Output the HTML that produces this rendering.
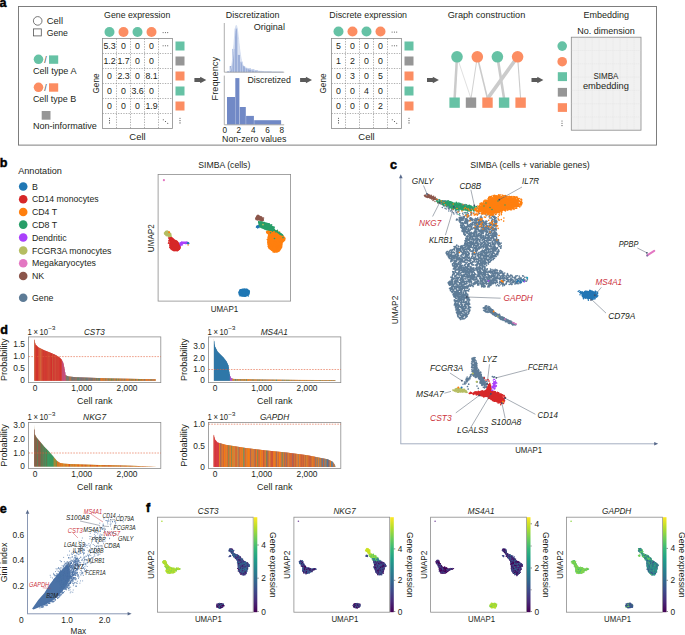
<!DOCTYPE html>
<html><head><meta charset="utf-8"><style>
html,body{margin:0;padding:0;background:#fff;overflow:hidden}
svg{display:block}
text{font-family:"Liberation Sans",sans-serif}
</style></head><body>
<svg width="685" height="635" viewBox="0 0 685 635">
<text x="-0.60" y="6.60" font-size="12.6" fill="#000" font-weight="bold" stroke="#000" stroke-width="0.45">a</text>
<rect x="18.50" y="6.50" width="638.00" height="138.60" fill="none" stroke="#707070" stroke-width="0.9"/>
<circle cx="37.70" cy="20.90" r="4.30" fill="none" stroke="#555" stroke-width="0.8"/>
<text x="46.70" y="23.90" font-size="8.8" fill="#231f20" textLength="16.30" lengthAdjust="spacingAndGlyphs">Cell</text>
<rect x="33.50" y="28.90" width="7.80" height="7.00" fill="none" stroke="#555" stroke-width="0.8"/>
<text x="46.70" y="35.60" font-size="8.8" fill="#231f20" textLength="21.20" lengthAdjust="spacingAndGlyphs">Gene</text>
<circle cx="38.50" cy="59.30" r="4.80" fill="#66c2a5"/>
<text x="44.30" y="62.80" font-size="8.8" fill="#444">/</text>
<rect x="49.00" y="55.40" width="9.20" height="8.40" fill="#66c2a5"/>
<text x="32.90" y="74.20" font-size="8.8" fill="#231f20" textLength="43.60" lengthAdjust="spacingAndGlyphs">Cell type A</text>
<circle cx="38.50" cy="87.30" r="4.80" fill="#fc8d62"/>
<text x="44.30" y="90.80" font-size="8.8" fill="#444">/</text>
<rect x="49.00" y="83.30" width="9.20" height="8.40" fill="#fc8d62"/>
<text x="32.90" y="101.70" font-size="8.8" fill="#231f20" textLength="43.40" lengthAdjust="spacingAndGlyphs">Cell type B</text>
<rect x="41.70" y="111.00" width="8.80" height="8.70" fill="#969696"/>
<text x="32.90" y="128.50" font-size="8.8" fill="#231f20" textLength="64.00" lengthAdjust="spacingAndGlyphs">Non-informative</text>
<text x="104.10" y="17.80" font-size="8.8" fill="#231f20" textLength="66.20" lengthAdjust="spacingAndGlyphs">Gene expression</text>
<circle cx="109.50" cy="32.00" r="5.00" fill="#66c2a5"/>
<circle cx="123.50" cy="32.00" r="5.00" fill="#fc8d62"/>
<circle cx="137.50" cy="32.00" r="5.00" fill="#66c2a5"/>
<circle cx="151.50" cy="32.00" r="5.00" fill="#fc8d62"/>
<circle cx="163.10" cy="32.60" r="0.55" fill="#555"/>
<circle cx="165.40" cy="32.60" r="0.55" fill="#555"/>
<circle cx="167.70" cy="32.60" r="0.55" fill="#555"/>
<line x1="116.50" y1="38.50" x2="116.50" y2="128.50" stroke="#7a7a7a" stroke-width="0.6" stroke-dasharray="1.3 1.3"/>
<line x1="130.50" y1="38.50" x2="130.50" y2="128.50" stroke="#7a7a7a" stroke-width="0.6" stroke-dasharray="1.3 1.3"/>
<line x1="144.50" y1="38.50" x2="144.50" y2="128.50" stroke="#7a7a7a" stroke-width="0.6" stroke-dasharray="1.3 1.3"/>
<line x1="158.50" y1="38.50" x2="158.50" y2="128.50" stroke="#7a7a7a" stroke-width="0.6" stroke-dasharray="1.3 1.3"/>
<line x1="102.50" y1="53.50" x2="172.50" y2="53.50" stroke="#7a7a7a" stroke-width="0.6" stroke-dasharray="1.3 1.3"/>
<line x1="102.50" y1="68.50" x2="172.50" y2="68.50" stroke="#7a7a7a" stroke-width="0.6" stroke-dasharray="1.3 1.3"/>
<line x1="102.50" y1="83.50" x2="172.50" y2="83.50" stroke="#7a7a7a" stroke-width="0.6" stroke-dasharray="1.3 1.3"/>
<line x1="102.50" y1="98.50" x2="172.50" y2="98.50" stroke="#7a7a7a" stroke-width="0.6" stroke-dasharray="1.3 1.3"/>
<line x1="102.50" y1="113.50" x2="172.50" y2="113.50" stroke="#7a7a7a" stroke-width="0.6" stroke-dasharray="1.3 1.3"/>
<rect x="102.50" y="38.50" width="70.00" height="90.00" fill="none" stroke="#8a8a8a" stroke-width="0.8"/>
<text x="109.50" y="49.30" font-size="8.8" text-anchor="middle" fill="#231f20">5.3</text>
<text x="123.50" y="49.30" font-size="8.8" text-anchor="middle" fill="#231f20">0</text>
<text x="137.50" y="49.30" font-size="8.8" text-anchor="middle" fill="#231f20">0</text>
<text x="151.50" y="49.30" font-size="8.8" text-anchor="middle" fill="#231f20">0</text>
<circle cx="163.10" cy="45.80" r="0.55" fill="#444"/>
<circle cx="165.40" cy="45.80" r="0.55" fill="#444"/>
<circle cx="167.70" cy="45.80" r="0.55" fill="#444"/>
<text x="109.50" y="64.30" font-size="8.8" text-anchor="middle" fill="#231f20">1.2</text>
<text x="123.50" y="64.30" font-size="8.8" text-anchor="middle" fill="#231f20">1.7</text>
<text x="137.50" y="64.30" font-size="8.8" text-anchor="middle" fill="#231f20">0</text>
<text x="151.50" y="64.30" font-size="8.8" text-anchor="middle" fill="#231f20">0</text>
<text x="109.50" y="79.30" font-size="8.8" text-anchor="middle" fill="#231f20">0</text>
<text x="123.50" y="79.30" font-size="8.8" text-anchor="middle" fill="#231f20">2.3</text>
<text x="137.50" y="79.30" font-size="8.8" text-anchor="middle" fill="#231f20">0</text>
<text x="151.50" y="79.30" font-size="8.8" text-anchor="middle" fill="#231f20">8.1</text>
<text x="109.50" y="94.30" font-size="8.8" text-anchor="middle" fill="#231f20">0</text>
<text x="123.50" y="94.30" font-size="8.8" text-anchor="middle" fill="#231f20">0</text>
<text x="137.50" y="94.30" font-size="8.8" text-anchor="middle" fill="#231f20">3.6</text>
<text x="151.50" y="94.30" font-size="8.8" text-anchor="middle" fill="#231f20">0</text>
<text x="109.50" y="109.30" font-size="8.8" text-anchor="middle" fill="#231f20">0</text>
<text x="123.50" y="109.30" font-size="8.8" text-anchor="middle" fill="#231f20">0</text>
<text x="137.50" y="109.30" font-size="8.8" text-anchor="middle" fill="#231f20">0</text>
<text x="151.50" y="109.30" font-size="8.8" text-anchor="middle" fill="#231f20">1.9</text>
<circle cx="109.50" cy="118.30" r="0.55" fill="#444"/>
<circle cx="163.30" cy="119.70" r="0.55" fill="#444"/>
<circle cx="109.50" cy="120.60" r="0.55" fill="#444"/>
<circle cx="165.50" cy="121.50" r="0.55" fill="#444"/>
<circle cx="109.50" cy="122.90" r="0.55" fill="#444"/>
<circle cx="167.70" cy="123.30" r="0.55" fill="#444"/>
<rect x="175.50" y="41.50" width="9.00" height="9.00" fill="#66c2a5"/>
<rect x="175.50" y="56.50" width="9.00" height="9.00" fill="#969696"/>
<rect x="175.50" y="71.50" width="9.00" height="9.00" fill="#fc8d62"/>
<rect x="175.50" y="86.50" width="9.00" height="9.00" fill="#66c2a5"/>
<rect x="175.50" y="101.50" width="9.00" height="9.00" fill="#fc8d62"/>
<circle cx="180.00" cy="118.30" r="0.55" fill="#444"/>
<circle cx="180.00" cy="120.60" r="0.55" fill="#444"/>
<circle cx="180.00" cy="122.90" r="0.55" fill="#444"/>
<text x="98.60" y="83.50" font-size="8.8" text-anchor="middle" fill="#231f20" textLength="20.00" lengthAdjust="spacingAndGlyphs" transform="rotate(-90 98.60 83.50)">Gene</text>
<text x="137.50" y="139.80" font-size="8.8" text-anchor="middle" fill="#231f20" textLength="16.30" lengthAdjust="spacingAndGlyphs">Cell</text>
<text x="329.30" y="17.80" font-size="8.8" fill="#231f20" textLength="77.70" lengthAdjust="spacingAndGlyphs">Discrete expression</text>
<circle cx="338.50" cy="31.50" r="5.00" fill="#66c2a5"/>
<circle cx="352.50" cy="31.50" r="5.00" fill="#fc8d62"/>
<circle cx="366.50" cy="31.50" r="5.00" fill="#66c2a5"/>
<circle cx="380.50" cy="31.50" r="5.00" fill="#fc8d62"/>
<circle cx="392.10" cy="32.10" r="0.55" fill="#555"/>
<circle cx="394.40" cy="32.10" r="0.55" fill="#555"/>
<circle cx="396.70" cy="32.10" r="0.55" fill="#555"/>
<line x1="345.50" y1="38.50" x2="345.50" y2="128.50" stroke="#7a7a7a" stroke-width="0.6" stroke-dasharray="1.3 1.3"/>
<line x1="359.50" y1="38.50" x2="359.50" y2="128.50" stroke="#7a7a7a" stroke-width="0.6" stroke-dasharray="1.3 1.3"/>
<line x1="373.50" y1="38.50" x2="373.50" y2="128.50" stroke="#7a7a7a" stroke-width="0.6" stroke-dasharray="1.3 1.3"/>
<line x1="387.50" y1="38.50" x2="387.50" y2="128.50" stroke="#7a7a7a" stroke-width="0.6" stroke-dasharray="1.3 1.3"/>
<line x1="331.50" y1="53.50" x2="401.50" y2="53.50" stroke="#7a7a7a" stroke-width="0.6" stroke-dasharray="1.3 1.3"/>
<line x1="331.50" y1="68.50" x2="401.50" y2="68.50" stroke="#7a7a7a" stroke-width="0.6" stroke-dasharray="1.3 1.3"/>
<line x1="331.50" y1="83.50" x2="401.50" y2="83.50" stroke="#7a7a7a" stroke-width="0.6" stroke-dasharray="1.3 1.3"/>
<line x1="331.50" y1="98.50" x2="401.50" y2="98.50" stroke="#7a7a7a" stroke-width="0.6" stroke-dasharray="1.3 1.3"/>
<line x1="331.50" y1="113.50" x2="401.50" y2="113.50" stroke="#7a7a7a" stroke-width="0.6" stroke-dasharray="1.3 1.3"/>
<rect x="331.50" y="38.50" width="70.00" height="90.00" fill="none" stroke="#8a8a8a" stroke-width="0.8"/>
<text x="338.50" y="49.30" font-size="8.8" text-anchor="middle" fill="#231f20">5</text>
<text x="352.50" y="49.30" font-size="8.8" text-anchor="middle" fill="#231f20">0</text>
<text x="366.50" y="49.30" font-size="8.8" text-anchor="middle" fill="#231f20">0</text>
<text x="380.50" y="49.30" font-size="8.8" text-anchor="middle" fill="#231f20">0</text>
<circle cx="392.10" cy="45.80" r="0.55" fill="#444"/>
<circle cx="394.40" cy="45.80" r="0.55" fill="#444"/>
<circle cx="396.70" cy="45.80" r="0.55" fill="#444"/>
<text x="338.50" y="64.30" font-size="8.8" text-anchor="middle" fill="#231f20">1</text>
<text x="352.50" y="64.30" font-size="8.8" text-anchor="middle" fill="#231f20">2</text>
<text x="366.50" y="64.30" font-size="8.8" text-anchor="middle" fill="#231f20">0</text>
<text x="380.50" y="64.30" font-size="8.8" text-anchor="middle" fill="#231f20">0</text>
<text x="338.50" y="79.30" font-size="8.8" text-anchor="middle" fill="#231f20">0</text>
<text x="352.50" y="79.30" font-size="8.8" text-anchor="middle" fill="#231f20">3</text>
<text x="366.50" y="79.30" font-size="8.8" text-anchor="middle" fill="#231f20">0</text>
<text x="380.50" y="79.30" font-size="8.8" text-anchor="middle" fill="#231f20">5</text>
<text x="338.50" y="94.30" font-size="8.8" text-anchor="middle" fill="#231f20">0</text>
<text x="352.50" y="94.30" font-size="8.8" text-anchor="middle" fill="#231f20">0</text>
<text x="366.50" y="94.30" font-size="8.8" text-anchor="middle" fill="#231f20">4</text>
<text x="380.50" y="94.30" font-size="8.8" text-anchor="middle" fill="#231f20">0</text>
<text x="338.50" y="109.30" font-size="8.8" text-anchor="middle" fill="#231f20">0</text>
<text x="352.50" y="109.30" font-size="8.8" text-anchor="middle" fill="#231f20">0</text>
<text x="366.50" y="109.30" font-size="8.8" text-anchor="middle" fill="#231f20">0</text>
<text x="380.50" y="109.30" font-size="8.8" text-anchor="middle" fill="#231f20">2</text>
<circle cx="338.50" cy="118.30" r="0.55" fill="#444"/>
<circle cx="392.30" cy="119.70" r="0.55" fill="#444"/>
<circle cx="338.50" cy="120.60" r="0.55" fill="#444"/>
<circle cx="394.50" cy="121.50" r="0.55" fill="#444"/>
<circle cx="338.50" cy="122.90" r="0.55" fill="#444"/>
<circle cx="396.70" cy="123.30" r="0.55" fill="#444"/>
<rect x="404.50" y="41.50" width="9.00" height="9.00" fill="#66c2a5"/>
<rect x="404.50" y="56.50" width="9.00" height="9.00" fill="#969696"/>
<rect x="404.50" y="71.50" width="9.00" height="9.00" fill="#fc8d62"/>
<rect x="404.50" y="86.50" width="9.00" height="9.00" fill="#66c2a5"/>
<rect x="404.50" y="101.50" width="9.00" height="9.00" fill="#fc8d62"/>
<circle cx="409.00" cy="118.30" r="0.55" fill="#444"/>
<circle cx="409.00" cy="120.60" r="0.55" fill="#444"/>
<circle cx="409.00" cy="122.90" r="0.55" fill="#444"/>
<text x="325.80" y="83.50" font-size="8.8" text-anchor="middle" fill="#231f20" textLength="20.00" lengthAdjust="spacingAndGlyphs" transform="rotate(-90 325.80 83.50)">Gene</text>
<text x="366.50" y="139.80" font-size="8.8" text-anchor="middle" fill="#231f20" textLength="16.30" lengthAdjust="spacingAndGlyphs">Cell</text>
<polygon points="194.4,78.0 200.2,78.0 200.2,76.7 206.3,80.0 200.2,83.3 200.2,82.0 194.4,82.0" fill="#5a5a5a"/>
<polygon points="300.1,78.0 305.9,78.0 305.9,76.7 312.0,80.0 305.9,83.3 305.9,82.0 300.1,82.0" fill="#5a5a5a"/>
<polygon points="427.0,78.0 432.8,78.0 432.8,76.7 438.9,80.0 432.8,83.3 432.8,82.0 427.0,82.0" fill="#5a5a5a"/>
<polygon points="531.5,78.0 537.3,78.0 537.3,76.7 543.4,80.0 537.3,83.3 537.3,82.0 531.5,82.0" fill="#5a5a5a"/>
<text x="225.80" y="17.80" font-size="8.8" fill="#231f20" textLength="53.70" lengthAdjust="spacingAndGlyphs">Discretization</text>
<text x="218.00" y="78.70" font-size="8.8" text-anchor="middle" fill="#231f20" textLength="43.40" lengthAdjust="spacingAndGlyphs" transform="rotate(-90 218.00 78.70)">Frequency</text>
<polygon points="226.5,72.2 226.5,72.2 226.9,72.2 227.2,72.2 227.6,72.2 227.9,72.1 228.3,72.1 228.6,72.0 229.0,71.9 229.3,71.6 229.7,71.3 230.1,70.9 230.4,70.3 230.8,69.4 231.1,68.2 231.5,66.7 231.8,64.7 232.2,62.3 232.5,59.4 232.9,56.0 233.3,52.2 233.6,48.1 234.0,43.7 234.3,39.4 234.7,35.3 235.0,31.7 235.4,28.7 235.7,26.5 236.1,25.4 236.4,25.5 236.8,26.6 237.2,28.3 237.5,30.5 237.9,33.2 238.2,36.2 238.6,39.3 238.9,42.6 239.3,45.8 239.6,48.9 240.0,51.7 240.4,54.3 240.7,56.6 241.1,58.6 241.4,60.3 241.8,61.7 242.1,62.9 242.5,63.8 242.8,64.6 243.2,65.2 243.6,65.7 243.9,66.2 244.3,66.5 244.6,66.8 245.0,67.1 245.3,67.3 245.7,67.5 246.0,67.7 246.4,67.9 246.8,68.1 247.1,68.2 247.5,68.4 247.8,68.5 248.2,68.7 248.5,68.8 248.9,68.9 249.2,69.1 249.6,69.2 250.0,69.3 250.3,69.4 250.7,69.5 251.0,69.6 251.4,69.7 251.7,69.8 252.1,69.9 252.4,70.0 252.8,70.1 253.2,70.2 253.5,70.3 253.9,70.3 254.2,70.4 254.6,70.5 254.9,70.5 255.3,70.6 255.6,70.7 256.0,70.7 256.3,70.8 256.7,70.8 257.1,70.9 257.4,70.9 257.8,71.0 258.1,71.0 258.5,71.1 258.8,71.1 259.2,71.2 259.5,71.2 259.9,71.2 260.3,71.3 260.6,71.3 261.0,71.4 261.3,71.4 261.7,71.4 262.0,71.4 262.4,71.5 262.7,71.5 263.1,71.5 263.5,71.6 263.8,71.6 264.2,71.6 264.5,71.6 264.9,71.7 265.2,71.7 265.6,71.7 265.9,71.7 266.3,71.7 266.7,71.7 267.0,71.8 267.4,71.8 267.7,71.8 268.1,71.8 268.4,71.8 268.8,71.8 269.1,71.9 269.5,71.9 269.9,71.9 270.2,71.9 270.6,71.9 270.9,71.9 271.3,71.9 271.6,71.9 272.0,72.0 272.3,72.0 272.7,72.0 273.1,72.0 273.4,72.0 273.8,72.0 274.1,72.0 274.5,72.0 274.8,72.0 275.2,72.0 275.5,72.0 275.9,72.0 276.2,72.0 276.6,72.1 277.0,72.1 277.3,72.1 277.7,72.1 278.0,72.1 278.4,72.1 278.7,72.1 279.1,72.1 279.4,72.1 279.8,72.1 280.2,72.1 280.5,72.1 280.9,72.1 281.2,72.1 281.6,72.1 281.9,72.1 282.3,72.1 282.6,72.1 283.0,72.1 283.0,72.2" fill="#dde4f3"/>
<rect x="227.20" y="71.10" width="2.10" height="1.10" fill="#9cafd9"/>
<rect x="229.70" y="66.00" width="2.20" height="6.20" fill="#9cafd9"/>
<rect x="232.30" y="48.90" width="2.10" height="23.30" fill="#9cafd9"/>
<rect x="234.80" y="28.50" width="2.60" height="43.70" fill="#9cafd9"/>
<rect x="237.80" y="54.90" width="2.20" height="17.30" fill="#9cafd9"/>
<rect x="240.40" y="61.70" width="2.10" height="10.50" fill="#9cafd9"/>
<rect x="242.90" y="66.00" width="2.20" height="6.20" fill="#9cafd9"/>
<rect x="245.50" y="68.10" width="2.10" height="4.10" fill="#9cafd9"/>
<rect x="248.00" y="68.50" width="3.00" height="3.70" fill="#9cafd9"/>
<rect x="251.40" y="69.40" width="3.00" height="2.80" fill="#9cafd9"/>
<rect x="254.80" y="70.20" width="3.00" height="2.00" fill="#9cafd9"/>
<rect x="258.20" y="71.10" width="5.60" height="1.10" fill="#9cafd9"/>
<rect x="264.20" y="71.50" width="7.60" height="0.70" fill="#9cafd9"/>
<rect x="272.20" y="71.80" width="10.60" height="0.40" fill="#9cafd9"/>
<polyline points="226.5,72.2 226.9,72.2 227.2,72.2 227.6,72.2 227.9,72.1 228.3,72.1 228.6,72.0 229.0,71.9 229.3,71.6 229.7,71.3 230.1,70.9 230.4,70.3 230.8,69.4 231.1,68.2 231.5,66.7 231.8,64.7 232.2,62.3 232.5,59.4 232.9,56.0 233.3,52.2 233.6,48.1 234.0,43.7 234.3,39.4 234.7,35.3 235.0,31.7 235.4,28.7 235.7,26.5 236.1,25.4 236.4,25.5 236.8,26.6 237.2,28.3 237.5,30.5 237.9,33.2 238.2,36.2 238.6,39.3 238.9,42.6 239.3,45.8 239.6,48.9 240.0,51.7 240.4,54.3 240.7,56.6 241.1,58.6 241.4,60.3 241.8,61.7 242.1,62.9 242.5,63.8 242.8,64.6 243.2,65.2 243.6,65.7 243.9,66.2 244.3,66.5 244.6,66.8 245.0,67.1 245.3,67.3 245.7,67.5 246.0,67.7 246.4,67.9 246.8,68.1 247.1,68.2 247.5,68.4 247.8,68.5 248.2,68.7 248.5,68.8 248.9,68.9 249.2,69.1 249.6,69.2 250.0,69.3 250.3,69.4 250.7,69.5 251.0,69.6 251.4,69.7 251.7,69.8 252.1,69.9 252.4,70.0 252.8,70.1 253.2,70.2 253.5,70.3 253.9,70.3 254.2,70.4 254.6,70.5 254.9,70.5 255.3,70.6 255.6,70.7 256.0,70.7 256.3,70.8 256.7,70.8 257.1,70.9 257.4,70.9 257.8,71.0 258.1,71.0 258.5,71.1 258.8,71.1 259.2,71.2 259.5,71.2 259.9,71.2 260.3,71.3 260.6,71.3 261.0,71.4 261.3,71.4 261.7,71.4 262.0,71.4 262.4,71.5 262.7,71.5 263.1,71.5 263.5,71.6 263.8,71.6 264.2,71.6 264.5,71.6 264.9,71.7 265.2,71.7 265.6,71.7 265.9,71.7 266.3,71.7 266.7,71.7 267.0,71.8 267.4,71.8 267.7,71.8 268.1,71.8 268.4,71.8 268.8,71.8 269.1,71.9 269.5,71.9 269.9,71.9 270.2,71.9 270.6,71.9 270.9,71.9 271.3,71.9 271.6,71.9 272.0,72.0 272.3,72.0 272.7,72.0 273.1,72.0 273.4,72.0 273.8,72.0 274.1,72.0 274.5,72.0 274.8,72.0 275.2,72.0 275.5,72.0 275.9,72.0 276.2,72.0 276.6,72.1 277.0,72.1 277.3,72.1 277.7,72.1 278.0,72.1 278.4,72.1 278.7,72.1 279.1,72.1 279.4,72.1 279.8,72.1 280.2,72.1 280.5,72.1 280.9,72.1 281.2,72.1 281.6,72.1 281.9,72.1 282.3,72.1 282.6,72.1 283.0,72.1" fill="none" stroke="#d3dcf0" stroke-width="0.9"/>
<line x1="224.30" y1="23.00" x2="224.30" y2="72.20" stroke="#9a9a9a" stroke-width="0.8"/>
<line x1="224.30" y1="72.20" x2="284.20" y2="72.20" stroke="#9a9a9a" stroke-width="0.8"/>
<text x="284.90" y="30.30" font-size="8.8" text-anchor="end" fill="#231f20" textLength="31.20" lengthAdjust="spacingAndGlyphs">Original</text>
<rect x="227.00" y="97.00" width="8.10" height="27.60" fill="#7189c6"/>
<rect x="235.30" y="78.10" width="4.10" height="46.50" fill="#7189c6"/>
<rect x="239.70" y="107.00" width="6.10" height="17.60" fill="#7189c6"/>
<rect x="246.10" y="115.90" width="7.80" height="8.70" fill="#7189c6"/>
<rect x="254.20" y="120.20" width="26.90" height="4.40" fill="#7189c6"/>
<line x1="224.30" y1="75.60" x2="224.30" y2="124.80" stroke="#9a9a9a" stroke-width="0.8"/>
<line x1="224.30" y1="124.80" x2="284.20" y2="124.80" stroke="#9a9a9a" stroke-width="0.8"/>
<text x="290.90" y="82.70" font-size="8.8" text-anchor="end" fill="#231f20" textLength="43.50" lengthAdjust="spacingAndGlyphs">Discretized</text>
<text x="224.90" y="132.90" font-size="8.2" text-anchor="middle" fill="#231f20">0</text>
<text x="238.90" y="132.90" font-size="8.2" text-anchor="middle" fill="#231f20">2</text>
<text x="253.40" y="132.90" font-size="8.2" text-anchor="middle" fill="#231f20">4</text>
<text x="267.60" y="132.90" font-size="8.2" text-anchor="middle" fill="#231f20">6</text>
<text x="281.80" y="132.90" font-size="8.2" text-anchor="middle" fill="#231f20">8</text>
<text x="222.00" y="141.50" font-size="8.8" fill="#231f20" textLength="64.30" lengthAdjust="spacingAndGlyphs">Non-zero values</text>
<text x="447.70" y="17.80" font-size="8.8" fill="#231f20" textLength="77.60" lengthAdjust="spacingAndGlyphs">Graph construction</text>
<line x1="457.00" y1="56.80" x2="454.60" y2="98.60" stroke="#cbcbcb" stroke-width="2.5"/>
<line x1="457.00" y1="56.80" x2="471.00" y2="98.60" stroke="#cbcbcb" stroke-width="0.6"/>
<line x1="477.30" y1="56.80" x2="471.00" y2="98.60" stroke="#cbcbcb" stroke-width="0.9"/>
<line x1="477.30" y1="56.80" x2="487.50" y2="98.60" stroke="#cbcbcb" stroke-width="1.6"/>
<line x1="497.40" y1="56.80" x2="504.10" y2="98.60" stroke="#cbcbcb" stroke-width="2.6"/>
<line x1="517.60" y1="56.80" x2="487.50" y2="98.60" stroke="#cbcbcb" stroke-width="3.6"/>
<line x1="517.60" y1="56.80" x2="520.60" y2="98.60" stroke="#cbcbcb" stroke-width="1.1"/>
<circle cx="457.00" cy="56.80" r="5.80" fill="#66c2a5"/>
<circle cx="477.30" cy="56.80" r="5.80" fill="#fc8d62"/>
<circle cx="497.40" cy="56.80" r="5.80" fill="#66c2a5"/>
<circle cx="517.60" cy="56.80" r="5.80" fill="#fc8d62"/>
<rect x="449.40" y="97.50" width="10.40" height="10.30" fill="#66c2a5"/>
<rect x="465.80" y="97.50" width="10.40" height="10.30" fill="#969696"/>
<rect x="482.30" y="97.50" width="10.40" height="10.30" fill="#fc8d62"/>
<rect x="498.90" y="97.50" width="10.40" height="10.30" fill="#66c2a5"/>
<rect x="515.40" y="97.50" width="10.40" height="10.30" fill="#fc8d62"/>
<text x="583.40" y="17.80" font-size="8.8" fill="#231f20" textLength="45.60" lengthAdjust="spacingAndGlyphs">Embedding</text>
<text x="577.20" y="34.30" font-size="8.8" fill="#231f20" textLength="57.60" lengthAdjust="spacingAndGlyphs">No. dimension</text>
<rect x="571.30" y="37.20" width="69.70" height="93.00" fill="#f1f1f1" stroke="#8a8a8a" stroke-width="0.8"/>
<line x1="578.27" y1="37.60" x2="578.27" y2="129.80" stroke="#dcdcdc" stroke-width="0.4" stroke-dasharray="1 1"/>
<line x1="585.24" y1="37.60" x2="585.24" y2="129.80" stroke="#dcdcdc" stroke-width="0.4" stroke-dasharray="1 1"/>
<line x1="592.21" y1="37.60" x2="592.21" y2="129.80" stroke="#dcdcdc" stroke-width="0.4" stroke-dasharray="1 1"/>
<line x1="599.18" y1="37.60" x2="599.18" y2="129.80" stroke="#dcdcdc" stroke-width="0.4" stroke-dasharray="1 1"/>
<line x1="606.15" y1="37.60" x2="606.15" y2="129.80" stroke="#dcdcdc" stroke-width="0.4" stroke-dasharray="1 1"/>
<line x1="613.12" y1="37.60" x2="613.12" y2="129.80" stroke="#dcdcdc" stroke-width="0.4" stroke-dasharray="1 1"/>
<line x1="620.09" y1="37.60" x2="620.09" y2="129.80" stroke="#dcdcdc" stroke-width="0.4" stroke-dasharray="1 1"/>
<line x1="627.06" y1="37.60" x2="627.06" y2="129.80" stroke="#dcdcdc" stroke-width="0.4" stroke-dasharray="1 1"/>
<line x1="634.03" y1="37.60" x2="634.03" y2="129.80" stroke="#dcdcdc" stroke-width="0.4" stroke-dasharray="1 1"/>
<line x1="571.70" y1="50.49" x2="640.60" y2="50.49" stroke="#dcdcdc" stroke-width="0.4" stroke-dasharray="1 1"/>
<line x1="571.70" y1="63.77" x2="640.60" y2="63.77" stroke="#dcdcdc" stroke-width="0.4" stroke-dasharray="1 1"/>
<line x1="571.70" y1="77.06" x2="640.60" y2="77.06" stroke="#dcdcdc" stroke-width="0.4" stroke-dasharray="1 1"/>
<line x1="571.70" y1="90.34" x2="640.60" y2="90.34" stroke="#dcdcdc" stroke-width="0.4" stroke-dasharray="1 1"/>
<line x1="571.70" y1="103.63" x2="640.60" y2="103.63" stroke="#dcdcdc" stroke-width="0.4" stroke-dasharray="1 1"/>
<line x1="571.70" y1="116.91" x2="640.60" y2="116.91" stroke="#dcdcdc" stroke-width="0.4" stroke-dasharray="1 1"/>
<text x="605.90" y="78.80" font-size="8.8" text-anchor="middle" fill="#231f20" textLength="25.00" lengthAdjust="spacingAndGlyphs">SIMBA</text>
<text x="605.90" y="89.30" font-size="8.8" text-anchor="middle" fill="#231f20" textLength="46.00" lengthAdjust="spacingAndGlyphs">embedding</text>
<circle cx="562.20" cy="46.10" r="4.80" fill="#66c2a5"/>
<circle cx="562.20" cy="61.70" r="4.80" fill="#fc8d62"/>
<rect x="557.80" y="72.20" width="9.20" height="8.90" fill="#66c2a5"/>
<rect x="557.80" y="87.90" width="9.20" height="8.70" fill="#969696"/>
<rect x="557.80" y="103.20" width="9.20" height="8.70" fill="#fc8d62"/>
<circle cx="562.00" cy="121.00" r="0.55" fill="#444"/>
<circle cx="562.00" cy="123.30" r="0.55" fill="#444"/>
<circle cx="562.00" cy="125.60" r="0.55" fill="#444"/>
<text x="-0.30" y="166.70" font-size="12.6" fill="#000" font-weight="bold" stroke="#000" stroke-width="0.45">b</text>
<text x="18.20" y="173.70" font-size="8.8" fill="#231f20" textLength="43.70" lengthAdjust="spacingAndGlyphs">Annotation</text>
<circle cx="23.20" cy="186.50" r="4.30" fill="#1f77b4"/>
<text x="31.90" y="189.70" font-size="8.8" fill="#231f20">B</text>
<circle cx="23.20" cy="199.20" r="4.30" fill="#d62728"/>
<text x="31.90" y="202.40" font-size="8.8" fill="#231f20" textLength="66.80" lengthAdjust="spacingAndGlyphs">CD14 monocytes</text>
<circle cx="23.20" cy="212.00" r="4.30" fill="#ff7f0e"/>
<text x="31.90" y="215.20" font-size="8.8" fill="#231f20">CD4 T</text>
<circle cx="23.20" cy="224.60" r="4.30" fill="#279e68"/>
<text x="31.90" y="227.80" font-size="8.8" fill="#231f20">CD8 T</text>
<circle cx="23.20" cy="237.50" r="4.30" fill="#aa40fc"/>
<text x="31.90" y="240.70" font-size="8.8" fill="#231f20">Dendritic</text>
<circle cx="23.20" cy="250.50" r="4.30" fill="#b5bd61"/>
<text x="31.90" y="253.70" font-size="8.8" fill="#231f20" textLength="79.60" lengthAdjust="spacingAndGlyphs">FCGR3A monocytes</text>
<circle cx="23.20" cy="263.20" r="4.30" fill="#e377c2"/>
<text x="31.90" y="266.40" font-size="8.8" fill="#231f20">Megakaryocytes</text>
<circle cx="23.20" cy="276.00" r="4.30" fill="#8c564b"/>
<text x="31.90" y="279.20" font-size="8.8" fill="#231f20">NK</text>
<circle cx="23.20" cy="297.70" r="4.30" fill="#5d7b96"/>
<text x="31.90" y="300.90" font-size="8.8" fill="#231f20">Gene</text>
<rect x="158.10" y="174.40" width="132.50" height="126.70" fill="none" stroke="#8c8c8c" stroke-width="0.8"/>
<text x="224.30" y="167.60" font-size="8.8" text-anchor="middle" fill="#231f20" textLength="52.10" lengthAdjust="spacingAndGlyphs">SIMBA (cells)</text>
<text x="153.90" y="238.20" font-size="8.8" text-anchor="middle" fill="#231f20" textLength="28.00" lengthAdjust="spacingAndGlyphs" transform="rotate(-90 153.90 238.20)">UMAP2</text>
<text x="224.40" y="312.30" font-size="8.8" text-anchor="middle" fill="#231f20" textLength="27.50" lengthAdjust="spacingAndGlyphs">UMAP1</text>
<circle cx="163.90" cy="180.20" r="1.10" fill="#e377c2"/>
<polygon points="163.6,233.0 165.5,230.8 167.2,230.3 169.6,231.4 171.0,233.6 171.9,236.3 171.0,238.0 168.8,237.4 166.6,235.8 164.4,234.7" fill="#b5bd61"/>
<path d="M168.8 236.5h0M170.9 237.4h0M170.0 237.1h0M165.3 234.1h0M165.8 232.1h0M170.1 234.1h0M166.3 235.8h0M165.3 234.6h0M165.5 232.5h0M167.6 233.5h0M167.8 231.8h0M170.4 233.7h0M168.7 234.1h0M168.2 233.7h0M167.3 235.5h0M168.8 234.2h0M167.5 233.2h0M165.5 234.8h0M165.2 233.5h0M169.6 234.5h0M170.3 236.9h0M171.3 236.9h0M167.8 231.6h0M170.9 233.9h0M169.3 236.4h0" stroke="#b5bd61" stroke-width="1.4" stroke-linecap="round" fill="none"/>
<circle cx="169.10" cy="232.20" r="1.00" fill="#ff7f0e"/>
<polygon points="167.7,237.4 170.5,236.9 172.7,237.4 174.9,239.6 177.6,241.0 179.3,242.9 180.9,245.7 180.7,248.5 178.7,250.7 175.4,251.2 172.1,250.7 169.9,248.5 169.1,245.7 169.4,242.4 168.8,239.6" fill="#d62728"/>
<path d="M169.8 243.5h0M178.1 249.8h0M171.0 240.9h0M171.5 244.9h0M168.8 240.8h0M175.4 243.9h0M178.8 246.2h0M171.7 244.2h0M177.5 248.1h0M170.3 238.5h0M175.2 250.5h0M176.1 250.3h0M176.3 240.9h0M176.0 243.8h0M178.5 243.8h0M178.0 250.0h0M171.6 237.7h0M177.2 241.5h0M179.1 245.2h0M169.5 240.2h0M176.1 249.6h0M170.5 247.2h0M175.2 248.2h0M179.9 247.7h0M171.9 247.1h0M171.1 249.0h0M173.6 246.5h0M176.0 247.3h0M172.5 239.3h0M178.2 250.1h0M172.7 245.4h0M172.4 241.8h0M174.2 250.5h0M170.6 239.2h0M171.1 244.0h0M172.0 238.5h0M173.9 250.8h0M177.0 248.6h0M175.8 241.3h0M171.7 247.7h0M178.2 246.0h0M168.4 243.2h0M168.8 242.3h0M179.4 249.4h0M171.1 241.8h0M172.4 247.1h0M175.8 244.7h0M169.7 247.6h0M179.5 247.5h0M177.1 251.0h0" stroke="#d62728" stroke-width="1.4" stroke-linecap="round" fill="none"/>
<polygon points="179.3,242.4 182.0,241.6 186.5,241.6 188.7,242.4 188.7,243.8 186.5,244.0 183.2,244.0 181.5,245.7 180.1,245.7 179.3,244.0" fill="#aa40fc"/>
<path d="M180.6 245.8h0M180.9 244.7h0M181.8 242.3h0M187.6 243.2h0M181.9 243.2h0M185.6 243.3h0M187.6 242.1h0M182.7 242.7h0M187.7 242.9h0M181.6 243.0h0M181.5 242.2h0M186.7 242.3h0M185.9 243.8h0M181.1 243.2h0M182.5 244.9h0" stroke="#aa40fc" stroke-width="1.4" stroke-linecap="round" fill="none"/>
<circle cx="188.10" cy="243.20" r="1.30" fill="#1f77b4"/>
<circle cx="188.10" cy="245.00" r="0.70" fill="#ff7f0e"/>
<polygon points="255.4,218.9 256.3,215.4 258.4,214.7 261.0,216.3 263.6,218.0 264.1,220.6 262.3,221.5 258.9,220.6 255.8,220.2" fill="#8c564b"/>
<path d="M257.6 219.8h0M257.9 215.2h0M262.6 220.5h0M258.6 216.5h0M255.8 218.8h0M259.2 218.2h0M259.8 217.0h0M261.3 218.4h0M259.3 219.6h0M255.9 219.1h0M262.3 220.4h0M256.4 217.1h0M262.7 219.8h0M261.7 221.1h0M263.6 217.9h0M261.6 217.0h0M257.2 217.2h0M256.5 218.2h0M258.2 219.6h0M255.8 218.0h0" stroke="#8c564b" stroke-width="1.4" stroke-linecap="round" fill="none"/>
<polygon points="256.3,226.2 257.6,224.9 259.7,225.4 260.2,227.1 258.0,228.0 256.3,227.5" fill="#1f77b4"/>
<path d="M257.7 228.0h0M256.4 227.2h0M256.6 226.6h0M259.1 227.6h0M256.8 226.3h0M258.0 227.4h0M258.7 226.1h0M258.9 225.3h0" stroke="#1f77b4" stroke-width="1.4" stroke-linecap="round" fill="none"/>
<polygon points="265.8,231.4 268.4,229.7 273.6,229.7 276.2,230.6 279.7,232.7 283.1,234.9 285.7,237.9 285.3,240.5 282.7,243.1 282.3,247.5 279.7,251.4 277.1,252.7 272.7,251.8 269.3,249.2 267.5,244.9 267.1,241.4 267.5,237.9 268.0,234.5 266.2,233.2" fill="#ff7f0e"/>
<path d="M277.2 230.8h0M269.3 241.5h0M279.3 235.7h0M269.6 243.3h0M275.7 237.0h0M277.0 231.3h0M274.2 232.0h0M278.4 246.0h0M276.0 251.3h0M274.0 235.3h0M271.8 238.3h0M268.8 246.8h0M276.2 251.7h0M275.3 251.7h0M271.8 249.4h0M271.8 238.1h0M272.6 246.7h0M277.6 232.7h0M283.5 238.4h0M281.3 242.5h0M276.2 241.7h0M273.5 250.9h0M272.4 235.9h0M278.5 238.8h0M268.1 237.1h0M279.7 232.0h0M269.9 243.2h0M268.7 247.6h0M278.8 240.8h0M276.2 230.8h0M269.8 240.7h0M275.9 246.8h0M271.7 245.3h0M268.3 244.8h0M268.1 230.9h0M281.0 234.6h0M269.2 232.2h0M271.3 230.8h0M269.1 233.5h0M277.2 238.9h0M274.5 242.5h0M274.1 245.9h0M279.1 246.6h0M272.0 238.8h0M274.1 231.4h0M275.0 245.6h0M270.3 229.7h0M279.9 247.3h0M272.3 233.6h0M283.5 239.8h0M274.3 241.9h0M276.6 244.2h0M279.8 245.4h0M268.0 239.8h0M268.0 246.6h0M272.5 238.3h0M269.3 235.8h0M269.8 233.3h0M267.2 239.5h0M274.9 236.4h0M277.6 249.1h0M271.6 250.0h0M268.4 237.9h0M281.8 243.9h0M277.2 238.1h0M267.9 242.8h0M277.8 239.1h0M278.7 244.8h0M274.3 252.3h0M273.1 252.0h0M276.6 244.9h0M276.8 244.4h0M280.2 237.8h0M270.5 246.3h0M279.6 241.7h0M274.2 244.3h0M274.1 233.9h0M269.1 248.5h0M278.1 247.9h0M280.7 245.1h0" stroke="#ff7f0e" stroke-width="1.4" stroke-linecap="round" fill="none"/>
<polygon points="258.0,221.0 262.3,221.5 267.5,222.8 271.0,224.5 273.6,226.7 275.3,229.7 279.7,231.9 283.1,234.5 283.6,236.2 280.5,235.3 274.5,231.0 270.1,231.0 265.8,230.1 260.6,228.0 258.9,225.4 258.0,222.8" fill="#279e68"/>
<path d="M263.5 228.3h0M274.1 227.3h0M273.0 226.8h0M263.8 223.5h0M271.7 224.6h0M263.9 222.4h0M268.2 223.8h0M266.3 229.8h0M259.7 225.8h0M269.3 224.8h0M269.2 227.0h0M264.9 229.1h0M274.3 227.3h0M270.5 227.9h0M263.1 226.9h0M277.5 230.2h0M264.4 222.4h0M261.0 227.1h0M260.8 221.7h0M264.8 225.7h0M269.3 223.6h0M271.9 228.2h0M272.8 226.8h0M271.7 226.9h0M267.2 224.1h0M269.6 225.8h0M270.0 226.2h0M263.6 224.3h0M258.6 221.9h0M267.3 228.1h0M275.4 231.9h0M263.7 227.5h0M271.1 225.1h0M267.9 223.6h0M280.3 234.4h0M264.9 228.2h0M263.7 227.2h0M268.7 226.6h0M274.2 229.9h0M280.8 234.0h0" stroke="#279e68" stroke-width="1.4" stroke-linecap="round" fill="none"/>
<circle cx="263.00" cy="224.60" r="0.90" fill="#b5bd61"/>
<circle cx="270.50" cy="232.80" r="0.80" fill="#279e68"/>
<circle cx="272.50" cy="231.20" r="0.80" fill="#279e68"/>
<circle cx="274.50" cy="238.50" r="0.80" fill="#279e68"/>
<circle cx="283.00" cy="237.60" r="0.80" fill="#279e68"/>
<polygon points="238.2,292.6 239.5,289.6 242.5,288.5 246.5,288.6 249.3,290.0 250.0,292.6 249.0,295.5 245.5,296.9 241.5,296.8 238.8,295.2" fill="#1f77b4"/>
<path d="M248.5 293.6h0M239.2 291.9h0M247.0 289.3h0M243.5 289.9h0M246.6 295.1h0M241.0 293.9h0M243.7 294.9h0M241.2 291.2h0M244.7 295.7h0M248.9 293.7h0M241.2 292.6h0M248.3 296.1h0M240.7 293.6h0M242.2 294.3h0M245.5 289.6h0M246.1 293.1h0M249.4 291.2h0M240.3 289.6h0M246.9 293.3h0M245.6 290.7h0M243.0 295.6h0M247.3 289.9h0M249.2 291.0h0M239.7 292.8h0M239.8 290.7h0M246.7 290.7h0M242.2 291.8h0M244.8 295.0h0M244.3 289.1h0M240.0 295.9h0" stroke="#1f77b4" stroke-width="1.4" stroke-linecap="round" fill="none"/>
<text x="389.90" y="168.80" font-size="12.6" fill="#000" font-weight="bold" stroke="#000" stroke-width="0.45">c</text>
<text x="470.20" y="168.20" font-size="8.8" fill="#231f20" textLength="119.60" lengthAdjust="spacingAndGlyphs">SIMBA (cells + variable genes)</text>
<line x1="400.80" y1="443.80" x2="400.80" y2="177.50" stroke="#9aa6ba" stroke-width="0.9"/>
<polygon points="400.8,174.3 402.6,178.3 399.0,178.3" fill="#56688a"/>
<line x1="400.40" y1="443.80" x2="655.00" y2="443.80" stroke="#9aa6ba" stroke-width="0.9"/>
<polygon points="658.2,443.8 654.2,442.0 654.2,445.6" fill="#56688a"/>
<text x="397.60" y="310.00" font-size="8.8" text-anchor="middle" fill="#231f20" textLength="28.50" lengthAdjust="spacingAndGlyphs" transform="rotate(-90 397.60 310.00)">UMAP2</text>
<text x="515.20" y="453.40" font-size="8.8" fill="#231f20" textLength="27.00" lengthAdjust="spacingAndGlyphs">UMAP1</text>
<path d="M492.1 221.8h0M459.0 297.4h0M478.5 247.5h0M465.2 254.6h0M488.6 255.8h0M473.1 277.9h0M466.5 293.5h0M451.2 289.4h0M481.6 221.0h0M466.3 256.0h0M462.1 318.3h0M494.6 221.9h0M475.8 283.3h0M466.0 284.0h0M496.3 225.5h0M454.1 296.7h0M461.0 290.0h0M456.2 264.4h0M463.6 252.2h0M490.0 257.8h0M473.5 234.0h0M480.2 263.4h0M461.8 267.8h0M494.5 229.4h0M455.3 304.4h0M454.4 299.9h0M473.5 269.2h0M468.3 281.3h0M497.6 251.4h0M457.7 315.4h0M477.1 281.7h0M485.5 280.5h0M466.0 259.3h0M459.6 297.4h0M462.2 225.5h0M459.9 269.3h0M491.4 276.4h0M468.6 230.7h0M479.8 220.9h0M458.4 258.0h0M473.9 240.6h0M495.7 233.1h0M479.0 257.9h0M485.0 286.2h0M461.1 251.4h0M482.3 261.6h0M462.3 265.6h0M451.7 253.9h0M475.8 277.0h0M467.3 294.4h0M456.0 265.3h0M464.5 229.3h0M495.2 225.2h0M485.0 229.0h0M486.4 230.3h0M483.5 232.0h0M488.7 259.2h0M449.5 285.1h0M480.8 242.3h0M459.9 249.4h0M476.2 281.9h0M450.7 281.2h0M450.7 256.7h0M490.5 251.9h0M464.6 271.9h0M466.9 228.1h0M462.4 218.1h0M488.1 252.0h0M461.9 298.3h0M458.3 252.6h0M451.0 282.4h0M457.6 300.6h0M473.8 259.0h0M464.0 311.4h0M486.2 256.0h0M460.5 279.1h0M449.6 282.7h0M472.8 243.3h0M482.0 275.0h0M469.4 276.7h0M489.1 286.8h0M476.5 233.3h0M455.7 303.1h0M493.5 282.1h0M475.9 247.6h0M462.6 285.7h0M453.4 268.9h0M464.9 228.4h0M494.8 239.7h0M483.5 221.2h0M460.5 262.5h0M459.7 270.8h0M489.7 225.3h0M458.4 307.7h0M460.4 287.7h0M471.0 284.2h0M461.0 306.5h0M491.1 224.8h0M486.7 254.5h0M467.6 303.9h0M462.2 310.5h0M462.9 249.6h0M456.3 269.7h0M466.1 273.6h0M470.6 225.5h0M462.5 307.1h0M483.3 229.5h0M467.7 231.6h0M490.0 253.7h0M494.0 244.1h0M458.3 263.9h0M480.0 263.5h0M456.8 257.0h0M479.9 236.1h0M468.7 263.6h0M460.9 279.7h0M495.8 251.0h0M494.7 245.3h0M468.0 312.5h0M462.1 252.3h0M459.0 296.0h0M466.1 238.0h0M467.4 268.3h0M471.7 223.9h0M460.5 283.6h0M460.9 290.9h0M474.9 228.8h0M490.7 285.3h0M455.4 294.0h0M482.4 250.2h0M469.1 282.2h0M490.8 244.6h0M452.6 292.3h0M477.3 239.2h0M454.2 296.0h0M485.5 255.8h0M492.0 257.4h0M491.7 221.4h0M478.6 244.9h0M495.0 249.8h0M468.4 298.9h0M467.2 239.3h0M476.1 238.0h0M455.3 246.5h0M489.2 229.1h0M460.7 282.4h0M491.1 248.0h0M464.7 257.2h0M474.8 235.6h0M456.5 219.9h0M468.2 257.3h0M492.4 280.0h0M483.9 227.5h0M460.3 294.4h0M496.6 237.8h0M482.5 223.2h0M486.5 229.1h0M480.3 231.2h0M465.5 297.9h0M473.5 275.9h0M458.2 248.3h0M474.9 282.3h0M467.9 236.6h0M461.5 289.0h0M482.2 275.4h0M491.9 257.2h0M480.6 271.3h0M484.1 241.7h0M480.5 277.3h0M497.8 240.9h0M457.9 277.3h0M460.2 315.3h0M486.0 221.0h0M491.9 232.9h0M470.2 249.5h0M488.9 279.0h0M446.3 252.4h0M481.6 234.8h0M448.4 254.9h0M481.6 274.1h0M470.5 233.8h0M486.2 249.8h0M459.2 219.8h0M483.9 285.6h0M485.1 256.3h0M460.3 250.0h0M457.0 257.3h0M457.5 253.4h0M474.7 233.6h0M479.2 222.6h0M496.3 256.1h0M471.1 277.4h0M453.5 271.9h0M459.3 221.0h0M481.0 278.0h0M493.1 225.5h0M469.5 233.7h0M457.7 280.7h0M495.1 246.5h0M481.0 247.8h0M482.0 259.4h0M463.4 316.2h0M494.6 248.0h0M490.5 243.1h0M487.7 249.4h0M480.6 258.3h0M461.7 306.5h0M474.9 227.4h0M470.9 266.6h0M469.5 258.0h0M477.4 238.6h0M461.2 313.6h0M483.9 237.8h0M470.0 281.1h0M468.5 280.2h0M456.4 287.8h0M484.1 239.7h0M463.9 300.4h0M471.7 251.3h0M492.9 252.5h0M448.8 284.0h0M467.7 298.0h0M456.2 309.2h0M469.3 234.5h0M474.4 231.7h0M458.0 315.0h0M468.4 260.7h0M458.5 255.6h0M474.8 235.7h0M471.9 264.0h0M480.3 221.4h0M490.4 252.1h0M480.7 263.1h0M482.6 225.0h0M446.6 253.6h0M459.4 273.8h0M457.9 280.8h0M457.9 256.5h0M464.2 250.2h0M470.6 285.7h0M477.1 248.0h0M460.9 267.7h0M487.5 237.7h0M472.7 242.0h0M486.2 262.3h0M464.5 267.9h0M467.2 304.3h0M475.5 254.1h0M463.9 253.2h0M452.4 283.6h0M479.8 275.3h0M479.7 241.6h0M469.0 265.5h0M471.3 275.3h0M496.6 241.2h0M456.3 300.7h0M476.2 222.9h0M464.6 310.2h0M479.4 235.4h0M452.8 284.5h0M475.3 265.0h0M462.2 286.6h0M463.2 276.5h0M483.6 255.4h0M484.4 256.0h0M486.5 277.3h0M477.6 228.9h0M488.5 245.6h0M449.7 281.7h0M457.4 295.3h0M455.9 254.4h0M476.5 264.7h0M460.0 222.2h0M470.7 270.3h0M493.9 248.8h0M483.7 271.6h0M470.9 278.9h0M492.3 224.6h0M483.9 224.8h0M486.2 234.4h0M491.1 284.8h0M486.7 258.7h0M466.5 256.7h0M498.2 239.8h0M468.8 245.2h0M493.5 279.5h0M469.3 247.5h0M464.7 306.1h0M461.2 270.5h0M457.3 312.6h0M470.4 278.9h0M454.8 276.3h0M450.9 252.8h0M484.2 238.2h0M462.8 299.4h0M456.7 259.5h0M459.6 297.7h0M485.7 224.3h0M446.3 253.2h0M483.3 286.3h0M482.0 237.7h0M463.8 218.1h0M464.8 312.8h0M476.9 259.4h0M493.9 225.8h0M482.2 266.1h0M477.8 282.7h0M474.2 245.6h0M455.8 247.0h0M464.0 310.0h0M468.2 299.4h0M494.2 235.7h0M478.8 284.7h0M450.9 258.6h0M484.2 242.5h0M462.1 309.4h0M495.9 224.5h0M473.1 244.4h0M458.2 308.6h0M451.0 254.4h0M481.3 251.3h0M468.9 249.1h0M470.9 218.2h0M493.1 243.5h0M490.1 250.9h0M478.5 224.7h0M449.6 281.4h0M467.4 288.5h0M468.7 252.0h0M460.9 275.2h0M477.5 276.1h0M470.9 277.5h0M486.7 232.6h0M465.0 269.9h0M467.3 220.2h0M483.9 245.0h0M467.8 287.0h0M481.8 285.6h0M476.1 223.3h0M481.1 254.5h0M460.0 306.1h0M454.1 284.2h0M475.6 256.9h0M470.3 241.3h0M467.3 270.9h0M486.4 237.8h0M477.9 242.4h0M481.0 268.6h0M484.7 259.5h0M451.7 286.9h0M471.5 274.2h0M490.4 261.4h0M462.1 284.3h0M469.0 238.6h0M469.8 250.4h0M459.0 263.3h0M463.6 315.9h0M467.7 217.1h0M492.3 236.0h0M457.7 255.0h0M460.2 218.3h0M461.2 272.6h0M477.7 244.3h0M461.3 261.1h0M465.4 264.5h0M456.2 263.5h0M492.1 255.9h0M495.4 232.3h0M485.8 245.7h0M462.1 230.3h0M491.6 283.3h0M477.3 270.6h0M466.7 218.5h0M468.4 286.1h0M466.5 236.5h0M492.9 250.3h0M486.4 244.2h0M468.1 265.9h0M469.4 272.3h0M450.1 254.9h0M470.4 281.9h0M456.6 248.5h0M474.1 236.4h0M494.3 248.0h0M497.2 242.4h0M484.1 246.4h0M479.3 240.7h0M479.0 230.7h0M480.1 257.0h0M472.5 236.1h0M466.1 283.4h0M449.1 253.6h0M467.2 314.8h0M469.6 237.5h0M468.0 297.4h0M476.5 240.4h0M484.3 239.2h0M476.0 223.0h0M485.1 268.2h0M472.9 254.0h0M466.4 243.3h0M466.4 241.0h0M486.5 257.9h0M492.3 248.4h0M497.3 253.3h0M473.3 250.8h0M475.7 222.1h0M455.4 302.6h0M484.4 275.1h0M463.5 308.4h0M460.4 266.2h0M464.2 270.8h0M479.1 254.0h0M451.5 279.3h0M477.9 280.0h0M486.2 245.0h0M473.8 245.8h0M475.4 268.5h0M470.8 281.3h0M456.8 253.8h0M492.5 233.9h0M487.0 239.9h0M459.0 258.8h0M468.5 258.3h0M484.8 238.7h0M479.5 277.0h0M459.2 267.2h0M467.4 235.8h0M466.9 241.2h0M462.7 260.0h0M470.3 245.4h0M467.5 277.6h0M474.8 236.7h0M470.9 218.9h0M472.5 239.8h0M469.6 273.0h0M461.2 293.3h0M455.0 275.3h0M470.8 279.0h0M473.8 284.6h0M468.7 228.5h0M464.1 271.7h0M467.7 287.1h0M476.0 241.5h0M484.7 237.9h0M476.8 236.6h0M470.5 235.1h0M460.8 280.3h0M480.2 265.7h0M480.7 237.1h0M461.6 276.7h0M468.3 305.0h0M477.3 250.4h0M465.3 291.3h0M452.1 277.9h0M487.1 256.6h0M452.8 274.4h0M498.4 243.1h0M459.5 266.4h0M473.0 252.2h0M481.9 230.0h0M463.3 314.1h0M451.4 288.4h0M493.5 224.1h0M470.8 223.8h0M477.8 276.2h0M469.5 268.9h0M465.6 251.8h0M487.4 281.3h0M458.2 308.3h0M488.8 276.0h0M493.8 280.2h0M473.4 235.5h0M457.9 250.9h0M462.6 229.1h0M456.1 259.1h0M499.3 242.5h0M497.3 248.5h0M467.8 237.0h0M486.2 231.7h0M470.6 271.0h0M488.3 285.8h0M463.4 227.8h0M461.3 225.9h0M496.4 223.3h0M466.0 303.4h0M481.8 264.5h0M476.3 248.5h0M464.9 235.2h0M481.0 262.2h0M460.9 265.3h0M491.6 228.2h0M458.1 302.4h0M474.7 277.6h0M454.8 255.1h0M478.5 283.5h0M480.0 224.3h0M447.8 253.4h0M469.0 271.3h0M483.0 274.2h0M471.0 236.9h0M466.8 229.4h0M481.1 280.2h0M470.1 242.4h0M483.6 276.6h0M459.4 250.0h0M460.2 284.0h0M495.6 220.8h0M457.6 279.7h0M467.3 274.3h0M464.4 276.0h0M466.0 297.6h0M498.5 239.9h0M457.4 274.0h0M459.5 250.1h0M461.0 315.6h0M463.2 224.1h0M494.1 231.1h0M458.3 292.3h0M457.9 270.0h0M493.3 259.4h0M458.1 302.4h0M456.4 278.2h0M459.6 299.3h0M469.3 284.1h0M474.1 253.3h0M481.7 278.3h0M455.7 302.1h0M451.4 281.8h0M461.1 263.6h0M467.0 283.6h0M453.1 257.4h0M483.8 286.9h0M491.1 258.3h0M483.0 238.1h0M467.2 304.7h0M468.7 245.2h0M462.8 282.2h0M491.8 226.8h0M473.6 232.9h0M484.8 240.4h0M460.6 283.7h0M459.4 258.9h0M458.0 316.4h0M492.0 236.6h0M492.3 276.2h0M470.8 236.2h0M483.0 286.2h0M493.3 251.8h0M481.3 254.8h0M497.2 243.7h0M486.8 223.5h0M478.2 222.2h0M452.4 257.9h0M466.1 287.9h0M455.2 280.4h0M471.7 227.9h0M484.3 279.4h0M496.1 240.3h0M455.5 306.3h0M475.1 239.6h0M479.4 273.3h0M489.0 252.0h0M481.7 286.7h0M494.8 223.9h0M473.1 286.4h0M481.9 259.5h0M469.9 220.5h0M470.4 270.9h0M464.4 287.6h0M455.7 268.0h0M467.8 308.9h0M471.7 275.8h0M457.0 310.1h0M462.2 225.4h0M472.4 253.6h0M465.6 249.3h0M461.8 291.1h0M483.2 273.5h0M456.9 312.9h0M468.2 242.8h0M486.7 240.9h0M487.8 255.6h0M467.5 257.7h0M476.7 241.0h0M462.6 310.7h0M479.5 267.2h0M462.3 305.2h0M491.8 238.8h0M480.7 283.8h0M469.3 253.5h0M473.7 283.0h0M463.4 231.6h0M471.5 243.3h0M470.1 243.7h0M493.3 233.4h0M468.8 297.6h0M455.7 264.4h0M477.3 282.0h0M458.0 250.7h0M451.0 284.7h0M469.3 263.8h0M473.1 271.0h0M463.1 288.1h0M466.0 222.0h0M454.5 281.3h0M488.5 261.3h0M464.3 290.4h0M487.4 272.6h0M490.5 260.2h0M452.6 284.8h0M489.2 279.8h0M478.0 254.6h0M463.9 233.9h0M455.1 271.2h0M488.5 283.2h0M492.9 228.9h0M451.4 250.0h0M465.8 278.9h0M481.6 230.2h0M466.9 295.9h0M498.8 242.4h0M479.9 272.7h0M478.7 259.3h0M455.8 293.4h0M491.9 282.1h0M458.4 294.1h0M464.2 297.4h0M482.8 275.8h0M484.9 243.0h0M485.2 229.6h0M456.2 286.5h0M486.9 228.0h0M489.1 226.4h0M474.9 284.0h0M482.4 268.9h0M487.3 256.6h0M466.4 253.7h0M495.0 242.2h0M466.1 246.4h0M491.7 283.1h0M473.8 238.8h0M466.5 220.4h0M487.5 235.4h0M481.7 251.0h0M472.4 219.5h0M466.7 298.4h0M474.6 254.6h0M475.4 230.5h0M495.6 254.9h0M461.1 283.4h0M482.3 263.7h0M484.3 271.0h0M496.8 253.0h0M452.6 278.1h0M492.4 222.6h0M460.6 221.1h0M482.9 233.0h0M476.5 242.8h0M488.6 276.3h0M492.1 241.8h0M466.9 231.6h0M473.7 236.6h0M485.9 263.9h0M485.3 226.6h0M468.5 254.3h0M461.2 248.0h0M468.2 248.2h0M486.4 246.6h0M466.1 238.2h0M453.2 278.2h0M485.1 243.2h0M467.6 242.2h0M455.1 288.4h0M465.5 291.7h0M489.2 237.4h0M477.8 225.5h0M480.5 247.9h0M465.7 228.6h0M459.7 249.2h0M457.3 309.1h0M462.0 261.9h0M462.7 297.2h0M453.9 295.4h0M480.6 235.5h0M475.8 243.1h0M476.4 269.9h0M460.9 296.5h0M456.5 312.2h0M465.5 304.0h0M480.7 262.2h0M468.5 273.4h0M459.1 275.3h0M469.2 279.3h0M488.3 227.7h0M494.7 234.1h0M483.3 242.2h0M458.5 306.5h0M452.9 252.5h0M455.3 305.1h0M464.0 270.3h0M494.9 279.7h0M462.6 285.8h0M460.6 296.4h0M454.7 294.3h0M469.1 260.9h0M485.0 271.5h0M480.2 264.6h0M452.4 286.6h0M467.7 226.7h0M468.4 311.0h0M464.6 249.3h0M491.4 251.5h0M461.3 297.6h0M464.0 310.4h0M473.3 234.2h0M460.7 312.5h0M487.7 237.9h0M463.7 230.3h0M469.9 218.7h0M465.8 266.6h0M471.7 226.5h0M493.8 250.7h0M460.8 292.2h0M455.3 293.0h0M490.9 283.4h0M463.3 254.8h0M457.8 281.1h0M485.3 279.4h0M486.1 276.5h0M459.9 282.8h0M472.0 271.0h0M467.6 247.1h0M456.5 261.5h0M491.6 253.8h0M448.4 282.5h0M463.2 224.5h0M463.2 299.0h0M476.6 224.5h0M468.8 249.2h0M495.2 232.4h0M467.9 231.5h0M462.8 317.4h0M489.7 239.7h0M496.3 233.0h0M454.2 267.6h0M456.6 301.5h0M472.1 242.4h0M481.3 253.3h0M481.6 229.8h0M463.7 300.7h0M456.0 283.1h0M492.4 250.7h0M492.3 280.5h0M467.7 294.3h0M477.1 240.2h0M461.4 220.3h0M452.8 271.7h0M494.1 233.0h0M478.5 267.1h0M467.3 244.7h0M478.9 271.0h0M490.9 231.6h0M488.8 243.4h0M473.0 276.7h0M455.7 296.8h0M486.0 270.7h0M493.7 249.8h0M453.6 290.7h0M482.2 243.2h0M493.0 235.4h0M480.6 281.1h0M466.3 314.1h0M449.8 257.1h0M462.8 227.0h0M469.3 249.8h0M464.7 310.3h0M460.4 287.5h0M479.1 249.0h0M462.9 318.6h0M483.9 276.4h0M478.9 257.7h0M457.0 290.8h0M465.6 231.4h0M476.2 259.8h0M481.4 226.8h0M464.9 253.3h0M470.6 275.8h0M481.4 246.7h0M461.7 261.3h0M466.9 255.9h0M462.0 297.7h0M480.3 256.7h0M474.6 273.6h0M469.2 247.9h0M486.6 225.4h0M483.0 270.3h0M464.2 299.0h0M492.1 256.3h0M469.7 247.2h0M468.3 240.2h0M483.3 279.7h0M452.2 292.6h0M474.3 275.4h0M490.2 246.4h0M477.0 245.8h0M452.5 259.6h0M461.6 295.8h0M469.7 237.8h0M494.0 250.2h0M475.2 221.9h0M449.0 255.8h0M465.2 240.6h0M501.1 243.1h0M464.2 274.4h0M482.9 239.6h0M470.7 263.2h0M452.1 260.9h0M462.1 319.0h0M463.2 223.0h0M463.7 284.2h0M464.6 265.6h0M473.9 261.9h0M470.1 226.9h0M498.8 242.6h0M469.1 289.2h0M494.2 234.9h0M485.4 221.8h0M465.7 218.9h0M464.3 308.9h0M471.1 278.6h0M489.0 257.0h0M466.6 276.7h0M485.4 231.7h0M461.3 275.0h0M486.6 249.1h0M469.5 309.8h0M472.8 233.4h0M456.1 267.7h0M456.9 219.0h0M495.3 243.6h0M469.2 279.9h0M454.3 265.6h0M481.2 228.0h0M460.5 312.9h0M459.9 267.2h0M474.2 272.3h0M479.7 254.6h0M471.0 258.3h0M455.0 256.9h0M458.9 301.4h0M480.4 256.2h0M468.7 225.5h0M474.4 260.4h0M485.6 262.3h0M492.8 241.0h0M465.2 284.1h0M486.6 283.7h0M459.9 279.9h0M485.5 270.1h0M456.5 312.2h0M479.0 231.6h0M469.5 242.2h0M456.9 294.1h0M479.1 272.9h0M468.5 234.2h0M472.0 250.9h0M496.5 237.0h0M473.9 270.3h0M466.3 268.7h0M457.4 279.9h0M461.5 267.0h0M465.7 241.7h0M466.3 293.1h0M454.7 293.1h0M496.1 230.1h0M463.8 233.1h0M460.0 290.2h0M455.8 278.8h0M484.5 283.3h0M472.4 229.0h0M463.0 315.4h0M470.3 236.4h0M472.8 279.3h0M465.2 260.3h0M492.8 280.3h0M457.9 310.2h0M465.0 247.5h0M490.9 283.7h0M494.6 240.6h0M478.0 235.5h0M466.5 316.2h0M482.8 243.1h0M459.3 305.8h0M484.4 274.7h0M486.1 274.3h0M467.7 220.0h0M457.1 277.3h0M466.9 301.2h0M476.3 265.6h0M453.7 293.4h0M476.7 279.7h0M483.3 235.8h0M483.3 273.8h0M466.4 298.6h0M483.4 229.4h0M460.2 250.8h0M455.7 247.1h0M454.9 261.8h0M456.7 296.0h0M470.5 220.0h0M493.3 282.6h0M472.0 278.2h0M480.7 262.3h0M450.5 289.9h0M483.9 237.4h0M486.5 252.8h0M461.4 303.7h0M479.6 260.7h0M464.4 304.5h0M460.4 258.4h0M460.5 319.4h0M448.7 256.6h0M455.8 260.5h0M476.2 224.6h0M479.3 268.2h0M481.9 280.8h0M463.1 269.9h0M475.3 239.9h0M479.4 240.6h0M478.3 226.5h0M459.7 219.5h0M465.5 271.5h0M465.5 268.0h0M469.8 280.7h0M460.3 302.4h0M466.0 302.3h0M454.4 300.7h0M464.5 222.8h0M457.0 307.0h0M481.4 225.3h0M451.1 259.8h0M458.6 314.0h0M483.4 279.2h0M463.5 292.2h0M463.9 228.4h0M482.3 267.0h0M468.0 285.9h0M465.5 257.7h0M479.8 266.0h0M460.8 278.4h0M487.8 226.4h0M460.5 268.2h0M456.3 298.2h0M461.3 298.1h0M451.6 256.3h0M492.4 242.7h0M449.8 284.1h0M475.8 250.1h0M489.7 249.2h0M488.2 263.7h0M466.7 310.9h0M478.5 224.4h0M467.1 316.3h0M461.5 300.9h0M459.1 220.8h0M454.0 286.7h0M454.5 252.9h0M478.3 274.6h0M475.8 247.6h0M466.4 259.2h0M463.9 225.3h0M492.5 219.4h0M458.8 292.5h0M478.7 220.0h0M464.4 284.7h0M464.3 252.8h0M464.2 247.5h0M485.3 240.5h0M473.9 279.2h0M487.3 231.0h0M454.3 273.6h0M454.3 258.4h0M467.7 295.2h0M495.5 240.6h0M458.6 249.2h0M459.4 266.8h0M495.5 250.7h0M466.7 287.5h0M457.6 311.6h0M477.5 267.0h0M493.9 252.8h0M480.9 252.6h0M489.0 237.2h0M462.4 299.6h0M496.3 241.3h0M456.8 294.4h0M452.7 282.4h0M464.5 308.4h0M453.5 279.0h0M479.6 246.9h0M470.5 279.4h0M453.7 291.0h0M472.0 251.3h0M480.7 230.2h0M456.8 260.5h0M454.0 273.8h0M460.2 280.2h0M479.1 230.7h0M474.4 231.4h0M457.0 286.1h0M454.0 289.1h0M473.9 280.1h0M462.0 279.7h0M471.5 245.0h0M485.0 255.0h0M463.9 281.4h0M483.6 230.5h0M477.0 234.0h0M478.1 255.3h0M458.9 258.6h0M462.9 224.1h0M474.6 220.3h0M470.6 218.6h0M486.1 254.9h0M457.6 314.5h0M496.4 249.4h0M457.9 258.5h0M462.2 289.2h0M462.9 310.7h0M480.2 255.3h0M460.5 286.8h0M479.5 276.9h0M488.2 283.5h0M469.3 284.9h0M467.3 223.9h0M462.1 270.2h0M459.1 292.9h0M459.4 269.8h0M472.2 264.8h0M462.4 260.6h0M454.6 256.7h0M452.7 279.3h0M463.0 316.0h0M489.0 280.8h0M455.4 255.2h0M475.6 254.6h0M476.4 222.9h0M448.2 253.1h0M476.9 253.3h0M470.1 267.3h0M469.0 235.8h0M476.6 238.7h0M483.6 244.9h0M460.7 311.4h0M453.8 257.0h0M460.7 290.5h0M484.9 266.7h0M485.3 247.2h0M480.9 254.8h0M467.6 231.6h0M472.2 225.1h0M460.4 256.0h0M463.6 274.8h0M495.0 255.0h0M472.8 255.0h0M466.6 290.7h0M461.3 217.5h0M480.0 273.3h0M461.2 217.5h0M478.8 258.0h0M463.0 245.5h0M485.4 254.4h0M497.2 242.5h0M492.2 257.2h0M478.6 259.8h0M460.4 290.2h0M457.2 219.6h0M459.4 298.5h0M458.3 246.4h0M483.6 224.1h0M459.9 298.7h0M469.5 243.7h0M457.0 256.1h0M458.3 290.4h0M477.5 245.6h0M473.0 274.8h0M495.7 229.5h0M494.5 258.1h0M465.5 293.1h0M485.1 260.7h0M469.0 240.2h0M473.1 283.7h0M477.2 246.1h0M491.1 281.0h0M466.0 307.6h0M472.8 254.5h0M453.1 294.7h0M476.6 265.0h0M485.4 272.6h0M488.0 229.0h0M458.7 272.6h0M470.7 271.8h0M462.5 309.9h0M468.4 253.1h0M466.2 232.8h0M457.1 274.5h0M461.5 291.4h0M493.5 237.2h0M468.0 242.5h0M481.3 238.7h0M451.6 257.3h0M487.9 279.6h0M473.5 246.9h0M496.1 249.2h0M473.6 279.3h0M458.7 274.5h0M466.2 258.8h0M472.3 222.6h0M473.2 271.1h0M457.3 308.3h0M470.0 243.2h0M496.6 238.7h0M457.8 287.1h0M461.8 265.8h0M448.7 255.7h0M494.5 225.2h0M479.9 239.7h0M475.9 246.5h0M462.6 295.7h0M466.1 302.2h0M454.6 281.8h0M459.2 317.4h0M468.3 306.2h0M467.2 277.7h0M484.3 228.1h0M458.8 293.3h0M492.1 255.5h0M463.1 250.3h0M467.1 262.4h0M486.1 227.2h0M471.1 228.4h0M484.3 258.6h0M455.0 276.9h0M472.3 237.1h0M454.4 278.6h0M495.2 250.1h0M464.9 270.6h0M473.2 274.7h0M485.1 286.6h0M493.8 247.1h0M484.5 244.7h0M474.0 259.7h0M461.6 254.9h0M468.3 220.8h0M458.5 246.4h0M475.2 281.8h0M491.8 281.3h0M469.0 264.2h0M468.4 285.9h0M451.6 251.6h0M461.2 298.8h0M488.6 226.0h0M472.3 219.5h0M483.3 226.7h0M459.0 306.7h0M487.7 281.2h0M463.7 314.4h0M495.2 255.1h0M458.5 278.0h0M470.6 246.2h0M470.0 238.5h0M467.0 260.5h0M449.1 252.4h0M497.3 243.5h0M491.4 257.0h0M455.0 297.3h0M460.1 312.8h0M493.1 237.6h0M464.0 267.6h0M452.6 264.9h0M468.7 225.2h0M493.5 243.0h0M470.6 262.3h0M465.8 238.6h0M454.4 283.4h0M493.0 230.3h0M462.0 226.6h0M460.8 265.1h0M459.5 219.7h0M456.5 284.1h0M490.7 245.6h0M466.9 281.9h0M491.6 246.4h0M461.9 311.4h0M478.2 227.1h0M476.3 245.3h0M465.3 272.7h0M455.8 300.4h0M471.3 241.3h0M468.8 272.1h0M460.6 287.2h0M473.3 249.2h0M459.5 277.2h0M464.7 288.9h0M477.7 281.2h0M472.5 261.6h0M463.0 310.3h0M462.1 281.5h0M456.3 251.1h0M469.4 230.9h0M465.3 306.3h0M463.2 293.4h0M478.5 274.7h0M458.2 251.8h0M482.8 227.5h0M467.6 287.0h0M476.9 242.4h0M468.4 268.9h0M485.7 222.5h0M501.2 245.8h0M462.4 281.7h0M460.9 304.2h0M452.5 292.3h0M462.8 246.1h0M463.5 258.1h0M455.7 269.0h0M460.5 315.6h0M471.2 229.1h0M456.2 256.4h0M462.2 318.6h0M456.2 291.7h0M480.5 218.7h0M480.8 226.5h0M456.1 300.3h0M476.9 259.6h0M472.0 270.0h0M458.9 271.4h0M478.0 248.6h0M494.4 229.0h0M464.2 258.6h0M456.6 280.6h0M471.7 285.2h0M482.4 261.7h0M469.5 239.3h0M486.8 249.3h0M470.5 229.4h0M462.2 260.5h0M452.7 279.2h0M463.5 271.1h0M465.7 256.1h0M460.6 219.8h0M477.3 264.9h0M482.7 284.2h0M454.9 264.1h0M460.7 283.0h0M488.6 286.0h0M464.4 261.7h0M496.2 236.3h0M459.0 313.9h0M463.1 302.7h0M485.9 256.2h0M495.8 256.5h0M461.7 294.9h0M475.8 245.5h0M468.8 301.7h0M484.0 251.8h0M458.1 303.7h0M493.5 228.3h0M455.9 254.6h0M463.4 311.8h0M471.6 242.8h0M480.6 277.3h0M499.2 243.2h0M468.2 286.7h0M462.6 296.5h0M451.0 260.6h0M485.4 242.8h0M467.7 267.2h0M477.0 245.5h0M485.3 274.3h0M465.4 234.5h0M479.4 260.3h0M484.9 250.8h0M467.5 272.5h0M494.6 220.0h0M465.7 227.6h0M448.7 253.7h0M471.4 282.5h0M467.1 251.8h0M494.4 255.4h0M476.9 236.7h0M486.2 250.4h0M468.4 272.6h0M466.8 222.5h0M481.9 283.9h0M468.5 304.3h0M476.6 219.2h0M488.2 255.9h0M478.8 281.4h0M464.3 257.9h0M467.6 264.7h0M488.3 228.2h0M481.7 272.4h0M495.7 249.5h0M466.0 313.9h0M472.9 243.5h0M465.3 283.9h0M463.3 253.0h0M484.5 269.4h0M466.2 296.2h0M491.7 259.8h0M497.4 247.5h0M488.8 286.4h0M462.1 257.4h0M451.7 291.5h0M458.7 309.5h0M458.9 311.5h0M490.2 229.6h0M493.8 280.9h0M484.0 250.5h0M494.3 250.9h0M491.1 231.6h0M465.6 286.7h0M478.9 247.7h0M490.3 243.2h0M462.5 228.6h0M488.2 234.8h0M461.7 268.9h0M459.3 248.5h0M455.3 272.3h0M465.2 304.9h0M450.7 284.3h0M471.0 266.9h0M496.2 229.2h0M468.9 231.6h0M452.8 289.6h0M461.4 284.9h0M484.6 260.5h0M468.9 230.0h0M477.9 243.4h0M488.4 262.3h0M462.1 254.6h0M481.0 259.9h0M460.3 265.2h0M471.9 228.5h0M454.7 287.2h0M467.4 236.2h0M466.3 312.9h0M467.2 296.7h0M468.8 254.3h0M456.0 258.4h0M489.7 223.4h0M470.3 246.3h0M461.8 290.5h0M460.4 249.1h0M470.9 260.2h0M470.0 241.4h0M462.2 318.0h0M492.1 253.2h0M458.4 309.9h0M464.6 302.5h0M448.9 252.2h0M475.6 250.9h0M468.1 290.5h0M480.9 259.3h0M464.7 245.3h0M458.0 299.0h0M460.8 251.0h0M470.4 269.2h0M476.2 249.3h0M475.6 231.2h0M466.0 308.7h0M482.9 251.4h0M468.4 268.7h0M465.7 223.3h0M448.0 254.9h0M457.3 265.9h0M459.4 284.5h0M456.6 247.8h0M455.9 282.7h0M463.2 294.0h0M478.1 261.9h0M463.4 228.8h0M462.6 278.1h0M482.5 263.1h0M487.4 239.0h0M488.3 249.2h0M468.3 286.1h0M455.8 281.4h0M471.8 264.6h0M480.8 245.6h0M488.4 263.9h0M479.6 274.3h0M458.0 294.2h0M469.7 224.8h0M500.0 244.2h0M454.2 287.3h0M491.4 235.1h0M480.7 279.7h0M459.9 269.1h0M464.0 318.8h0M458.8 252.1h0M471.1 234.7h0M482.8 267.4h0M487.8 277.8h0M486.4 254.4h0M465.5 315.8h0M464.6 251.1h0M489.3 236.0h0M468.9 281.6h0M460.6 247.0h0M464.8 274.4h0M485.2 275.4h0M466.5 254.1h0M482.2 255.1h0M470.3 279.6h0M478.8 271.8h0M466.8 243.2h0M494.6 222.1h0M481.0 260.5h0M481.6 258.2h0M495.5 235.4h0M471.3 232.3h0M451.8 259.0h0M487.7 244.8h0M465.6 273.4h0M454.7 281.2h0M469.0 309.1h0M458.3 267.4h0M490.7 255.9h0M458.7 306.1h0M461.5 296.7h0M495.3 222.7h0M472.5 247.6h0M462.2 248.3h0M463.1 229.7h0M482.1 259.0h0M477.3 255.4h0M480.2 256.4h0M477.5 264.7h0M473.8 233.2h0M462.1 309.4h0M485.8 282.9h0M454.2 268.9h0M470.6 237.0h0M485.9 246.6h0M461.9 283.0h0M461.0 250.1h0M465.4 295.4h0M467.3 259.8h0M462.5 278.8h0M457.3 281.9h0M460.4 220.9h0M484.3 222.8h0M467.4 239.2h0M471.0 235.8h0M464.9 260.3h0M471.3 245.7h0M463.2 272.4h0M458.2 309.9h0M496.1 220.0h0M486.0 271.8h0M459.1 263.9h0M487.8 286.8h0M483.8 266.1h0M464.2 301.9h0M484.3 229.1h0M466.1 248.8h0M464.5 294.6h0M452.6 249.8h0M446.3 253.1h0M489.4 246.0h0M469.1 282.1h0M475.3 227.4h0M471.6 272.2h0M476.8 261.7h0M483.7 246.0h0M494.1 244.1h0M478.5 220.7h0M462.6 294.3h0M482.7 222.4h0M490.3 256.8h0M495.9 228.0h0M464.5 276.1h0M456.2 293.1h0M453.8 258.5h0M494.2 233.1h0M461.7 288.1h0M467.3 303.3h0M479.5 233.6h0M469.6 276.1h0M459.0 286.8h0M492.6 282.5h0M484.7 285.6h0M472.9 235.8h0M468.9 270.1h0M460.6 222.7h0M489.7 259.3h0M473.5 222.2h0M481.4 252.8h0M463.6 306.7h0M455.8 292.9h0M486.7 248.2h0M481.0 232.2h0M458.3 273.1h0M486.9 221.3h0M481.5 219.7h0M476.1 253.2h0M453.0 265.9h0M447.0 254.7h0M481.1 252.4h0M471.0 251.3h0M494.0 246.4h0M451.7 286.7h0M467.2 248.9h0M469.4 311.4h0M476.9 278.0h0M480.1 247.5h0M477.6 274.9h0M450.9 261.6h0M478.2 255.2h0M482.6 269.6h0M478.6 248.8h0M478.6 234.3h0M488.2 248.1h0M489.4 285.2h0M484.8 277.6h0M468.6 290.9h0M493.4 236.3h0M472.2 219.0h0M496.1 233.9h0M493.0 251.3h0M451.0 277.2h0M452.7 291.0h0M469.2 269.7h0M476.2 243.2h0M483.0 228.7h0M491.9 237.5h0M464.9 221.2h0M489.1 254.9h0M481.2 221.7h0M474.3 234.7h0M493.0 244.9h0M473.8 275.4h0M482.8 278.8h0M461.8 259.4h0M457.1 284.0h0M464.7 261.5h0M462.4 297.0h0M459.0 304.9h0M469.9 232.9h0M473.4 243.9h0M485.3 272.9h0M480.6 256.4h0M452.7 255.8h0M495.8 221.4h0M479.7 283.0h0M494.8 222.1h0M473.2 276.8h0M498.4 245.1h0M495.9 239.8h0M484.7 253.0h0M476.9 258.6h0M481.4 231.4h0M493.2 257.9h0M454.9 281.0h0M462.8 252.8h0M461.8 305.4h0M490.4 257.0h0M477.7 269.6h0M467.9 303.0h0M491.2 282.1h0M482.8 281.2h0M461.9 259.0h0M455.3 256.2h0M464.5 288.7h0M451.3 259.0h0M469.9 230.6h0M465.8 293.9h0M449.6 288.4h0M471.6 218.3h0M469.1 274.3h0M496.6 221.7h0M468.9 266.2h0M450.5 250.1h0M459.4 282.9h0M464.6 315.4h0M457.7 308.6h0M484.5 253.5h0M454.1 246.6h0M455.0 268.9h0M462.2 231.3h0M454.7 303.8h0M480.5 273.8h0M493.9 255.7h0M490.7 280.3h0M490.7 224.9h0M492.0 275.6h0M467.7 245.2h0M476.1 220.4h0M488.5 229.6h0M488.0 243.7h0M493.7 240.0h0M469.4 271.8h0M478.8 261.2h0M484.7 272.7h0M465.0 240.8h0M464.3 269.7h0M482.4 282.1h0M449.5 251.1h0M447.2 253.5h0M459.7 311.3h0M463.9 231.9h0M456.9 251.6h0M493.6 235.6h0M464.6 286.8h0M461.9 297.5h0M465.9 314.9h0M469.4 270.4h0M450.4 284.7h0M472.9 219.4h0M454.4 304.9h0M468.2 229.8h0M459.9 267.6h0M464.3 275.3h0M493.7 278.2h0M486.3 281.2h0M459.2 313.2h0M488.4 245.6h0M485.5 263.2h0M459.1 264.4h0M457.4 277.9h0M469.4 269.5h0M461.7 317.4h0M464.1 297.7h0M458.1 291.3h0M480.7 245.4h0M494.1 229.2h0M487.8 259.9h0M467.4 286.4h0M481.8 219.4h0M452.7 274.9h0M478.9 257.3h0M485.7 223.7h0M494.3 220.5h0M462.2 261.6h0M475.8 242.0h0M482.2 232.4h0M479.6 230.4h0M456.8 219.9h0M457.9 268.9h0M470.8 245.3h0M487.0 246.6h0M456.8 245.2h0M488.9 242.9h0M465.9 240.1h0M449.3 281.6h0M464.1 232.8h0M462.8 267.8h0M500.9 246.9h0M466.1 256.0h0M496.1 223.0h0M480.1 223.3h0M499.4 246.4h0M481.1 232.5h0M494.2 219.4h0M459.0 305.9h0M484.9 267.4h0M487.4 232.3h0M455.1 288.7h0M499.1 251.1h0M450.5 290.6h0M494.7 253.5h0M492.1 230.9h0M482.5 267.3h0M452.0 286.1h0M458.4 249.4h0M475.5 256.6h0M464.4 268.3h0M469.5 249.2h0M457.6 296.7h0M483.9 257.3h0M462.2 270.0h0M460.9 299.7h0M455.5 291.8h0M468.4 272.3h0M466.1 220.5h0M484.7 256.7h0M493.1 256.3h0M482.2 235.8h0M490.4 227.6h0M464.8 281.4h0M466.0 304.7h0M459.3 272.0h0M497.4 251.8h0M470.5 281.6h0M468.6 275.6h0M484.4 268.9h0M482.0 268.4h0M488.6 237.6h0M496.7 254.1h0M494.4 249.1h0M465.2 307.8h0M474.6 276.9h0M474.5 274.5h0M466.5 281.2h0M474.9 273.6h0M466.6 228.1h0M472.3 276.7h0M464.5 295.0h0M459.8 309.6h0M462.6 265.7h0M473.7 241.6h0M475.6 222.9h0M488.1 276.4h0M493.3 250.1h0M484.0 229.2h0M460.2 288.3h0M464.5 244.9h0M448.7 257.1h0M476.9 231.6h0M469.0 300.2h0M460.7 225.2h0M479.2 221.1h0M478.4 261.9h0M486.0 249.4h0M453.0 274.4h0M468.8 298.2h0M457.8 252.0h0M477.0 245.0h0M493.1 282.4h0M458.6 259.8h0M481.1 237.9h0M476.2 246.9h0M489.4 285.6h0M458.9 285.9h0M475.1 228.8h0M496.7 233.8h0M493.2 247.3h0M448.9 283.8h0M465.0 230.8h0M472.0 244.3h0M467.0 303.2h0M463.5 281.8h0M456.8 263.6h0M453.5 289.9h0M481.7 254.5h0M451.8 280.0h0M453.7 285.5h0M464.4 230.4h0M489.2 277.1h0M471.5 268.6h0M456.5 257.0h0M485.6 275.1h0M475.8 218.7h0M476.9 267.7h0M461.2 223.8h0M469.7 235.3h0M490.6 223.4h0M496.1 241.8h0M497.7 254.7h0M482.9 272.6h0M483.7 222.1h0M483.7 235.6h0M462.9 280.4h0M456.3 261.3h0M454.2 261.2h0M457.5 252.6h0M474.0 258.8h0M463.5 269.6h0M464.1 309.9h0M456.5 265.9h0M447.6 251.5h0M478.6 260.7h0M466.0 270.9h0M472.8 219.9h0M478.5 253.1h0M479.5 270.7h0M495.5 221.1h0M464.5 287.2h0M473.7 272.0h0M449.4 258.4h0M486.6 271.9h0M452.5 275.4h0M482.5 264.5h0M464.1 267.5h0M464.8 231.1h0M456.7 266.5h0M466.1 263.4h0M488.9 284.4h0M483.6 284.3h0M480.5 232.0h0M472.3 256.2h0M456.4 251.7h0M492.3 235.8h0M478.3 236.1h0M481.2 273.0h0M488.2 261.0h0M493.1 227.7h0M461.2 283.6h0M461.6 292.4h0M491.4 238.1h0M454.6 247.0h0M461.7 259.4h0M463.3 267.3h0M477.3 275.2h0M463.2 279.4h0M490.9 237.7h0M461.9 252.1h0M471.5 282.7h0M462.6 315.5h0M473.6 254.0h0M462.4 308.1h0M463.8 223.5h0M454.2 273.8h0M500.8 248.2h0M457.0 305.8h0M469.2 226.7h0M452.0 255.9h0M458.1 295.0h0M479.1 252.3h0M467.0 232.8h0M484.6 263.4h0M482.1 254.2h0M469.4 238.9h0M476.6 278.4h0M465.2 219.0h0M457.2 301.1h0M491.2 281.7h0M494.3 235.0h0M482.8 229.1h0M489.0 284.9h0M481.6 244.4h0M479.3 276.9h0M461.9 277.7h0M471.4 244.8h0M456.6 306.2h0M466.8 220.1h0M483.0 227.0h0M488.7 283.6h0M459.6 318.2h0M468.0 266.4h0M463.4 269.5h0M467.0 267.1h0M466.9 221.2h0M474.7 224.9h0M478.6 268.9h0M465.5 230.4h0M488.2 277.2h0M494.8 276.6h0M459.3 218.8h0M460.1 288.7h0M476.6 220.5h0M467.6 233.1h0M473.1 258.5h0M469.6 299.9h0M461.5 308.1h0M459.5 299.8h0M470.0 261.2h0M469.2 243.5h0M465.9 243.4h0M456.4 257.4h0M471.4 275.1h0M454.1 256.3h0M483.5 251.4h0M467.1 276.8h0M485.7 252.5h0M475.9 236.6h0M474.3 282.8h0M471.3 239.3h0M487.1 225.7h0M466.0 246.9h0M468.6 298.2h0M459.5 287.9h0M484.3 262.0h0M478.1 273.3h0M474.3 225.0h0M484.0 262.6h0M473.7 250.6h0M466.0 270.6h0M493.2 283.4h0M472.3 276.0h0M472.1 262.7h0M491.5 237.2h0M474.3 243.0h0M461.9 281.9h0M485.7 259.0h0M472.2 273.5h0M452.3 288.1h0M455.7 280.4h0M485.6 238.2h0M454.7 291.5h0M488.9 239.2h0M480.7 276.6h0M488.2 236.3h0M472.8 239.9h0M495.3 255.7h0M461.3 290.6h0M475.2 239.1h0M483.1 245.2h0M451.6 256.6h0M447.2 254.7h0M467.3 251.4h0M481.1 244.7h0M495.0 244.2h0M468.6 245.9h0M454.4 264.2h0M482.0 230.5h0M476.1 238.1h0M456.3 281.5h0M476.4 222.1h0M465.1 269.6h0M456.7 274.9h0M490.6 283.1h0M457.2 308.4h0M470.5 307.4h0M496.4 238.8h0M464.4 216.6h0M461.7 228.0h0M475.6 225.3h0M458.4 311.6h0M454.8 267.4h0M460.7 273.3h0M494.5 235.5h0M479.7 272.4h0M450.3 255.8h0M463.1 216.9h0M497.4 240.7h0M480.5 268.1h0M489.0 223.6h0M474.4 231.9h0M460.7 260.9h0M483.1 272.8h0M490.2 280.7h0M467.4 275.2h0M475.0 222.2h0M473.6 277.9h0M465.5 231.7h0M455.7 281.5h0M466.5 296.3h0M481.8 224.1h0M455.3 263.2h0M489.7 282.1h0M484.1 225.3h0M459.5 293.4h0M479.1 243.8h0M455.6 276.5h0M484.6 277.9h0M481.9 258.4h0M477.5 271.0h0M458.6 310.9h0M480.6 230.7h0M490.0 229.7h0M463.4 272.0h0M454.8 269.1h0M464.7 305.4h0M470.7 277.5h0M475.2 279.8h0M484.7 270.7h0M476.5 251.4h0M453.7 285.1h0M488.8 259.3h0M453.5 252.0h0M494.8 249.2h0M464.0 309.7h0M487.3 246.7h0M484.1 272.2h0M451.7 281.1h0M472.0 264.2h0M459.5 261.6h0M473.8 267.8h0M486.1 257.9h0M459.6 317.7h0M462.9 276.9h0M467.2 271.7h0M465.9 252.2h0M476.8 226.4h0M476.2 279.8h0M480.9 251.6h0M468.0 279.7h0M463.0 229.2h0M472.5 268.2h0M458.6 272.5h0M455.6 266.6h0M457.4 313.5h0M470.9 281.9h0M469.1 246.7h0M489.5 257.5h0M476.3 223.5h0M483.6 237.6h0M472.9 268.9h0M463.2 294.6h0M482.4 246.3h0M469.6 273.5h0M486.7 241.4h0M488.3 285.0h0M466.0 254.8h0M480.2 237.6h0M486.2 246.3h0M467.4 300.0h0M492.0 283.3h0M486.5 265.5h0M470.5 271.9h0M467.5 271.9h0M473.6 227.9h0M466.0 317.2h0M484.2 286.1h0M467.5 295.9h0M474.6 219.8h0M465.6 307.5h0M472.3 238.2h0M469.0 308.0h0M455.9 246.3h0M486.6 226.3h0M457.9 290.7h0M464.8 234.1h0M467.6 225.4h0M468.1 249.1h0M464.8 249.4h0M480.8 265.7h0M461.2 300.1h0M471.8 256.9h0M485.9 234.2h0M483.6 263.7h0M474.5 248.2h0M490.4 245.9h0M480.0 222.7h0M477.3 250.2h0M465.3 314.2h0M455.1 303.2h0M466.3 249.7h0M461.9 275.4h0M489.2 231.4h0M474.8 247.6h0M475.5 232.1h0M480.4 219.7h0M453.5 284.6h0M455.3 281.5h0M486.3 281.0h0M457.6 258.4h0M470.0 310.0h0M460.8 251.2h0M458.7 294.4h0M464.2 217.5h0M486.7 244.5h0M498.4 250.6h0M454.3 252.5h0M494.7 218.5h0M479.5 269.4h0M470.0 238.6h0M455.5 307.6h0M471.1 229.0h0M459.2 290.1h0M473.4 250.7h0M451.8 255.5h0M473.7 242.5h0M456.5 305.1h0M482.3 283.7h0M459.8 267.0h0M478.4 275.4h0M478.6 284.9h0M488.4 260.7h0M499.5 244.2h0M474.8 282.1h0M460.5 246.6h0M459.1 260.0h0M491.0 246.6h0M494.1 232.3h0M478.3 229.4h0M482.1 240.6h0M493.5 276.2h0M482.9 267.3h0M489.8 262.1h0M467.8 299.2h0M474.1 279.4h0M496.0 232.4h0M489.5 276.5h0M496.8 221.2h0M480.5 267.8h0M489.4 284.2h0M487.4 242.2h0M475.4 232.5h0M483.7 285.0h0M457.7 259.5h0M475.8 262.0h0M481.2 235.4h0M478.0 229.4h0M460.4 317.8h0M452.5 263.9h0M483.2 233.5h0M466.0 281.3h0M458.1 303.8h0M465.2 318.0h0M484.0 236.4h0M461.9 256.9h0M467.6 266.6h0M477.1 265.1h0M463.2 227.2h0M453.9 257.4h0M471.2 281.5h0M448.3 256.4h0M466.0 254.8h0M462.6 317.3h0M484.7 266.9h0M461.6 312.1h0M476.0 226.3h0M491.4 260.0h0M451.1 256.3h0M463.6 261.9h0M473.5 278.8h0M495.0 232.8h0M456.8 291.8h0M457.3 304.2h0M475.3 249.6h0M484.4 278.2h0M488.0 281.2h0M465.7 267.4h0M474.7 223.6h0M475.3 218.7h0M468.3 312.4h0M468.1 303.3h0M466.5 220.9h0M470.6 277.7h0M469.9 259.5h0M482.8 279.9h0M470.2 217.9h0M472.7 223.4h0M451.1 252.2h0M477.5 227.7h0M463.3 257.6h0M457.4 251.6h0M460.8 248.1h0M448.4 256.4h0M466.5 298.3h0M485.6 229.7h0M492.4 227.3h0M478.6 274.6h0M464.8 226.3h0M483.6 255.6h0M491.3 254.7h0M453.3 272.6h0M497.0 234.8h0M480.6 235.7h0M448.2 282.8h0M481.3 281.6h0M486.5 262.7h0M498.5 241.1h0M489.5 277.4h0M463.5 280.5h0M480.8 235.3h0M487.1 252.3h0M495.1 247.2h0M482.8 276.1h0M467.2 251.0h0M470.2 229.9h0M467.1 243.7h0M492.1 224.4h0M452.2 277.1h0M452.6 282.8h0M480.8 260.6h0M492.6 234.2h0M478.2 259.3h0M457.8 249.9h0M476.9 231.9h0M483.2 237.1h0M486.5 255.9h0M479.5 264.6h0M464.2 234.3h0M468.9 302.8h0M456.9 219.6h0M483.3 270.4h0M487.5 272.3h0M454.3 263.6h0M459.1 294.1h0M465.3 297.5h0M480.6 270.0h0M467.4 269.5h0M498.6 249.8h0M476.1 234.5h0M456.0 309.9h0M482.6 254.5h0M471.3 219.6h0M465.0 243.8h0M480.7 253.6h0M498.2 243.8h0M455.1 301.5h0M459.8 257.6h0M485.8 229.4h0M459.5 300.6h0M461.1 255.3h0M461.2 245.8h0M468.1 273.6h0M460.3 286.4h0M467.3 243.9h0M462.8 275.2h0M465.5 290.9h0M455.3 261.6h0M485.0 252.3h0M465.5 252.7h0M452.4 250.1h0M461.3 292.9h0M449.8 285.2h0M461.2 286.2h0M493.9 238.9h0M490.1 282.3h0M470.8 285.7h0M478.8 263.4h0M459.0 310.5h0M453.7 262.9h0M474.8 244.3h0M482.2 231.8h0M481.4 268.5h0M485.9 248.9h0M482.2 285.9h0M479.1 267.8h0M452.4 282.9h0M479.4 272.6h0M472.4 285.5h0M456.4 303.9h0M455.7 286.1h0M457.3 295.0h0M491.8 230.1h0M469.1 307.0h0M481.5 285.0h0M480.8 280.3h0M467.4 294.6h0M483.2 247.9h0M492.5 249.2h0M457.3 291.0h0M458.3 287.8h0M468.4 286.8h0M474.9 233.0h0M488.3 244.2h0M472.0 271.9h0M497.4 242.6h0M465.8 301.7h0M464.8 243.2h0M467.7 266.2h0M459.8 268.2h0M482.0 258.9h0M473.8 234.1h0M465.3 255.1h0M481.2 278.3h0M498.4 252.8h0M458.9 312.0h0M473.4 264.9h0M460.5 300.4h0M480.0 240.2h0M478.1 229.9h0M481.4 262.2h0M480.3 273.6h0M462.1 278.5h0M482.3 268.0h0M468.9 272.6h0M455.0 267.2h0M463.0 220.3h0M458.8 295.0h0M455.7 298.1h0M479.6 264.5h0M458.8 313.6h0M490.1 282.8h0M474.4 235.1h0M452.6 280.9h0M463.4 252.2h0M459.3 289.4h0M471.2 241.6h0M462.7 316.6h0M487.1 260.1h0M459.4 259.6h0M471.1 267.5h0M477.9 263.2h0M466.3 232.6h0M455.9 284.0h0M468.9 254.7h0M477.7 284.9h0M467.6 266.9h0M493.9 249.7h0M465.9 254.4h0M485.9 248.7h0M471.5 228.6h0M468.7 255.3h0M475.7 274.3h0M491.6 275.1h0M464.4 282.8h0M483.0 236.1h0M483.3 247.1h0M475.3 230.1h0M471.8 233.3h0M481.0 282.1h0M471.0 267.4h0M488.2 274.5h0M487.1 249.0h0M466.4 256.9h0M475.1 231.6h0M488.2 256.4h0M457.3 259.1h0M484.6 241.2h0M467.7 286.3h0M485.3 238.1h0M491.7 277.3h0M461.1 247.5h0M464.8 245.7h0M481.4 263.1h0M455.8 267.4h0M456.7 249.6h0M471.4 262.9h0M471.9 258.1h0M485.3 281.5h0M460.2 313.8h0M462.1 258.1h0M484.8 242.4h0M494.4 256.1h0M475.8 279.0h0M478.0 228.1h0M461.2 285.9h0M467.4 244.4h0M477.5 238.5h0M447.0 251.5h0M465.8 307.6h0M485.5 247.6h0M481.4 226.9h0M478.0 219.6h0M465.9 288.0h0M486.9 278.9h0M486.4 259.4h0M474.3 232.1h0M453.3 255.3h0M492.2 242.8h0M468.6 253.3h0M457.6 308.3h0M494.9 277.3h0M455.7 264.3h0M466.2 306.9h0M455.3 267.9h0M484.2 246.7h0M477.8 222.8h0M497.1 241.1h0M475.7 230.8h0M466.4 244.9h0M485.0 279.2h0M456.8 265.3h0M477.8 238.1h0M470.9 247.3h0M461.4 295.3h0M450.9 287.7h0M460.8 264.0h0M483.1 261.5h0M476.7 268.5h0M475.9 230.1h0M460.9 227.2h0M486.1 252.3h0M482.6 260.8h0M467.0 254.7h0M477.9 269.0h0M464.8 278.8h0M482.3 285.9h0M498.0 251.4h0M482.2 255.7h0M475.5 229.4h0M466.1 307.0h0M469.8 263.6h0M461.7 316.2h0M480.7 244.2h0M456.7 289.3h0M462.4 271.8h0M485.7 235.9h0M477.2 249.8h0M468.4 252.9h0M485.0 249.5h0M492.2 254.5h0M489.2 240.2h0M453.9 296.4h0M477.1 263.5h0M466.7 238.5h0M496.7 234.2h0M486.8 251.8h0M495.1 228.3h0M453.6 249.0h0M470.1 270.3h0M463.2 248.3h0M457.3 293.0h0M464.0 300.3h0M472.0 239.5h0M491.5 260.2h0M468.9 277.5h0M470.4 267.1h0M467.2 238.4h0M472.1 279.1h0M461.8 296.8h0M484.6 264.4h0M466.0 272.3h0M490.8 224.7h0M498.7 245.7h0M476.7 229.2h0M494.6 221.3h0M471.1 246.9h0M484.0 230.1h0M478.9 258.4h0M483.4 252.6h0M476.6 235.0h0M456.8 272.9h0M473.8 257.2h0M493.9 236.5h0M475.6 256.5h0M472.2 238.6h0M483.3 272.6h0M466.6 286.2h0M493.4 225.3h0M483.6 282.8h0M460.4 307.3h0M479.3 274.1h0M462.5 253.6h0M491.0 240.3h0M487.8 274.7h0M451.0 287.5h0M492.6 283.7h0M452.3 284.2h0M474.5 228.1h0M454.9 293.4h0M458.0 299.7h0M477.5 249.5h0M484.4 266.5h0M461.5 296.5h0M481.1 255.0h0M486.3 284.1h0M470.7 245.3h0M466.9 269.0h0M487.1 259.4h0M472.8 224.2h0M470.9 262.8h0M496.3 248.2h0M460.8 280.8h0M479.8 278.6h0M482.5 220.5h0M451.0 282.9h0M457.1 285.5h0M484.2 255.9h0M495.4 234.7h0M467.9 269.7h0M476.5 233.1h0M486.2 255.9h0M472.1 220.4h0M492.5 255.2h0M456.4 290.1h0M454.2 260.3h0M492.1 254.4h0M484.8 280.9h0M459.3 217.6h0M481.5 237.2h0M492.7 221.5h0M492.9 247.1h0M490.8 276.9h0M475.3 274.3h0M476.0 280.0h0M455.1 255.2h0M488.6 262.2h0M456.1 256.5h0M486.9 234.5h0M471.4 276.1h0M480.7 271.8h0M462.5 247.9h0M492.6 228.9h0M489.0 252.2h0M478.8 233.8h0M478.5 224.4h0M467.2 255.7h0M467.6 223.1h0M459.3 292.5h0M477.8 239.6h0M478.7 275.4h0M468.8 303.4h0M487.9 228.0h0M477.8 218.9h0M492.9 253.4h0M486.6 253.8h0M482.7 279.9h0M482.9 277.8h0M457.8 285.0h0M489.9 283.5h0M470.2 286.2h0M465.1 262.5h0M490.4 238.5h0M457.3 248.3h0M495.8 248.2h0M476.9 258.6h0M483.2 251.6h0M464.3 294.3h0M457.2 287.0h0M485.2 249.4h0M480.5 273.3h0M469.4 257.2h0M485.0 268.2h0M462.6 249.6h0M454.2 291.3h0M470.2 238.0h0M491.0 249.0h0M454.3 267.1h0M449.9 285.2h0M482.4 253.1h0M476.3 277.0h0M459.7 300.8h0M465.2 314.8h0M462.0 246.6h0M465.8 227.6h0M465.3 219.6h0M489.5 232.5h0M494.9 236.2h0M462.2 222.5h0M483.0 259.0h0M494.5 233.0h0M458.4 278.6h0M482.0 222.7h0M466.9 259.4h0M456.0 265.3h0M463.0 278.2h0M468.1 314.0h0M454.0 260.3h0M462.8 287.2h0M496.8 222.1h0M481.2 244.2h0M474.8 257.7h0M488.4 250.7h0M472.8 253.8h0M457.8 264.7h0M462.6 247.6h0M458.0 312.5h0M463.6 268.0h0M466.7 226.5h0M464.4 287.9h0M455.3 270.5h0M458.0 316.1h0M458.1 253.7h0M462.9 226.9h0M461.6 311.7h0M475.7 251.2h0M469.7 276.3h0M466.8 281.3h0M458.2 316.7h0M485.1 228.1h0M479.9 271.3h0M465.5 222.1h0M475.0 258.1h0M467.5 277.9h0M474.7 284.0h0M451.1 288.3h0M498.1 243.9h0M452.3 291.8h0M470.5 267.1h0M475.5 259.2h0M493.6 279.8h0M459.3 220.3h0M474.1 261.3h0M486.2 281.9h0M499.9 244.2h0M465.5 302.0h0M478.3 273.7h0M462.0 219.8h0M461.8 301.9h0M477.3 283.1h0M456.0 296.0h0M472.1 254.1h0M484.1 283.3h0M459.2 305.3h0M496.7 242.1h0M451.3 259.1h0M484.7 243.7h0M495.1 226.1h0M457.1 305.1h0M482.5 265.0h0M464.9 271.3h0M463.1 219.3h0M478.3 256.7h0M494.8 231.3h0M462.3 304.9h0M481.5 281.3h0M486.3 253.3h0M480.0 265.4h0M488.1 252.9h0M468.3 306.9h0M478.2 256.4h0M457.1 253.0h0M474.8 270.1h0M484.7 244.5h0M463.7 252.1h0M468.3 308.4h0M464.5 261.3h0M477.3 240.6h0M488.1 226.5h0M484.4 223.3h0M491.6 275.8h0M482.0 283.5h0M490.7 225.1h0M451.0 289.5h0M461.4 291.5h0M456.9 269.7h0M484.7 230.7h0M452.1 252.2h0M464.1 276.4h0M462.7 223.5h0M461.6 284.6h0M458.5 262.5h0M467.1 275.8h0M490.3 233.4h0M454.5 250.0h0M463.3 311.4h0M464.0 275.7h0M488.7 233.6h0M485.1 258.6h0M467.7 247.2h0M469.9 224.7h0M485.8 235.8h0M492.7 237.6h0M476.0 230.8h0M464.1 295.9h0M468.3 308.4h0M489.3 280.9h0M461.4 218.6h0M474.8 228.4h0M472.2 277.1h0M461.2 303.2h0M480.6 234.5h0M457.8 305.7h0M482.3 231.2h0M476.7 226.5h0M486.8 253.3h0M475.9 242.0h0M479.3 248.4h0M479.2 219.7h0M458.4 257.9h0M469.7 304.1h0M468.0 276.6h0M468.0 242.8h0M463.5 301.6h0M455.9 294.9h0M488.4 240.8h0M480.6 258.6h0M460.2 259.5h0M473.5 268.8h0M479.2 227.0h0M478.6 280.9h0M481.5 233.7h0M465.3 234.7h0M454.5 255.5h0M490.5 283.1h0M478.5 223.8h0M460.7 270.5h0M490.0 235.4h0M461.0 217.1h0M481.3 253.3h0M463.4 310.6h0M479.0 257.3h0M462.4 257.0h0M491.8 220.5h0M464.5 227.2h0M464.1 290.7h0M477.4 271.5h0M469.9 275.5h0M455.8 270.6h0M450.9 252.3h0M469.1 306.3h0M454.6 295.4h0M467.3 222.0h0M465.5 276.9h0M496.3 238.8h0M455.8 276.3h0M478.5 235.0h0M486.0 222.1h0M482.3 275.0h0M458.1 297.8h0M468.8 313.1h0M452.0 287.1h0M477.7 271.9h0M460.0 311.9h0M483.6 272.0h0M463.0 285.5h0M454.4 294.6h0M459.8 290.0h0M466.8 221.4h0M459.4 268.4h0M459.2 296.1h0M483.4 284.1h0M478.0 246.0h0M462.3 276.3h0M488.4 279.1h0M483.4 257.3h0M458.5 311.7h0M464.2 286.6h0M470.8 219.1h0M471.1 271.5h0M496.8 239.7h0M489.7 232.5h0M471.6 281.0h0M458.2 282.0h0M460.0 250.4h0M457.3 304.3h0M484.7 273.9h0M488.9 277.2h0M483.2 260.9h0M465.6 244.2h0M493.4 249.2h0M473.5 222.0h0M459.8 296.7h0M461.4 275.2h0M466.3 290.5h0M464.5 265.2h0M471.8 224.4h0M478.5 284.3h0M466.2 274.9h0M454.6 246.8h0M479.8 222.4h0M449.5 283.7h0M454.7 248.6h0M494.4 255.9h0M475.9 227.7h0M500.0 243.9h0M452.6 289.2h0M462.9 260.9h0M485.8 237.1h0M485.5 262.3h0M465.3 310.6h0M476.5 267.3h0M472.1 233.0h0M472.3 272.3h0M478.6 239.3h0M492.1 248.7h0M492.5 244.1h0M480.6 254.2h0M462.5 218.7h0M453.4 256.1h0M462.5 313.8h0M460.8 313.4h0M461.7 278.6h0M490.2 240.5h0M490.4 284.7h0M485.3 229.4h0" stroke="#5d7b96" stroke-width="1.7" stroke-linecap="round" fill="none"/>
<path d="M504.9 279.9h0M504.9 284.2h0M500.0 277.2h0M496.7 269.8h0M487.2 270.1h0M488.1 272.0h0M491.1 269.5h0M495.1 277.9h0M495.6 272.8h0M510.8 283.3h0M503.0 280.6h0M488.5 274.8h0M509.3 276.2h0M513.0 279.2h0M519.3 276.9h0M497.2 270.1h0M512.3 276.3h0M490.5 270.5h0M503.3 283.5h0M502.6 283.1h0M511.4 284.4h0M515.3 276.9h0M501.6 278.6h0M507.4 273.6h0M496.0 280.1h0M508.6 276.1h0M497.9 276.3h0M507.2 279.2h0M503.3 276.2h0M506.9 275.6h0M500.7 270.5h0M516.3 281.8h0M521.4 282.4h0M489.7 271.3h0M523.7 278.8h0M510.5 279.0h0M496.3 285.8h0M495.9 279.9h0M512.1 282.7h0M492.1 271.0h0M521.4 278.3h0M522.4 279.7h0M490.8 273.3h0M511.9 275.4h0M509.9 282.2h0M510.7 278.8h0M504.5 277.7h0M493.5 280.6h0M499.9 278.0h0M503.0 278.4h0M495.2 277.2h0M500.5 276.6h0M509.1 284.6h0M490.3 271.5h0M501.4 283.4h0M495.0 273.5h0M511.1 279.0h0M516.5 282.1h0M492.3 279.3h0M501.5 271.7h0M502.9 275.2h0M521.3 278.9h0M496.6 281.1h0M500.7 277.1h0M493.8 279.8h0M506.2 281.9h0M502.4 282.6h0M515.2 283.0h0M500.8 277.6h0M491.5 271.6h0M515.1 279.1h0M491.8 272.5h0M493.2 271.0h0M515.1 278.5h0M516.7 279.5h0M496.6 281.9h0M500.8 277.3h0M506.7 276.5h0M492.7 282.9h0M492.7 273.5h0M497.8 275.2h0M509.4 276.3h0M493.3 283.3h0M504.2 285.0h0M487.0 272.3h0M500.9 273.6h0M515.9 275.8h0M494.2 272.3h0M499.2 274.3h0M493.3 270.5h0M495.8 274.3h0M506.4 284.1h0M498.9 285.5h0M502.4 275.8h0M494.5 275.3h0M502.0 272.8h0M499.3 283.2h0M494.8 276.4h0M497.5 272.5h0M523.4 279.8h0M495.8 280.8h0M496.7 281.5h0M504.0 275.7h0M497.6 284.4h0M514.8 278.0h0M524.6 277.3h0M503.1 277.3h0M527.5 278.9h0M503.0 280.8h0M495.8 273.9h0M520.6 279.1h0M512.1 284.6h0M487.4 268.8h0M507.9 281.1h0M500.4 272.9h0M509.0 277.2h0M519.3 279.3h0M511.0 277.7h0M489.9 278.4h0M496.1 270.4h0M505.5 284.1h0M517.3 275.8h0M500.7 278.5h0M519.6 276.9h0M493.7 271.3h0M523.4 281.4h0M503.8 273.7h0M502.7 284.4h0M517.3 279.7h0M497.1 278.6h0M488.7 275.3h0M492.9 269.4h0M501.9 282.7h0M523.4 280.0h0M507.7 274.3h0M524.0 279.1h0M512.8 277.1h0M511.7 275.2h0M509.8 282.0h0M514.3 277.4h0M490.8 271.8h0M492.5 272.3h0M516.1 282.6h0M500.4 281.2h0M516.1 276.8h0M508.9 280.0h0M489.7 271.8h0M514.8 284.0h0M495.7 275.1h0M521.6 278.0h0M502.6 272.1h0M517.3 283.6h0M498.0 277.3h0M497.1 271.9h0M489.0 277.3h0M515.5 280.8h0M523.0 276.3h0M499.6 273.1h0M495.6 273.8h0M502.9 280.5h0M514.3 281.6h0M504.8 272.9h0M502.6 278.3h0M513.2 280.4h0M502.7 273.8h0M509.2 284.4h0M499.5 275.6h0M495.3 269.3h0M490.1 278.0h0M510.6 275.3h0M508.8 279.4h0M496.1 279.8h0M495.6 283.8h0M524.4 279.9h0M506.7 276.5h0M507.8 278.1h0M494.7 280.5h0M488.1 274.1h0M512.4 281.8h0M505.5 276.0h0M502.8 285.9h0M523.5 275.9h0M504.2 275.4h0M503.7 274.5h0M493.3 274.6h0M501.1 275.9h0M520.2 278.1h0M503.0 282.6h0M496.2 272.9h0M494.1 274.0h0M494.2 283.0h0M493.5 281.1h0M493.1 278.4h0M493.6 272.9h0M501.6 271.3h0M496.2 272.5h0M511.1 279.0h0M506.7 281.4h0M511.4 280.6h0M514.8 278.9h0M515.8 279.0h0M515.3 283.0h0M507.7 274.1h0M495.2 282.3h0M500.1 270.5h0M502.4 274.9h0M519.5 278.9h0M489.6 272.2h0M526.1 277.2h0M521.2 279.0h0M494.6 270.0h0M496.3 277.8h0M516.4 283.3h0M497.2 281.8h0M499.8 271.4h0M498.7 278.4h0M499.6 278.2h0M511.8 279.3h0M494.5 271.5h0M501.8 280.6h0M514.7 278.3h0M506.6 282.7h0M518.8 282.0h0M502.9 284.5h0M494.9 278.6h0M500.9 273.1h0M498.4 274.1h0M504.0 280.3h0M493.1 273.8h0M494.7 276.3h0M504.5 285.4h0M498.3 285.7h0M490.0 270.8h0M511.1 275.7h0M494.0 282.2h0M503.7 280.6h0M524.4 281.6h0M488.0 272.2h0M506.6 278.5h0M502.8 284.1h0M499.0 286.0h0M515.1 277.7h0M515.7 279.1h0M495.6 283.4h0M490.7 272.9h0M492.6 280.1h0M498.4 274.7h0M494.1 277.8h0M517.8 280.7h0M492.0 272.4h0M489.4 278.2h0M513.4 281.0h0M503.7 284.6h0M493.9 275.6h0M489.7 277.8h0M498.6 285.7h0M502.6 283.8h0M492.1 274.1h0M515.5 281.0h0M494.8 273.4h0M491.3 281.9h0M518.8 280.3h0M490.9 270.6h0M520.1 282.9h0M503.7 276.9h0M496.4 272.5h0M490.9 280.0h0M497.6 270.6h0M500.7 272.5h0M513.4 282.4h0M489.0 275.4h0M491.7 271.7h0M496.7 276.8h0M504.4 277.5h0M500.4 281.3h0M519.1 276.1h0M498.7 274.0h0M520.5 277.9h0M503.1 281.8h0M507.7 281.2h0M511.9 282.2h0M500.4 279.2h0M510.0 276.2h0M502.2 284.6h0M510.6 280.0h0M520.4 280.4h0M500.2 284.7h0M510.5 281.2h0M496.1 278.2h0M517.0 283.7h0M521.5 281.8h0M515.2 284.1h0M491.0 269.7h0M526.5 281.2h0M507.3 274.5h0M491.3 277.8h0M504.3 284.9h0M492.6 276.0h0M517.7 281.2h0M490.8 280.1h0M511.2 284.3h0M493.0 280.6h0M497.5 282.5h0M518.2 281.2h0M503.5 280.1h0M501.4 271.7h0M513.9 281.7h0M490.0 277.8h0M517.3 279.2h0M521.0 282.1h0M506.4 277.7h0M495.5 272.4h0M497.3 273.4h0M502.6 284.7h0M524.7 281.6h0M497.8 274.3h0M494.4 271.7h0M507.7 281.4h0M508.4 281.8h0M493.3 274.4h0M517.5 281.9h0M502.0 281.6h0M501.0 276.4h0M507.7 279.9h0M516.2 280.0h0M527.1 280.1h0M527.2 278.5h0M489.7 275.8h0M525.1 280.9h0M499.7 270.9h0M497.3 275.2h0M508.7 281.3h0M488.6 271.2h0M497.6 278.7h0M525.1 280.1h0M504.2 278.5h0M506.0 278.6h0M512.8 280.2h0M494.7 277.1h0M508.8 280.1h0M500.9 282.6h0M507.1 274.9h0M492.7 275.7h0M504.0 273.2h0M495.7 279.2h0M509.8 276.5h0M502.9 278.9h0M514.2 281.1h0M514.6 277.3h0M490.5 271.8h0M503.6 280.3h0M504.6 278.1h0M510.5 284.1h0M498.4 285.7h0M502.4 277.2h0M495.4 270.9h0M510.6 275.0h0M486.6 269.3h0M512.9 282.5h0M518.5 278.5h0M518.3 283.7h0M497.0 280.5h0M495.2 278.1h0M498.1 272.4h0M490.3 275.9h0M495.9 283.1h0M502.8 281.3h0M520.0 283.5h0M510.3 280.0h0M507.4 277.3h0M505.5 278.1h0M522.6 275.7h0M512.2 283.0h0M506.7 279.6h0M494.4 272.6h0M506.4 283.2h0M499.8 282.3h0M489.3 272.2h0M512.8 277.4h0M511.2 278.3h0M510.3 279.4h0M490.4 269.1h0M513.8 282.4h0M503.5 281.0h0M499.5 279.7h0M500.1 275.9h0M504.8 280.4h0M508.3 279.2h0M510.5 275.9h0M504.0 274.7h0M515.3 277.8h0M501.1 275.9h0M494.0 271.7h0M492.0 282.1h0M494.4 277.0h0M501.0 283.1h0M497.4 277.7h0M499.7 281.7h0M508.3 275.2h0M520.1 282.4h0M502.1 275.6h0" stroke="#5d7b96" stroke-width="1.5" stroke-linecap="round" fill="none"/>
<path d="M459.2 211.1h0M448.8 211.1h0M479.5 213.2h0M442.3 207.6h0M492.1 213.9h0M451.8 208.7h0M452.0 207.3h0M480.7 217.1h0M446.2 209.0h0M455.7 209.9h0M479.6 213.4h0M481.9 217.6h0M495.0 216.7h0M459.9 215.4h0M447.8 205.8h0M467.3 214.0h0M468.3 213.8h0M486.2 215.8h0M457.9 209.7h0M449.1 208.5h0M467.4 217.0h0M464.3 212.8h0M455.4 211.0h0M445.0 208.3h0M490.0 215.6h0M445.8 205.4h0M493.9 215.9h0M443.5 204.7h0M489.1 216.0h0M468.3 216.2h0M491.8 218.7h0M443.3 205.1h0M465.8 212.4h0M453.5 212.8h0M494.4 217.8h0M481.2 216.0h0M471.8 213.8h0M482.7 213.9h0M467.5 212.2h0M451.5 209.2h0M474.0 213.1h0M466.3 215.7h0M448.3 208.3h0M470.9 214.8h0M458.0 211.7h0M451.2 210.6h0M469.0 216.0h0M454.0 213.9h0M470.8 214.9h0M455.9 210.8h0M470.8 212.2h0M495.4 217.7h0M478.1 214.0h0M496.5 217.7h0M493.5 217.2h0M477.8 217.8h0M467.5 216.5h0M466.0 214.6h0M462.6 213.2h0M448.9 206.9h0M459.7 213.6h0M448.8 208.5h0M471.1 213.8h0M495.5 214.5h0M445.7 205.8h0M471.8 212.8h0M495.0 217.0h0M450.5 207.6h0M490.0 218.4h0M441.0 203.1h0M456.1 212.7h0M494.2 217.4h0M456.7 212.2h0M485.9 214.5h0M495.4 218.4h0M467.5 217.6h0M491.3 217.2h0M489.2 217.1h0M463.1 214.7h0M492.6 216.5h0M468.8 215.5h0M443.7 205.9h0M464.0 216.8h0M489.3 216.2h0M492.4 215.6h0M457.2 213.9h0M480.1 217.2h0M487.8 214.3h0M471.1 213.8h0M446.5 206.3h0M450.7 211.1h0" stroke="#5d7b96" stroke-width="1.5" stroke-linecap="round" fill="none"/>
<path d="M518.0 280.5h0M520.0 281.5h0M522.0 280.0h0M523.5 281.2h0M521.0 282.3h0M517.0 281.8h0" stroke="#1f77b4" stroke-width="1.8" stroke-linecap="round" fill="none"/>
<circle cx="527.20" cy="277.80" r="1.00" fill="#17a2c0"/>
<circle cx="501.60" cy="280.90" r="1.10" fill="#ff7f0e"/>
<circle cx="503.00" cy="281.80" r="0.90" fill="#ff7f0e"/>
<circle cx="488.50" cy="280.80" r="0.90" fill="#aa40fc"/>
<circle cx="524.40" cy="281.60" r="0.80" fill="#aa40fc"/>
<polygon points="489.1,311.3 490.6,309.5 492.8,310.1 495.3,312.5 498.9,314.9 502.6,317.4 506.3,319.2 509.4,320.4 508.8,321.3 505.0,320.4 500.2,318.0 495.9,315.6 492.2,313.7 489.7,313.1" fill="#5d7b96"/>
<path d="M492.8 309.8h0M485.2 309.9h0M508.8 321.8h0M499.8 315.4h0M501.1 317.4h0M511.0 322.7h0M503.6 317.8h0M492.7 313.7h0M515.2 324.9h0M484.0 308.0h0M489.1 307.0h0M492.5 310.5h0M499.3 317.2h0M507.0 321.8h0M490.6 312.5h0M498.0 317.1h0M513.8 324.0h0M493.9 314.1h0M497.9 316.9h0M485.2 309.6h0M495.4 313.8h0M487.9 312.5h0M508.5 320.2h0M502.4 319.4h0M511.2 322.6h0M493.2 314.7h0M496.8 314.1h0M491.5 309.9h0M516.0 324.6h0M498.3 316.5h0M493.2 313.9h0M486.4 305.9h0M494.7 315.5h0M500.9 317.7h0M512.6 323.9h0M494.9 312.9h0M505.4 319.5h0M504.0 319.5h0M489.8 309.4h0M508.0 322.7h0M494.8 314.4h0M492.9 312.8h0M505.4 321.7h0M488.2 308.1h0M497.6 316.8h0M496.1 313.4h0M490.6 311.7h0M493.5 311.0h0M501.6 317.1h0M491.8 312.3h0M499.3 318.5h0M492.6 310.7h0M494.3 313.8h0M488.9 309.7h0M492.5 312.9h0M491.3 309.2h0M484.9 310.8h0M492.9 313.1h0M509.2 322.8h0M487.8 307.5h0M501.2 316.8h0M483.6 310.3h0M500.1 317.6h0M512.2 324.5h0M504.4 319.8h0M485.7 307.6h0M492.9 312.5h0M507.7 320.9h0M504.5 319.7h0M506.6 319.3h0M507.4 321.2h0M511.2 323.6h0M490.3 310.3h0M514.1 324.8h0M492.7 312.7h0M505.4 318.8h0M488.7 308.4h0M492.7 309.7h0M485.4 306.1h0M514.2 323.3h0M509.6 321.3h0M512.5 323.9h0M493.2 313.2h0M485.9 308.1h0M492.0 313.6h0M488.7 309.0h0M510.2 323.1h0M513.1 323.9h0M485.7 306.5h0M512.1 322.2h0M489.9 310.8h0M493.5 311.6h0M511.8 322.2h0M486.8 309.5h0M493.5 313.9h0M493.2 311.2h0M484.4 311.0h0M498.2 317.1h0M499.5 314.3h0M492.6 314.3h0M512.8 325.1h0M485.4 309.9h0M510.9 321.0h0M515.1 324.4h0M499.0 315.3h0M488.6 307.0h0M486.4 309.6h0M507.9 320.1h0M490.3 308.3h0M498.2 316.8h0M486.2 312.3h0M501.9 319.6h0M510.6 323.2h0M493.1 312.1h0M486.7 311.8h0M514.7 323.9h0M504.0 317.9h0M505.4 321.5h0M488.0 306.3h0M490.0 309.5h0M485.5 311.8h0M497.6 314.2h0M502.7 318.9h0M484.7 307.2h0M490.6 308.3h0M496.1 314.5h0M495.7 316.3h0M494.6 312.9h0M489.0 312.1h0M506.8 321.7h0M490.6 311.3h0M495.5 313.2h0M496.1 316.1h0M501.9 319.4h0M501.9 317.6h0M486.7 308.2h0M506.4 319.4h0M500.4 318.5h0M493.9 313.1h0M486.0 306.1h0M512.5 323.1h0M510.6 321.8h0M488.3 309.7h0M492.2 310.8h0M510.9 323.3h0M502.7 317.6h0M494.3 313.8h0M490.0 308.2h0M502.8 317.1h0M510.0 322.6h0M504.2 319.3h0M498.7 316.9h0M488.6 310.1h0M488.3 311.7h0M486.1 307.6h0M489.2 311.7h0M500.8 319.4h0M503.1 319.1h0M500.0 315.6h0M505.9 321.5h0M491.1 312.3h0M485.4 310.1h0M489.6 311.2h0M483.2 308.0h0M505.6 321.8h0M494.4 313.5h0M503.1 320.4h0M497.8 315.6h0M502.8 317.4h0M511.9 322.0h0M504.5 319.0h0M514.2 323.5h0M507.0 319.9h0M495.3 312.9h0M484.5 308.6h0M511.4 322.2h0M493.7 314.6h0M509.2 323.6h0M486.5 306.1h0M485.4 308.9h0M509.2 322.7h0M508.6 321.5h0M486.3 310.0h0M506.9 321.0h0M494.9 315.7h0M495.0 313.2h0M487.6 311.1h0M512.9 323.4h0M497.2 316.1h0M485.5 310.7h0M489.5 306.7h0M488.2 310.0h0M485.1 310.7h0M504.8 320.4h0M515.5 324.1h0M509.8 320.7h0M508.6 323.3h0M498.8 314.5h0M508.7 323.3h0M490.6 308.2h0M490.8 308.6h0M514.1 324.3h0M485.8 306.1h0M486.2 309.5h0M513.5 322.8h0M493.1 312.5h0M495.1 312.7h0M502.7 317.1h0M496.3 315.3h0M484.1 307.6h0M487.8 308.1h0M504.2 317.8h0" stroke="#5d7b96" stroke-width="1.6" stroke-linecap="round" fill="none"/>
<circle cx="493.60" cy="311.50" r="0.90" fill="#ff7f0e"/>
<circle cx="497.80" cy="316.20" r="0.80" fill="#b5bd61"/>
<path d="M505.0 319.0h0M513.0 322.6h0M514.5 323.3h0M516.0 323.9h0" stroke="#e377c2" stroke-width="1.7" stroke-linecap="round" fill="none"/>
<polygon points="440.8,200.4 447.4,201.6 453.4,202.8 459.4,204.0 465.5,205.2 470.3,205.8 472.7,206.4 472.7,209.4 467.9,210.0 463.1,209.4 458.2,208.8 453.4,208.2 448.6,206.4 443.8,204.0 441.4,202.2" fill="#279e68"/>
<path d="M468.0 210.1h0M463.1 209.7h0M467.1 206.5h0M439.7 201.5h0M453.6 209.0h0M444.9 202.3h0M447.5 203.3h0M463.4 208.8h0M467.1 209.7h0M473.8 210.9h0M439.8 203.0h0M460.8 208.8h0M468.8 206.4h0M453.6 208.9h0M459.0 204.9h0M463.8 205.3h0M477.9 210.4h0M467.2 209.1h0M450.4 202.5h0M448.6 205.4h0M466.5 204.7h0M464.4 209.4h0M461.8 207.8h0M466.6 207.2h0M472.5 209.1h0M441.6 204.1h0M453.1 208.9h0M463.0 206.3h0M457.3 209.4h0M472.5 208.6h0M452.8 208.0h0M452.0 208.0h0M460.9 209.2h0M452.8 205.7h0M447.5 201.0h0M439.4 200.3h0M462.2 208.5h0M459.1 204.1h0M469.0 207.2h0M465.1 204.6h0M450.3 201.7h0M474.2 208.2h0M475.4 210.1h0M437.6 202.5h0M445.8 205.4h0M438.0 199.7h0M469.0 206.9h0M463.1 210.0h0M439.6 199.7h0M452.9 207.1h0M447.0 207.1h0M443.7 204.4h0M460.2 204.7h0M460.2 203.6h0M461.5 210.0h0M463.4 208.9h0M477.7 208.1h0M450.8 207.7h0M473.1 210.1h0M449.4 202.1h0M453.3 206.8h0M454.2 208.8h0M470.3 205.9h0M470.6 209.8h0M465.4 207.8h0M456.9 203.9h0M441.8 202.4h0M441.5 201.0h0M443.1 203.8h0M459.3 203.2h0M452.6 203.3h0M455.9 204.6h0M448.2 204.5h0M457.4 204.7h0M454.4 204.9h0M472.9 209.4h0M451.3 205.1h0M451.1 208.0h0M438.5 201.9h0M439.5 202.9h0M459.0 207.6h0M451.6 204.5h0M435.9 198.9h0M463.2 205.4h0M473.6 207.2h0M455.0 204.9h0M452.1 206.1h0M447.0 202.7h0M453.2 205.0h0M444.3 203.1h0M447.0 205.9h0M457.6 206.8h0M450.7 203.2h0M469.5 210.3h0M471.6 207.0h0M464.3 209.8h0M446.5 202.4h0M451.4 201.9h0M456.6 209.7h0M445.6 203.8h0M454.8 203.9h0M453.2 208.8h0M469.0 205.9h0M467.6 206.9h0M448.3 203.7h0M462.8 207.2h0M445.9 203.8h0M456.5 205.4h0M444.5 205.8h0M463.4 210.1h0M461.0 204.3h0M449.1 205.0h0M469.6 210.9h0M464.6 209.1h0M465.7 206.6h0M450.9 207.1h0M464.4 206.9h0M462.7 208.2h0M451.4 204.0h0M466.6 209.8h0M462.7 204.3h0M450.2 202.9h0M472.1 208.1h0M436.9 199.4h0M467.1 210.4h0M466.2 207.4h0M463.7 209.0h0M450.0 202.9h0M458.8 209.7h0M459.1 209.7h0M474.7 206.5h0M471.4 210.0h0M452.1 203.1h0M455.1 204.6h0M456.2 205.1h0M467.9 207.7h0M471.0 207.8h0M465.2 209.9h0M454.9 203.1h0M460.0 208.4h0M456.7 202.9h0M440.9 200.9h0M463.2 207.1h0M449.5 207.1h0M449.2 201.5h0M441.9 203.9h0M468.2 211.0h0M455.6 206.2h0M453.5 205.9h0M468.2 207.7h0M455.2 204.5h0M447.0 204.1h0M467.5 206.2h0M458.5 206.8h0M468.0 206.0h0M471.5 210.8h0M458.6 209.9h0M466.7 205.0h0M457.2 205.8h0M454.6 206.2h0M457.3 204.1h0M436.4 199.7h0M456.1 208.3h0M450.4 207.2h0M436.9 200.6h0M474.5 208.1h0M464.3 205.3h0M441.6 201.3h0M438.4 201.7h0M456.1 206.4h0M466.4 209.6h0M462.0 210.0h0M450.0 206.9h0M436.8 201.3h0M447.2 203.4h0M469.5 205.2h0M460.3 208.9h0M440.6 201.0h0M475.1 210.2h0M464.9 209.5h0M448.2 200.7h0M455.0 207.9h0M444.2 201.1h0M442.1 203.4h0M476.1 208.7h0M462.6 206.2h0M454.7 204.9h0M470.6 209.5h0M436.6 199.4h0M439.9 202.9h0M440.9 203.4h0M445.3 203.5h0M466.0 206.8h0M460.3 208.8h0M470.9 210.5h0M447.6 202.2h0M465.9 207.2h0M456.0 209.7h0M441.5 202.8h0M444.8 200.9h0M465.9 206.7h0M464.5 208.5h0M439.9 201.3h0M437.2 201.5h0M473.0 206.9h0M450.0 206.3h0M450.8 207.4h0M465.9 210.0h0M461.4 204.0h0M466.5 208.9h0M458.2 207.4h0M462.2 204.6h0M472.4 209.3h0M471.1 205.9h0M461.3 207.6h0M459.7 207.7h0M453.6 203.5h0M443.5 204.7h0M462.8 209.6h0M456.5 209.6h0M444.1 202.8h0M443.1 202.6h0M451.1 203.4h0M459.8 204.2h0M450.4 202.4h0M467.8 206.9h0M438.4 202.7h0M463.1 206.1h0M474.1 208.0h0M467.7 209.8h0M469.0 208.2h0M466.8 210.3h0M468.4 209.3h0M465.9 209.0h0M448.4 200.9h0M456.8 203.6h0M467.5 210.8h0M476.5 206.6h0M450.1 206.5h0M457.1 206.7h0M437.4 200.2h0M474.0 208.5h0M472.1 208.1h0M454.9 203.2h0M451.1 205.5h0M450.9 205.2h0M442.3 200.8h0M461.6 209.2h0M448.5 203.8h0M473.7 208.9h0M475.9 207.1h0M458.2 203.1h0M474.5 210.7h0M451.8 208.0h0M449.6 207.8h0M466.8 209.4h0M455.5 204.5h0M451.9 207.9h0M449.6 203.4h0M466.0 205.1h0M441.8 203.1h0M450.8 205.7h0M460.8 207.7h0M451.5 204.7h0M440.5 201.3h0M446.3 201.3h0M451.7 206.6h0M442.4 201.6h0M456.3 204.3h0M467.9 206.6h0M475.8 209.3h0M454.4 204.3h0M476.5 206.7h0M439.7 200.0h0M464.4 209.8h0M453.7 203.5h0M456.3 202.3h0M464.5 207.2h0M449.7 203.8h0M461.0 206.1h0M450.0 203.3h0M451.1 207.0h0M445.1 201.7h0M455.8 209.2h0M442.8 204.8h0M457.3 205.3h0M458.2 206.1h0M454.5 203.5h0M450.1 201.8h0M443.1 202.3h0M453.1 206.7h0M443.7 204.9h0M468.3 205.6h0M458.0 209.3h0M456.4 204.7h0M460.2 206.6h0M451.9 205.6h0M462.6 208.0h0M454.1 205.4h0M458.4 208.5h0M469.3 206.2h0M455.2 204.0h0M445.1 201.2h0M440.1 203.2h0M470.0 210.8h0M452.6 202.6h0M462.8 207.3h0M454.8 204.3h0M449.8 207.2h0M466.3 208.0h0M464.5 206.7h0M448.1 205.0h0M447.9 206.3h0M443.7 205.3h0M445.9 205.5h0M467.7 207.0h0M435.8 199.5h0" stroke="#279e68" stroke-width="1.5" stroke-linecap="round" fill="none"/>
<polygon points="478.3,208.6 482.4,204.5 486.4,201.1 492.0,197.6 497.4,196.6 505.6,196.9 513.8,197.9 517.9,199.7 519.0,203.1 517.2,206.5 512.4,208.6 505.6,209.9 500.1,212.0 497.4,213.3 492.0,214.0 486.4,213.3 481.0,211.3" fill="#ff7f0e"/>
<path d="M492.0 199.0h0M518.5 205.5h0M498.6 203.7h0M488.7 197.3h0M495.0 210.4h0M491.3 198.6h0M475.1 209.3h0M513.6 200.9h0M517.1 197.3h0M490.6 215.2h0M517.0 206.0h0M493.7 208.9h0M504.2 207.0h0M483.7 202.8h0M494.6 201.0h0M503.8 208.4h0M488.9 203.5h0M507.9 201.2h0M497.3 206.0h0M512.6 208.6h0M514.0 207.0h0M495.9 207.9h0M519.1 205.6h0M517.7 204.3h0M496.5 210.8h0M496.0 197.4h0M515.8 205.7h0M506.7 204.0h0M499.8 205.1h0M517.1 205.7h0M505.3 200.0h0M492.1 200.3h0M513.3 205.8h0M490.1 202.5h0M519.2 198.6h0M501.4 202.6h0M495.2 203.5h0M504.2 204.0h0M509.9 204.4h0M503.1 207.3h0M520.8 199.3h0M502.6 200.3h0M487.6 208.7h0M498.9 210.4h0M514.0 204.2h0M492.9 208.3h0M493.0 211.1h0M479.5 206.1h0M509.3 199.4h0M479.1 210.5h0M490.2 207.5h0M507.8 207.9h0M499.7 195.1h0M495.2 201.5h0M489.9 211.9h0M504.0 197.2h0M517.4 198.6h0M489.5 200.2h0M502.6 203.4h0M497.4 201.4h0M487.4 213.0h0M489.5 206.9h0M478.0 206.2h0M499.9 208.7h0M506.4 206.9h0M505.4 210.9h0M499.1 198.5h0M517.1 197.6h0M494.7 195.4h0M493.0 205.6h0M513.1 199.5h0M512.9 204.8h0M515.2 203.3h0M504.5 202.7h0M489.2 202.2h0M519.1 204.1h0M509.8 209.4h0M509.7 207.2h0M496.6 211.7h0M515.4 201.5h0M479.6 208.2h0M484.0 211.7h0M498.3 209.3h0M493.7 203.9h0M499.3 195.7h0M501.7 212.4h0M487.7 212.3h0M484.7 206.0h0M480.9 206.3h0M483.0 203.4h0M509.3 202.4h0M491.6 196.2h0M504.4 199.4h0M484.8 214.1h0M485.6 203.0h0M520.9 204.4h0M516.0 203.5h0M503.8 201.5h0M498.3 196.9h0M489.8 211.7h0M505.6 198.9h0M493.8 205.8h0M494.2 204.3h0M498.1 198.8h0M487.7 211.2h0M486.8 201.3h0M481.6 213.0h0M490.6 202.6h0M495.8 201.8h0M486.5 205.5h0M504.2 205.4h0M514.2 203.4h0M516.7 208.3h0M512.5 202.7h0M482.6 207.9h0M499.0 214.2h0M489.4 202.9h0M499.4 200.7h0M509.0 209.3h0M481.3 211.3h0M506.7 196.9h0M491.3 196.9h0M489.7 209.5h0M517.8 203.8h0M499.4 202.4h0M508.8 196.6h0M478.7 213.0h0M515.7 205.7h0M481.7 204.7h0M502.9 204.5h0M497.6 202.3h0M515.0 201.3h0M498.5 206.2h0M497.9 201.1h0M504.2 200.2h0M516.1 196.7h0M495.7 202.7h0M478.8 211.8h0M511.7 197.1h0M505.2 210.8h0M500.9 209.0h0M507.3 210.3h0M497.6 208.6h0M517.8 199.3h0M501.5 197.4h0M480.7 207.7h0M485.2 201.0h0M503.6 207.7h0M491.1 199.2h0M517.8 203.2h0M484.9 207.0h0M521.1 201.0h0M503.8 205.3h0M500.6 208.1h0M501.3 205.6h0M507.7 201.4h0M516.2 200.8h0M501.2 197.7h0M498.9 207.0h0M493.4 198.7h0M496.2 213.8h0M482.6 209.4h0M499.0 198.9h0M490.1 199.0h0M476.7 210.4h0M484.4 203.4h0M511.7 201.4h0M514.4 200.3h0M510.4 196.8h0M504.0 202.0h0M493.2 195.6h0M499.0 211.3h0M507.5 203.2h0M477.8 210.9h0M507.9 208.2h0M503.5 195.9h0M491.8 206.5h0M509.4 197.0h0M484.8 210.3h0M485.4 212.6h0M502.7 198.2h0M512.7 208.4h0M501.8 212.1h0M502.3 208.8h0M503.7 198.5h0M493.2 200.3h0M520.9 199.2h0M483.5 210.9h0M496.7 210.3h0M519.5 201.5h0M490.7 212.3h0M497.5 203.8h0M513.8 207.8h0M501.5 196.8h0M496.8 201.9h0M513.1 206.5h0M510.0 203.2h0M514.8 197.4h0M508.5 205.1h0M493.9 199.9h0M500.9 208.1h0M497.2 210.4h0M498.9 202.5h0M514.3 203.7h0M485.6 201.9h0M486.7 212.5h0M506.1 196.4h0M485.8 204.5h0M480.6 207.3h0M493.5 206.3h0M515.9 199.1h0M505.6 207.6h0M492.3 199.5h0M481.4 210.4h0M489.2 210.3h0M497.6 212.5h0M501.0 197.3h0M500.2 209.4h0M516.7 205.0h0M484.8 213.5h0M480.2 211.3h0M481.5 213.1h0M488.8 197.9h0M489.4 209.0h0M515.5 198.7h0M483.8 201.9h0M520.7 203.4h0M512.1 202.5h0M507.1 196.5h0M485.0 200.5h0M497.6 208.4h0M499.9 199.1h0M481.9 208.2h0M499.6 210.0h0M518.9 203.9h0M496.6 200.6h0M515.2 203.8h0M514.3 201.3h0M487.6 204.7h0M488.1 211.4h0M509.2 205.1h0M505.1 206.7h0M496.5 204.8h0M491.6 209.5h0M514.4 196.7h0M484.8 213.1h0M486.7 209.4h0M486.5 201.9h0M502.2 195.3h0M515.8 206.7h0M490.8 197.2h0M492.0 205.3h0M499.2 208.3h0M508.8 205.9h0M482.8 208.2h0M487.8 209.5h0M482.2 212.6h0M484.1 213.5h0M512.3 203.8h0M495.2 202.9h0M505.4 195.8h0M492.4 205.7h0M506.3 201.0h0M491.6 199.3h0M503.5 204.3h0M499.2 199.7h0M509.0 206.5h0M499.8 212.7h0M487.9 206.1h0M491.4 201.5h0M501.5 212.1h0M492.5 206.3h0M510.5 204.8h0M500.5 205.1h0M507.3 198.8h0M478.4 208.6h0M484.8 204.1h0M487.1 210.5h0M491.6 208.3h0M501.3 199.2h0M512.6 207.4h0M478.6 209.2h0M488.3 212.4h0M500.1 198.1h0M493.2 200.4h0M521.2 201.8h0M510.6 204.0h0M490.6 206.8h0M498.8 197.5h0M490.1 205.5h0M495.2 196.9h0M501.6 208.5h0M508.7 196.8h0M491.1 215.4h0M503.2 202.8h0M505.4 195.6h0M499.4 200.5h0M490.5 209.9h0M488.6 207.5h0M501.5 200.5h0M481.6 214.0h0M506.9 200.6h0M488.3 200.7h0M508.4 209.8h0M480.1 204.8h0M487.7 204.8h0M510.5 209.8h0M497.5 207.4h0M519.3 205.3h0M489.4 199.2h0M505.0 196.0h0M494.8 202.5h0M505.3 210.3h0M483.1 214.0h0M504.8 201.0h0M493.3 201.9h0M504.8 208.9h0M487.4 208.4h0M497.0 210.5h0M494.3 210.1h0M492.6 205.6h0M501.7 202.5h0M508.5 205.0h0M485.7 203.7h0M485.1 200.1h0M499.8 204.5h0M487.7 207.0h0M492.6 199.7h0M498.7 202.8h0M497.0 207.1h0M509.1 201.6h0M517.9 198.9h0M479.9 210.1h0M496.0 214.3h0M498.6 207.9h0M486.5 203.3h0M498.6 195.0h0M496.6 210.8h0M511.1 198.0h0M505.4 205.9h0M511.0 203.3h0M481.7 205.7h0M499.0 211.2h0M483.3 209.5h0M482.2 208.3h0M504.8 200.5h0M491.5 210.7h0M488.3 206.0h0M509.0 206.2h0M492.6 204.5h0M480.1 203.6h0M520.7 202.6h0M503.1 196.3h0M505.1 209.1h0M501.2 198.9h0M481.4 204.1h0M508.4 196.7h0M490.4 204.5h0M517.7 199.9h0M507.3 200.2h0M482.3 212.9h0M513.4 206.6h0M515.0 198.6h0M491.7 203.2h0M492.2 209.0h0M490.2 214.4h0M496.2 208.9h0M504.5 206.6h0M490.4 199.2h0M510.8 201.1h0M492.5 199.6h0M508.4 201.2h0M507.9 205.7h0M500.7 206.0h0M519.4 204.7h0M505.9 204.6h0M514.5 196.8h0M492.1 198.5h0M495.9 195.8h0M495.4 200.2h0M501.3 198.9h0M500.2 208.4h0M514.1 202.7h0M494.7 206.0h0M499.0 206.7h0M490.4 215.0h0M493.3 198.8h0M487.6 212.5h0M491.1 196.5h0M490.5 197.3h0M503.9 195.5h0M491.2 212.8h0M519.1 200.6h0M484.7 204.2h0M520.4 201.5h0M481.2 203.5h0M516.8 204.4h0M514.6 199.6h0M515.7 202.8h0M507.7 200.7h0M484.5 213.3h0M500.9 197.1h0M479.7 209.0h0M488.1 211.5h0M479.0 206.5h0M488.7 204.0h0M486.7 205.0h0M493.9 198.3h0M517.8 202.6h0M496.6 195.9h0M521.6 204.2h0M488.5 200.1h0M515.7 197.5h0M485.8 206.0h0M488.5 208.1h0M509.5 196.9h0M483.5 203.2h0M515.5 208.3h0M484.3 206.1h0M512.7 200.2h0M517.5 197.3h0M487.2 212.9h0M510.1 200.9h0M517.5 202.2h0M480.1 204.5h0M496.5 196.0h0M500.0 200.5h0M485.6 205.7h0M490.5 211.5h0M494.2 200.2h0M521.5 202.4h0M497.6 196.1h0M498.1 210.2h0M492.9 213.0h0M484.4 211.2h0M493.4 214.0h0M493.7 195.8h0M504.6 210.5h0M478.4 211.9h0M489.7 206.5h0M486.2 202.9h0M505.2 210.1h0M514.5 198.7h0M492.1 209.3h0M482.7 208.2h0M486.0 205.3h0M496.7 203.4h0M514.2 205.3h0M491.0 208.6h0M485.1 210.8h0M513.1 196.5h0M489.4 205.0h0M506.1 203.3h0M492.6 197.7h0M503.9 205.1h0M492.0 204.8h0M505.7 199.1h0M495.7 208.9h0M506.9 210.0h0M510.6 198.9h0M516.3 206.3h0M489.0 212.6h0M493.9 212.3h0M490.2 201.7h0M482.2 211.0h0M500.0 197.7h0M501.3 199.8h0M489.6 206.6h0M489.8 200.2h0M479.7 205.3h0M506.8 198.6h0M512.9 207.0h0M507.0 198.2h0M479.4 206.6h0M509.2 196.4h0M486.3 207.4h0M508.9 205.0h0M488.8 206.4h0M495.7 197.1h0M518.2 198.9h0M497.9 202.7h0M482.9 205.0h0M490.8 210.2h0M502.2 200.1h0M510.4 207.5h0M506.8 206.0h0M491.3 205.5h0M501.8 199.2h0M484.2 208.8h0M497.3 203.3h0M499.2 208.9h0M498.5 212.1h0M521.3 202.0h0M491.7 205.6h0M483.3 210.5h0M499.0 210.6h0M496.1 200.5h0M490.2 214.7h0M512.9 208.5h0M481.3 203.5h0M495.6 210.9h0M481.8 208.1h0M499.2 204.1h0M505.7 199.0h0M517.9 205.4h0M504.8 203.6h0M492.6 209.8h0M519.1 206.3h0M493.4 199.3h0M490.8 210.8h0M508.1 198.5h0M491.1 211.4h0M492.5 199.2h0M504.6 202.6h0M514.5 203.3h0M493.6 209.1h0M506.5 199.3h0M507.4 201.1h0M518.5 199.6h0M496.7 203.2h0M497.4 196.8h0M490.5 200.8h0M504.1 198.9h0M493.9 207.2h0M487.8 208.8h0M505.6 204.8h0M482.1 204.1h0M517.9 206.3h0M521.4 201.2h0M499.5 205.7h0M509.4 198.8h0M490.5 208.0h0M512.2 198.9h0M508.4 201.9h0M502.7 208.6h0M508.5 208.8h0M496.9 200.0h0M495.3 207.8h0M503.0 202.7h0M509.1 203.8h0M503.2 204.4h0M502.5 202.7h0M483.2 206.4h0M476.1 209.5h0M490.3 205.7h0M500.5 207.3h0M491.2 210.9h0M493.0 199.4h0M494.7 202.8h0M512.4 198.3h0M497.9 208.4h0M486.8 207.3h0M521.8 202.5h0M494.2 201.5h0M488.2 210.6h0M492.6 202.5h0M478.7 211.4h0M493.6 209.4h0M488.3 206.5h0M490.0 206.4h0M506.8 199.0h0M483.5 212.7h0M490.4 201.8h0M491.0 208.0h0M505.7 203.7h0M493.8 215.1h0M505.7 207.2h0M509.2 197.4h0M498.3 206.1h0M486.6 200.4h0M520.9 205.8h0M512.0 203.7h0M482.5 208.9h0M505.6 200.4h0M521.0 205.1h0M515.5 201.3h0M492.8 214.6h0M480.4 207.6h0M487.1 203.0h0M518.1 199.0h0M521.4 201.5h0M519.7 206.9h0M518.9 204.6h0M505.3 199.9h0M474.5 209.6h0M501.0 200.9h0M518.8 205.1h0M520.4 202.7h0M496.8 209.4h0M498.6 201.0h0M516.7 206.9h0M490.2 201.8h0M515.7 200.2h0M505.0 200.1h0M505.0 204.4h0M505.0 207.4h0M478.3 208.6h0M494.6 196.4h0M481.5 203.6h0M493.3 203.7h0M494.7 202.8h0M497.8 209.9h0M484.4 200.7h0M487.8 200.6h0M497.9 205.9h0M488.8 205.3h0M498.9 196.3h0M477.4 211.8h0M488.0 199.1h0M500.8 202.1h0M506.7 202.9h0M510.9 208.5h0M498.3 198.0h0M520.3 201.3h0M493.9 202.9h0M491.9 199.0h0M485.2 207.6h0M496.9 208.3h0M494.9 211.7h0M509.8 199.3h0M481.0 206.5h0M503.0 198.5h0M497.3 209.8h0M498.5 198.9h0M521.6 201.0h0M500.1 196.9h0M516.4 206.0h0M494.3 205.4h0M503.9 197.8h0M495.7 206.9h0M510.3 199.1h0M492.4 207.7h0M517.0 199.0h0M494.7 211.3h0M489.7 197.5h0M492.8 204.3h0M483.1 209.2h0M522.1 202.9h0M517.2 199.0h0M497.1 211.3h0M489.9 196.5h0M506.9 206.7h0M516.5 202.6h0M501.1 203.8h0M494.8 203.1h0M507.8 205.2h0M498.5 208.1h0M501.8 204.0h0M514.0 198.4h0M490.1 201.0h0M513.6 205.8h0M481.8 203.4h0M491.7 200.3h0M494.3 207.2h0M479.2 211.6h0M484.5 201.1h0M514.2 205.9h0M495.8 203.4h0M521.0 199.0h0M514.1 208.3h0M484.7 208.8h0M494.0 205.8h0M488.6 201.0h0M478.3 210.3h0M505.0 199.2h0M506.1 197.2h0M488.5 208.0h0M491.5 214.5h0M493.9 204.5h0M503.9 202.4h0M510.6 196.9h0M514.7 201.5h0M501.8 211.2h0M476.9 207.8h0M492.3 199.2h0M511.9 206.2h0M497.7 199.0h0M514.5 206.1h0M519.8 201.4h0M504.5 209.6h0M494.5 200.4h0M501.3 196.8h0M512.2 207.9h0M499.0 212.6h0M502.6 204.7h0M502.8 202.9h0M488.0 210.6h0M510.0 208.0h0M497.7 210.5h0M515.5 205.9h0M506.6 196.6h0M507.4 209.1h0M498.0 204.9h0M515.9 205.2h0M516.4 203.7h0M508.6 198.7h0M498.7 211.0h0M513.2 207.2h0M495.6 206.2h0M507.9 207.5h0M502.3 207.2h0M502.5 199.2h0M494.5 204.7h0M485.8 212.7h0M497.5 211.5h0M491.6 200.8h0M518.8 200.8h0M498.7 194.9h0M484.4 206.9h0M498.4 196.5h0M521.3 199.3h0M511.6 209.8h0M496.7 210.7h0M508.5 205.7h0M503.7 205.2h0M498.5 207.1h0M484.2 205.4h0M499.9 195.3h0M482.6 205.5h0M511.2 199.1h0M498.7 198.2h0M493.5 200.6h0M492.2 206.3h0M489.5 214.8h0M491.7 212.5h0M509.6 202.5h0M488.8 204.0h0M505.3 206.2h0M499.9 208.4h0M480.9 203.3h0M504.1 197.5h0M499.9 207.7h0M488.3 204.8h0M517.0 201.8h0M489.0 211.2h0M494.0 204.8h0M490.4 207.0h0M504.2 208.6h0M499.6 202.5h0M493.4 205.8h0M521.7 199.7h0M498.9 210.0h0M499.1 204.6h0M488.3 198.6h0M510.2 204.9h0M504.6 209.5h0M500.5 209.6h0M496.3 205.7h0M510.8 209.6h0M496.0 212.3h0M520.9 205.6h0M507.0 201.1h0M506.5 199.1h0M504.3 202.1h0M502.1 208.7h0M513.3 198.1h0M511.6 197.9h0M495.4 209.0h0M493.6 203.7h0M510.3 209.4h0M494.0 207.9h0M497.6 196.4h0M520.9 204.4h0M475.8 208.6h0M514.5 198.2h0M520.6 203.2h0M497.0 211.2h0M502.1 195.0h0M491.8 207.1h0M509.8 201.5h0M495.4 197.9h0M505.2 206.9h0M486.4 212.1h0M488.4 214.0h0M490.9 209.9h0M490.8 198.1h0M483.6 201.3h0M477.8 206.1h0M498.4 195.2h0M520.7 203.6h0M495.2 208.1h0M479.8 206.4h0M492.9 213.5h0M486.5 210.7h0M506.5 198.8h0M515.8 201.7h0M506.3 204.4h0M505.8 203.0h0M500.4 206.5h0M480.1 204.9h0M504.7 209.3h0M496.8 202.1h0M492.6 202.9h0M494.3 207.0h0M505.3 207.7h0M492.5 202.0h0M489.9 213.4h0M512.6 199.3h0M496.8 208.0h0M494.0 198.9h0M487.6 213.2h0M491.8 203.9h0M494.1 199.6h0M492.5 214.9h0M493.7 210.4h0M483.4 209.7h0M504.2 199.5h0M500.6 202.9h0M517.0 201.9h0M501.5 207.4h0M492.3 210.0h0M505.7 205.3h0M505.4 201.7h0M483.6 212.6h0M489.6 211.0h0M479.9 207.0h0M520.5 203.4h0M495.3 198.6h0M511.3 196.5h0M476.4 209.7h0M515.3 204.0h0M488.2 210.6h0M497.4 212.4h0M495.1 197.5h0M486.8 211.9h0M508.3 205.7h0M503.1 205.4h0M494.9 199.1h0M503.6 205.2h0M490.5 214.9h0M491.6 204.6h0M485.3 201.0h0M494.0 201.3h0M485.3 214.0h0M498.3 196.2h0M517.0 203.2h0M481.9 202.8h0M485.8 207.0h0M487.3 203.8h0M514.4 205.7h0M493.5 196.4h0M488.5 205.8h0M498.8 210.1h0M517.9 201.4h0M491.5 209.3h0M497.9 210.7h0M499.0 210.9h0M483.9 201.2h0M510.8 197.9h0M496.3 196.8h0M509.2 206.7h0M506.6 206.9h0M514.0 209.4h0M514.0 204.8h0M478.6 207.7h0M485.2 214.1h0M496.3 202.2h0M502.9 202.5h0M502.8 196.1h0M500.4 195.0h0" stroke="#ff7f0e" stroke-width="1.6" stroke-linecap="round" fill="none"/>
<polygon points="425.9,195.4 428.4,195.0 431.8,196.1 435.3,197.7 435.9,199.4 433.9,199.9 430.4,198.5 427.0,197.5 425.7,196.7" fill="#8c564b"/>
<path d="M425.7 195.8h0M430.3 197.6h0M434.0 198.3h0M425.2 195.3h0M432.5 197.4h0M427.6 197.5h0M428.1 195.1h0M429.9 197.0h0M428.6 196.3h0M430.4 197.9h0M425.2 196.5h0M424.9 196.2h0M428.6 194.6h0M434.3 198.1h0M430.5 197.8h0M428.9 196.9h0M427.8 195.1h0M431.7 199.0h0M431.5 196.1h0M433.5 199.7h0M425.6 196.2h0M436.3 199.3h0M429.6 197.7h0M434.4 199.5h0M437.0 199.4h0M424.5 195.5h0M429.5 195.4h0M434.3 199.1h0M425.2 195.0h0M426.6 196.9h0M430.2 197.5h0M432.0 196.9h0M431.9 197.6h0M432.2 196.8h0M430.0 196.5h0M431.3 195.9h0M426.2 196.9h0M435.3 197.2h0M427.2 197.0h0M436.6 199.6h0M431.1 198.1h0M434.5 197.9h0M433.6 196.3h0M431.1 195.3h0M428.3 196.4h0M428.1 196.6h0M434.7 198.2h0M434.4 198.3h0M428.6 196.4h0M431.1 197.4h0M435.0 199.1h0M430.9 196.6h0M429.6 196.1h0M429.0 194.7h0M432.9 196.7h0" stroke="#8c564b" stroke-width="1.6" stroke-linecap="round" fill="none"/>
<path d="M492.7 221.1h0M482.1 218.9h0M485.8 212.1h0M501.3 213.9h0M487.1 215.0h0M496.4 223.7h0M494.0 211.3h0M499.1 220.3h0M503.9 218.0h0M499.4 215.3h0M481.2 213.0h0M471.0 212.0h0M492.1 221.7h0M473.6 213.4h0M485.5 211.2h0M478.5 220.5h0M491.1 226.7h0M490.1 223.0h0M492.5 224.8h0M478.3 209.4h0M495.3 223.8h0M474.9 214.8h0M481.1 220.4h0M497.6 225.8h0M491.3 210.5h0M481.4 224.2h0M498.3 216.8h0M491.3 222.8h0M475.4 214.6h0M479.8 226.0h0M468.4 215.9h0M477.3 215.3h0M467.7 214.7h0M477.1 224.3h0M498.1 218.9h0M467.2 217.0h0M488.7 220.3h0M469.2 210.2h0M471.5 215.0h0M488.1 214.4h0M471.8 209.5h0M476.3 211.7h0M501.4 214.7h0M480.0 226.4h0M499.8 211.2h0M490.1 217.4h0M485.5 217.3h0M480.8 219.1h0M493.0 229.0h0M480.2 218.9h0M491.0 212.2h0M471.4 208.9h0M468.1 215.8h0M471.0 212.8h0M477.6 214.4h0M480.8 224.1h0M492.5 223.7h0M474.2 215.1h0M484.4 217.0h0M501.3 219.6h0M486.6 213.0h0M484.9 213.0h0M485.8 226.3h0M490.3 227.6h0M485.5 211.0h0M498.8 219.9h0M496.5 226.6h0M494.4 213.0h0M482.3 222.6h0M503.7 221.1h0M476.2 213.9h0M498.1 228.4h0M468.3 209.1h0M481.9 226.1h0M481.9 219.3h0" stroke="#ff7f0e" stroke-width="1.6" stroke-linecap="round" fill="none"/>
<path d="M475.1 208.3h0M441.3 201.1h0M464.3 208.7h0M453.2 204.1h0M445.6 204.9h0M444.0 202.4h0M453.0 209.2h0M457.0 208.5h0M466.6 208.7h0M441.4 203.6h0M462.9 204.5h0M437.2 199.6h0M475.1 210.4h0M465.2 207.5h0" stroke="#ff7f0e" stroke-width="1.5" stroke-linecap="round" fill="none"/>
<path d="M459.2 206.9h0M471.5 208.5h0M445.7 200.7h0M443.7 200.8h0M438.3 199.9h0M448.2 206.6h0M450.8 205.0h0M455.1 206.5h0M442.5 201.9h0M465.3 204.7h0M462.1 204.7h0M440.9 204.0h0" stroke="#6a7f9c" stroke-width="1.4" stroke-linecap="round" fill="none"/>
<path d="M488.6 226.5h0M490.0 232.0h0M499.0 235.5h0M497.0 240.0h0M474.5 252.5h0M459.5 252.5h0M465.3 215.5h0M462.0 211.0h0M458.0 212.0h0M470.0 221.0h0M483.0 229.0h0M475.0 227.0h0" stroke="#ff7f0e" stroke-width="1.6" stroke-linecap="round" fill="none"/>
<path d="M441.0 203.6h0M444.5 205.5h0M447.5 206.5h0M449.0 209.5h0M452.0 212.0h0" stroke="#6a7f9c" stroke-width="1.4" stroke-linecap="round" fill="none"/>
<path d="M484.0 206.0h0M490.0 207.5h0M486.0 203.0h0M492.0 209.5h0M498.0 201.0h0M505.0 205.0h0M459.0 214.5h0M466.0 213.0h0" stroke="#279e68" stroke-width="1.4" stroke-linecap="round" fill="none"/>
<path d="M433.0 200.5h0M435.0 201.5h0M438.0 203.0h0" stroke="#8c564b" stroke-width="1.4" stroke-linecap="round" fill="none"/>
<line x1="647.20" y1="255.40" x2="654.20" y2="250.90" stroke="#e377c2" stroke-width="2.0" stroke-linecap="round"/>
<circle cx="647.30" cy="255.60" r="1.00" fill="#7a7aa8"/>
<polygon points="579.6,292.1 581.0,291.4 582.6,291.9 584.0,292.1 586.1,291.4 589.0,291.1 592.5,291.4 595.5,292.1 596.7,293.6 596.4,296.1 595.5,297.6 593.4,298.6 591.5,299.3 589.5,299.1 586.6,298.6 584.0,298.1 582.6,296.6 582.1,295.1 581.0,293.6 579.8,292.9" fill="#2275b4"/>
<path d="M597.8 295.8h0M586.4 293.5h0M595.2 293.3h0M596.3 292.1h0M596.6 294.7h0M594.0 292.3h0M583.4 296.9h0M593.3 297.3h0M592.9 299.1h0M585.4 295.7h0M589.7 295.5h0M588.5 296.0h0M596.1 297.3h0M592.4 299.3h0M591.3 291.6h0M584.4 293.1h0M592.3 292.7h0M594.3 297.4h0M591.1 292.6h0M597.4 296.2h0M586.6 295.0h0M589.4 295.3h0M597.4 294.1h0M589.7 296.2h0M581.2 292.6h0M587.1 292.7h0M586.0 297.4h0M592.3 299.6h0M585.7 291.3h0M596.4 294.5h0M586.2 291.4h0M583.8 296.5h0M587.6 291.6h0M588.9 297.4h0M595.5 292.6h0M595.0 292.6h0M590.9 293.9h0M586.7 297.0h0M596.9 293.9h0M593.1 299.3h0M590.8 291.0h0M596.3 294.3h0M597.6 293.7h0M592.1 299.4h0M586.6 296.7h0M588.3 298.9h0M594.0 297.2h0M592.5 297.5h0M589.9 295.7h0M581.9 294.9h0M583.3 292.5h0M586.8 293.7h0M596.7 296.7h0M579.2 290.8h0M593.4 294.4h0M590.9 295.3h0M596.9 295.9h0M593.7 294.5h0M595.4 296.3h0M582.6 295.3h0M590.8 291.0h0M593.0 297.3h0M587.1 291.7h0M585.4 293.5h0M587.7 293.8h0M584.9 293.2h0M589.2 296.9h0M580.0 294.8h0M595.9 295.1h0M580.8 291.9h0M585.1 297.2h0M587.7 292.8h0M588.9 294.6h0M584.7 291.4h0M591.4 291.1h0M586.4 295.9h0M589.8 291.9h0M593.2 291.9h0M591.3 291.6h0M597.0 296.7h0M590.0 296.6h0M582.4 292.1h0M592.6 298.1h0M593.2 295.1h0M586.9 297.6h0M596.6 296.9h0M591.7 296.2h0M593.3 294.1h0M588.7 296.0h0M595.0 298.2h0M585.7 298.3h0M587.0 296.8h0M591.4 295.0h0M588.3 296.6h0M591.1 293.3h0M589.0 295.3h0M589.7 290.6h0M586.1 291.3h0M583.8 297.1h0M588.0 293.9h0M585.0 293.7h0M594.6 298.3h0M581.0 292.2h0M581.8 292.7h0M591.4 296.0h0M587.8 291.6h0M588.4 300.2h0M587.2 297.5h0M591.7 291.6h0M586.6 294.0h0M578.2 291.6h0M591.1 298.7h0M581.2 292.1h0M583.0 293.8h0M584.2 295.1h0M591.2 296.3h0M587.8 298.7h0M593.8 297.7h0M584.9 294.3h0M591.4 293.3h0M597.5 293.0h0M582.3 292.9h0M589.5 293.6h0M585.6 295.2h0M583.3 298.1h0M589.0 293.3h0M592.1 295.0h0M583.5 298.8h0M584.3 295.2h0M580.7 293.3h0M579.8 292.5h0M589.3 294.0h0M585.7 297.6h0M592.4 299.2h0M580.6 291.5h0M596.2 297.1h0M590.7 293.1h0M593.7 292.0h0M595.9 295.7h0M581.1 292.0h0M583.2 297.5h0M592.3 298.9h0M587.6 293.5h0M590.8 295.3h0M590.3 293.1h0M582.6 296.3h0M584.3 297.8h0M588.6 292.0h0M582.8 293.9h0M591.9 295.1h0M597.2 295.7h0M589.6 290.6h0M587.8 297.1h0M588.7 295.3h0M595.2 298.2h0M592.4 293.4h0M585.5 294.6h0M583.7 294.0h0M594.9 298.5h0M580.4 292.4h0M592.4 299.1h0M590.7 295.2h0M584.1 295.1h0M582.8 291.9h0M581.4 292.5h0M594.8 295.0h0M597.6 292.3h0M589.6 290.7h0M595.5 291.3h0M585.7 292.6h0M591.9 292.1h0M585.3 292.1h0M592.4 291.3h0M584.2 296.6h0M591.6 295.9h0M591.5 298.5h0M595.2 291.2h0M592.4 296.4h0M585.9 290.9h0M590.4 290.5h0M582.4 296.3h0M594.8 299.1h0M586.4 291.2h0M590.8 290.9h0M589.4 291.7h0M593.5 296.9h0M582.6 292.9h0M593.6 293.1h0M587.7 295.3h0M588.6 298.3h0M593.9 294.9h0M589.6 296.5h0M594.1 298.1h0M588.1 295.5h0M595.0 293.3h0M583.3 292.8h0" stroke="#2275b4" stroke-width="1.5" stroke-linecap="round" fill="none"/>
<circle cx="594.80" cy="295.20" r="0.90" fill="#40506a"/>
<circle cx="591.00" cy="299.90" r="0.90" fill="#40506a"/>
<polygon points="476.5,362.7 477.2,363.0 477.2,367.2 477.6,370.0 478.6,371.4 480.5,372.1 480.7,374.1 481.8,376.0 483.1,377.4 484.4,379.4 484.7,382.0 484.4,384.0 483.1,384.4 481.8,383.4 480.5,382.0 479.8,380.0 479.1,378.1 477.8,377.4 476.5,376.7 475.1,375.4 473.8,374.1 473.7,371.4 473.5,367.2 474.0,363.0" fill="#5d7b96"/>
<path d="M482.4 379.6h0M474.6 362.5h0M476.6 371.5h0M483.3 383.9h0M476.4 362.6h0M483.0 381.8h0M483.9 379.3h0M478.5 372.0h0M475.6 365.2h0M482.3 378.1h0M473.0 358.1h0M476.0 371.3h0M479.9 379.7h0M473.9 369.7h0M475.7 365.6h0M475.0 368.2h0M476.2 366.9h0M475.1 359.7h0M474.5 367.8h0M472.2 364.6h0M480.5 378.9h0M484.6 387.4h0M482.4 380.5h0M482.4 381.3h0M474.8 373.0h0M483.8 384.6h0M472.1 374.6h0M475.2 357.8h0M483.7 381.8h0M474.1 357.5h0M472.6 370.6h0M473.7 359.4h0M471.8 363.8h0M475.6 371.2h0M483.6 377.7h0M485.9 381.9h0M486.3 387.3h0M474.9 371.7h0M481.4 378.7h0M487.0 383.9h0M474.8 363.6h0M473.1 360.4h0M475.9 371.5h0M471.9 361.4h0M473.6 372.2h0M475.2 363.0h0M472.9 367.7h0M472.5 364.3h0M481.6 383.9h0M476.1 374.8h0M475.0 376.4h0M476.1 362.9h0M482.5 381.5h0M474.7 362.9h0M484.1 381.6h0M471.5 363.3h0M481.3 375.9h0M475.1 377.1h0M474.4 364.9h0M475.9 377.6h0M473.7 365.2h0M476.0 373.9h0M474.0 364.2h0M473.7 360.6h0M482.1 385.4h0M472.4 360.0h0M481.6 385.1h0M474.7 358.0h0M474.9 369.9h0M474.0 364.9h0M472.8 360.1h0M476.8 371.3h0M480.8 376.8h0M486.5 386.1h0M484.2 382.5h0M481.1 382.3h0M473.6 372.9h0M475.8 360.7h0M475.0 374.0h0M476.8 377.0h0M480.6 372.1h0M480.9 372.8h0M475.7 363.6h0M476.2 376.8h0M478.0 370.9h0M474.1 369.1h0M472.5 358.4h0M482.5 381.4h0M476.7 365.4h0M476.1 363.0h0M479.8 374.3h0M486.6 387.3h0M473.6 376.1h0M472.3 371.8h0M472.5 367.9h0M473.8 375.5h0M473.2 371.3h0M473.9 370.2h0M484.2 385.3h0M472.8 365.5h0M479.3 373.5h0M471.9 371.1h0M472.1 362.5h0M481.0 374.6h0M483.6 378.7h0M476.8 375.8h0M476.8 375.8h0M475.5 372.9h0M475.2 377.0h0M474.3 359.7h0M484.2 378.5h0M480.5 372.6h0M478.4 370.2h0M472.4 365.8h0M472.8 359.8h0M481.0 376.2h0M483.1 380.3h0M478.3 371.5h0M482.0 380.8h0M478.4 373.9h0M473.4 365.5h0M480.1 381.8h0M481.7 379.3h0M481.2 383.6h0M473.5 364.2h0M476.3 376.1h0M472.5 373.6h0M484.4 382.7h0M480.6 383.2h0M481.8 377.8h0M474.8 368.4h0M477.6 375.3h0M471.9 369.5h0M474.9 366.8h0M476.0 366.6h0M475.8 365.1h0M482.7 380.7h0M478.7 371.8h0M472.1 358.2h0M474.0 361.8h0M475.9 377.1h0M474.2 374.4h0M474.9 362.2h0M480.3 379.6h0M475.3 368.9h0M471.9 359.0h0M483.0 384.2h0M474.3 364.0h0M475.1 369.3h0M473.5 373.8h0M478.6 371.6h0M482.2 377.5h0M472.0 364.5h0M478.5 375.8h0M482.6 378.9h0M473.8 373.1h0M474.3 373.1h0M474.1 358.8h0M478.9 374.7h0M479.4 379.5h0M482.7 385.0h0M472.1 366.2h0M486.9 384.0h0M484.5 384.9h0M478.1 369.3h0M476.2 361.1h0M480.6 382.8h0M475.4 365.0h0M476.7 366.2h0M474.9 365.2h0M476.3 370.1h0M474.3 360.9h0M484.1 380.6h0M474.8 375.7h0M477.5 374.9h0M484.0 387.4h0M478.9 370.3h0M476.6 372.1h0M475.1 369.6h0M485.8 384.5h0M477.1 373.9h0M471.9 365.1h0M477.5 371.7h0M484.9 383.6h0M485.0 382.7h0M473.2 367.8h0M478.5 376.9h0M485.2 382.0h0M473.8 360.0h0M480.5 381.7h0M473.2 367.3h0M475.1 374.3h0M479.7 375.0h0M481.4 376.4h0M476.1 367.3h0M481.7 384.7h0M472.4 362.1h0M476.7 375.0h0M475.0 365.4h0M484.3 385.6h0M481.5 380.0h0M479.9 382.9h0M485.5 383.7h0M482.5 383.2h0M472.4 358.6h0M483.0 380.1h0M471.6 367.5h0M476.9 363.6h0M485.0 386.1h0M474.2 370.7h0M486.0 386.2h0M474.1 365.5h0M478.6 378.4h0M473.5 361.7h0M483.3 387.2h0M484.0 377.4h0M486.4 386.4h0M477.0 376.4h0M472.5 358.7h0M478.6 375.9h0M476.4 367.9h0M475.2 371.7h0M481.0 378.6h0M474.4 359.5h0M484.5 388.0h0M477.4 370.9h0M483.1 382.3h0M471.8 366.7h0M484.9 385.6h0M482.3 382.4h0M479.5 378.1h0M473.9 369.8h0M479.1 377.1h0M485.6 384.6h0M483.9 378.8h0M476.1 372.2h0M481.0 378.7h0M478.6 372.4h0M483.1 384.3h0M480.4 379.5h0M481.3 374.6h0M484.5 383.3h0M476.5 377.1h0M473.4 374.6h0M476.9 368.3h0M484.0 383.2h0M476.2 370.9h0M472.4 364.7h0M475.0 366.7h0M482.2 382.8h0M474.2 362.5h0M477.1 367.7h0M475.7 364.5h0M484.9 383.1h0M486.0 387.3h0M474.0 375.1h0M475.5 366.1h0M474.5 374.5h0M486.3 381.6h0" stroke="#5d7b96" stroke-width="1.6" stroke-linecap="round" fill="none"/>
<path d="M467.1 379.5h0M472.0 374.3h0M469.9 377.5h0M464.4 382.1h0M470.9 376.4h0M465.2 383.9h0M470.1 378.8h0M470.7 376.5h0M464.5 383.4h0M468.6 379.4h0M471.0 374.5h0M466.6 381.6h0M470.3 376.4h0M470.8 375.9h0M467.6 381.1h0M465.1 382.4h0M466.2 379.6h0M469.6 378.2h0M466.0 379.6h0M472.6 375.0h0M467.7 378.9h0M470.5 376.8h0M467.2 377.0h0M466.8 378.6h0M465.1 382.6h0M466.0 381.3h0M464.6 384.1h0M468.8 379.9h0M466.9 379.2h0M469.7 377.0h0M466.6 380.6h0M472.1 374.7h0M470.4 374.9h0M468.4 379.2h0M473.5 375.2h0M469.6 378.6h0M469.1 379.0h0M466.9 382.0h0M467.8 378.6h0M466.0 380.1h0M473.6 375.6h0M463.0 384.3h0M474.1 374.9h0M466.3 378.3h0M473.8 374.2h0M467.6 379.8h0M469.0 377.9h0" stroke="#5d7b96" stroke-width="1.5" stroke-linecap="round" fill="none"/>
<path d="M468.7 384.2h0M468.2 389.0h0M467.5 386.5h0M477.2 381.8h0M478.3 388.3h0M477.0 386.0h0M492.4 376.5h0M494.5 376.8h0M493.5 377.3h0M466.0 383.0h0" stroke="#5d7b96" stroke-width="1.7" stroke-linecap="round" fill="none"/>
<polygon points="453.9,390.5 455.9,389.6 458.6,388.9 461.8,389.2 464.5,391.2 465.2,392.1 462.5,392.2 459.2,391.9 455.9,391.7 454.0,391.4" fill="#b5bd61"/>
<path d="M463.3 389.3h0M463.6 390.5h0M453.2 390.8h0M457.7 392.4h0M467.2 392.3h0M461.0 391.2h0M463.2 390.1h0M459.6 391.0h0M460.9 391.8h0M465.9 391.5h0M465.0 392.1h0M460.9 392.4h0M461.4 388.6h0M462.9 392.4h0M464.6 389.2h0M460.7 388.6h0M466.1 392.6h0M457.8 390.4h0M460.2 388.3h0M461.9 389.3h0M465.4 392.0h0M458.0 390.1h0M459.6 390.4h0M457.7 389.1h0M458.8 388.8h0M457.9 388.4h0M454.7 391.0h0M466.8 392.3h0M466.0 390.4h0M456.1 391.9h0M464.5 391.7h0M459.2 388.8h0M464.8 391.7h0M466.5 391.4h0M458.4 392.0h0M464.2 391.1h0M461.5 388.8h0M453.0 390.5h0M463.8 390.3h0M460.7 392.1h0M453.3 390.6h0M461.0 391.3h0M458.4 389.4h0M465.0 390.2h0M459.0 392.4h0M456.2 388.5h0M460.2 389.9h0M455.0 389.8h0M456.3 391.3h0M456.4 389.0h0M466.2 390.9h0M455.0 390.4h0M455.2 388.9h0M462.0 389.4h0M453.0 389.7h0M465.7 391.0h0M456.9 390.6h0M466.4 392.1h0M453.2 390.6h0M461.1 391.1h0M458.7 388.5h0M456.2 389.8h0M454.1 390.2h0M460.8 392.3h0M459.6 391.0h0M458.7 388.3h0M462.5 389.5h0M455.1 389.8h0M455.2 389.9h0M462.4 390.9h0M457.4 388.2h0" stroke="#b5bd61" stroke-width="1.4" stroke-linecap="round" fill="none"/>
<circle cx="476.70" cy="381.80" r="1.10" fill="#b5bd61"/>
<circle cx="472.80" cy="373.50" r="1.00" fill="#b5bd61"/>
<circle cx="458.30" cy="387.60" r="1.00" fill="#ff7f0e"/>
<circle cx="461.60" cy="387.60" r="1.00" fill="#1f77b4"/>
<polygon points="470.4,393.3 474.1,392.3 478.1,391.9 482.2,391.5 485.3,390.9 486.6,389.3 487.8,385.6 489.4,384.5 490.2,386.5 491.0,389.7 493.4,391.3 496.6,392.5 499.8,393.7 502.3,396.2 502.6,399.4 501.5,401.8 499.1,403.0 495.8,401.8 491.8,399.4 487.8,397.4 483.8,396.2 479.7,395.2 475.7,394.4 471.6,393.7" fill="#d62728"/>
<path d="M480.2 392.6h0M494.6 398.6h0M497.0 400.8h0M481.6 395.7h0M480.4 395.5h0M471.3 393.3h0M496.5 398.3h0M496.8 401.1h0M486.2 390.1h0M494.6 391.6h0M497.9 396.0h0M502.3 397.1h0M496.0 395.0h0M484.4 395.6h0M487.5 393.6h0M497.3 392.3h0M486.2 395.8h0M499.7 399.4h0M491.1 399.1h0M486.0 391.0h0M474.2 393.7h0M489.9 394.9h0M469.3 393.4h0M480.1 391.9h0M496.6 397.2h0M486.2 391.0h0M476.2 394.8h0M501.2 400.1h0M489.0 386.8h0M489.0 386.4h0M500.9 393.9h0M484.3 391.3h0M500.8 402.9h0M498.6 399.5h0M499.0 393.8h0M488.5 391.4h0M488.5 395.6h0M479.9 392.0h0M469.9 393.1h0M478.3 394.9h0M491.4 398.3h0M491.4 395.2h0M492.5 391.0h0M477.2 392.1h0M474.6 392.5h0M478.7 394.2h0M486.6 396.1h0M500.2 402.5h0M470.3 392.5h0M496.9 399.7h0M481.8 394.8h0M500.5 400.3h0M497.5 394.5h0M492.1 397.0h0M503.7 396.0h0M493.9 396.1h0M485.0 396.1h0M498.9 399.1h0M493.6 400.0h0M503.7 401.2h0M484.9 395.7h0M475.4 392.9h0M504.1 399.1h0M489.0 385.8h0M494.0 392.9h0M502.0 396.9h0M490.9 399.3h0M489.2 391.6h0M488.9 385.2h0M482.7 395.6h0M488.5 398.4h0M495.6 395.4h0M493.3 397.1h0M484.1 395.6h0M495.7 393.9h0M489.0 386.9h0M495.6 395.1h0M494.7 392.1h0M498.7 394.6h0M489.9 384.7h0M503.2 400.1h0M490.7 388.1h0M499.3 402.7h0M481.8 391.9h0M489.6 384.3h0M484.7 391.9h0M502.3 400.2h0M495.4 395.4h0M487.5 388.4h0M496.6 400.5h0M487.3 390.6h0M477.6 392.5h0M503.5 403.4h0M500.7 395.7h0M497.6 397.0h0M478.5 395.2h0M500.9 397.7h0M499.1 394.0h0M488.5 390.5h0M496.7 401.0h0M502.7 394.9h0M495.4 400.7h0M490.8 394.3h0M482.4 393.2h0M496.6 400.8h0M489.8 383.4h0M493.8 393.3h0M476.8 391.7h0M494.0 394.0h0M489.7 387.1h0M500.5 397.3h0M481.2 392.2h0M502.3 399.4h0M476.3 395.0h0M489.2 385.7h0M490.0 387.2h0M497.4 399.9h0M489.1 392.6h0M493.3 398.7h0M477.2 392.2h0M479.8 392.3h0M503.1 400.6h0M497.4 393.7h0M488.0 396.6h0M494.5 391.8h0M495.1 392.8h0M478.8 394.4h0M487.9 395.0h0M498.2 392.9h0M470.5 392.3h0M471.4 392.9h0M483.3 391.6h0M475.3 391.7h0M495.7 401.0h0M482.1 394.6h0M489.8 384.3h0M486.0 392.8h0M504.6 400.7h0M498.3 397.5h0M495.7 392.9h0M490.5 387.7h0M486.7 395.2h0M489.7 396.2h0M489.9 389.3h0M502.4 400.3h0M492.1 398.8h0M504.0 401.9h0M490.8 394.9h0M488.9 388.0h0M489.8 388.9h0M481.3 395.8h0M492.0 397.3h0M494.1 396.0h0M490.6 385.2h0M504.0 401.4h0M482.9 391.0h0M478.4 393.7h0M499.4 396.2h0M501.1 400.2h0M504.0 400.9h0M495.0 394.3h0M501.9 402.7h0M482.9 391.2h0M503.3 398.8h0M504.2 399.8h0M490.5 397.4h0M489.2 398.3h0M483.2 392.0h0M496.8 398.6h0M486.6 390.0h0M500.7 404.7h0M485.1 390.7h0M494.9 397.1h0M476.9 392.7h0M489.8 386.6h0M502.0 395.2h0M501.1 402.7h0M489.8 386.0h0M490.4 386.9h0M500.7 398.2h0M481.8 392.1h0M499.6 397.1h0M497.0 397.7h0M496.6 401.6h0M501.4 397.7h0M501.3 397.8h0M492.6 397.0h0M483.7 397.0h0M488.2 384.6h0M474.4 392.4h0M503.5 398.2h0M496.6 399.1h0M491.6 391.2h0M493.1 398.0h0M474.6 392.6h0M490.5 391.7h0M470.3 392.6h0M489.9 395.0h0M489.0 394.5h0M496.8 398.5h0M493.0 392.9h0M501.6 399.3h0M487.0 395.1h0M498.2 399.7h0M479.9 393.2h0M488.4 395.2h0M498.1 398.0h0M474.7 393.6h0M489.0 387.7h0M493.2 391.8h0M500.8 394.4h0M491.8 397.3h0M491.0 399.4h0M485.6 390.6h0M496.9 393.6h0M490.7 398.5h0M480.5 393.0h0M494.6 397.8h0M497.6 398.5h0M492.0 397.2h0M484.7 394.1h0M501.5 401.7h0M488.2 390.1h0M494.0 401.2h0M492.4 397.3h0M494.0 396.9h0M489.8 391.0h0M481.5 395.6h0M501.3 403.2h0M493.2 392.9h0M500.1 397.6h0M504.3 396.9h0M480.4 393.3h0M478.0 394.7h0M500.7 394.8h0M494.1 400.9h0M480.2 395.1h0M496.6 394.8h0M501.4 396.3h0M491.2 392.7h0M484.4 395.1h0M489.1 397.3h0M496.3 400.4h0M498.1 403.0h0M498.5 399.6h0M501.2 401.6h0M474.0 392.9h0M494.4 397.5h0M500.3 402.3h0M501.2 398.5h0M484.7 396.5h0M489.2 391.3h0M505.5 397.5h0M490.3 396.9h0M489.6 389.9h0M483.0 392.7h0M491.1 388.3h0M496.1 396.5h0M478.6 394.2h0M492.2 399.3h0M489.5 397.7h0M496.9 400.7h0M495.0 396.3h0M495.0 401.3h0M503.0 398.8h0M483.6 393.2h0M502.5 399.3h0M498.7 392.7h0M482.5 391.5h0M489.9 392.6h0M477.3 392.2h0M492.2 392.6h0M486.1 391.3h0M490.7 386.7h0M492.7 400.6h0M502.4 398.2h0M491.6 396.7h0M490.5 388.5h0M485.7 392.5h0M489.4 398.2h0M501.0 395.3h0M488.2 395.4h0M492.5 390.8h0M488.5 386.8h0M484.0 391.9h0M492.0 399.7h0M488.0 393.9h0M498.7 400.0h0M485.7 396.3h0M492.8 393.0h0M505.3 397.5h0M484.2 395.2h0M501.3 394.7h0M498.4 397.9h0M490.0 395.2h0M483.6 395.1h0M489.3 393.7h0M487.9 388.9h0M490.5 385.1h0M504.8 397.4h0M498.6 393.5h0M499.2 395.5h0M479.1 391.9h0M490.3 393.3h0M494.4 391.7h0M499.1 399.7h0M481.0 391.2h0M498.5 393.2h0M500.9 398.6h0M488.2 391.1h0M501.2 398.7h0M496.2 395.0h0M478.7 394.7h0M488.5 388.5h0M482.3 395.3h0M479.1 392.8h0M491.7 399.4h0M489.7 390.3h0M490.1 388.2h0M479.7 394.5h0M493.2 395.5h0M487.4 392.8h0M477.4 394.0h0M486.2 394.8h0M483.2 393.1h0M490.6 391.3h0M488.1 395.8h0M500.2 399.6h0M491.0 398.9h0M492.0 399.1h0M489.8 388.8h0M502.8 401.3h0M495.3 391.7h0M502.9 399.6h0M495.7 395.1h0M483.4 396.5h0M481.8 393.2h0M504.2 395.5h0M484.4 392.6h0M480.7 391.9h0M492.6 399.8h0M501.0 402.8h0M478.4 391.2h0M493.5 395.8h0M478.4 391.5h0M502.4 401.2h0M499.8 394.3h0M483.5 396.3h0M494.3 396.9h0M491.8 393.5h0M482.4 395.9h0M487.0 388.2h0M491.5 398.3h0M481.1 395.6h0M501.9 395.7h0M495.4 398.5h0M487.2 388.4h0M493.9 395.4h0M489.4 387.8h0M496.0 395.5h0M483.4 392.1h0M489.9 398.5h0M480.1 394.1h0M481.9 393.6h0M501.7 403.5h0M499.7 398.7h0M488.6 393.7h0M499.4 402.6h0M501.1 395.5h0M470.1 393.5h0M482.1 390.7h0M471.4 393.3h0M500.5 397.2h0M494.0 398.0h0M489.6 388.8h0M488.0 393.8h0M492.1 391.2h0M480.8 393.9h0M501.0 396.1h0M488.1 386.4h0M492.5 392.3h0M499.4 401.7h0M489.2 388.0h0M490.4 389.0h0M497.7 401.6h0M475.6 392.0h0M487.4 391.3h0M491.3 390.0h0M498.7 397.3h0M473.3 394.5h0M489.1 393.0h0M488.5 394.3h0M485.1 396.5h0" stroke="#d62728" stroke-width="1.6" stroke-linecap="round" fill="none"/>
<path d="M484.3 377.9h0M486.0 380.0h0M488.0 379.5h0M489.0 381.0h0" stroke="#d62728" stroke-width="1.7" stroke-linecap="round" fill="none"/>
<circle cx="502.90" cy="401.80" r="1.00" fill="#ff7f0e"/>
<polygon points="493.6,381.7 495.6,381.4 495.9,383.3 495.3,385.6 494.7,387.4 493.3,388.2 491.3,387.9 492.4,386.2 493.3,384.5 493.3,382.8" fill="#aa40fc"/>
<path d="M495.2 383.2h0M494.5 384.5h0M494.9 382.6h0M496.4 383.0h0M493.6 386.8h0M494.7 379.4h0M496.1 386.6h0M494.4 386.5h0M495.3 386.0h0M492.5 387.4h0M494.3 381.5h0M493.5 385.5h0M491.7 389.9h0M493.2 380.2h0M493.8 388.0h0M491.5 387.1h0M495.1 388.4h0M493.6 385.6h0M493.6 381.8h0M495.7 380.9h0M494.1 381.5h0M494.9 388.1h0M495.7 386.1h0M494.3 386.7h0M494.5 388.7h0M494.6 388.9h0M496.5 385.3h0M493.9 379.3h0M496.5 386.1h0M495.1 383.8h0M496.3 382.3h0M495.6 381.0h0M496.1 382.9h0M492.3 390.5h0M493.7 384.3h0M495.5 380.8h0M492.6 383.7h0M494.0 382.5h0M494.7 389.2h0M497.0 383.1h0M493.4 383.6h0M493.2 385.6h0M495.1 382.2h0M495.4 382.8h0M493.3 390.0h0M493.0 388.5h0M494.7 388.2h0M492.4 390.0h0M494.0 384.0h0M492.1 386.4h0M491.7 390.4h0M495.5 386.9h0M495.5 380.8h0M496.1 383.2h0M495.6 385.6h0M493.2 386.6h0M495.4 386.7h0M494.1 386.0h0M495.5 381.5h0" stroke="#aa40fc" stroke-width="1.2" stroke-linecap="round" fill="none"/>
<line x1="423.50" y1="185.50" x2="427.00" y2="194.00" stroke="#4f5a6b" stroke-width="0.5"/>
<line x1="470.90" y1="189.80" x2="474.30" y2="205.40" stroke="#4f5a6b" stroke-width="0.5"/>
<line x1="522.00" y1="187.00" x2="499.30" y2="199.70" stroke="#4f5a6b" stroke-width="0.5"/>
<line x1="432.60" y1="216.50" x2="439.70" y2="202.60" stroke="#4f5a6b" stroke-width="0.5"/>
<line x1="445.40" y1="235.20" x2="453.90" y2="206.80" stroke="#4f5a6b" stroke-width="0.5"/>
<line x1="500.70" y1="298.20" x2="466.70" y2="297.00" stroke="#4f5a6b" stroke-width="0.5"/>
<line x1="637.40" y1="248.00" x2="646.90" y2="252.80" stroke="#4f5a6b" stroke-width="0.5"/>
<line x1="601.40" y1="287.30" x2="597.50" y2="292.00" stroke="#4f5a6b" stroke-width="0.5"/>
<line x1="606.00" y1="313.10" x2="591.90" y2="299.80" stroke="#4f5a6b" stroke-width="0.5"/>
<line x1="489.50" y1="364.30" x2="487.10" y2="383.90" stroke="#4f5a6b" stroke-width="0.5"/>
<line x1="449.90" y1="373.00" x2="461.90" y2="380.70" stroke="#4f5a6b" stroke-width="0.5"/>
<line x1="527.30" y1="369.70" x2="496.30" y2="377.80" stroke="#4f5a6b" stroke-width="0.5"/>
<line x1="444.40" y1="393.20" x2="451.00" y2="391.40" stroke="#4f5a6b" stroke-width="0.5"/>
<line x1="455.80" y1="412.90" x2="479.40" y2="395.40" stroke="#4f5a6b" stroke-width="0.5"/>
<line x1="470.60" y1="427.80" x2="490.90" y2="393.80" stroke="#4f5a6b" stroke-width="0.5"/>
<line x1="505.20" y1="418.30" x2="501.90" y2="403.10" stroke="#4f5a6b" stroke-width="0.5"/>
<line x1="535.40" y1="414.30" x2="505.10" y2="398.20" stroke="#4f5a6b" stroke-width="0.5"/>
<circle cx="427.00" cy="194.00" r="0.90" fill="#3d4d66"/>
<circle cx="474.30" cy="205.40" r="0.90" fill="#3d4d66"/>
<circle cx="499.30" cy="199.70" r="0.90" fill="#3d4d66"/>
<circle cx="439.70" cy="202.60" r="0.90" fill="#3d4d66"/>
<circle cx="453.90" cy="206.80" r="0.90" fill="#3d4d66"/>
<circle cx="466.70" cy="297.00" r="0.90" fill="#3d4d66"/>
<circle cx="646.90" cy="252.80" r="0.90" fill="#3d4d66"/>
<circle cx="487.10" cy="383.90" r="0.90" fill="#3d4d66"/>
<circle cx="461.90" cy="380.70" r="0.90" fill="#3d4d66"/>
<circle cx="496.30" cy="377.80" r="0.90" fill="#3d4d66"/>
<circle cx="479.40" cy="395.40" r="0.90" fill="#3d4d66"/>
<circle cx="490.90" cy="393.80" r="0.90" fill="#3d4d66"/>
<circle cx="501.90" cy="403.10" r="0.90" fill="#3d4d66"/>
<circle cx="505.10" cy="398.20" r="0.90" fill="#3d4d66"/>
<text x="411.70" y="184.30" font-size="8.4" fill="#231f20" font-style="italic" textLength="21.90" lengthAdjust="spacingAndGlyphs">GNLY</text>
<text x="459.50" y="188.50" font-size="8.4" fill="#231f20" font-style="italic" textLength="21.70" lengthAdjust="spacingAndGlyphs">CD8B</text>
<text x="522.00" y="184.10" font-size="8.4" fill="#231f20" font-style="italic" textLength="17.00" lengthAdjust="spacingAndGlyphs">IL7R</text>
<text x="419.00" y="225.90" font-size="8.4" fill="#cc3340" font-style="italic" textLength="22.20" lengthAdjust="spacingAndGlyphs">NKG7</text>
<text x="428.90" y="243.40" font-size="8.4" fill="#231f20" font-style="italic" textLength="24.00" lengthAdjust="spacingAndGlyphs">KLRB1</text>
<text x="503.50" y="301.00" font-size="8.4" fill="#cc3340" font-style="italic" textLength="29.30" lengthAdjust="spacingAndGlyphs">GAPDH</text>
<text x="618.70" y="247.10" font-size="8.4" fill="#231f20" font-style="italic" textLength="19.70" lengthAdjust="spacingAndGlyphs">PPBP</text>
<text x="595.50" y="284.60" font-size="8.4" fill="#cc3340" font-style="italic" textLength="26.60" lengthAdjust="spacingAndGlyphs">MS4A1</text>
<text x="608.20" y="318.60" font-size="8.4" fill="#231f20" font-style="italic" textLength="27.10" lengthAdjust="spacingAndGlyphs">CD79A</text>
<text x="482.80" y="362.10" font-size="8.4" fill="#231f20" font-style="italic" textLength="14.20" lengthAdjust="spacingAndGlyphs">LYZ</text>
<text x="430.10" y="371.00" font-size="8.4" fill="#231f20" font-style="italic" textLength="33.20" lengthAdjust="spacingAndGlyphs">FCGR3A</text>
<text x="527.90" y="369.70" font-size="8.4" fill="#231f20" font-style="italic" textLength="29.90" lengthAdjust="spacingAndGlyphs">FCER1A</text>
<text x="416.00" y="397.30" font-size="8.4" fill="#231f20" font-style="italic" textLength="27.60" lengthAdjust="spacingAndGlyphs">MS4A7</text>
<text x="430.10" y="421.00" font-size="8.4" fill="#cc3340" font-style="italic" textLength="21.60" lengthAdjust="spacingAndGlyphs">CST3</text>
<text x="490.90" y="425.00" font-size="8.4" fill="#231f20" font-style="italic" textLength="30.50" lengthAdjust="spacingAndGlyphs">S100A8</text>
<text x="537.60" y="417.80" font-size="8.4" fill="#231f20" font-style="italic" textLength="20.20" lengthAdjust="spacingAndGlyphs">CD14</text>
<text x="457.10" y="433.20" font-size="8.4" fill="#231f20" font-style="italic" textLength="31.10" lengthAdjust="spacingAndGlyphs">LGALS3</text>
<text x="0.20" y="333.60" font-size="12.6" fill="#000" font-weight="bold" stroke="#000" stroke-width="0.45">d</text>
<rect x="28.50" y="336.90" width="132.30" height="45.70" fill="none" stroke="#8c8c8c" stroke-width="0.8"/>
<polygon points="34.3,380.7 34.3,338.5 35.3,344.3 38.2,347.3 44.0,350.2 49.9,352.5 55.7,355.1 59.2,357.2 61.5,359.5 63.3,363.0 64.5,368.9 65.6,375.3 68.5,376.5 76.7,377.3 110.0,378.4 155.5,379.3 155.5,380.7" fill="#bf5046"/>
<rect x="34.3" y="339.95" width="0.62" height="40.75" fill="#cb633c"/><rect x="34.8" y="342.85" width="0.62" height="37.85" fill="#dc5234"/><rect x="35.3" y="344.56" width="0.62" height="36.14" fill="#db402b"/><rect x="35.8" y="345.08" width="0.62" height="35.62" fill="#db402b"/><rect x="36.3" y="345.59" width="0.62" height="35.11" fill="#d62728"/><rect x="36.8" y="346.11" width="0.62" height="34.59" fill="#d73831"/><rect x="37.3" y="346.63" width="0.62" height="34.07" fill="#d62728"/><rect x="37.8" y="347.14" width="0.62" height="33.56" fill="#d73831"/><rect x="38.3" y="347.48" width="0.62" height="33.22" fill="#dc5234"/><rect x="38.8" y="347.73" width="0.62" height="32.97" fill="#d73831"/><rect x="39.3" y="347.98" width="0.62" height="32.72" fill="#e05a2e"/><rect x="39.8" y="348.23" width="0.62" height="32.47" fill="#e05a2e"/><rect x="40.3" y="348.48" width="0.62" height="32.22" fill="#d07d3f"/><rect x="40.8" y="348.73" width="0.62" height="31.97" fill="#db402b"/><rect x="41.3" y="348.98" width="0.62" height="31.72" fill="#d84a3a"/><rect x="41.8" y="349.23" width="0.62" height="31.47" fill="#d07d3f"/><rect x="42.3" y="349.47" width="0.62" height="31.23" fill="#db402b"/><rect x="42.8" y="349.72" width="0.62" height="30.98" fill="#d62728"/><rect x="43.3" y="349.97" width="0.62" height="30.73" fill="#d62728"/><rect x="43.8" y="350.22" width="0.62" height="30.48" fill="#cb633c"/><rect x="44.3" y="350.41" width="0.62" height="30.29" fill="#d73831"/><rect x="44.8" y="350.61" width="0.62" height="30.09" fill="#d62728"/><rect x="45.3" y="350.80" width="0.62" height="29.90" fill="#d73831"/><rect x="45.8" y="351.00" width="0.62" height="29.70" fill="#d73831"/><rect x="46.3" y="351.19" width="0.62" height="29.51" fill="#d62728"/><rect x="46.8" y="351.39" width="0.62" height="29.31" fill="#cb633c"/><rect x="47.3" y="351.58" width="0.62" height="29.12" fill="#db402b"/><rect x="47.8" y="351.78" width="0.62" height="28.92" fill="#d62728"/><rect x="48.3" y="351.97" width="0.62" height="28.73" fill="#d73831"/><rect x="48.8" y="352.17" width="0.62" height="28.53" fill="#d07d3f"/><rect x="49.3" y="352.36" width="0.62" height="28.34" fill="#d62728"/><rect x="49.8" y="352.57" width="0.62" height="28.13" fill="#cb633c"/><rect x="50.3" y="352.79" width="0.62" height="27.91" fill="#d62728"/><rect x="50.8" y="353.02" width="0.62" height="27.68" fill="#db402b"/><rect x="51.3" y="353.24" width="0.62" height="27.46" fill="#d62728"/><rect x="51.8" y="353.46" width="0.62" height="27.24" fill="#d62728"/><rect x="52.3" y="353.69" width="0.62" height="27.01" fill="#cb633c"/><rect x="52.8" y="353.91" width="0.62" height="26.79" fill="#d84a3a"/><rect x="53.3" y="354.14" width="0.62" height="26.56" fill="#d73831"/><rect x="53.8" y="354.36" width="0.62" height="26.34" fill="#d62728"/><rect x="54.3" y="354.58" width="0.62" height="26.12" fill="#d73831"/><rect x="54.8" y="354.81" width="0.62" height="25.89" fill="#cb633c"/><rect x="55.3" y="355.03" width="0.62" height="25.67" fill="#d84a3a"/><rect x="55.8" y="355.31" width="0.62" height="25.39" fill="#d73831"/><rect x="56.3" y="355.61" width="0.62" height="25.09" fill="#d62728"/><rect x="56.8" y="355.91" width="0.62" height="24.79" fill="#cc7545"/><rect x="57.3" y="356.21" width="0.62" height="24.49" fill="#d62728"/><rect x="57.8" y="356.51" width="0.62" height="24.19" fill="#d84a3a"/><rect x="58.3" y="356.81" width="0.62" height="23.89" fill="#d73831"/><rect x="58.8" y="357.11" width="0.62" height="23.59" fill="#db402b"/><rect x="59.3" y="357.55" width="0.62" height="23.15" fill="#d73831"/><rect x="59.8" y="358.05" width="0.62" height="22.65" fill="#d62728"/><rect x="60.3" y="358.55" width="0.62" height="22.15" fill="#d62728"/><rect x="60.8" y="359.05" width="0.62" height="21.65" fill="#db402b"/><rect x="61.3" y="359.60" width="0.62" height="21.10" fill="#d73831"/><rect x="61.8" y="360.57" width="0.62" height="20.13" fill="#cc486d"/><rect x="62.3" y="361.54" width="0.62" height="19.16" fill="#c04890"/><rect x="62.8" y="362.51" width="0.62" height="18.19" fill="#c8507a"/><rect x="63.3" y="364.23" width="0.62" height="16.47" fill="#c8507a"/><rect x="63.8" y="366.69" width="0.62" height="14.01" fill="#c8507a"/><rect x="64.3" y="369.19" width="0.62" height="11.51" fill="#bc509d"/><rect x="64.8" y="372.10" width="0.62" height="8.60" fill="#bc509d"/><rect x="65.3" y="375.01" width="0.62" height="5.69" fill="#c8507a"/><rect x="65.8" y="375.49" width="0.62" height="5.21" fill="#938e3b"/><rect x="66.3" y="375.69" width="0.62" height="5.01" fill="#7b7a70"/><rect x="66.8" y="375.90" width="0.62" height="4.80" fill="#488c74"/><rect x="67.3" y="376.11" width="0.62" height="4.59" fill="#6a7a80"/><rect x="67.8" y="376.31" width="0.62" height="4.39" fill="#6d7c80"/><rect x="68.3" y="376.50" width="0.62" height="4.20" fill="#7b7a70"/><rect x="68.8" y="376.55" width="0.62" height="4.15" fill="#488c74"/><rect x="69.3" y="376.60" width="0.62" height="4.10" fill="#c57c37"/><rect x="69.8" y="376.65" width="0.62" height="4.05" fill="#7b7a70"/><rect x="70.3" y="376.70" width="0.62" height="4.00" fill="#a77f57"/><rect x="70.8" y="376.75" width="0.62" height="3.95" fill="#b47c47"/><rect x="71.3" y="376.80" width="0.62" height="3.90" fill="#7b7a70"/><rect x="71.8" y="376.85" width="0.62" height="3.85" fill="#488c74"/><rect x="72.3" y="376.90" width="0.62" height="3.80" fill="#6a7a80"/><rect x="72.8" y="376.94" width="0.62" height="3.76" fill="#5c7c90"/><rect x="73.3" y="376.99" width="0.62" height="3.71" fill="#7b7a70"/><rect x="73.8" y="377.04" width="0.62" height="3.66" fill="#6d7c80"/><rect x="74.3" y="377.09" width="0.62" height="3.61" fill="#7b7a70"/><rect x="74.8" y="377.14" width="0.62" height="3.56" fill="#7b7a70"/><rect x="75.3" y="377.19" width="0.62" height="3.51" fill="#7b7a70"/><rect x="75.8" y="377.24" width="0.62" height="3.46" fill="#a77f57"/><rect x="76.3" y="377.29" width="0.62" height="3.41" fill="#7b7a70"/><rect x="76.8" y="377.31" width="0.62" height="3.39" fill="#7b7a70"/><rect x="77.3" y="377.33" width="0.62" height="3.37" fill="#3b8e84"/><rect x="77.8" y="377.34" width="0.62" height="3.36" fill="#6a7a80"/><rect x="78.3" y="377.36" width="0.62" height="3.34" fill="#279e68"/><rect x="78.8" y="377.38" width="0.62" height="3.32" fill="#b47c47"/><rect x="79.3" y="377.39" width="0.62" height="3.31" fill="#4f7fa0"/><rect x="79.8" y="377.41" width="0.62" height="3.29" fill="#6a7a80"/><rect x="80.3" y="377.43" width="0.62" height="3.27" fill="#7b7a70"/><rect x="80.8" y="377.44" width="0.62" height="3.26" fill="#5c7c90"/><rect x="81.3" y="377.46" width="0.62" height="3.24" fill="#6a7a80"/><rect x="81.8" y="377.48" width="0.62" height="3.22" fill="#6a7a80"/><rect x="82.3" y="377.49" width="0.62" height="3.21" fill="#7b7a70"/><rect x="82.8" y="377.51" width="0.62" height="3.19" fill="#8c7a60"/><rect x="83.3" y="377.53" width="0.62" height="3.17" fill="#6d7c80"/><rect x="83.8" y="377.54" width="0.62" height="3.16" fill="#5c7c90"/><rect x="84.3" y="377.56" width="0.62" height="3.14" fill="#5c7c90"/><rect x="84.8" y="377.58" width="0.62" height="3.12" fill="#ff7f0e"/><rect x="85.3" y="377.59" width="0.62" height="3.11" fill="#488c74"/><rect x="85.8" y="377.61" width="0.62" height="3.09" fill="#6a7a80"/><rect x="86.3" y="377.63" width="0.62" height="3.07" fill="#6a7a80"/><rect x="86.8" y="377.64" width="0.62" height="3.06" fill="#3b8e84"/><rect x="87.3" y="377.66" width="0.62" height="3.04" fill="#6d7c80"/><rect x="87.8" y="377.67" width="0.62" height="3.03" fill="#7b7a70"/><rect x="88.3" y="377.69" width="0.62" height="3.01" fill="#5c7c90"/><rect x="88.8" y="377.71" width="0.62" height="2.99" fill="#c57c37"/><rect x="89.3" y="377.72" width="0.62" height="2.98" fill="#6a7a80"/><rect x="89.8" y="377.74" width="0.62" height="2.96" fill="#8c7a60"/><rect x="90.3" y="377.76" width="0.62" height="2.94" fill="#6d7c80"/><rect x="90.8" y="377.77" width="0.62" height="2.93" fill="#6a7a80"/><rect x="91.3" y="377.79" width="0.62" height="2.91" fill="#6a7a80"/><rect x="91.8" y="377.81" width="0.62" height="2.89" fill="#598c64"/><rect x="92.3" y="377.82" width="0.62" height="2.88" fill="#7b7a70"/><rect x="92.8" y="377.84" width="0.62" height="2.86" fill="#7b7a70"/><rect x="93.3" y="377.86" width="0.62" height="2.84" fill="#a77f57"/><rect x="93.8" y="377.87" width="0.62" height="2.83" fill="#7b7a70"/><rect x="94.3" y="377.89" width="0.62" height="2.81" fill="#5c7c90"/><rect x="94.8" y="377.91" width="0.62" height="2.79" fill="#c57c37"/><rect x="95.3" y="377.92" width="0.62" height="2.78" fill="#b47c47"/><rect x="95.8" y="377.94" width="0.62" height="2.76" fill="#598c64"/><rect x="96.3" y="377.96" width="0.62" height="2.74" fill="#6a7a80"/><rect x="96.8" y="377.97" width="0.62" height="2.73" fill="#488c74"/><rect x="97.3" y="377.99" width="0.62" height="2.71" fill="#938e3b"/><rect x="97.8" y="378.01" width="0.62" height="2.69" fill="#a77f57"/><rect x="98.3" y="378.02" width="0.62" height="2.68" fill="#488c74"/><rect x="98.8" y="378.04" width="0.62" height="2.66" fill="#6a7a80"/><rect x="99.3" y="378.05" width="0.62" height="2.65" fill="#598c64"/><rect x="99.8" y="378.07" width="0.62" height="2.63" fill="#5c7c90"/><rect x="100.3" y="378.09" width="0.62" height="2.61" fill="#c4843f"/><rect x="100.8" y="378.10" width="0.62" height="2.60" fill="#ff7f0e"/><rect x="101.3" y="378.12" width="0.62" height="2.58" fill="#ff7f0e"/><rect x="101.8" y="378.14" width="0.62" height="2.56" fill="#8a8a70"/><rect x="102.3" y="378.15" width="0.62" height="2.55" fill="#ff7f0e"/><rect x="102.8" y="378.17" width="0.62" height="2.53" fill="#938e3b"/><rect x="103.3" y="378.19" width="0.62" height="2.51" fill="#c4843f"/><rect x="103.8" y="378.20" width="0.62" height="2.50" fill="#c4843f"/><rect x="104.3" y="378.22" width="0.62" height="2.48" fill="#c4843f"/><rect x="104.8" y="378.24" width="0.62" height="2.46" fill="#ff7f0e"/><rect x="105.3" y="378.25" width="0.62" height="2.45" fill="#58946c"/><rect x="105.8" y="378.27" width="0.62" height="2.43" fill="#c4843f"/><rect x="106.3" y="378.29" width="0.62" height="2.41" fill="#c4843f"/><rect x="106.8" y="378.30" width="0.62" height="2.40" fill="#c4843f"/><rect x="107.3" y="378.32" width="0.62" height="2.38" fill="#8a8a70"/><rect x="107.8" y="378.34" width="0.62" height="2.36" fill="#c4843f"/><rect x="108.3" y="378.35" width="0.62" height="2.35" fill="#58946c"/><rect x="108.8" y="378.37" width="0.62" height="2.33" fill="#938e3b"/><rect x="109.3" y="378.39" width="0.62" height="2.31" fill="#938e3b"/><rect x="109.8" y="378.40" width="0.62" height="2.30" fill="#c4843f"/><rect x="110.3" y="378.41" width="0.62" height="2.29" fill="#938e3b"/><rect x="110.8" y="378.42" width="0.62" height="2.28" fill="#c4843f"/><rect x="111.3" y="378.43" width="0.62" height="2.27" fill="#279e68"/><rect x="111.8" y="378.44" width="0.62" height="2.26" fill="#938e3b"/><rect x="112.3" y="378.45" width="0.62" height="2.25" fill="#c4843f"/><rect x="112.8" y="378.46" width="0.62" height="2.24" fill="#279e68"/><rect x="113.3" y="378.47" width="0.62" height="2.23" fill="#8a8a70"/><rect x="113.8" y="378.48" width="0.62" height="2.22" fill="#c4843f"/><rect x="114.3" y="378.49" width="0.62" height="2.21" fill="#c4843f"/><rect x="114.8" y="378.50" width="0.62" height="2.20" fill="#c4843f"/><rect x="115.3" y="378.51" width="0.62" height="2.19" fill="#c4843f"/><rect x="115.8" y="378.52" width="0.62" height="2.18" fill="#279e68"/><rect x="116.3" y="378.53" width="0.62" height="2.17" fill="#58946c"/><rect x="116.8" y="378.54" width="0.62" height="2.16" fill="#c4843f"/><rect x="117.3" y="378.55" width="0.62" height="2.15" fill="#ff7f0e"/><rect x="117.8" y="378.56" width="0.62" height="2.14" fill="#58946c"/><rect x="118.3" y="378.57" width="0.62" height="2.13" fill="#938e3b"/><rect x="118.8" y="378.58" width="0.62" height="2.12" fill="#58946c"/><rect x="119.3" y="378.59" width="0.62" height="2.11" fill="#c4843f"/><rect x="119.8" y="378.60" width="0.62" height="2.10" fill="#c4843f"/><rect x="120.3" y="378.61" width="0.62" height="2.09" fill="#ff7f0e"/><rect x="120.8" y="378.62" width="0.62" height="2.08" fill="#58946c"/><rect x="121.3" y="378.63" width="0.62" height="2.07" fill="#8a8a70"/><rect x="121.8" y="378.64" width="0.62" height="2.06" fill="#ff7f0e"/><rect x="122.3" y="378.65" width="0.62" height="2.05" fill="#8a8a70"/><rect x="122.8" y="378.66" width="0.62" height="2.04" fill="#c4843f"/><rect x="123.3" y="378.67" width="0.62" height="2.03" fill="#c4843f"/><rect x="123.8" y="378.68" width="0.62" height="2.02" fill="#ff7f0e"/><rect x="124.3" y="378.69" width="0.62" height="2.01" fill="#58946c"/><rect x="124.8" y="378.70" width="0.62" height="2.00" fill="#8a8a70"/><rect x="125.3" y="378.71" width="0.62" height="1.99" fill="#c4843f"/><rect x="125.8" y="378.72" width="0.62" height="1.98" fill="#c4843f"/><rect x="126.3" y="378.73" width="0.62" height="1.97" fill="#c4843f"/><rect x="126.8" y="378.74" width="0.62" height="1.96" fill="#ff7f0e"/><rect x="127.3" y="378.75" width="0.62" height="1.95" fill="#ff7f0e"/><rect x="127.8" y="378.76" width="0.62" height="1.94" fill="#c4843f"/><rect x="128.3" y="378.77" width="0.62" height="1.93" fill="#c4843f"/><rect x="128.8" y="378.78" width="0.62" height="1.92" fill="#ff7f0e"/><rect x="129.3" y="378.79" width="0.62" height="1.91" fill="#938e3b"/><rect x="129.8" y="378.80" width="0.62" height="1.90" fill="#8a8a70"/><rect x="130.3" y="378.81" width="0.62" height="1.89" fill="#c4843f"/><rect x="130.8" y="378.82" width="0.62" height="1.88" fill="#938e3b"/><rect x="131.3" y="378.83" width="0.62" height="1.87" fill="#938e3b"/><rect x="131.8" y="378.84" width="0.62" height="1.86" fill="#c4843f"/><rect x="132.3" y="378.85" width="0.62" height="1.85" fill="#58946c"/><rect x="132.8" y="378.86" width="0.62" height="1.84" fill="#ff7f0e"/><rect x="133.3" y="378.87" width="0.62" height="1.83" fill="#938e3b"/><rect x="133.8" y="378.88" width="0.62" height="1.82" fill="#c4843f"/><rect x="134.3" y="378.89" width="0.62" height="1.81" fill="#c4843f"/><rect x="134.8" y="378.90" width="0.62" height="1.80" fill="#ff7f0e"/><rect x="135.3" y="378.91" width="0.62" height="1.79" fill="#279e68"/><rect x="135.8" y="378.92" width="0.62" height="1.78" fill="#c4843f"/><rect x="136.3" y="378.93" width="0.62" height="1.77" fill="#8a8a70"/><rect x="136.8" y="378.94" width="0.62" height="1.76" fill="#c4843f"/><rect x="137.3" y="378.94" width="0.62" height="1.76" fill="#ff7f0e"/><rect x="137.8" y="378.95" width="0.62" height="1.75" fill="#c4843f"/><rect x="138.3" y="378.96" width="0.62" height="1.74" fill="#58946c"/><rect x="138.8" y="378.97" width="0.62" height="1.73" fill="#279e68"/><rect x="139.3" y="378.98" width="0.62" height="1.72" fill="#938e3b"/><rect x="139.8" y="378.99" width="0.62" height="1.71" fill="#c4843f"/><rect x="140.3" y="379.00" width="0.62" height="1.70" fill="#938e3b"/><rect x="140.8" y="379.01" width="0.62" height="1.69" fill="#ff7f0e"/><rect x="141.3" y="379.02" width="0.62" height="1.68" fill="#938e3b"/><rect x="141.8" y="379.03" width="0.62" height="1.67" fill="#938e3b"/><rect x="142.3" y="379.04" width="0.62" height="1.66" fill="#ff7f0e"/><rect x="142.8" y="379.05" width="0.62" height="1.65" fill="#8a8a70"/><rect x="143.3" y="379.06" width="0.62" height="1.64" fill="#c4843f"/><rect x="143.8" y="379.07" width="0.62" height="1.63" fill="#ff7f0e"/><rect x="144.3" y="379.08" width="0.62" height="1.62" fill="#58946c"/><rect x="144.8" y="379.09" width="0.62" height="1.61" fill="#8a8a70"/><rect x="145.3" y="379.10" width="0.62" height="1.60" fill="#c4843f"/><rect x="145.8" y="379.11" width="0.62" height="1.59" fill="#ff7f0e"/><rect x="146.3" y="379.12" width="0.62" height="1.58" fill="#ff7f0e"/><rect x="146.8" y="379.13" width="0.62" height="1.57" fill="#c4843f"/><rect x="147.3" y="379.14" width="0.62" height="1.56" fill="#ff7f0e"/><rect x="147.8" y="379.15" width="0.62" height="1.55" fill="#c4843f"/><rect x="148.3" y="379.16" width="0.62" height="1.54" fill="#c4843f"/><rect x="148.8" y="379.17" width="0.62" height="1.53" fill="#8a8a70"/><rect x="149.3" y="379.18" width="0.62" height="1.52" fill="#ff7f0e"/><rect x="149.8" y="379.19" width="0.62" height="1.51" fill="#ff7f0e"/><rect x="150.3" y="379.20" width="0.62" height="1.50" fill="#58946c"/><rect x="150.8" y="379.21" width="0.62" height="1.49" fill="#ff7f0e"/><rect x="151.3" y="379.22" width="0.62" height="1.48" fill="#58946c"/><rect x="151.8" y="379.23" width="0.62" height="1.47" fill="#c4843f"/><rect x="152.3" y="379.24" width="0.62" height="1.46" fill="#c4843f"/><rect x="152.8" y="379.25" width="0.62" height="1.45" fill="#c4843f"/><rect x="153.3" y="379.26" width="0.62" height="1.44" fill="#c4843f"/><rect x="153.8" y="379.27" width="0.62" height="1.43" fill="#8a8a70"/><rect x="154.3" y="379.28" width="0.62" height="1.42" fill="#ff7f0e"/><rect x="154.8" y="379.29" width="0.62" height="1.41" fill="#58946c"/><rect x="155.3" y="379.30" width="0.62" height="1.40" fill="#ff7f0e"/>
<line x1="28.50" y1="356.60" x2="160.80" y2="356.60" stroke="#e2603a" stroke-width="0.6" stroke-dasharray="1.6 1.2"/>
<text x="25.00" y="347.00" font-size="8.4" text-anchor="end" fill="#231f20">1.5</text>
<text x="25.00" y="359.20" font-size="8.4" text-anchor="end" fill="#231f20">1.0</text>
<text x="25.00" y="371.00" font-size="8.4" text-anchor="end" fill="#231f20">0.5</text>
<text x="25.00" y="382.80" font-size="8.4" text-anchor="end" fill="#231f20">0</text>
<text x="27.60" y="334.50" font-size="9.4" fill="#231f20" textLength="20.40" lengthAdjust="spacingAndGlyphs">1 × 10</text>
<text x="47.90" y="330.30" font-size="5.8" fill="#231f20" textLength="7.60" lengthAdjust="spacingAndGlyphs">−3</text>
<text x="83.90" y="334.50" font-size="8.8" fill="#231f20" font-style="italic" textLength="20.80" lengthAdjust="spacingAndGlyphs">CST3</text>
<text x="6.90" y="359.75" font-size="8.8" text-anchor="middle" fill="#231f20" textLength="42.50" lengthAdjust="spacingAndGlyphs" transform="rotate(-90 6.90 359.75)">Probability</text>
<text x="35.00" y="390.80" font-size="8.4" text-anchor="middle" fill="#231f20">0</text>
<text x="81.80" y="390.80" font-size="8.4" text-anchor="middle" fill="#231f20">1,000</text>
<text x="127.00" y="390.80" font-size="8.4" text-anchor="middle" fill="#231f20">2,000</text>
<text x="94.75" y="403.60" font-size="8.8" text-anchor="middle" fill="#231f20" textLength="35.30" lengthAdjust="spacingAndGlyphs">Cell rank</text>
<rect x="208.50" y="336.90" width="132.30" height="45.70" fill="none" stroke="#8c8c8c" stroke-width="0.8"/>
<polygon points="213.9,380.7 213.9,338.5 214.3,342.9 215.1,346.8 217.5,351.5 220.2,354.3 223.4,357.4 226.5,361.4 228.5,365.7 228.9,369.6 229.3,372.8 230.1,375.9 231.3,378.3 233.6,378.9 260.0,379.6 300.0,379.9 335.2,380.1 335.2,380.7" fill="#847d72"/>
<rect x="213.9" y="341.25" width="0.62" height="39.45" fill="#1f77b4"/><rect x="214.4" y="344.61" width="0.62" height="36.09" fill="#1f77b4"/><rect x="214.9" y="346.90" width="0.62" height="33.80" fill="#1f77b4"/><rect x="215.4" y="347.88" width="0.62" height="32.82" fill="#1f77b4"/><rect x="215.9" y="348.86" width="0.62" height="31.84" fill="#1f77b4"/><rect x="216.4" y="349.84" width="0.62" height="30.86" fill="#1f77b4"/><rect x="216.9" y="350.81" width="0.62" height="29.89" fill="#1f77b4"/><rect x="217.4" y="351.66" width="0.62" height="29.04" fill="#1f77b4"/><rect x="217.9" y="352.17" width="0.62" height="28.53" fill="#1f77b4"/><rect x="218.4" y="352.69" width="0.62" height="28.01" fill="#1f77b4"/><rect x="218.9" y="353.21" width="0.62" height="27.49" fill="#1f77b4"/><rect x="219.4" y="353.73" width="0.62" height="26.97" fill="#1f77b4"/><rect x="219.9" y="354.25" width="0.62" height="26.45" fill="#1f77b4"/><rect x="220.4" y="354.74" width="0.62" height="25.96" fill="#1f77b4"/><rect x="220.9" y="355.22" width="0.62" height="25.48" fill="#1f77b4"/><rect x="221.4" y="355.70" width="0.62" height="25.00" fill="#1f77b4"/><rect x="221.9" y="356.19" width="0.62" height="24.51" fill="#1f77b4"/><rect x="222.4" y="356.67" width="0.62" height="24.03" fill="#1f77b4"/><rect x="222.9" y="357.16" width="0.62" height="23.54" fill="#1f77b4"/><rect x="223.4" y="357.72" width="0.62" height="22.98" fill="#1f77b4"/><rect x="223.9" y="358.37" width="0.62" height="22.33" fill="#1f77b4"/><rect x="224.4" y="359.01" width="0.62" height="21.69" fill="#1f77b4"/><rect x="224.9" y="359.66" width="0.62" height="21.04" fill="#1f77b4"/><rect x="225.4" y="360.30" width="0.62" height="20.40" fill="#1f77b4"/><rect x="225.9" y="360.95" width="0.62" height="19.75" fill="#1f77b4"/><rect x="226.4" y="361.72" width="0.62" height="18.98" fill="#1f77b4"/><rect x="226.9" y="362.80" width="0.62" height="17.90" fill="#1f77b4"/><rect x="227.4" y="363.87" width="0.62" height="16.83" fill="#1f77b4"/><rect x="227.9" y="364.95" width="0.62" height="15.75" fill="#1f77b4"/><rect x="228.4" y="367.16" width="0.62" height="13.54" fill="#1f77b4"/><rect x="228.9" y="371.60" width="0.62" height="9.10" fill="#1f77b4"/><rect x="229.4" y="374.16" width="0.62" height="6.54" fill="#1f77b4"/><rect x="229.9" y="376.00" width="0.62" height="4.70" fill="#b54dd6"/><rect x="230.4" y="377.00" width="0.62" height="3.70" fill="#b54dd6"/><rect x="230.9" y="378.00" width="0.62" height="2.70" fill="#aa40fc"/><rect x="231.4" y="378.39" width="0.62" height="2.31" fill="#b54dd6"/><rect x="231.9" y="378.52" width="0.62" height="2.18" fill="#b54dd6"/><rect x="232.4" y="378.65" width="0.62" height="2.05" fill="#ea8427"/><rect x="232.9" y="378.78" width="0.62" height="1.92" fill="#c5854c"/><rect x="233.4" y="378.90" width="0.62" height="1.80" fill="#ff7f0e"/><rect x="233.9" y="378.91" width="0.62" height="1.79" fill="#ea8427"/><rect x="234.4" y="378.93" width="0.62" height="1.77" fill="#b08a65"/><rect x="234.9" y="378.94" width="0.62" height="1.76" fill="#b08a65"/><rect x="235.4" y="378.95" width="0.62" height="1.75" fill="#279e68"/><rect x="235.9" y="378.97" width="0.62" height="1.73" fill="#ff7f0e"/><rect x="236.4" y="378.98" width="0.62" height="1.72" fill="#b08a65"/><rect x="236.9" y="378.99" width="0.62" height="1.71" fill="#c5854c"/><rect x="237.4" y="379.01" width="0.62" height="1.69" fill="#7e9454"/><rect x="237.9" y="379.02" width="0.62" height="1.68" fill="#b08a65"/><rect x="238.4" y="379.03" width="0.62" height="1.67" fill="#ff7f0e"/><rect x="238.9" y="379.05" width="0.62" height="1.65" fill="#ff7f0e"/><rect x="239.4" y="379.06" width="0.62" height="1.64" fill="#b08a65"/><rect x="239.9" y="379.07" width="0.62" height="1.63" fill="#ff7f0e"/><rect x="240.4" y="379.09" width="0.62" height="1.61" fill="#599479"/><rect x="240.9" y="379.10" width="0.62" height="1.60" fill="#ff7f0e"/><rect x="241.4" y="379.11" width="0.62" height="1.59" fill="#c5854c"/><rect x="241.9" y="379.13" width="0.62" height="1.57" fill="#d68a40"/><rect x="242.4" y="379.14" width="0.62" height="1.56" fill="#c5854c"/><rect x="242.9" y="379.15" width="0.62" height="1.55" fill="#938e3b"/><rect x="243.4" y="379.17" width="0.62" height="1.53" fill="#ea8427"/><rect x="243.9" y="379.18" width="0.62" height="1.52" fill="#ea8427"/><rect x="244.4" y="379.19" width="0.62" height="1.51" fill="#938e3b"/><rect x="244.9" y="379.21" width="0.62" height="1.49" fill="#ff7f0e"/><rect x="245.4" y="379.22" width="0.62" height="1.48" fill="#ea8427"/><rect x="245.9" y="379.23" width="0.62" height="1.47" fill="#b08a65"/><rect x="246.4" y="379.25" width="0.62" height="1.45" fill="#279e68"/><rect x="246.9" y="379.26" width="0.62" height="1.44" fill="#ea8427"/><rect x="247.4" y="379.27" width="0.62" height="1.43" fill="#ff7f0e"/><rect x="247.9" y="379.29" width="0.62" height="1.41" fill="#ff7f0e"/><rect x="248.4" y="379.30" width="0.62" height="1.40" fill="#ff7f0e"/><rect x="248.9" y="379.31" width="0.62" height="1.39" fill="#ff7f0e"/><rect x="249.4" y="379.33" width="0.62" height="1.37" fill="#d68a40"/><rect x="249.9" y="379.34" width="0.62" height="1.36" fill="#ff7f0e"/><rect x="250.4" y="379.35" width="0.62" height="1.35" fill="#ea8427"/><rect x="250.9" y="379.37" width="0.62" height="1.33" fill="#ff7f0e"/><rect x="251.4" y="379.38" width="0.62" height="1.32" fill="#d68a40"/><rect x="251.9" y="379.39" width="0.62" height="1.31" fill="#599479"/><rect x="252.4" y="379.41" width="0.62" height="1.29" fill="#ff7f0e"/><rect x="252.9" y="379.42" width="0.62" height="1.28" fill="#279e68"/><rect x="253.4" y="379.43" width="0.62" height="1.27" fill="#ea8427"/><rect x="253.9" y="379.44" width="0.62" height="1.26" fill="#d68a40"/><rect x="254.4" y="379.46" width="0.62" height="1.24" fill="#ff7f0e"/><rect x="254.9" y="379.47" width="0.62" height="1.23" fill="#ff7f0e"/><rect x="255.4" y="379.48" width="0.62" height="1.22" fill="#b08a65"/><rect x="255.9" y="379.50" width="0.62" height="1.20" fill="#ff7f0e"/><rect x="256.4" y="379.51" width="0.62" height="1.19" fill="#ea8427"/><rect x="256.9" y="379.52" width="0.62" height="1.18" fill="#c5854c"/><rect x="257.4" y="379.54" width="0.62" height="1.16" fill="#7e9454"/><rect x="257.9" y="379.55" width="0.62" height="1.15" fill="#938e3b"/><rect x="258.4" y="379.56" width="0.62" height="1.14" fill="#ea8427"/><rect x="258.9" y="379.58" width="0.62" height="1.12" fill="#938e3b"/><rect x="259.4" y="379.59" width="0.62" height="1.11" fill="#938e3b"/><rect x="259.9" y="379.60" width="0.62" height="1.10" fill="#ea8427"/><rect x="260.4" y="379.60" width="0.62" height="1.10" fill="#ea8427"/><rect x="260.9" y="379.61" width="0.62" height="1.09" fill="#ff7f0e"/><rect x="261.4" y="379.61" width="0.62" height="1.09" fill="#ea8427"/><rect x="261.9" y="379.62" width="0.62" height="1.08" fill="#938e3b"/><rect x="262.4" y="379.62" width="0.62" height="1.08" fill="#599479"/><rect x="262.9" y="379.62" width="0.62" height="1.08" fill="#ea8427"/><rect x="263.4" y="379.63" width="0.62" height="1.07" fill="#ff7f0e"/><rect x="263.9" y="379.63" width="0.62" height="1.07" fill="#ff7f0e"/><rect x="264.4" y="379.63" width="0.62" height="1.07" fill="#b08a65"/><rect x="264.9" y="379.64" width="0.62" height="1.06" fill="#7e9454"/><rect x="265.4" y="379.64" width="0.62" height="1.06" fill="#ff7f0e"/><rect x="265.9" y="379.65" width="0.62" height="1.05" fill="#d68a40"/><rect x="266.4" y="379.65" width="0.62" height="1.05" fill="#d68a40"/><rect x="266.9" y="379.65" width="0.62" height="1.05" fill="#8b8b8b"/><rect x="267.4" y="379.66" width="0.62" height="1.04" fill="#ea8427"/><rect x="267.9" y="379.66" width="0.62" height="1.04" fill="#c5854c"/><rect x="268.4" y="379.66" width="0.62" height="1.04" fill="#ff7f0e"/><rect x="268.9" y="379.67" width="0.62" height="1.03" fill="#ea8427"/><rect x="269.4" y="379.67" width="0.62" height="1.03" fill="#ff7f0e"/><rect x="269.9" y="379.68" width="0.62" height="1.02" fill="#ea8427"/><rect x="270.4" y="379.68" width="0.62" height="1.02" fill="#ea8427"/><rect x="270.9" y="379.68" width="0.62" height="1.02" fill="#ff7f0e"/><rect x="271.4" y="379.69" width="0.62" height="1.01" fill="#b08a65"/><rect x="271.9" y="379.69" width="0.62" height="1.01" fill="#c5854c"/><rect x="272.4" y="379.69" width="0.62" height="1.01" fill="#7e9454"/><rect x="272.9" y="379.70" width="0.62" height="1.00" fill="#938e3b"/><rect x="273.4" y="379.70" width="0.62" height="1.00" fill="#ff7f0e"/><rect x="273.9" y="379.71" width="0.62" height="0.99" fill="#ff7f0e"/><rect x="274.4" y="379.71" width="0.62" height="0.99" fill="#ff7f0e"/><rect x="274.9" y="379.71" width="0.62" height="0.99" fill="#d68a40"/><rect x="275.4" y="379.72" width="0.62" height="0.98" fill="#d68a40"/><rect x="275.9" y="379.72" width="0.62" height="0.98" fill="#279e68"/><rect x="276.4" y="379.72" width="0.62" height="0.98" fill="#279e68"/><rect x="276.9" y="379.73" width="0.62" height="0.97" fill="#ea8427"/><rect x="277.4" y="379.73" width="0.62" height="0.97" fill="#ff7f0e"/><rect x="277.9" y="379.74" width="0.62" height="0.96" fill="#ea8427"/><rect x="278.4" y="379.74" width="0.62" height="0.96" fill="#ff7f0e"/><rect x="278.9" y="379.74" width="0.62" height="0.96" fill="#ff7f0e"/><rect x="279.4" y="379.75" width="0.62" height="0.95" fill="#ff7f0e"/><rect x="279.9" y="379.75" width="0.62" height="0.95" fill="#ff7f0e"/><rect x="280.4" y="379.75" width="0.62" height="0.95" fill="#ff7f0e"/><rect x="280.9" y="379.76" width="0.62" height="0.94" fill="#ea8427"/><rect x="281.4" y="379.76" width="0.62" height="0.94" fill="#c5854c"/><rect x="281.9" y="379.77" width="0.62" height="0.93" fill="#8b8b8b"/><rect x="282.4" y="379.77" width="0.62" height="0.93" fill="#938e3b"/><rect x="282.9" y="379.77" width="0.62" height="0.93" fill="#7e9454"/><rect x="283.4" y="379.78" width="0.62" height="0.92" fill="#8b8b8b"/><rect x="283.9" y="379.78" width="0.62" height="0.92" fill="#ff7f0e"/><rect x="284.4" y="379.78" width="0.62" height="0.92" fill="#938e3b"/><rect x="284.9" y="379.79" width="0.62" height="0.91" fill="#ff7f0e"/><rect x="285.4" y="379.79" width="0.62" height="0.91" fill="#d68a40"/><rect x="285.9" y="379.80" width="0.62" height="0.90" fill="#599479"/><rect x="286.4" y="379.80" width="0.62" height="0.90" fill="#7e9454"/><rect x="286.9" y="379.80" width="0.62" height="0.90" fill="#ea8427"/><rect x="287.4" y="379.81" width="0.62" height="0.89" fill="#7e9454"/><rect x="287.9" y="379.81" width="0.62" height="0.89" fill="#938e3b"/><rect x="288.4" y="379.81" width="0.62" height="0.89" fill="#7e9454"/><rect x="288.9" y="379.82" width="0.62" height="0.88" fill="#ff7f0e"/><rect x="289.4" y="379.82" width="0.62" height="0.88" fill="#938e3b"/><rect x="289.9" y="379.83" width="0.62" height="0.87" fill="#d68a40"/><rect x="290.4" y="379.83" width="0.62" height="0.87" fill="#ff7f0e"/><rect x="290.9" y="379.83" width="0.62" height="0.87" fill="#ff7f0e"/><rect x="291.4" y="379.84" width="0.62" height="0.86" fill="#7e9454"/><rect x="291.9" y="379.84" width="0.62" height="0.86" fill="#ea8427"/><rect x="292.4" y="379.84" width="0.62" height="0.86" fill="#c5854c"/><rect x="292.9" y="379.85" width="0.62" height="0.85" fill="#c5854c"/><rect x="293.4" y="379.85" width="0.62" height="0.85" fill="#c5854c"/><rect x="293.9" y="379.86" width="0.62" height="0.84" fill="#938e3b"/><rect x="294.4" y="379.86" width="0.62" height="0.84" fill="#ff7f0e"/><rect x="294.9" y="379.86" width="0.62" height="0.84" fill="#ea8427"/><rect x="295.4" y="379.87" width="0.62" height="0.83" fill="#ea8427"/><rect x="295.9" y="379.87" width="0.62" height="0.83" fill="#d68a40"/><rect x="296.4" y="379.87" width="0.62" height="0.83" fill="#ff7f0e"/><rect x="296.9" y="379.88" width="0.62" height="0.82" fill="#c5854c"/><rect x="297.4" y="379.88" width="0.62" height="0.82" fill="#c5854c"/><rect x="297.9" y="379.89" width="0.62" height="0.81" fill="#ea8427"/><rect x="298.4" y="379.89" width="0.62" height="0.81" fill="#ea8427"/><rect x="298.9" y="379.89" width="0.62" height="0.81" fill="#ff7f0e"/><rect x="299.4" y="379.90" width="0.62" height="0.80" fill="#938e3b"/><rect x="299.9" y="379.90" width="0.62" height="0.80" fill="#7e9454"/><rect x="300.4" y="379.90" width="0.62" height="0.80" fill="#ea8427"/><rect x="300.9" y="379.91" width="0.62" height="0.79" fill="#ea8427"/><rect x="301.4" y="379.91" width="0.62" height="0.79" fill="#ea8427"/><rect x="301.9" y="379.91" width="0.62" height="0.79" fill="#c5854c"/><rect x="302.4" y="379.92" width="0.62" height="0.78" fill="#ff7f0e"/><rect x="302.9" y="379.92" width="0.62" height="0.78" fill="#ea8427"/><rect x="303.4" y="379.92" width="0.62" height="0.78" fill="#ff7f0e"/><rect x="303.9" y="379.92" width="0.62" height="0.78" fill="#ea8427"/><rect x="304.4" y="379.93" width="0.62" height="0.77" fill="#7e9454"/><rect x="304.9" y="379.93" width="0.62" height="0.77" fill="#ff7f0e"/><rect x="305.4" y="379.93" width="0.62" height="0.77" fill="#ff7f0e"/><rect x="305.9" y="379.93" width="0.62" height="0.77" fill="#ea8427"/><rect x="306.4" y="379.94" width="0.62" height="0.76" fill="#938e3b"/><rect x="306.9" y="379.94" width="0.62" height="0.76" fill="#c5854c"/><rect x="307.4" y="379.94" width="0.62" height="0.76" fill="#ff7f0e"/><rect x="307.9" y="379.95" width="0.62" height="0.75" fill="#ea8427"/><rect x="308.4" y="379.95" width="0.62" height="0.75" fill="#ff7f0e"/><rect x="308.9" y="379.95" width="0.62" height="0.75" fill="#ea8427"/><rect x="309.4" y="379.95" width="0.62" height="0.75" fill="#ff7f0e"/><rect x="309.9" y="379.96" width="0.62" height="0.74" fill="#7e9454"/><rect x="310.4" y="379.96" width="0.62" height="0.74" fill="#c5854c"/><rect x="310.9" y="379.96" width="0.62" height="0.74" fill="#ea8427"/><rect x="311.4" y="379.97" width="0.62" height="0.73" fill="#938e3b"/><rect x="311.9" y="379.97" width="0.62" height="0.73" fill="#b08a65"/><rect x="312.4" y="379.97" width="0.62" height="0.73" fill="#938e3b"/><rect x="312.9" y="379.97" width="0.62" height="0.73" fill="#599479"/><rect x="313.4" y="379.98" width="0.62" height="0.72" fill="#ea8427"/><rect x="313.9" y="379.98" width="0.62" height="0.72" fill="#ea8427"/><rect x="314.4" y="379.98" width="0.62" height="0.72" fill="#ea8427"/><rect x="314.9" y="379.99" width="0.62" height="0.71" fill="#c5854c"/><rect x="315.4" y="379.99" width="0.62" height="0.71" fill="#ff7f0e"/><rect x="315.9" y="379.99" width="0.62" height="0.71" fill="#7e9454"/><rect x="316.4" y="379.99" width="0.62" height="0.71" fill="#ea8427"/><rect x="316.9" y="380.00" width="0.62" height="0.70" fill="#ff7f0e"/><rect x="317.4" y="380.00" width="0.62" height="0.70" fill="#ff7f0e"/><rect x="317.9" y="380.00" width="0.62" height="0.70" fill="#ff7f0e"/><rect x="318.4" y="380.01" width="0.62" height="0.69" fill="#b08a65"/><rect x="318.9" y="380.01" width="0.62" height="0.69" fill="#ea8427"/><rect x="319.4" y="380.01" width="0.62" height="0.69" fill="#938e3b"/><rect x="319.9" y="380.01" width="0.62" height="0.69" fill="#ff7f0e"/><rect x="320.4" y="380.02" width="0.62" height="0.68" fill="#279e68"/><rect x="320.9" y="380.02" width="0.62" height="0.68" fill="#ea8427"/><rect x="321.4" y="380.02" width="0.62" height="0.68" fill="#d68a40"/><rect x="321.9" y="380.03" width="0.62" height="0.67" fill="#ea8427"/><rect x="322.4" y="380.03" width="0.62" height="0.67" fill="#7e9454"/><rect x="322.9" y="380.03" width="0.62" height="0.67" fill="#ff7f0e"/><rect x="323.4" y="380.03" width="0.62" height="0.67" fill="#d68a40"/><rect x="323.9" y="380.04" width="0.62" height="0.66" fill="#ea8427"/><rect x="324.4" y="380.04" width="0.62" height="0.66" fill="#c5854c"/><rect x="324.9" y="380.04" width="0.62" height="0.66" fill="#938e3b"/><rect x="325.4" y="380.05" width="0.62" height="0.65" fill="#ea8427"/><rect x="325.9" y="380.05" width="0.62" height="0.65" fill="#938e3b"/><rect x="326.4" y="380.05" width="0.62" height="0.65" fill="#b08a65"/><rect x="326.9" y="380.05" width="0.62" height="0.65" fill="#ea8427"/><rect x="327.4" y="380.06" width="0.62" height="0.64" fill="#d68a40"/><rect x="327.9" y="380.06" width="0.62" height="0.64" fill="#ff7f0e"/><rect x="328.4" y="380.06" width="0.62" height="0.64" fill="#ea8427"/><rect x="328.9" y="380.07" width="0.62" height="0.63" fill="#7e9454"/><rect x="329.4" y="380.07" width="0.62" height="0.63" fill="#938e3b"/><rect x="329.9" y="380.07" width="0.62" height="0.63" fill="#ff7f0e"/><rect x="330.4" y="380.07" width="0.62" height="0.63" fill="#ff7f0e"/><rect x="330.9" y="380.08" width="0.62" height="0.62" fill="#c5854c"/><rect x="331.4" y="380.08" width="0.62" height="0.62" fill="#7e9454"/><rect x="331.9" y="380.08" width="0.62" height="0.62" fill="#ff7f0e"/><rect x="332.4" y="380.09" width="0.62" height="0.61" fill="#b08a65"/><rect x="332.9" y="380.09" width="0.62" height="0.61" fill="#7e9454"/><rect x="333.4" y="380.09" width="0.62" height="0.61" fill="#ff7f0e"/><rect x="333.9" y="380.09" width="0.62" height="0.61" fill="#c5854c"/><rect x="334.4" y="380.10" width="0.62" height="0.60" fill="#ea8427"/><rect x="334.9" y="380.10" width="0.62" height="0.60" fill="#938e3b"/>
<line x1="208.50" y1="369.50" x2="340.80" y2="369.50" stroke="#e2603a" stroke-width="0.6" stroke-dasharray="1.6 1.2"/>
<text x="205.00" y="348.60" font-size="8.4" text-anchor="end" fill="#231f20">3.0</text>
<text x="205.00" y="360.70" font-size="8.4" text-anchor="end" fill="#231f20">2.0</text>
<text x="205.00" y="371.90" font-size="8.4" text-anchor="end" fill="#231f20">1.0</text>
<text x="205.00" y="382.80" font-size="8.4" text-anchor="end" fill="#231f20">0</text>
<text x="207.60" y="334.50" font-size="9.4" fill="#231f20" textLength="20.40" lengthAdjust="spacingAndGlyphs">1 × 10</text>
<text x="227.90" y="330.30" font-size="5.8" fill="#231f20" textLength="7.60" lengthAdjust="spacingAndGlyphs">−3</text>
<text x="260.70" y="334.50" font-size="8.8" fill="#231f20" font-style="italic" textLength="27.30" lengthAdjust="spacingAndGlyphs">MS4A1</text>
<text x="186.90" y="359.75" font-size="8.8" text-anchor="middle" fill="#231f20" textLength="42.50" lengthAdjust="spacingAndGlyphs" transform="rotate(-90 186.90 359.75)">Probability</text>
<text x="215.00" y="390.80" font-size="8.4" text-anchor="middle" fill="#231f20">0</text>
<text x="261.80" y="390.80" font-size="8.4" text-anchor="middle" fill="#231f20">1,000</text>
<text x="307.00" y="390.80" font-size="8.4" text-anchor="middle" fill="#231f20">2,000</text>
<text x="274.75" y="403.60" font-size="8.8" text-anchor="middle" fill="#231f20" textLength="35.30" lengthAdjust="spacingAndGlyphs">Cell rank</text>
<rect x="28.50" y="422.40" width="132.30" height="46.10" fill="none" stroke="#8c8c8c" stroke-width="0.8"/>
<polygon points="34.2,466.5 34.2,424.8 34.7,434.2 36.3,437.3 40.2,442.0 44.2,446.8 48.1,450.7 50.9,453.9 53.6,457.0 56.8,460.9 59.9,462.9 63.9,463.7 70.0,464.1 80.0,464.5 100.0,465.1 130.0,465.8 155.5,466.4 155.5,466.5" fill="#977e3f"/>
<rect x="34.2" y="429.50" width="0.62" height="37.00" fill="#8c564b"/><rect x="34.7" y="434.68" width="0.62" height="31.82" fill="#7b604d"/><rect x="35.2" y="435.65" width="0.62" height="30.85" fill="#7b604d"/><rect x="35.7" y="436.62" width="0.62" height="29.88" fill="#7b604d"/><rect x="36.2" y="437.48" width="0.62" height="29.02" fill="#8c564b"/><rect x="36.7" y="438.08" width="0.62" height="28.42" fill="#8c564b"/><rect x="37.2" y="438.69" width="0.62" height="27.81" fill="#279e68"/><rect x="37.7" y="439.29" width="0.62" height="27.21" fill="#8c564b"/><rect x="38.2" y="439.89" width="0.62" height="26.61" fill="#8c564b"/><rect x="38.7" y="440.49" width="0.62" height="26.01" fill="#8c564b"/><rect x="39.2" y="441.10" width="0.62" height="25.40" fill="#8c564b"/><rect x="39.7" y="441.70" width="0.62" height="24.80" fill="#8c564b"/><rect x="40.2" y="442.30" width="0.62" height="24.20" fill="#8c564b"/><rect x="40.7" y="442.90" width="0.62" height="23.60" fill="#4f7a55"/><rect x="41.2" y="443.50" width="0.62" height="23.00" fill="#4f7a55"/><rect x="41.7" y="444.10" width="0.62" height="22.40" fill="#4f7a55"/><rect x="42.2" y="444.70" width="0.62" height="21.80" fill="#8c564b"/><rect x="42.7" y="445.30" width="0.62" height="21.20" fill="#279e68"/><rect x="43.2" y="445.90" width="0.62" height="20.60" fill="#279e68"/><rect x="43.7" y="446.50" width="0.62" height="20.00" fill="#8c564b"/><rect x="44.2" y="447.05" width="0.62" height="19.45" fill="#4f7a55"/><rect x="44.7" y="447.55" width="0.62" height="18.95" fill="#279e68"/><rect x="45.2" y="448.05" width="0.62" height="18.45" fill="#2aa070"/><rect x="45.7" y="448.55" width="0.62" height="17.95" fill="#4f7a55"/><rect x="46.2" y="449.05" width="0.62" height="17.45" fill="#4f7a55"/><rect x="46.7" y="449.55" width="0.62" height="16.95" fill="#4f7a55"/><rect x="47.2" y="450.05" width="0.62" height="16.45" fill="#279e68"/><rect x="47.7" y="450.55" width="0.62" height="15.95" fill="#279e68"/><rect x="48.2" y="451.10" width="0.62" height="15.40" fill="#2aa070"/><rect x="48.7" y="451.67" width="0.62" height="14.83" fill="#279e68"/><rect x="49.2" y="452.24" width="0.62" height="14.26" fill="#279e68"/><rect x="49.7" y="452.81" width="0.62" height="13.69" fill="#279e68"/><rect x="50.2" y="453.39" width="0.62" height="13.11" fill="#279e68"/><rect x="50.7" y="453.96" width="0.62" height="12.54" fill="#279e68"/><rect x="51.2" y="454.53" width="0.62" height="11.97" fill="#279e68"/><rect x="51.7" y="455.11" width="0.62" height="11.39" fill="#279e68"/><rect x="52.2" y="455.68" width="0.62" height="10.82" fill="#279e68"/><rect x="52.7" y="456.25" width="0.62" height="10.25" fill="#279e68"/><rect x="53.2" y="456.83" width="0.62" height="9.67" fill="#279e68"/><rect x="53.7" y="457.43" width="0.62" height="9.07" fill="#c08a30"/><rect x="54.2" y="458.04" width="0.62" height="8.46" fill="#c08a30"/><rect x="54.7" y="458.65" width="0.62" height="7.85" fill="#7a9040"/><rect x="55.2" y="459.25" width="0.62" height="7.25" fill="#c08a30"/><rect x="55.7" y="459.86" width="0.62" height="6.64" fill="#7a9040"/><rect x="56.2" y="460.47" width="0.62" height="6.03" fill="#7a9040"/><rect x="56.7" y="461.00" width="0.62" height="5.50" fill="#7a9040"/><rect x="57.2" y="461.32" width="0.62" height="5.18" fill="#ff7f0e"/><rect x="57.7" y="461.64" width="0.62" height="4.86" fill="#ea531b"/><rect x="58.2" y="461.96" width="0.62" height="4.54" fill="#ca8e40"/><rect x="58.7" y="462.29" width="0.62" height="4.21" fill="#e06020"/><rect x="59.2" y="462.61" width="0.62" height="3.89" fill="#ef6f17"/><rect x="59.7" y="462.91" width="0.62" height="3.59" fill="#da9e37"/><rect x="60.2" y="463.01" width="0.62" height="3.49" fill="#ef6f17"/><rect x="60.7" y="463.11" width="0.62" height="3.39" fill="#ef6f17"/><rect x="61.2" y="463.21" width="0.62" height="3.29" fill="#ff7f0e"/><rect x="61.7" y="463.31" width="0.62" height="3.19" fill="#ca8e40"/><rect x="62.2" y="463.41" width="0.62" height="3.09" fill="#ef6f17"/><rect x="62.7" y="463.51" width="0.62" height="2.99" fill="#ff7f0e"/><rect x="63.2" y="463.61" width="0.62" height="2.89" fill="#ca8e40"/><rect x="63.7" y="463.70" width="0.62" height="2.80" fill="#da9e37"/><rect x="64.2" y="463.74" width="0.62" height="2.76" fill="#ff7f0e"/><rect x="64.7" y="463.77" width="0.62" height="2.73" fill="#ca8e40"/><rect x="65.2" y="463.80" width="0.62" height="2.70" fill="#c57244"/><rect x="65.7" y="463.83" width="0.62" height="2.67" fill="#ff7f0e"/><rect x="66.2" y="463.87" width="0.62" height="2.63" fill="#ef6f17"/><rect x="66.7" y="463.90" width="0.62" height="2.60" fill="#ff7f0e"/><rect x="67.2" y="463.93" width="0.62" height="2.57" fill="#da9e37"/><rect x="67.7" y="463.97" width="0.62" height="2.53" fill="#ff7f0e"/><rect x="68.2" y="464.00" width="0.62" height="2.50" fill="#ef6f17"/><rect x="68.7" y="464.03" width="0.62" height="2.47" fill="#ef6f17"/><rect x="69.2" y="464.06" width="0.62" height="2.44" fill="#ea531b"/><rect x="69.7" y="464.10" width="0.62" height="2.40" fill="#db4324"/><rect x="70.2" y="464.12" width="0.62" height="2.38" fill="#da9e37"/><rect x="70.7" y="464.14" width="0.62" height="2.36" fill="#ca8e40"/><rect x="71.2" y="464.16" width="0.62" height="2.34" fill="#ff7f0e"/><rect x="71.7" y="464.18" width="0.62" height="2.32" fill="#ca8e40"/><rect x="72.2" y="464.20" width="0.62" height="2.30" fill="#ff7f0e"/><rect x="72.7" y="464.22" width="0.62" height="2.28" fill="#c57244"/><rect x="73.2" y="464.24" width="0.62" height="2.26" fill="#da9e37"/><rect x="73.7" y="464.26" width="0.62" height="2.24" fill="#ff7f0e"/><rect x="74.2" y="464.28" width="0.62" height="2.22" fill="#ef6f17"/><rect x="74.7" y="464.30" width="0.62" height="2.20" fill="#ef6f17"/><rect x="75.2" y="464.32" width="0.62" height="2.18" fill="#da9e37"/><rect x="75.7" y="464.34" width="0.62" height="2.16" fill="#ef6f17"/><rect x="76.2" y="464.36" width="0.62" height="2.14" fill="#da9e37"/><rect x="76.7" y="464.38" width="0.62" height="2.12" fill="#ff7f0e"/><rect x="77.2" y="464.40" width="0.62" height="2.10" fill="#ff7f0e"/><rect x="77.7" y="464.42" width="0.62" height="2.08" fill="#ea531b"/><rect x="78.2" y="464.44" width="0.62" height="2.06" fill="#ea531b"/><rect x="78.7" y="464.46" width="0.62" height="2.04" fill="#ff7f0e"/><rect x="79.2" y="464.48" width="0.62" height="2.02" fill="#ff7f0e"/><rect x="79.7" y="464.50" width="0.62" height="2.00" fill="#da9e37"/><rect x="80.2" y="464.51" width="0.62" height="1.99" fill="#ff7f0e"/><rect x="80.7" y="464.53" width="0.62" height="1.97" fill="#da9e37"/><rect x="81.2" y="464.54" width="0.62" height="1.96" fill="#ea531b"/><rect x="81.7" y="464.56" width="0.62" height="1.94" fill="#ff7f0e"/><rect x="82.2" y="464.57" width="0.62" height="1.93" fill="#db4324"/><rect x="82.7" y="464.59" width="0.62" height="1.91" fill="#ff7f0e"/><rect x="83.2" y="464.60" width="0.62" height="1.90" fill="#ef6f17"/><rect x="83.7" y="464.62" width="0.62" height="1.88" fill="#b5bd61"/><rect x="84.2" y="464.63" width="0.62" height="1.87" fill="#ef6f17"/><rect x="84.7" y="464.65" width="0.62" height="1.85" fill="#ef6f17"/><rect x="85.2" y="464.66" width="0.62" height="1.84" fill="#ea531b"/><rect x="85.7" y="464.68" width="0.62" height="1.82" fill="#ef6f17"/><rect x="86.2" y="464.69" width="0.62" height="1.81" fill="#c57244"/><rect x="86.7" y="464.71" width="0.62" height="1.79" fill="#ff7f0e"/><rect x="87.2" y="464.72" width="0.62" height="1.78" fill="#ef6f17"/><rect x="87.7" y="464.74" width="0.62" height="1.76" fill="#da9e37"/><rect x="88.2" y="464.75" width="0.62" height="1.75" fill="#da9e37"/><rect x="88.7" y="464.77" width="0.62" height="1.73" fill="#ff7f0e"/><rect x="89.2" y="464.78" width="0.62" height="1.72" fill="#ef6f17"/><rect x="89.7" y="464.80" width="0.62" height="1.70" fill="#da9e37"/><rect x="90.2" y="464.81" width="0.62" height="1.69" fill="#d62728"/><rect x="90.7" y="464.83" width="0.62" height="1.67" fill="#ef6f17"/><rect x="91.2" y="464.84" width="0.62" height="1.66" fill="#ef6f17"/><rect x="91.7" y="464.86" width="0.62" height="1.64" fill="#ff7f0e"/><rect x="92.2" y="464.87" width="0.62" height="1.63" fill="#e06020"/><rect x="92.7" y="464.89" width="0.62" height="1.61" fill="#ff7f0e"/><rect x="93.2" y="464.90" width="0.62" height="1.60" fill="#ff7f0e"/><rect x="93.7" y="464.92" width="0.62" height="1.58" fill="#ef6f17"/><rect x="94.2" y="464.93" width="0.62" height="1.57" fill="#e06020"/><rect x="94.7" y="464.95" width="0.62" height="1.55" fill="#ca8e40"/><rect x="95.2" y="464.96" width="0.62" height="1.54" fill="#ef6f17"/><rect x="95.7" y="464.98" width="0.62" height="1.52" fill="#ff7f0e"/><rect x="96.2" y="464.99" width="0.62" height="1.51" fill="#e06020"/><rect x="96.7" y="465.01" width="0.62" height="1.49" fill="#ea531b"/><rect x="97.2" y="465.02" width="0.62" height="1.48" fill="#ea531b"/><rect x="97.7" y="465.04" width="0.62" height="1.46" fill="#db4324"/><rect x="98.2" y="465.05" width="0.62" height="1.45" fill="#ff7f0e"/><rect x="98.7" y="465.07" width="0.62" height="1.43" fill="#da9e37"/><rect x="99.2" y="465.08" width="0.62" height="1.42" fill="#ef6f17"/><rect x="99.7" y="465.10" width="0.62" height="1.40" fill="#ff7f0e"/><rect x="100.2" y="465.11" width="0.62" height="1.39" fill="#ff7f0e"/><rect x="100.7" y="465.12" width="0.62" height="1.38" fill="#b5bd61"/><rect x="101.2" y="465.13" width="0.62" height="1.37" fill="#ff7f0e"/><rect x="101.7" y="465.15" width="0.62" height="1.35" fill="#ef6f17"/><rect x="102.2" y="465.16" width="0.62" height="1.34" fill="#ef6f17"/><rect x="102.7" y="465.17" width="0.62" height="1.33" fill="#e06020"/><rect x="103.2" y="465.18" width="0.62" height="1.32" fill="#ff7f0e"/><rect x="103.7" y="465.19" width="0.62" height="1.31" fill="#e06020"/><rect x="104.2" y="465.20" width="0.62" height="1.30" fill="#e06020"/><rect x="104.7" y="465.22" width="0.62" height="1.28" fill="#ef6f17"/><rect x="105.2" y="465.23" width="0.62" height="1.27" fill="#da9e37"/><rect x="105.7" y="465.24" width="0.62" height="1.26" fill="#d62728"/><rect x="106.2" y="465.25" width="0.62" height="1.25" fill="#ca8e40"/><rect x="106.7" y="465.26" width="0.62" height="1.24" fill="#ff7f0e"/><rect x="107.2" y="465.27" width="0.62" height="1.23" fill="#c57244"/><rect x="107.7" y="465.29" width="0.62" height="1.21" fill="#ff7f0e"/><rect x="108.2" y="465.30" width="0.62" height="1.20" fill="#ea531b"/><rect x="108.7" y="465.31" width="0.62" height="1.19" fill="#ea531b"/><rect x="109.2" y="465.32" width="0.62" height="1.18" fill="#ff7f0e"/><rect x="109.7" y="465.33" width="0.62" height="1.17" fill="#db4324"/><rect x="110.2" y="465.34" width="0.62" height="1.16" fill="#ff7f0e"/><rect x="110.7" y="465.36" width="0.62" height="1.14" fill="#e06020"/><rect x="111.2" y="465.37" width="0.62" height="1.13" fill="#ff7f0e"/><rect x="111.7" y="465.38" width="0.62" height="1.12" fill="#e06020"/><rect x="112.2" y="465.39" width="0.62" height="1.11" fill="#ca8e40"/><rect x="112.7" y="465.40" width="0.62" height="1.10" fill="#ff7f0e"/><rect x="113.2" y="465.41" width="0.62" height="1.09" fill="#ff7f0e"/><rect x="113.7" y="465.43" width="0.62" height="1.07" fill="#e06020"/><rect x="114.2" y="465.44" width="0.62" height="1.06" fill="#ca8e40"/><rect x="114.7" y="465.45" width="0.62" height="1.05" fill="#ef6f17"/><rect x="115.2" y="465.46" width="0.62" height="1.04" fill="#ff7f0e"/><rect x="115.7" y="465.47" width="0.62" height="1.03" fill="#ff7f0e"/><rect x="116.2" y="465.48" width="0.62" height="1.02" fill="#c57244"/><rect x="116.7" y="465.50" width="0.62" height="1.00" fill="#ff7f0e"/><rect x="117.2" y="465.51" width="0.62" height="0.99" fill="#da9e37"/><rect x="117.7" y="465.52" width="0.62" height="0.98" fill="#ea531b"/><rect x="118.2" y="465.53" width="0.62" height="0.97" fill="#ff7f0e"/><rect x="118.7" y="465.54" width="0.62" height="0.96" fill="#e06020"/><rect x="119.2" y="465.55" width="0.62" height="0.95" fill="#ff7f0e"/><rect x="119.7" y="465.57" width="0.62" height="0.93" fill="#da9e37"/><rect x="120.2" y="465.58" width="0.62" height="0.92" fill="#d62728"/><rect x="120.7" y="465.59" width="0.62" height="0.91" fill="#db4324"/><rect x="121.2" y="465.60" width="0.62" height="0.90" fill="#ff7f0e"/><rect x="121.7" y="465.61" width="0.62" height="0.89" fill="#da9e37"/><rect x="122.2" y="465.62" width="0.62" height="0.88" fill="#e06020"/><rect x="122.7" y="465.64" width="0.62" height="0.86" fill="#da9e37"/><rect x="123.2" y="465.65" width="0.62" height="0.85" fill="#ef6f17"/><rect x="123.7" y="465.66" width="0.62" height="0.84" fill="#ca8e40"/><rect x="124.2" y="465.67" width="0.62" height="0.83" fill="#ef6f17"/><rect x="124.7" y="465.68" width="0.62" height="0.82" fill="#ea531b"/><rect x="125.2" y="465.69" width="0.62" height="0.81" fill="#ff7f0e"/><rect x="125.7" y="465.71" width="0.62" height="0.79" fill="#ea531b"/><rect x="126.2" y="465.72" width="0.62" height="0.78" fill="#ef6f17"/><rect x="126.7" y="465.73" width="0.62" height="0.77" fill="#ff7f0e"/><rect x="127.2" y="465.74" width="0.62" height="0.76" fill="#ff7f0e"/><rect x="127.7" y="465.75" width="0.62" height="0.75" fill="#da9e37"/><rect x="128.2" y="465.76" width="0.62" height="0.74" fill="#ca8e40"/><rect x="128.7" y="465.78" width="0.62" height="0.72" fill="#ea531b"/><rect x="129.2" y="465.79" width="0.62" height="0.71" fill="#ef6f17"/><rect x="129.7" y="465.80" width="0.62" height="0.70" fill="#ff7f0e"/><rect x="130.2" y="465.81" width="0.62" height="0.69" fill="#db4324"/><rect x="130.7" y="465.82" width="0.62" height="0.68" fill="#ef6f17"/><rect x="131.2" y="465.83" width="0.62" height="0.67" fill="#c57244"/><rect x="131.7" y="465.85" width="0.62" height="0.65" fill="#ef6f17"/><rect x="132.2" y="465.86" width="0.62" height="0.64" fill="#ef6f17"/><rect x="132.7" y="465.87" width="0.62" height="0.63" fill="#ef6f17"/><rect x="133.2" y="465.88" width="0.62" height="0.62" fill="#da9e37"/><rect x="133.7" y="465.89" width="0.62" height="0.61" fill="#ff7f0e"/><rect x="134.2" y="465.90" width="0.62" height="0.60" fill="#da9e37"/><rect x="134.7" y="465.92" width="0.62" height="0.58" fill="#ef6f17"/><rect x="135.2" y="465.93" width="0.62" height="0.57" fill="#ff7f0e"/><rect x="135.7" y="465.94" width="0.62" height="0.56" fill="#ea531b"/><rect x="136.2" y="465.95" width="0.62" height="0.55" fill="#e06020"/><rect x="136.7" y="465.96" width="0.62" height="0.54" fill="#da9e37"/><rect x="137.2" y="465.98" width="0.62" height="0.52" fill="#ef6f17"/><rect x="137.7" y="465.99" width="0.62" height="0.51" fill="#ef6f17"/><rect x="138.2" y="466.00" width="0.62" height="0.50" fill="#db4324"/><rect x="138.7" y="466.01" width="0.62" height="0.49" fill="#ef6f17"/><rect x="139.2" y="466.02" width="0.62" height="0.48" fill="#ef6f17"/><rect x="139.7" y="466.03" width="0.62" height="0.47" fill="#ef6f17"/><rect x="140.2" y="466.05" width="0.62" height="0.45" fill="#ca8e40"/><rect x="140.7" y="466.06" width="0.62" height="0.44" fill="#ff7f0e"/><rect x="141.2" y="466.07" width="0.62" height="0.43" fill="#da9e37"/><rect x="141.7" y="466.08" width="0.62" height="0.42" fill="#ff7f0e"/><rect x="142.2" y="466.09" width="0.62" height="0.41" fill="#ea531b"/><rect x="142.7" y="466.10" width="0.62" height="0.40" fill="#ea531b"/><rect x="143.2" y="466.12" width="0.62" height="0.38" fill="#ef6f17"/><rect x="143.7" y="466.13" width="0.62" height="0.37" fill="#ea531b"/><rect x="144.2" y="466.14" width="0.62" height="0.36" fill="#ef6f17"/><rect x="144.7" y="466.15" width="0.62" height="0.35" fill="#ef6f17"/><rect x="145.2" y="466.16" width="0.62" height="0.34" fill="#d62728"/><rect x="145.7" y="466.18" width="0.62" height="0.32" fill="#da9e37"/><rect x="146.2" y="466.19" width="0.62" height="0.31" fill="#da9e37"/><rect x="146.7" y="466.20" width="0.62" height="0.30" fill="#db4324"/><rect x="147.2" y="466.21" width="0.62" height="0.29" fill="#ff7f0e"/><rect x="147.7" y="466.22" width="0.62" height="0.28" fill="#ef6f17"/><rect x="148.2" y="466.23" width="0.62" height="0.27" fill="#da9e37"/><rect x="148.7" y="466.25" width="0.62" height="0.25" fill="#ca8e40"/><rect x="149.2" y="466.26" width="0.62" height="0.24" fill="#db4324"/><rect x="149.7" y="466.27" width="0.62" height="0.23" fill="#ff7f0e"/><rect x="150.2" y="466.28" width="0.62" height="0.22" fill="#db4324"/><rect x="150.7" y="466.29" width="0.62" height="0.21" fill="#ef6f17"/><rect x="151.2" y="466.30" width="0.62" height="0.20" fill="#db4324"/><rect x="151.7" y="466.32" width="0.62" height="0.18" fill="#da9e37"/><rect x="152.2" y="466.33" width="0.62" height="0.17" fill="#ea531b"/><rect x="152.7" y="466.34" width="0.62" height="0.16" fill="#da9e37"/><rect x="153.2" y="466.35" width="0.62" height="0.15" fill="#ff7f0e"/><rect x="153.7" y="466.36" width="0.62" height="0.14" fill="#da9e37"/><rect x="154.2" y="466.38" width="0.62" height="0.12" fill="#ef6f17"/><rect x="154.7" y="466.39" width="0.62" height="0.11" fill="#ff7f0e"/><rect x="155.2" y="466.40" width="0.62" height="0.10" fill="#ef6f17"/>
<line x1="28.50" y1="453.00" x2="160.80" y2="453.00" stroke="#e2603a" stroke-width="0.6" stroke-dasharray="1.6 1.2"/>
<text x="25.00" y="428.40" font-size="8.4" text-anchor="end" fill="#231f20">3.0</text>
<text x="25.00" y="442.20" font-size="8.4" text-anchor="end" fill="#231f20">2.0</text>
<text x="25.00" y="455.50" font-size="8.4" text-anchor="end" fill="#231f20">1.0</text>
<text x="25.00" y="469.20" font-size="8.4" text-anchor="end" fill="#231f20">0</text>
<text x="27.60" y="420.00" font-size="9.4" fill="#231f20" textLength="20.40" lengthAdjust="spacingAndGlyphs">1 × 10</text>
<text x="47.90" y="415.80" font-size="5.8" fill="#231f20" textLength="7.60" lengthAdjust="spacingAndGlyphs">−3</text>
<text x="83.10" y="420.00" font-size="8.8" fill="#231f20" font-style="italic" textLength="23.10" lengthAdjust="spacingAndGlyphs">NKG7</text>
<text x="6.90" y="445.45" font-size="8.8" text-anchor="middle" fill="#231f20" textLength="42.50" lengthAdjust="spacingAndGlyphs" transform="rotate(-90 6.90 445.45)">Probability</text>
<text x="35.00" y="476.70" font-size="8.4" text-anchor="middle" fill="#231f20">0</text>
<text x="81.80" y="476.70" font-size="8.4" text-anchor="middle" fill="#231f20">1,000</text>
<text x="127.00" y="476.70" font-size="8.4" text-anchor="middle" fill="#231f20">2,000</text>
<text x="94.75" y="489.50" font-size="8.8" text-anchor="middle" fill="#231f20" textLength="35.30" lengthAdjust="spacingAndGlyphs">Cell rank</text>
<rect x="208.50" y="422.40" width="132.30" height="46.10" fill="none" stroke="#8c8c8c" stroke-width="0.8"/>
<polygon points="213.6,466.9 213.6,434.2 214.8,439.3 217.3,442.4 225.4,444.8 245.9,448.1 266.3,450.5 286.7,452.6 307.2,455.2 319.5,457.7 327.6,459.3 332.7,461.8 334.8,464.9 335.2,466.5 335.2,466.9" fill="#d17037"/>
<rect x="213.6" y="435.26" width="0.62" height="31.64" fill="#d72b39"/><rect x="214.1" y="437.39" width="0.62" height="29.51" fill="#d72b39"/><rect x="214.6" y="439.36" width="0.62" height="27.54" fill="#dc4062"/><rect x="215.1" y="439.98" width="0.62" height="26.92" fill="#d8304a"/><rect x="215.6" y="440.60" width="0.62" height="26.30" fill="#d62728"/><rect x="216.1" y="441.22" width="0.62" height="25.68" fill="#d8304a"/><rect x="216.6" y="441.84" width="0.62" height="25.06" fill="#d8304a"/><rect x="217.1" y="442.41" width="0.62" height="24.49" fill="#d8304a"/><rect x="217.6" y="442.56" width="0.62" height="24.34" fill="#d8304a"/><rect x="218.1" y="442.71" width="0.62" height="24.19" fill="#db3b51"/><rect x="218.6" y="442.86" width="0.62" height="24.04" fill="#d72b39"/><rect x="219.1" y="443.01" width="0.62" height="23.89" fill="#c89040"/><rect x="219.6" y="443.16" width="0.62" height="23.74" fill="#ff7f0e"/><rect x="220.1" y="443.30" width="0.62" height="23.60" fill="#d05038"/><rect x="220.6" y="443.45" width="0.62" height="23.45" fill="#6a7a90"/><rect x="221.1" y="443.60" width="0.62" height="23.30" fill="#b86a40"/><rect x="221.6" y="443.75" width="0.62" height="23.15" fill="#e07a30"/><rect x="222.1" y="443.90" width="0.62" height="23.00" fill="#e07a30"/><rect x="222.6" y="444.04" width="0.62" height="22.86" fill="#e07a30"/><rect x="223.1" y="444.19" width="0.62" height="22.71" fill="#e07a30"/><rect x="223.6" y="444.34" width="0.62" height="22.56" fill="#d05038"/><rect x="224.1" y="444.49" width="0.62" height="22.41" fill="#ff7f0e"/><rect x="224.6" y="444.64" width="0.62" height="22.26" fill="#ff7f0e"/><rect x="225.1" y="444.79" width="0.62" height="22.11" fill="#e07a30"/><rect x="225.6" y="444.87" width="0.62" height="22.03" fill="#e07a30"/><rect x="226.1" y="444.95" width="0.62" height="21.95" fill="#c89040"/><rect x="226.6" y="445.03" width="0.62" height="21.87" fill="#ff7f0e"/><rect x="227.1" y="445.11" width="0.62" height="21.79" fill="#d05038"/><rect x="227.6" y="445.19" width="0.62" height="21.71" fill="#e07a30"/><rect x="228.1" y="445.27" width="0.62" height="21.63" fill="#279e68"/><rect x="228.6" y="445.36" width="0.62" height="21.54" fill="#e07a30"/><rect x="229.1" y="445.44" width="0.62" height="21.46" fill="#b86a40"/><rect x="229.6" y="445.52" width="0.62" height="21.38" fill="#c89040"/><rect x="230.1" y="445.60" width="0.62" height="21.30" fill="#ff7f0e"/><rect x="230.6" y="445.68" width="0.62" height="21.22" fill="#e07a30"/><rect x="231.1" y="445.76" width="0.62" height="21.14" fill="#e07a30"/><rect x="231.6" y="445.84" width="0.62" height="21.06" fill="#279e68"/><rect x="232.1" y="445.92" width="0.62" height="20.98" fill="#e07a30"/><rect x="232.6" y="446.00" width="0.62" height="20.90" fill="#ff7f0e"/><rect x="233.1" y="446.08" width="0.62" height="20.82" fill="#c89040"/><rect x="233.6" y="446.16" width="0.62" height="20.74" fill="#e07a30"/><rect x="234.1" y="446.24" width="0.62" height="20.66" fill="#c89040"/><rect x="234.6" y="446.32" width="0.62" height="20.58" fill="#c89040"/><rect x="235.1" y="446.40" width="0.62" height="20.50" fill="#d05038"/><rect x="235.6" y="446.48" width="0.62" height="20.42" fill="#e07a30"/><rect x="236.1" y="446.56" width="0.62" height="20.34" fill="#d05038"/><rect x="236.6" y="446.64" width="0.62" height="20.26" fill="#e07a30"/><rect x="237.1" y="446.72" width="0.62" height="20.18" fill="#c89040"/><rect x="237.6" y="446.80" width="0.62" height="20.10" fill="#c89040"/><rect x="238.1" y="446.88" width="0.62" height="20.02" fill="#e07a30"/><rect x="238.6" y="446.97" width="0.62" height="19.93" fill="#6a7a90"/><rect x="239.1" y="447.05" width="0.62" height="19.85" fill="#d05038"/><rect x="239.6" y="447.13" width="0.62" height="19.77" fill="#e07a30"/><rect x="240.1" y="447.21" width="0.62" height="19.69" fill="#e07a30"/><rect x="240.6" y="447.29" width="0.62" height="19.61" fill="#ff7f0e"/><rect x="241.1" y="447.37" width="0.62" height="19.53" fill="#e07a30"/><rect x="241.6" y="447.45" width="0.62" height="19.45" fill="#e07a30"/><rect x="242.1" y="447.53" width="0.62" height="19.37" fill="#ff7f0e"/><rect x="242.6" y="447.61" width="0.62" height="19.29" fill="#e07a30"/><rect x="243.1" y="447.69" width="0.62" height="19.21" fill="#c89040"/><rect x="243.6" y="447.77" width="0.62" height="19.13" fill="#279e68"/><rect x="244.1" y="447.85" width="0.62" height="19.05" fill="#6a7a90"/><rect x="244.6" y="447.93" width="0.62" height="18.97" fill="#e07a30"/><rect x="245.1" y="448.01" width="0.62" height="18.89" fill="#d05038"/><rect x="245.6" y="448.09" width="0.62" height="18.81" fill="#ff7f0e"/><rect x="246.1" y="448.15" width="0.62" height="18.75" fill="#c89040"/><rect x="246.6" y="448.21" width="0.62" height="18.69" fill="#e07a30"/><rect x="247.1" y="448.27" width="0.62" height="18.63" fill="#e07a30"/><rect x="247.6" y="448.33" width="0.62" height="18.57" fill="#ff7f0e"/><rect x="248.1" y="448.39" width="0.62" height="18.51" fill="#ff7f0e"/><rect x="248.6" y="448.45" width="0.62" height="18.45" fill="#ff7f0e"/><rect x="249.1" y="448.51" width="0.62" height="18.39" fill="#e07a30"/><rect x="249.6" y="448.56" width="0.62" height="18.34" fill="#ff7f0e"/><rect x="250.1" y="448.62" width="0.62" height="18.28" fill="#6a7a90"/><rect x="250.6" y="448.68" width="0.62" height="18.22" fill="#d05038"/><rect x="251.1" y="448.74" width="0.62" height="18.16" fill="#e07a30"/><rect x="251.6" y="448.80" width="0.62" height="18.10" fill="#e07a30"/><rect x="252.1" y="448.86" width="0.62" height="18.04" fill="#c89040"/><rect x="252.6" y="448.92" width="0.62" height="17.98" fill="#e07a30"/><rect x="253.1" y="448.98" width="0.62" height="17.92" fill="#e07a30"/><rect x="253.6" y="449.04" width="0.62" height="17.86" fill="#e07a30"/><rect x="254.1" y="449.09" width="0.62" height="17.81" fill="#6a7a90"/><rect x="254.6" y="449.15" width="0.62" height="17.75" fill="#e07a30"/><rect x="255.1" y="449.21" width="0.62" height="17.69" fill="#b86a40"/><rect x="255.6" y="449.27" width="0.62" height="17.63" fill="#d05038"/><rect x="256.1" y="449.33" width="0.62" height="17.57" fill="#e07a30"/><rect x="256.6" y="449.39" width="0.62" height="17.51" fill="#ff7f0e"/><rect x="257.1" y="449.45" width="0.62" height="17.45" fill="#e07a30"/><rect x="257.6" y="449.51" width="0.62" height="17.39" fill="#279e68"/><rect x="258.1" y="449.56" width="0.62" height="17.34" fill="#d05038"/><rect x="258.6" y="449.62" width="0.62" height="17.28" fill="#e07a30"/><rect x="259.1" y="449.68" width="0.62" height="17.22" fill="#d05038"/><rect x="259.6" y="449.74" width="0.62" height="17.16" fill="#e07a30"/><rect x="260.1" y="449.80" width="0.62" height="17.10" fill="#ff7f0e"/><rect x="260.6" y="449.86" width="0.62" height="17.04" fill="#ff7f0e"/><rect x="261.1" y="449.92" width="0.62" height="16.98" fill="#e07a30"/><rect x="261.6" y="449.98" width="0.62" height="16.92" fill="#e07a30"/><rect x="262.1" y="450.04" width="0.62" height="16.86" fill="#ff7f0e"/><rect x="262.6" y="450.09" width="0.62" height="16.81" fill="#e07a30"/><rect x="263.1" y="450.15" width="0.62" height="16.75" fill="#d05038"/><rect x="263.6" y="450.21" width="0.62" height="16.69" fill="#d05038"/><rect x="264.1" y="450.27" width="0.62" height="16.63" fill="#e07a30"/><rect x="264.6" y="450.33" width="0.62" height="16.57" fill="#b86a40"/><rect x="265.1" y="450.39" width="0.62" height="16.51" fill="#e07a30"/><rect x="265.6" y="450.45" width="0.62" height="16.45" fill="#e07a30"/><rect x="266.1" y="450.51" width="0.62" height="16.39" fill="#b86a40"/><rect x="266.6" y="450.56" width="0.62" height="16.34" fill="#279e68"/><rect x="267.1" y="450.61" width="0.62" height="16.29" fill="#6a7a90"/><rect x="267.6" y="450.66" width="0.62" height="16.24" fill="#d05038"/><rect x="268.1" y="450.71" width="0.62" height="16.19" fill="#d05038"/><rect x="268.6" y="450.76" width="0.62" height="16.14" fill="#c89040"/><rect x="269.1" y="450.81" width="0.62" height="16.09" fill="#ff7f0e"/><rect x="269.6" y="450.87" width="0.62" height="16.03" fill="#c89040"/><rect x="270.1" y="450.92" width="0.62" height="15.98" fill="#d05038"/><rect x="270.6" y="450.97" width="0.62" height="15.93" fill="#e07a30"/><rect x="271.1" y="451.02" width="0.62" height="15.88" fill="#d05038"/><rect x="271.6" y="451.07" width="0.62" height="15.83" fill="#d05038"/><rect x="272.1" y="451.12" width="0.62" height="15.78" fill="#d05038"/><rect x="272.6" y="451.17" width="0.62" height="15.73" fill="#d05038"/><rect x="273.1" y="451.23" width="0.62" height="15.67" fill="#e07a30"/><rect x="273.6" y="451.28" width="0.62" height="15.62" fill="#ff7f0e"/><rect x="274.1" y="451.33" width="0.62" height="15.57" fill="#ff7f0e"/><rect x="274.6" y="451.38" width="0.62" height="15.52" fill="#e07a30"/><rect x="275.1" y="451.43" width="0.62" height="15.47" fill="#ff7f0e"/><rect x="275.6" y="451.48" width="0.62" height="15.42" fill="#b86a40"/><rect x="276.1" y="451.53" width="0.62" height="15.37" fill="#6a7a90"/><rect x="276.6" y="451.59" width="0.62" height="15.31" fill="#d05038"/><rect x="277.1" y="451.64" width="0.62" height="15.26" fill="#c89040"/><rect x="277.6" y="451.69" width="0.62" height="15.21" fill="#e07a30"/><rect x="278.1" y="451.74" width="0.62" height="15.16" fill="#d05038"/><rect x="278.6" y="451.79" width="0.62" height="15.11" fill="#e07a30"/><rect x="279.1" y="451.84" width="0.62" height="15.06" fill="#ff7f0e"/><rect x="279.6" y="451.89" width="0.62" height="15.01" fill="#ff7f0e"/><rect x="280.1" y="451.95" width="0.62" height="14.95" fill="#ff7f0e"/><rect x="280.6" y="452.00" width="0.62" height="14.90" fill="#e07a30"/><rect x="281.1" y="452.05" width="0.62" height="14.85" fill="#6a7a90"/><rect x="281.6" y="452.10" width="0.62" height="14.80" fill="#e07a30"/><rect x="282.1" y="452.15" width="0.62" height="14.75" fill="#e07a30"/><rect x="282.6" y="452.20" width="0.62" height="14.70" fill="#279e68"/><rect x="283.1" y="452.26" width="0.62" height="14.64" fill="#e07a30"/><rect x="283.6" y="452.31" width="0.62" height="14.59" fill="#e07a30"/><rect x="284.1" y="452.36" width="0.62" height="14.54" fill="#6a7a90"/><rect x="284.6" y="452.41" width="0.62" height="14.49" fill="#b86a40"/><rect x="285.1" y="452.46" width="0.62" height="14.44" fill="#e07a30"/><rect x="285.6" y="452.51" width="0.62" height="14.39" fill="#d05038"/><rect x="286.1" y="452.56" width="0.62" height="14.34" fill="#b86a40"/><rect x="286.6" y="452.62" width="0.62" height="14.28" fill="#6a7a90"/><rect x="287.1" y="452.68" width="0.62" height="14.22" fill="#d05038"/><rect x="287.6" y="452.75" width="0.62" height="14.15" fill="#e07a30"/><rect x="288.1" y="452.81" width="0.62" height="14.09" fill="#e07a30"/><rect x="288.6" y="452.87" width="0.62" height="14.03" fill="#c89040"/><rect x="289.1" y="452.94" width="0.62" height="13.96" fill="#d05038"/><rect x="289.6" y="453.00" width="0.62" height="13.90" fill="#e07a30"/><rect x="290.1" y="453.06" width="0.62" height="13.84" fill="#e07a30"/><rect x="290.6" y="453.13" width="0.62" height="13.77" fill="#d05038"/><rect x="291.1" y="453.19" width="0.62" height="13.71" fill="#e07a30"/><rect x="291.6" y="453.25" width="0.62" height="13.65" fill="#d05038"/><rect x="292.1" y="453.32" width="0.62" height="13.58" fill="#d05038"/><rect x="292.6" y="453.38" width="0.62" height="13.52" fill="#6a7a90"/><rect x="293.1" y="453.44" width="0.62" height="13.46" fill="#d05038"/><rect x="293.6" y="453.51" width="0.62" height="13.39" fill="#d05038"/><rect x="294.1" y="453.57" width="0.62" height="13.33" fill="#b86a40"/><rect x="294.6" y="453.63" width="0.62" height="13.27" fill="#c89040"/><rect x="295.1" y="453.70" width="0.62" height="13.20" fill="#b86a40"/><rect x="295.6" y="453.76" width="0.62" height="13.14" fill="#d05038"/><rect x="296.1" y="453.82" width="0.62" height="13.08" fill="#e07a30"/><rect x="296.6" y="453.89" width="0.62" height="13.01" fill="#e07a30"/><rect x="297.1" y="453.95" width="0.62" height="12.95" fill="#c89040"/><rect x="297.6" y="454.01" width="0.62" height="12.89" fill="#e07a30"/><rect x="298.1" y="454.08" width="0.62" height="12.82" fill="#6a7a90"/><rect x="298.6" y="454.14" width="0.62" height="12.76" fill="#e07a30"/><rect x="299.1" y="454.20" width="0.62" height="12.70" fill="#e07a30"/><rect x="299.6" y="454.27" width="0.62" height="12.63" fill="#ff7f0e"/><rect x="300.1" y="454.33" width="0.62" height="12.57" fill="#d05038"/><rect x="300.6" y="454.39" width="0.62" height="12.51" fill="#e07a30"/><rect x="301.1" y="454.46" width="0.62" height="12.44" fill="#d05038"/><rect x="301.6" y="454.52" width="0.62" height="12.38" fill="#b86a40"/><rect x="302.1" y="454.58" width="0.62" height="12.32" fill="#d05038"/><rect x="302.6" y="454.65" width="0.62" height="12.25" fill="#e07a30"/><rect x="303.1" y="454.71" width="0.62" height="12.19" fill="#d05038"/><rect x="303.6" y="454.78" width="0.62" height="12.12" fill="#b86a40"/><rect x="304.1" y="454.84" width="0.62" height="12.06" fill="#e07a30"/><rect x="304.6" y="454.90" width="0.62" height="12.00" fill="#e07a30"/><rect x="305.1" y="454.97" width="0.62" height="11.93" fill="#b86a40"/><rect x="305.6" y="455.03" width="0.62" height="11.87" fill="#b86a40"/><rect x="306.1" y="455.09" width="0.62" height="11.81" fill="#e07a30"/><rect x="306.6" y="455.16" width="0.62" height="11.74" fill="#c89040"/><rect x="307.1" y="455.23" width="0.62" height="11.67" fill="#ff7f0e"/><rect x="307.6" y="455.33" width="0.62" height="11.57" fill="#b86a40"/><rect x="308.1" y="455.43" width="0.62" height="11.47" fill="#e07a30"/><rect x="308.6" y="455.54" width="0.62" height="11.36" fill="#d05038"/><rect x="309.1" y="455.64" width="0.62" height="11.26" fill="#d05038"/><rect x="309.6" y="455.74" width="0.62" height="11.16" fill="#b86a40"/><rect x="310.1" y="455.84" width="0.62" height="11.06" fill="#d05038"/><rect x="310.6" y="455.94" width="0.62" height="10.96" fill="#b86a40"/><rect x="311.1" y="456.04" width="0.62" height="10.86" fill="#e07a30"/><rect x="311.6" y="456.15" width="0.62" height="10.75" fill="#b86a40"/><rect x="312.1" y="456.25" width="0.62" height="10.65" fill="#ff7f0e"/><rect x="312.6" y="456.35" width="0.62" height="10.55" fill="#e07a30"/><rect x="313.1" y="456.45" width="0.62" height="10.45" fill="#ff7f0e"/><rect x="313.6" y="456.55" width="0.62" height="10.35" fill="#b86a40"/><rect x="314.1" y="456.65" width="0.62" height="10.25" fill="#d05038"/><rect x="314.6" y="456.75" width="0.62" height="10.15" fill="#e07a30"/><rect x="315.1" y="456.86" width="0.62" height="10.04" fill="#1f77b4"/><rect x="315.6" y="456.96" width="0.62" height="9.94" fill="#e07a30"/><rect x="316.1" y="457.06" width="0.62" height="9.84" fill="#c89040"/><rect x="316.6" y="457.16" width="0.62" height="9.74" fill="#b86a40"/><rect x="317.1" y="457.26" width="0.62" height="9.64" fill="#e07a30"/><rect x="317.6" y="457.36" width="0.62" height="9.54" fill="#4a80a8"/><rect x="318.1" y="457.47" width="0.62" height="9.43" fill="#c89040"/><rect x="318.6" y="457.57" width="0.62" height="9.33" fill="#ff7f0e"/><rect x="319.1" y="457.67" width="0.62" height="9.23" fill="#4a80a8"/><rect x="319.6" y="457.77" width="0.62" height="9.13" fill="#e07a30"/><rect x="320.1" y="457.87" width="0.62" height="9.03" fill="#c89040"/><rect x="320.6" y="457.97" width="0.62" height="8.93" fill="#b86a40"/><rect x="321.1" y="458.07" width="0.62" height="8.83" fill="#4a80a8"/><rect x="321.6" y="458.16" width="0.62" height="8.74" fill="#b86a40"/><rect x="322.1" y="458.26" width="0.62" height="8.64" fill="#4a80a8"/><rect x="322.6" y="458.36" width="0.62" height="8.54" fill="#4a80a8"/><rect x="323.1" y="458.46" width="0.62" height="8.44" fill="#b86a40"/><rect x="323.6" y="458.56" width="0.62" height="8.34" fill="#d05038"/><rect x="324.1" y="458.66" width="0.62" height="8.24" fill="#5a8aa0"/><rect x="324.6" y="458.76" width="0.62" height="8.14" fill="#5a8aa0"/><rect x="325.1" y="458.86" width="0.62" height="8.04" fill="#ff7f0e"/><rect x="325.6" y="458.95" width="0.62" height="7.95" fill="#4a80a8"/><rect x="326.1" y="459.05" width="0.62" height="7.85" fill="#e07a30"/><rect x="326.6" y="459.15" width="0.62" height="7.75" fill="#1f77b4"/><rect x="327.1" y="459.25" width="0.62" height="7.65" fill="#4a80a8"/><rect x="327.6" y="459.42" width="0.62" height="7.48" fill="#1f77b4"/><rect x="328.1" y="459.67" width="0.62" height="7.23" fill="#1f77b4"/><rect x="328.6" y="459.91" width="0.62" height="6.99" fill="#d05038"/><rect x="329.1" y="460.16" width="0.62" height="6.74" fill="#4a80a8"/><rect x="329.6" y="460.40" width="0.62" height="6.50" fill="#e07a30"/><rect x="330.1" y="460.65" width="0.62" height="6.25" fill="#e07a30"/><rect x="330.6" y="460.89" width="0.62" height="6.01" fill="#ff7f0e"/><rect x="331.1" y="461.14" width="0.62" height="5.76" fill="#4a80a8"/><rect x="331.6" y="461.38" width="0.62" height="5.52" fill="#4a80a8"/><rect x="332.1" y="461.63" width="0.62" height="5.27" fill="#4a80a8"/><rect x="332.6" y="462.02" width="0.62" height="4.88" fill="#5a8aa0"/><rect x="333.1" y="462.76" width="0.62" height="4.14" fill="#c89040"/><rect x="333.6" y="463.50" width="0.62" height="3.40" fill="#d05038"/><rect x="334.1" y="464.24" width="0.62" height="2.66" fill="#5a8aa0"/><rect x="334.6" y="465.10" width="0.62" height="1.80" fill="#c89040"/><rect x="335.1" y="466.50" width="0.62" height="0.40" fill="#4a80a8"/>
<line x1="208.50" y1="424.20" x2="340.80" y2="424.20" stroke="#e2603a" stroke-width="0.6" stroke-dasharray="1.6 1.2"/>
<text x="205.00" y="427.10" font-size="8.4" text-anchor="end" fill="#231f20">1.0</text>
<text x="205.00" y="448.50" font-size="8.4" text-anchor="end" fill="#231f20">0.5</text>
<text x="205.00" y="469.60" font-size="8.4" text-anchor="end" fill="#231f20">0</text>
<text x="207.60" y="420.00" font-size="9.4" fill="#231f20" textLength="20.40" lengthAdjust="spacingAndGlyphs">1 × 10</text>
<text x="227.90" y="415.80" font-size="5.8" fill="#231f20" textLength="7.60" lengthAdjust="spacingAndGlyphs">−3</text>
<text x="259.90" y="420.00" font-size="8.8" fill="#231f20" font-style="italic" textLength="29.30" lengthAdjust="spacingAndGlyphs">GAPDH</text>
<text x="186.90" y="445.45" font-size="8.8" text-anchor="middle" fill="#231f20" textLength="42.50" lengthAdjust="spacingAndGlyphs" transform="rotate(-90 186.90 445.45)">Probability</text>
<text x="215.00" y="476.70" font-size="8.4" text-anchor="middle" fill="#231f20">0</text>
<text x="261.80" y="476.70" font-size="8.4" text-anchor="middle" fill="#231f20">1,000</text>
<text x="307.00" y="476.70" font-size="8.4" text-anchor="middle" fill="#231f20">2,000</text>
<text x="274.75" y="489.50" font-size="8.8" text-anchor="middle" fill="#231f20" textLength="35.30" lengthAdjust="spacingAndGlyphs">Cell rank</text>
<text x="-0.30" y="512.60" font-size="12.6" fill="#000" font-weight="bold" stroke="#000" stroke-width="0.45">e</text>
<line x1="27.50" y1="613.80" x2="27.50" y2="513.50" stroke="#7d8cab" stroke-width="0.9"/>
<polygon points="27.5,509.8 29.3,513.8 25.7,513.8" fill="#56688a"/>
<line x1="27.10" y1="613.80" x2="128.00" y2="613.80" stroke="#7d8cab" stroke-width="0.9"/>
<polygon points="131.6,613.8 127.6,612.0 127.6,615.6" fill="#56688a"/>
<text x="24.20" y="537.50" font-size="8.4" text-anchor="end" fill="#231f20">0.6</text>
<text x="24.20" y="563.30" font-size="8.4" text-anchor="end" fill="#231f20">0.4</text>
<text x="24.20" y="589.00" font-size="8.4" text-anchor="end" fill="#231f20">0.2</text>
<text x="21.40" y="623.00" font-size="8.4" text-anchor="middle" fill="#231f20">0</text>
<text x="67.20" y="623.00" font-size="8.4" text-anchor="middle" fill="#231f20">1.0</text>
<text x="104.70" y="623.00" font-size="8.4" text-anchor="middle" fill="#231f20">2.0</text>
<text x="78.30" y="634.00" font-size="8.8" text-anchor="middle" fill="#231f20" textLength="15.50" lengthAdjust="spacingAndGlyphs">Max</text>
<text x="7.30" y="562.50" font-size="8.8" text-anchor="middle" fill="#231f20" textLength="39.70" lengthAdjust="spacingAndGlyphs" transform="rotate(-90 7.30 562.50)">Gini index</text>
<polygon points="32.1,608.8 38.2,600.1 44.4,592.9 49.5,584.7 53.5,579.6 57.6,574.5 61.7,570.4 65.8,566.3 68.5,565.5 70.0,571.0 70.0,578.0 67.0,585.0 62.5,591.0 57.0,597.0 51.0,601.5 45.0,604.8 39.0,607.3 33.5,609.4" fill="#4b72a6"/>
<path d="M49.2 601.5h0M71.8 574.2h0M65.9 578.4h0M65.0 586.7h0M63.1 592.5h0M45.6 602.7h0M62.3 578.9h0M60.2 578.7h0M62.8 587.0h0M44.7 604.4h0M53.1 602.0h0M70.4 563.6h0M63.1 572.7h0M63.5 574.0h0M69.5 583.1h0M72.1 565.3h0M50.9 601.3h0M75.5 568.5h0M60.9 586.0h0M67.2 580.3h0M61.1 593.0h0M59.7 575.7h0M65.4 581.5h0M76.1 559.1h0M74.6 565.2h0M73.3 574.2h0M66.9 586.4h0M70.0 580.2h0M54.9 596.4h0M70.0 564.3h0M62.1 584.4h0M60.3 591.2h0M61.4 591.9h0M56.8 597.3h0M57.4 598.5h0M69.6 561.8h0M44.6 605.1h0M69.8 578.4h0M70.3 564.6h0M59.2 574.7h0M70.7 576.8h0M61.6 583.3h0M59.0 597.1h0M64.1 584.3h0M61.0 591.2h0M64.0 579.3h0M56.2 594.6h0M73.0 578.0h0M74.4 571.8h0M77.1 569.8h0M67.0 583.0h0M68.3 584.9h0M51.8 597.4h0M59.1 581.6h0M52.9 601.9h0M57.6 594.4h0M65.2 585.3h0M49.6 603.2h0M64.5 575.3h0M75.3 575.6h0M69.6 565.0h0M60.9 571.7h0M74.2 572.3h0M62.9 593.3h0M64.0 582.9h0M67.1 571.9h0M60.8 586.8h0M51.5 597.7h0M60.1 573.1h0M60.9 588.3h0M59.0 580.8h0M69.6 565.1h0M63.9 572.1h0M77.5 566.0h0M60.9 571.4h0M76.2 565.3h0M60.5 594.7h0M43.1 606.5h0M60.9 570.9h0M76.9 559.8h0M59.5 595.1h0M70.0 562.2h0M60.2 592.4h0M50.8 600.5h0M45.3 604.8h0M63.7 583.8h0M70.5 561.6h0M66.8 578.5h0M72.7 573.7h0M58.9 597.2h0M42.5 606.9h0M49.3 599.8h0M65.8 582.1h0M62.9 575.9h0M66.6 565.7h0M49.3 603.4h0M70.3 570.2h0M76.0 568.7h0M74.3 568.6h0M75.2 560.7h0M70.4 567.5h0M62.9 571.1h0M72.5 564.8h0M62.9 588.3h0M67.0 585.3h0M59.2 576.1h0M78.3 560.8h0M67.3 574.0h0M64.0 570.5h0M49.6 600.5h0M70.5 565.7h0M75.6 565.1h0M53.8 597.1h0M67.5 578.8h0M55.2 599.6h0M44.7 604.2h0M64.1 574.5h0M74.5 567.1h0M72.9 574.5h0M71.4 563.1h0M65.1 583.8h0M71.6 579.1h0M61.9 574.7h0M58.6 575.7h0M63.6 582.8h0M73.5 569.7h0M50.6 601.7h0M41.3 607.3h0M74.9 568.2h0M69.4 573.9h0M48.1 600.9h0M58.8 593.7h0M63.5 575.9h0M78.0 565.7h0M76.1 573.1h0M70.5 582.2h0M73.0 564.8h0M77.2 566.0h0M59.4 572.9h0M67.6 577.7h0M77.4 561.8h0M75.4 574.9h0M70.0 583.2h0M64.3 584.5h0M58.5 577.3h0M62.4 573.7h0M74.2 577.6h0M66.8 567.6h0M67.8 571.4h0M73.7 578.8h0M76.0 573.4h0M76.9 563.7h0M68.1 564.2h0M67.5 585.2h0M73.7 569.1h0M69.1 578.1h0M60.3 590.9h0M66.8 565.8h0M77.1 569.5h0M63.7 568.1h0M66.8 566.9h0M64.3 575.6h0M73.3 571.0h0M72.3 576.1h0M69.4 583.3h0M65.6 571.9h0M68.7 562.9h0M65.0 587.7h0M70.3 573.0h0M70.6 576.7h0M66.9 564.7h0M60.3 575.9h0M74.7 566.8h0M68.3 582.6h0M66.3 588.9h0M68.6 581.2h0M67.9 569.6h0M71.8 578.4h0M72.0 569.6h0M68.4 568.0h0M58.8 576.1h0M63.0 585.1h0M61.1 592.6h0M77.8 564.6h0M64.6 587.5h0M71.3 565.7h0M53.7 601.2h0M51.9 600.3h0M59.9 573.4h0M58.1 593.0h0M65.7 584.7h0M68.6 584.3h0M57.2 593.2h0M53.7 596.0h0M73.4 563.1h0M77.3 564.5h0M62.1 575.5h0M77.3 564.2h0M77.6 564.0h0M66.4 582.8h0M61.8 571.4h0M51.6 598.4h0M74.4 577.7h0M73.9 572.7h0M70.2 581.9h0M66.7 586.9h0M58.8 578.0h0M67.6 579.2h0M67.8 587.1h0M65.8 588.1h0M68.0 577.0h0M51.8 598.7h0M62.6 586.8h0M71.0 560.4h0M75.0 564.7h0M59.5 572.5h0M70.4 583.4h0M70.4 575.1h0M47.6 605.2h0M66.9 567.8h0M69.3 568.9h0M60.6 589.0h0M63.0 574.2h0M66.2 578.5h0M46.9 604.8h0M73.8 567.5h0M64.5 574.6h0M65.2 572.1h0M58.3 592.0h0M72.8 567.1h0M73.3 561.3h0M75.1 562.4h0M47.1 601.9h0M54.3 598.0h0M75.8 573.2h0M75.4 561.4h0M65.4 582.6h0M52.2 601.7h0M57.0 594.6h0M49.3 602.9h0M72.3 573.8h0M52.8 598.5h0M73.7 578.2h0M68.9 584.0h0M49.8 600.6h0M59.8 596.5h0M72.6 579.3h0M69.0 563.2h0M71.7 566.2h0M76.6 558.5h0M63.8 584.0h0M43.8 605.2h0M64.9 570.7h0M60.3 587.8h0M60.6 571.0h0M73.1 563.8h0M47.0 605.0h0M62.3 573.9h0M65.6 570.8h0M62.4 574.5h0M62.8 592.5h0M72.2 580.6h0M65.2 579.8h0M42.5 605.9h0M63.8 575.5h0M66.8 575.9h0M76.0 565.0h0M74.2 561.4h0M65.9 566.9h0M58.6 595.4h0M69.8 569.2h0M68.3 573.0h0M72.4 572.1h0M73.3 568.6h0M59.6 591.4h0M57.8 592.4h0M60.0 571.8h0M68.8 585.3h0M73.3 570.4h0M71.0 563.4h0M64.3 591.6h0M66.5 576.9h0M64.3 583.1h0M65.5 588.2h0M71.1 562.6h0M71.3 576.7h0M64.5 583.9h0M60.4 573.6h0M53.7 596.3h0M66.9 578.6h0M59.9 593.5h0M76.7 570.9h0M74.4 567.1h0M68.1 572.7h0M63.1 569.9h0M68.2 567.3h0M54.7 596.4h0M77.3 561.2h0M64.3 588.2h0M65.9 580.5h0M66.8 578.2h0M61.9 585.7h0M62.3 570.8h0M74.0 575.5h0M60.3 581.8h0M75.7 571.1h0M52.4 601.2h0M67.7 565.4h0M74.3 562.4h0M70.3 573.0h0M71.8 577.7h0M46.2 603.9h0M62.9 589.6h0M48.8 603.5h0M46.7 602.9h0M69.7 578.1h0M69.9 563.5h0M62.3 577.5h0M61.8 574.0h0M39.9 608.0h0M66.2 583.8h0M57.8 598.3h0M71.4 575.3h0M70.3 564.9h0M62.5 571.8h0M67.5 570.5h0M71.5 572.6h0M77.8 563.1h0M68.7 585.7h0M59.6 594.7h0M71.3 566.5h0M68.7 574.9h0M66.7 570.1h0M58.4 593.6h0M61.0 570.8h0M66.3 579.6h0M67.0 582.7h0M68.4 573.3h0M69.6 566.3h0M72.9 574.0h0M71.9 565.3h0M73.4 565.7h0M60.0 595.7h0M71.1 580.2h0M75.7 561.1h0M64.3 574.2h0M63.5 579.1h0M72.7 575.1h0M60.0 578.3h0M51.9 601.7h0M61.6 579.6h0M49.7 599.5h0M60.1 582.6h0M74.6 564.5h0M65.9 574.1h0M69.8 576.0h0M64.4 577.2h0M65.8 569.2h0M78.2 559.6h0M69.1 585.5h0M70.7 582.5h0M63.3 584.4h0M59.0 573.3h0M49.9 603.4h0M65.6 574.9h0M59.6 583.7h0M55.2 599.6h0M67.9 585.4h0M73.6 571.7h0M71.9 576.7h0M67.0 577.2h0M72.4 572.5h0M63.8 580.5h0M74.8 560.5h0M68.0 577.7h0M75.8 572.7h0M60.6 587.0h0M52.9 597.7h0M62.3 580.9h0M78.3 561.6h0M53.3 599.5h0M48.2 602.2h0M65.3 585.0h0M69.9 581.5h0M70.3 577.2h0M46.9 603.3h0M72.3 565.9h0M53.2 598.1h0M70.7 567.3h0M62.9 583.8h0M67.8 569.4h0M62.5 584.9h0M71.7 567.7h0M66.9 571.3h0M69.4 566.6h0M59.8 581.0h0M41.6 607.0h0M60.6 590.0h0M73.7 562.7h0M73.1 577.7h0M78.0 559.0h0M71.6 580.5h0M72.4 575.4h0M63.3 592.6h0M64.0 578.5h0M64.5 582.0h0M70.8 578.8h0M73.6 570.2h0M77.5 558.3h0M72.4 573.5h0M70.7 576.6h0M66.4 574.9h0M71.3 565.5h0M71.7 576.7h0M74.1 563.7h0M43.0 606.2h0M69.2 571.7h0M65.1 574.7h0M66.0 580.8h0M45.1 603.3h0M67.6 570.3h0M68.6 564.8h0M66.8 571.6h0M64.2 587.6h0M62.1 582.6h0M67.2 580.6h0M70.8 572.3h0M69.5 571.7h0M61.4 572.3h0M56.2 595.7h0M58.7 574.4h0M67.8 571.3h0M77.8 562.6h0M76.6 561.4h0M72.6 568.5h0M62.5 593.2h0M54.3 596.7h0M53.9 601.2h0M64.5 570.5h0M68.1 576.0h0M60.1 581.4h0M61.1 577.0h0M64.4 579.5h0M68.6 568.1h0M59.1 595.5h0M68.3 564.2h0M67.6 583.2h0M61.1 572.4h0M67.3 586.3h0M69.8 574.4h0M52.7 599.4h0M67.4 567.3h0M64.0 573.7h0M62.8 569.2h0M56.1 595.5h0M63.8 578.6h0M75.8 558.6h0M61.6 574.5h0M66.9 574.1h0M66.7 577.9h0M70.1 581.3h0M60.5 574.5h0M63.1 578.9h0M70.4 577.1h0M75.4 571.0h0M63.4 587.5h0M74.5 568.6h0M67.2 582.1h0M70.6 563.4h0M71.0 580.2h0M56.7 593.1h0M44.9 604.6h0M78.0 566.0h0M77.4 568.3h0M67.7 568.7h0M63.8 584.3h0M48.5 603.5h0M73.3 577.3h0M67.1 565.1h0M67.7 569.4h0M67.0 565.7h0M68.0 566.1h0M64.6 584.4h0M55.0 599.0h0M58.5 597.7h0M60.4 589.9h0M53.1 601.6h0M61.7 594.6h0M54.9 600.0h0M66.9 571.0h0M68.2 581.6h0M68.2 569.8h0M54.1 601.4h0M68.2 577.2h0M73.7 559.8h0M65.7 583.0h0M60.6 585.0h0M75.2 575.4h0M64.8 574.7h0M77.1 563.5h0M74.6 568.0h0M60.3 591.2h0M75.6 563.7h0M67.3 573.9h0M72.9 560.8h0M51.5 601.6h0M62.6 587.2h0M57.6 593.8h0M69.3 578.1h0M41.4 606.7h0M74.1 558.3h0M62.6 590.1h0M68.6 566.4h0M69.1 569.0h0M73.9 562.0h0M54.7 598.6h0M64.6 572.4h0M62.7 589.1h0M69.7 584.1h0M75.4 568.3h0M77.7 569.4h0M62.5 571.4h0M45.9 602.4h0M66.4 572.0h0M75.8 558.8h0M71.2 567.1h0M71.7 570.1h0M64.9 572.8h0M62.3 583.7h0M63.3 576.2h0M64.1 574.5h0M67.5 573.9h0M42.8 605.9h0M77.3 570.1h0M71.6 571.1h0M69.3 567.2h0M71.8 571.7h0M70.5 571.4h0M71.5 576.6h0M63.5 568.5h0M61.1 588.9h0M62.5 579.5h0M71.9 560.2h0M63.0 581.4h0M63.1 574.8h0M50.0 598.8h0M61.9 581.7h0M66.8 565.1h0M67.8 564.7h0M42.5 607.4h0M64.9 580.5h0M74.4 573.5h0M61.3 585.4h0M62.2 587.9h0M64.9 567.9h0M63.5 582.3h0M63.0 579.2h0M63.2 586.8h0M67.1 573.1h0M62.6 576.9h0M75.0 560.2h0M72.3 572.3h0M60.7 578.3h0M64.1 581.7h0M67.6 569.3h0M70.2 567.3h0M72.8 568.0h0M75.5 561.4h0M69.8 569.0h0M53.3 596.5h0M61.0 575.0h0M63.2 577.0h0M73.1 574.4h0M51.4 599.3h0M66.7 573.8h0M70.8 568.1h0M63.9 574.6h0M68.6 563.5h0M69.0 566.9h0M76.0 562.7h0M59.0 594.8h0M66.8 575.3h0M62.0 582.9h0M62.0 593.3h0M64.5 575.9h0M72.5 571.7h0M64.5 570.0h0M63.5 585.4h0M71.7 563.3h0M64.9 589.3h0M63.4 575.8h0M64.3 588.3h0M69.6 572.4h0M66.8 567.9h0M76.8 569.5h0M68.1 565.6h0M60.5 591.0h0M67.0 580.9h0M59.3 580.6h0M73.3 575.5h0M59.6 576.0h0M70.6 581.9h0M59.1 578.3h0M63.1 592.4h0M69.9 567.4h0M58.6 593.8h0M65.3 585.5h0M66.0 585.9h0M51.9 597.7h0M58.3 593.8h0M67.1 570.8h0M59.4 576.0h0M71.6 563.2h0M65.6 567.3h0M64.5 579.1h0M72.0 561.0h0M64.0 573.3h0M62.5 591.3h0M75.9 570.4h0M70.9 576.2h0M78.2 565.3h0M52.3 599.8h0M77.2 558.6h0M45.8 605.6h0M76.3 573.4h0M69.4 574.0h0M61.0 579.8h0M59.7 576.4h0M67.0 579.7h0M46.9 603.9h0M65.9 565.7h0M58.3 595.0h0M68.0 567.6h0M73.2 572.7h0M49.9 602.9h0M60.5 586.5h0M52.0 600.4h0M75.3 563.0h0M61.1 594.8h0M40.0 607.3h0M66.9 569.5h0M59.6 575.3h0M60.2 588.1h0M64.3 585.4h0M65.7 566.5h0M63.4 575.9h0M57.2 594.6h0M55.6 600.2h0M72.7 574.2h0M72.0 567.0h0M71.2 574.4h0M59.0 578.2h0M76.4 565.7h0M62.5 584.7h0M62.7 575.1h0M65.7 587.5h0M68.3 566.7h0M70.3 577.2h0M59.6 579.3h0M66.4 577.4h0M63.6 573.3h0M64.3 572.6h0M75.1 572.4h0M60.1 571.9h0M60.4 575.6h0M77.6 567.9h0M72.6 572.1h0M62.2 587.8h0M65.9 574.1h0M73.5 577.9h0M46.6 605.6h0M58.6 593.8h0M70.6 563.5h0M50.7 601.1h0M62.8 574.8h0M67.9 577.1h0M78.2 560.7h0M70.3 583.0h0M64.2 589.3h0M66.7 585.8h0M70.9 582.3h0M74.5 568.9h0M73.6 566.4h0M70.6 575.5h0M68.9 580.5h0M60.7 595.2h0M61.1 591.6h0M56.0 597.1h0M70.9 566.3h0M69.9 577.5h0M70.4 570.8h0M59.6 576.0h0M62.7 584.1h0M59.6 583.7h0M75.1 568.5h0M64.4 583.0h0M73.0 579.7h0M43.7 607.1h0M65.8 577.2h0M78.2 560.5h0" stroke="#4b72a6" stroke-width="0.9" stroke-linecap="round" fill="none"/>
<path d="M88.9 543.6h0M71.2 562.6h0M60.9 578.6h0M103.6 543.7h0M75.1 573.8h0M56.7 576.4h0M68.7 576.2h0M65.1 584.7h0M52.5 578.0h0M104.1 528.0h0M64.4 578.4h0M75.9 586.4h0M63.8 571.7h0M65.7 582.7h0M77.3 553.8h0M70.2 566.1h0M75.4 551.3h0M104.5 539.4h0M76.0 561.6h0M100.2 534.1h0M67.4 571.5h0M58.9 571.2h0M111.0 523.9h0M115.2 526.4h0M104.4 535.8h0M80.3 551.3h0M64.6 587.0h0M71.4 569.8h0M57.0 575.0h0M74.2 579.6h0M106.7 520.7h0M73.0 578.9h0M91.9 550.0h0M95.2 553.3h0M64.2 565.2h0M72.6 557.2h0M69.3 576.8h0M65.8 588.6h0M58.4 580.2h0M84.3 553.1h0M66.9 563.9h0M62.3 574.6h0M103.3 539.8h0M63.7 557.4h0M93.5 557.0h0M73.8 571.2h0M69.1 569.0h0M76.0 564.3h0M83.4 567.5h0M60.5 576.3h0M70.9 577.6h0M60.3 571.2h0M102.9 528.5h0M73.0 572.0h0M96.5 550.2h0M83.5 549.9h0M89.6 546.0h0M110.7 521.9h0M103.2 541.9h0M73.7 551.8h0M72.9 565.8h0M77.6 568.2h0M76.4 569.6h0M76.3 583.2h0M90.3 558.8h0M78.3 565.9h0M67.9 579.2h0M100.4 539.0h0M82.0 549.1h0M68.7 585.8h0M54.3 579.9h0M68.7 568.7h0M64.6 581.0h0M80.6 545.9h0M80.9 557.3h0M69.6 551.1h0M76.1 578.8h0M75.7 570.2h0M69.5 578.6h0M68.0 584.0h0M56.1 568.7h0M72.4 579.8h0M65.1 584.0h0M67.0 565.6h0M80.4 580.9h0M98.1 553.9h0M89.2 561.2h0M97.1 539.8h0M70.9 570.3h0M74.4 578.3h0M85.1 546.7h0M94.6 551.2h0M75.9 579.8h0M61.0 584.7h0M69.0 557.5h0M97.3 537.7h0M99.4 537.0h0M79.0 551.0h0M82.4 565.0h0M62.7 572.9h0M53.7 579.4h0M65.3 586.8h0M64.6 583.6h0M79.4 551.8h0M67.8 562.3h0M84.9 566.6h0M53.4 573.4h0M64.9 576.2h0M78.0 559.3h0M64.4 575.5h0M60.1 560.5h0M64.1 573.7h0M100.0 537.6h0M91.6 539.6h0M71.0 557.6h0M78.5 549.2h0M60.0 577.8h0M66.7 573.1h0M89.4 561.1h0M89.9 538.8h0M72.3 554.5h0M65.2 572.8h0M109.7 538.2h0M70.7 587.2h0M65.6 573.7h0M86.5 545.3h0M62.1 581.2h0M80.1 562.8h0M75.9 582.5h0M67.1 582.5h0M72.0 580.2h0M64.9 569.0h0M110.6 526.0h0M91.8 557.5h0M81.6 570.3h0M103.9 518.9h0M86.1 559.5h0M84.2 564.0h0M68.2 571.4h0M90.2 570.7h0M66.3 586.9h0M58.0 581.7h0M82.5 572.8h0M69.0 570.2h0M76.9 568.2h0M90.2 533.4h0M64.0 578.0h0M67.4 587.7h0M72.9 575.6h0M79.9 583.2h0M61.0 561.7h0M63.9 573.3h0M58.4 581.6h0M87.2 563.1h0M60.7 582.1h0M76.9 558.2h0M65.8 563.1h0M66.8 574.6h0M63.9 580.2h0M94.7 532.1h0M99.5 549.2h0M107.4 520.9h0M64.3 584.1h0M61.8 574.7h0M64.2 578.5h0M74.3 562.0h0M78.1 568.9h0M88.1 550.6h0M76.5 569.4h0M72.8 592.3h0M66.4 573.5h0M66.9 577.3h0M56.1 581.9h0M70.7 583.1h0M78.2 566.1h0M86.8 560.5h0M58.4 582.7h0M73.9 570.6h0M73.9 571.1h0M67.9 579.6h0M94.3 534.6h0M73.7 566.9h0M63.3 587.5h0M77.0 560.5h0M62.1 565.7h0M60.4 572.7h0M73.9 574.5h0M60.9 570.9h0M57.2 581.1h0M90.5 545.0h0M86.0 565.0h0M60.7 581.0h0M66.0 588.9h0M56.8 573.5h0M109.7 533.1h0M66.4 587.5h0M57.5 578.2h0M76.5 563.8h0M88.5 551.7h0M54.5 580.1h0M75.1 565.7h0M91.0 536.7h0M108.5 519.1h0M77.6 574.5h0M72.2 581.6h0M79.7 562.6h0M100.3 531.4h0M85.5 544.2h0M74.1 569.1h0M65.7 566.1h0M64.3 564.3h0M67.9 565.1h0M63.4 565.7h0M71.8 581.3h0M67.1 566.1h0M109.0 521.0h0M81.6 573.4h0M115.8 522.8h0M61.4 583.3h0M73.2 569.7h0M85.6 564.3h0M64.3 567.3h0M63.5 579.0h0M76.3 575.0h0M103.2 524.1h0M103.8 532.6h0M70.2 572.1h0M79.1 567.2h0M82.4 573.3h0M65.0 567.2h0M68.4 583.8h0M70.0 576.0h0M84.5 557.0h0M107.8 523.9h0M58.2 568.5h0M83.6 562.9h0M64.1 575.0h0M66.0 580.0h0M74.6 574.3h0M64.9 580.4h0M96.5 550.1h0M73.7 553.4h0M60.6 577.2h0M55.4 571.6h0M54.4 575.6h0M77.5 573.0h0M108.0 535.7h0M79.8 546.0h0M73.3 585.6h0M98.6 546.6h0M62.5 575.6h0M63.6 573.8h0M68.3 581.5h0M96.3 546.4h0M63.2 583.7h0M59.0 578.2h0M58.5 579.3h0M62.2 585.7h0M67.9 581.3h0M65.1 564.6h0M68.3 562.2h0M83.0 560.7h0M69.2 583.8h0M78.9 577.0h0M77.4 565.5h0M58.5 567.5h0M65.5 579.6h0M94.5 559.6h0M59.4 579.1h0M84.6 550.2h0M77.5 568.3h0M82.1 566.8h0M68.8 575.6h0M84.1 562.0h0M84.7 544.7h0M70.5 582.4h0M78.9 561.7h0M102.0 547.1h0M64.3 576.4h0M73.2 590.0h0M72.4 568.9h0M59.8 583.7h0M68.9 583.6h0M114.9 520.9h0M98.6 555.0h0M99.9 554.3h0M101.1 545.6h0M87.9 554.2h0M82.3 559.1h0M57.1 579.8h0M62.0 577.5h0M79.1 569.0h0M59.5 582.3h0M70.1 583.2h0M71.2 577.5h0M60.9 569.8h0M67.1 577.7h0M71.2 567.6h0M113.4 532.9h0M95.7 535.8h0M67.3 583.6h0M99.9 526.9h0M85.3 546.1h0M94.9 548.0h0M72.1 572.9h0M69.2 571.2h0M108.3 532.4h0M64.1 572.6h0M99.8 523.2h0M67.6 574.8h0M98.0 559.5h0M64.4 568.9h0M68.3 573.1h0M92.4 557.6h0M75.2 574.8h0M96.1 546.6h0M63.1 567.0h0M77.1 572.7h0M60.1 585.0h0M72.0 552.9h0M99.9 535.3h0M66.6 569.4h0M87.4 562.5h0M85.1 570.9h0M65.7 582.5h0M95.3 538.9h0M76.8 553.6h0M79.6 558.4h0M88.4 558.0h0M59.9 576.6h0M76.6 552.8h0M90.5 547.1h0M73.4 574.6h0M60.0 575.4h0M61.7 575.1h0M82.6 565.6h0M63.5 566.5h0M78.9 554.6h0M75.0 568.4h0M65.8 563.6h0M71.1 576.5h0M61.3 573.4h0M64.5 580.1h0M58.1 571.4h0M73.0 578.2h0M114.6 521.7h0M63.3 576.7h0M58.2 576.2h0M105.1 529.4h0M63.6 581.6h0M104.3 530.5h0M57.6 574.0h0M75.1 578.3h0M69.1 586.9h0M71.4 578.3h0M85.3 563.7h0M60.8 574.9h0M75.3 557.5h0M62.2 576.2h0M119.7 514.9h0M60.1 579.0h0M59.8 579.7h0M62.4 583.2h0M95.1 532.7h0M69.6 578.5h0M68.7 558.2h0M73.1 583.5h0M83.7 557.2h0M105.0 541.2h0M89.0 555.7h0M93.9 551.8h0M68.7 578.8h0M82.2 559.8h0M100.2 528.5h0M61.2 573.2h0M55.6 580.5h0M66.3 581.1h0M60.7 579.3h0M68.3 575.9h0M68.4 577.5h0M76.2 563.9h0M75.5 559.7h0M69.3 555.2h0M105.2 531.4h0M64.9 565.9h0M95.4 537.0h0M91.6 562.2h0M63.3 585.1h0M72.7 566.9h0M64.0 568.0h0M69.6 578.4h0M71.8 578.6h0M82.2 572.2h0M69.0 570.1h0M57.0 581.3h0M98.3 542.6h0M119.1 518.0h0M56.3 576.2h0M50.8 577.2h0M70.3 582.8h0M59.6 578.8h0M101.9 535.1h0M65.0 567.5h0M60.3 573.1h0M111.9 532.1h0M70.2 575.9h0M81.9 574.9h0M70.6 578.6h0M71.0 591.8h0M50.2 575.3h0M98.0 532.1h0M67.9 585.7h0M72.4 573.4h0M72.2 570.8h0M62.5 570.7h0M55.1 576.0h0M80.9 548.0h0M61.4 577.1h0M60.6 579.0h0M59.9 568.5h0M67.4 578.9h0M96.8 541.9h0M73.6 551.7h0M96.7 553.3h0M96.3 541.3h0M108.5 521.0h0M83.9 558.4h0M82.0 543.8h0M58.1 568.6h0M101.9 534.8h0M67.6 555.1h0M56.2 576.9h0M64.7 580.4h0M81.5 560.3h0M73.7 584.2h0M80.4 557.2h0M83.7 553.5h0M69.8 574.5h0M62.3 569.1h0M62.0 571.2h0M71.3 554.0h0M107.5 522.1h0M62.1 585.8h0M89.9 536.5h0M78.8 576.8h0M83.6 554.8h0M70.1 565.3h0M68.5 588.8h0M72.7 568.3h0M90.9 563.5h0M63.9 581.8h0M88.6 555.7h0M90.3 552.3h0M86.7 569.7h0M67.4 572.8h0M65.2 579.0h0M75.9 555.4h0M90.8 555.5h0M74.8 573.2h0M64.2 585.2h0M80.8 562.6h0M110.1 544.5h0M61.1 582.0h0M121.0 520.6h0M60.9 583.3h0M74.2 583.0h0M62.1 579.8h0M94.8 556.1h0M73.3 581.2h0M64.3 586.4h0M80.8 548.2h0M59.5 583.8h0M73.1 572.0h0M94.7 545.6h0M68.9 579.4h0M84.1 549.1h0M82.3 538.0h0M75.5 564.1h0M110.1 535.2h0M64.6 577.8h0M60.3 582.6h0M110.5 519.6h0M88.6 574.4h0M95.7 529.9h0M65.8 589.4h0M66.2 574.1h0M115.6 521.0h0M83.1 544.5h0M66.9 586.8h0M87.1 547.6h0M69.0 575.5h0M77.0 558.7h0M55.5 575.4h0M72.1 582.2h0M83.8 550.2h0M70.5 583.4h0M69.5 578.2h0M83.0 572.9h0M63.6 587.4h0M73.9 571.1h0M94.4 537.0h0M78.5 575.3h0M72.9 583.4h0M78.7 551.5h0M80.3 549.8h0M105.7 537.6h0M69.8 583.2h0M84.6 550.3h0M68.2 570.9h0M57.8 580.6h0M88.5 556.7h0M77.4 563.9h0M89.7 560.1h0M64.4 569.9h0M113.4 536.2h0M89.7 554.4h0M75.1 562.2h0M71.8 568.5h0M66.2 563.4h0M54.7 578.4h0M76.3 565.9h0M76.5 586.2h0M78.4 551.6h0M97.0 539.5h0M63.7 584.9h0M75.0 557.2h0M77.0 557.2h0M85.0 568.4h0M108.0 534.7h0M76.7 559.9h0M78.7 564.0h0M97.9 550.0h0M84.6 569.5h0M72.9 573.0h0M92.6 538.5h0M80.1 553.4h0M113.6 532.0h0M72.3 567.7h0M83.6 575.4h0M75.9 586.0h0M69.3 565.3h0M67.6 561.7h0M74.9 557.4h0M81.6 540.6h0M91.6 529.6h0M68.9 590.3h0M103.6 525.6h0M66.7 575.7h0M95.7 538.3h0M71.1 572.8h0M112.2 533.2h0M69.7 580.0h0M62.4 583.9h0M68.6 588.5h0M87.2 566.5h0M87.8 555.4h0M65.0 570.6h0M109.5 538.7h0M65.5 577.3h0M89.1 558.8h0M83.8 568.3h0M98.2 543.7h0M90.5 560.1h0M66.7 579.3h0M61.5 561.6h0M66.3 589.8h0M96.5 540.9h0M57.0 569.9h0M80.4 570.4h0M93.2 544.5h0M67.8 563.4h0M74.9 560.2h0M53.4 574.7h0M65.1 588.9h0M80.0 572.8h0M83.3 552.2h0M64.3 578.3h0M72.2 556.4h0M84.8 557.8h0M61.7 567.9h0M68.0 568.4h0M70.2 592.8h0M56.5 575.6h0M61.0 574.8h0M65.6 571.2h0M76.3 559.0h0M68.0 574.9h0M64.7 581.9h0M77.6 576.2h0M84.7 559.4h0M58.1 581.0h0M74.3 574.7h0M80.5 574.9h0M69.4 579.3h0M77.7 569.2h0M102.4 529.4h0M115.1 525.0h0M70.8 574.0h0M64.9 583.0h0M96.4 532.3h0M75.9 556.2h0M99.2 551.0h0M68.2 571.9h0M94.3 554.8h0M73.1 577.3h0M64.5 574.3h0M91.5 542.9h0M68.3 572.9h0M103.1 525.0h0M92.8 552.5h0M62.5 579.7h0M90.6 552.9h0M112.4 521.5h0M77.2 583.4h0M120.2 520.7h0M99.3 536.2h0M59.9 578.0h0M94.2 552.8h0M62.7 586.6h0M66.0 567.7h0M82.7 580.9h0M87.9 545.2h0M100.4 536.6h0M85.8 556.2h0M76.1 572.3h0M66.3 580.9h0M75.3 567.5h0M84.1 553.1h0M63.0 585.9h0M57.6 578.8h0M70.1 558.9h0M98.7 548.2h0M61.3 575.7h0M111.1 516.4h0M67.7 584.6h0M110.2 524.3h0M64.5 585.7h0M72.8 575.4h0M65.6 582.8h0M75.9 552.0h0M57.5 575.0h0M66.2 585.7h0M90.6 550.7h0M64.8 580.7h0M78.6 578.4h0M62.4 585.1h0M73.8 574.5h0M57.6 583.1h0M78.6 574.9h0M79.0 541.3h0M77.3 581.3h0M99.2 540.5h0M65.8 571.0h0M76.5 562.8h0M86.4 556.3h0M56.9 574.9h0M63.9 577.0h0M58.6 581.0h0M79.9 549.2h0M79.5 560.8h0M81.4 571.9h0M73.5 564.9h0M70.0 578.6h0M107.4 531.7h0M111.4 529.1h0M79.8 564.6h0M65.9 581.1h0M77.7 575.7h0M77.6 572.9h0M62.7 577.7h0M67.6 564.2h0M69.5 580.4h0M119.6 515.0h0M120.9 517.4h0M65.3 571.8h0M112.6 521.9h0M64.7 577.2h0M93.5 551.4h0M68.0 587.7h0M65.1 563.3h0M115.5 523.2h0M62.7 576.4h0M54.5 574.4h0M97.3 555.2h0M73.7 569.7h0M59.8 569.3h0M61.0 578.5h0M68.2 580.1h0M74.4 582.8h0M75.6 577.5h0M74.5 555.6h0M61.3 575.9h0M63.3 580.5h0M77.3 572.3h0M57.7 577.4h0M64.2 579.2h0M74.9 562.2h0M70.2 573.8h0M73.8 567.1h0M69.1 588.3h0M89.4 550.8h0M84.7 560.2h0M114.2 527.8h0M77.2 565.9h0M72.3 576.2h0M87.3 562.1h0M78.0 567.3h0M94.9 550.4h0M80.2 564.7h0M78.8 554.2h0M97.8 533.8h0M68.1 577.9h0M60.3 567.8h0M85.7 571.0h0M57.6 582.3h0M72.4 561.2h0M79.7 550.2h0M55.9 581.6h0M68.2 565.2h0M70.2 567.7h0M89.3 549.8h0M85.8 571.6h0M73.0 580.3h0M68.6 557.5h0M80.4 565.3h0M69.4 587.7h0M71.4 562.1h0M64.3 561.7h0M94.3 528.9h0M62.8 569.5h0M66.6 562.2h0M80.8 547.7h0M105.9 520.5h0M92.0 549.2h0M94.4 549.6h0M79.3 566.2h0M85.7 571.7h0M66.4 583.5h0M76.0 578.7h0M91.9 549.8h0M80.9 553.5h0M123.2 521.8h0M68.4 566.3h0M76.9 561.6h0M70.1 589.8h0M75.6 579.7h0M86.1 563.1h0M87.3 560.4h0M73.3 575.2h0" stroke="#4b72a6" stroke-width="0.84" stroke-linecap="round" fill="none"/>
<text x="83.80" y="514.00" font-size="6.6" fill="#cc3340" font-style="italic" textLength="18.20" lengthAdjust="spacingAndGlyphs">MS4A1</text>
<text x="102.50" y="517.80" font-size="6.6" fill="#231f20" font-style="italic" textLength="13.20" lengthAdjust="spacingAndGlyphs">CD14</text>
<text x="66.10" y="520.20" font-size="6.6" fill="#231f20" font-style="italic" textLength="23.20" lengthAdjust="spacingAndGlyphs">S100A8</text>
<text x="115.70" y="520.70" font-size="6.6" fill="#231f20" font-style="italic" textLength="18.30" lengthAdjust="spacingAndGlyphs">CD79A</text>
<text x="113.50" y="529.50" font-size="6.6" fill="#231f20" font-style="italic" textLength="22.10" lengthAdjust="spacingAndGlyphs">FCGR3A</text>
<text x="67.70" y="532.80" font-size="6.6" fill="#cc3340" font-style="italic" textLength="15.00" lengthAdjust="spacingAndGlyphs">CST3</text>
<text x="83.30" y="531.70" font-size="6.6" fill="#231f20" font-style="italic" textLength="18.60" lengthAdjust="spacingAndGlyphs">MS4A7</text>
<text x="103.60" y="535.60" font-size="6.6" fill="#cc3340" font-style="italic" textLength="16.50" lengthAdjust="spacingAndGlyphs">NKG7</text>
<text x="118.00" y="540.50" font-size="6.6" fill="#231f20" font-style="italic" textLength="15.40" lengthAdjust="spacingAndGlyphs">GNLY</text>
<text x="91.50" y="541.60" font-size="6.6" fill="#231f20" font-style="italic" textLength="13.90" lengthAdjust="spacingAndGlyphs">PPBP</text>
<text x="63.90" y="546.70" font-size="6.6" fill="#231f20" font-style="italic" textLength="21.00" lengthAdjust="spacingAndGlyphs">LGALS3</text>
<text x="104.00" y="548.20" font-size="6.6" fill="#231f20" font-style="italic" textLength="16.10" lengthAdjust="spacingAndGlyphs">CD8A</text>
<text x="72.80" y="553.30" font-size="6.6" fill="#231f20" font-style="italic" textLength="10.50" lengthAdjust="spacingAndGlyphs">IL7R</text>
<text x="89.30" y="552.60" font-size="6.6" fill="#231f20" font-style="italic" textLength="14.30" lengthAdjust="spacingAndGlyphs">CD8B</text>
<text x="88.20" y="562.50" font-size="6.6" fill="#231f20" font-style="italic" textLength="16.50" lengthAdjust="spacingAndGlyphs">KLRB1</text>
<text x="74.50" y="569.20" font-size="6.6" fill="#231f20" font-style="italic" textLength="9.30" lengthAdjust="spacingAndGlyphs">LYZ</text>
<text x="85.50" y="574.70" font-size="6.6" fill="#231f20" font-style="italic" textLength="20.30" lengthAdjust="spacingAndGlyphs">FCER1A</text>
<text x="29.10" y="586.80" font-size="6.6" fill="#cc3340" font-style="italic" textLength="20.10" lengthAdjust="spacingAndGlyphs">GAPDH</text>
<text x="46.30" y="598.10" font-size="6.6" fill="#231f20" font-style="italic" textLength="11.80" lengthAdjust="spacingAndGlyphs">B2M</text>
<line x1="91.00" y1="514.00" x2="103.00" y2="522.00" stroke="#cc3340" stroke-width="0.45"/>
<line x1="80.00" y1="521.00" x2="100.00" y2="525.50" stroke="#4f5a6b" stroke-width="0.45"/>
<line x1="115.00" y1="519.50" x2="110.00" y2="520.00" stroke="#4f5a6b" stroke-width="0.45"/>
<line x1="102.00" y1="526.00" x2="109.00" y2="526.50" stroke="#4f5a6b" stroke-width="0.45"/>
<line x1="73.00" y1="533.00" x2="78.00" y2="538.00" stroke="#cc3340" stroke-width="0.45"/>
<line x1="101.50" y1="529.00" x2="106.00" y2="529.00" stroke="#4f5a6b" stroke-width="0.45"/>
<line x1="112.00" y1="532.00" x2="117.00" y2="535.00" stroke="#4f5a6b" stroke-width="0.45"/>
<line x1="96.00" y1="541.00" x2="98.00" y2="544.00" stroke="#4f5a6b" stroke-width="0.45"/>
<line x1="85.00" y1="544.00" x2="82.00" y2="548.00" stroke="#4f5a6b" stroke-width="0.45"/>
<line x1="96.00" y1="546.00" x2="103.00" y2="546.00" stroke="#4f5a6b" stroke-width="0.45"/>
<line x1="70.00" y1="567.00" x2="68.00" y2="562.00" stroke="#4f5a6b" stroke-width="0.45"/>
<line x1="86.00" y1="570.50" x2="84.00" y2="571.50" stroke="#4f5a6b" stroke-width="0.45"/>
<line x1="42.70" y1="587.80" x2="50.40" y2="588.40" stroke="#cc3340" stroke-width="0.45"/>
<line x1="84.00" y1="560.00" x2="89.00" y2="559.00" stroke="#4f5a6b" stroke-width="0.45"/>
<text x="145.90" y="512.10" font-size="12.6" fill="#000" font-weight="bold" stroke="#000" stroke-width="0.45">f</text>
<rect x="157.40" y="517.20" width="95.80" height="95.00" fill="none" stroke="#8c8c8c" stroke-width="0.8"/>
<defs><linearGradient id="vg157" x1="0" y1="1" x2="0" y2="0"><stop offset="0.000" stop-color="#440154"/><stop offset="0.111" stop-color="#482878"/><stop offset="0.222" stop-color="#3e4989"/><stop offset="0.333" stop-color="#31688e"/><stop offset="0.444" stop-color="#26828e"/><stop offset="0.556" stop-color="#1f9e89"/><stop offset="0.667" stop-color="#35b779"/><stop offset="0.778" stop-color="#6ece58"/><stop offset="0.889" stop-color="#b5de2b"/><stop offset="1.000" stop-color="#fde725"/></linearGradient></defs>
<rect x="253.70" y="517.20" width="3.60" height="95.00" fill="url(#vg157)"/>
<line x1="257.30" y1="545.00" x2="258.80" y2="545.00" stroke="#444" stroke-width="0.6"/>
<text x="261.20" y="548.00" font-size="8.4" fill="#231f20">4</text>
<line x1="257.30" y1="578.20" x2="258.80" y2="578.20" stroke="#444" stroke-width="0.6"/>
<text x="261.20" y="581.20" font-size="8.4" fill="#231f20">2</text>
<line x1="257.30" y1="611.50" x2="258.80" y2="611.50" stroke="#444" stroke-width="0.6"/>
<text x="261.20" y="614.50" font-size="8.4" fill="#231f20">0</text>
<text x="270.00" y="564.80" font-size="8.8" text-anchor="middle" fill="#231f20" textLength="65.80" lengthAdjust="spacingAndGlyphs" transform="rotate(90 270.00 564.80)">Gene expression</text>
<text x="153.90" y="564.80" font-size="8.8" text-anchor="middle" fill="#231f20" textLength="28.50" lengthAdjust="spacingAndGlyphs" transform="rotate(-90 153.90 564.80)">UMAP2</text>
<text x="208.40" y="621.70" font-size="8.8" text-anchor="middle" fill="#231f20" textLength="27.00" lengthAdjust="spacingAndGlyphs">UMAP1</text>
<text x="197.80" y="513.80" font-size="8.8" fill="#231f20" font-style="italic" textLength="20.80" lengthAdjust="spacingAndGlyphs">CST3</text>
<circle cx="161.90" cy="521.20" r="0.80" fill="#a8db34"/>
<polygon points="162.3,561.6 163.8,559.9 165.9,560.5 167.2,563.7 169.7,566.9 172.9,567.6 175.1,568.4 177.8,568.0 179.9,568.4 179.9,569.7 177.2,570.1 175.1,571.8 172.9,573.3 169.7,573.9 167.2,573.3 165.9,571.2 165.9,568.0 164.4,564.8 162.5,563.3" fill="#a5db36"/>
<path d="M169.0 569.8h0M168.0 570.1h0M166.0 571.5h0M165.5 561.1h0M169.3 570.0h0M178.2 567.9h0M167.4 570.9h0M169.5 568.5h0M174.5 569.1h0M169.4 568.1h0M171.3 572.4h0M172.5 572.8h0M167.6 567.5h0M165.3 566.8h0M169.1 571.8h0M163.8 563.5h0M168.3 572.7h0M163.8 562.0h0M167.9 570.4h0M174.3 569.4h0M168.3 569.2h0M168.6 565.9h0M176.8 567.9h0M164.3 562.9h0M165.5 561.3h0M179.5 569.4h0M178.8 569.1h0M166.8 567.1h0M170.6 572.3h0M165.3 565.3h0M162.8 562.2h0M164.7 566.5h0M166.5 563.6h0M168.5 566.7h0M174.6 572.3h0M169.5 572.6h0M174.6 571.4h0M166.2 565.7h0M173.4 573.0h0M173.5 568.1h0M170.6 568.1h0M169.5 572.8h0M177.1 569.1h0M170.0 572.7h0M167.9 568.3h0M171.1 571.6h0M167.4 564.8h0M166.5 571.9h0M179.7 569.5h0M165.9 567.2h0M163.9 561.2h0M171.2 568.3h0M165.2 565.6h0M168.6 571.4h0M172.5 570.3h0M178.3 569.6h0M173.6 572.9h0M176.6 569.9h0M175.9 570.8h0M165.0 560.9h0M175.2 569.0h0M163.7 563.3h0M171.1 572.4h0M171.1 569.7h0M171.1 571.5h0M165.8 564.3h0M170.7 567.4h0" stroke="#a5db36" stroke-width="1.24" stroke-linecap="round" fill="none"/>
<path d="M166.3 562.2h0M167.9 573.1h0M166.8 566.4h0M168.4 571.2h0M168.8 567.0h0M171.0 571.3h0M167.0 568.7h0M175.6 570.1h0M166.3 567.2h0M166.0 564.7h0M173.3 571.6h0M176.5 570.9h0M171.0 570.9h0M168.5 567.5h0M177.8 569.5h0M173.4 572.1h0M165.6 566.7h0M166.8 567.5h0M171.6 568.2h0M166.9 566.5h0M180.2 568.8h0M166.4 568.2h0M165.7 563.3h0M171.2 571.9h0M163.2 561.3h0M169.6 569.8h0M179.5 568.5h0M172.6 571.8h0M176.8 568.9h0M174.5 570.9h0M167.5 571.3h0M176.3 568.2h0M167.8 571.2h0M163.1 561.3h0M172.0 570.5h0" stroke="#86d549" stroke-width="1.24" stroke-linecap="round" fill="none"/>
<path d="M169.6 571.5h0M166.5 566.3h0M168.1 570.7h0M163.5 561.9h0M172.4 572.2h0M170.3 569.4h0M164.2 561.3h0M172.7 570.1h0M170.8 569.6h0M167.7 572.6h0M177.9 568.2h0M170.6 568.8h0M165.7 563.9h0M165.1 562.2h0M165.3 564.2h0M174.9 572.2h0M174.2 571.7h0M171.9 572.2h0M167.3 570.7h0M178.1 568.4h0M170.1 568.5h0M167.6 565.0h0M165.3 561.6h0M169.7 566.7h0M167.0 572.7h0M165.6 562.3h0M179.2 569.1h0M174.9 570.1h0M165.7 565.1h0M165.8 570.3h0M178.3 569.0h0M172.3 571.8h0M166.1 562.1h0M174.3 568.2h0" stroke="#c2df23" stroke-width="1.24" stroke-linecap="round" fill="none"/>
<clipPath id="cp157r"><polygon points="228.5,550.6 229.6,548.2 231.3,548.2 233.5,549.9 233.8,552.8 236.3,554.2 239.1,555.6 241.3,557.7 243.4,560.6 246.2,562.0 249.1,564.1 249.8,565.5 248.4,567.0 247.7,569.8 247.0,572.6 245.5,574.8 243.4,575.5 240.6,574.0 238.8,571.9 237.7,568.4 237.4,564.8 237.0,561.3 235.2,558.4 233.1,556.7 232.1,554.2 230.6,552.4"/></clipPath><g clip-path="url(#cp157r)">
<rect x="157.40" y="517.20" width="95.80" height="95.05" fill="#3b4a85"/>
</g>
<path d="M246.5 564.6h0M240.3 571.1h0M241.6 560.7h0M244.1 564.5h0M245.2 572.6h0M231.1 548.9h0M241.4 571.3h0M242.4 571.2h0M239.0 559.3h0M247.3 562.7h0M242.6 559.3h0M239.6 563.4h0M245.1 572.9h0M238.2 559.8h0M232.7 553.6h0M238.9 560.3h0M242.5 565.8h0M245.3 572.6h0M242.1 572.3h0M242.7 568.3h0M244.9 572.1h0M237.6 568.6h0M240.5 560.8h0M241.5 573.9h0M230.2 551.6h0M248.7 566.0h0M245.4 565.7h0M240.6 574.0h0M234.4 555.8h0M242.4 559.0h0M246.7 564.4h0M243.3 569.8h0M244.8 564.4h0M235.3 556.5h0M244.5 571.7h0M235.9 558.3h0M242.1 560.4h0M233.3 551.0h0M247.7 565.0h0M241.1 570.4h0M240.2 559.8h0M231.9 552.5h0M238.7 569.4h0M233.6 555.8h0M240.2 568.7h0M240.2 567.9h0M232.0 551.9h0M244.8 573.9h0M240.5 563.9h0M243.0 560.7h0M239.7 557.2h0M234.9 554.2h0M240.3 562.9h0M239.7 564.0h0M244.4 574.0h0M242.6 566.8h0M240.9 574.3h0M238.6 563.8h0M243.2 573.4h0M232.4 549.2h0M237.7 557.2h0M240.0 568.9h0M230.0 551.1h0M236.6 555.3h0M231.7 553.0h0M242.6 570.0h0M240.1 571.9h0M235.7 558.4h0M244.7 569.3h0M239.8 564.6h0M248.7 566.1h0M240.1 556.7h0M241.8 563.1h0M238.3 571.1h0M244.7 572.3h0" stroke="#440154" stroke-width="1.24" stroke-linecap="round" fill="none"/>
<path d="M246.4 568.7h0M230.7 549.8h0M243.7 570.4h0M237.8 558.5h0M243.1 561.1h0M246.4 565.8h0M247.8 563.1h0M246.8 570.1h0M238.0 559.7h0M231.1 549.6h0M241.1 567.4h0M232.1 553.6h0M239.4 558.7h0M239.5 567.2h0M236.2 558.6h0M243.0 569.4h0M242.1 570.8h0M242.6 572.0h0M237.8 560.4h0M242.1 569.2h0M232.7 555.0h0M245.7 564.1h0M233.9 550.3h0M241.4 570.7h0M247.4 569.2h0M248.6 564.8h0M246.6 564.3h0M240.1 562.9h0M238.6 558.0h0M241.4 563.8h0M242.3 568.9h0M236.1 555.6h0M248.0 565.5h0M236.6 555.2h0M232.9 554.8h0M237.3 557.2h0M242.3 574.9h0M246.5 566.2h0M242.1 573.3h0M236.6 556.5h0M247.3 569.4h0M241.1 571.8h0M232.7 551.3h0M237.2 554.7h0M243.1 571.2h0M240.3 561.7h0M239.7 562.2h0M231.2 550.7h0M241.3 567.8h0M235.1 554.5h0M243.9 567.4h0M242.3 563.4h0M238.7 570.2h0M236.5 555.5h0M248.7 565.6h0M238.7 561.2h0M245.1 564.8h0M240.9 560.7h0M237.6 558.2h0M238.7 557.0h0M235.7 557.5h0M247.1 564.4h0M239.7 565.7h0M241.1 568.0h0M237.5 554.9h0M238.3 556.2h0M234.2 556.3h0M245.7 565.4h0M244.5 565.1h0M242.3 560.6h0M241.4 560.3h0M239.0 567.2h0M241.2 564.6h0M243.9 565.5h0M241.8 571.5h0M233.1 554.9h0M240.5 561.0h0M239.2 568.5h0M240.0 569.6h0M244.8 570.4h0M242.7 562.1h0M243.2 572.9h0M229.7 549.4h0M240.4 562.9h0M249.4 565.1h0M245.1 573.9h0M236.1 557.7h0M244.1 563.0h0M236.5 558.6h0M230.7 549.5h0M240.3 563.4h0M248.4 565.8h0M240.4 558.9h0M245.7 564.4h0M248.5 565.7h0M242.3 561.8h0M239.7 556.3h0M237.5 558.8h0M248.5 564.9h0M241.8 572.4h0M242.8 562.9h0M244.9 575.0h0M243.7 574.8h0M248.3 565.5h0M238.2 555.4h0M235.0 555.6h0M247.7 564.1h0M238.5 557.8h0M238.0 557.3h0M238.6 566.1h0M245.6 568.4h0M239.5 572.8h0M244.6 573.1h0" stroke="#3e4989" stroke-width="1.24" stroke-linecap="round" fill="none"/>
<path d="M243.9 569.3h0M245.6 569.6h0M248.6 564.3h0M244.1 572.1h0M243.8 565.4h0M245.0 562.5h0M244.9 561.5h0M239.9 557.7h0M232.5 554.9h0M239.2 562.5h0M242.6 572.0h0M234.6 556.5h0M240.5 571.4h0M246.0 564.7h0M239.4 566.7h0M240.8 558.5h0M244.5 563.5h0M233.2 555.3h0M242.7 559.1h0M240.2 563.9h0M243.1 569.4h0M229.4 549.2h0M246.0 563.1h0M241.4 563.0h0M246.5 567.6h0M236.5 555.0h0M240.7 569.5h0M245.9 567.8h0M239.4 564.5h0M236.9 559.0h0M241.5 567.2h0M228.9 550.9h0M246.9 571.5h0M233.1 550.4h0M245.6 569.2h0M245.2 569.3h0M236.5 555.8h0M239.3 568.4h0M244.7 568.7h0M240.4 570.7h0M241.8 559.3h0M233.7 556.8h0M245.3 570.9h0M244.6 561.8h0M249.4 565.2h0M242.2 563.0h0M240.9 568.0h0M242.2 563.5h0M246.0 568.7h0M235.2 554.8h0M241.2 568.3h0M241.5 569.9h0M247.9 568.8h0M243.7 569.0h0M235.5 558.3h0M234.7 556.6h0M232.0 550.2h0M233.5 553.4h0M233.8 555.5h0M236.8 557.3h0M246.5 569.4h0M238.6 558.0h0M240.1 563.4h0M242.0 560.5h0M235.0 555.9h0M240.8 564.4h0M232.3 551.8h0M239.7 556.4h0M234.1 554.7h0M245.2 564.5h0M244.1 570.9h0M245.5 568.6h0M243.7 563.7h0M237.4 562.7h0M248.3 564.1h0M232.4 553.2h0M231.4 550.5h0M238.4 570.7h0M245.9 565.1h0M245.7 561.9h0M249.4 566.4h0M231.2 552.6h0M246.3 567.9h0M243.2 571.6h0M242.3 567.2h0M245.5 567.7h0M230.3 551.4h0" stroke="#31688e" stroke-width="1.24" stroke-linecap="round" fill="none"/>
<path d="M245.2 566.9h0M236.9 557.6h0M244.2 561.4h0M247.3 568.5h0M240.6 557.7h0M242.7 570.7h0M248.0 564.1h0M240.5 567.6h0M245.5 572.1h0M240.8 562.6h0M238.1 557.3h0M239.4 570.0h0M238.3 555.7h0M246.3 573.6h0M229.4 550.1h0M243.2 565.8h0M241.4 566.6h0M245.4 571.5h0M236.6 557.6h0M235.4 558.4h0M240.6 560.3h0M243.7 574.7h0" stroke="#482878" stroke-width="1.24" stroke-linecap="round" fill="none"/>
<polygon points="229.1,555.6 230.3,554.9 231.3,555.5 231.0,556.8 229.5,557.0" fill="#3e4989"/>
<path d="M230.2 555.9h0M229.0 556.7h0M230.2 556.2h0M230.2 555.3h0M230.6 556.2h0M229.8 556.2h0" stroke="#3e4989" stroke-width="1.24" stroke-linecap="round" fill="none"/>
<polygon points="216.1,605.6 216.8,603.9 218.6,603.0 221.4,603.0 223.4,603.9 223.9,605.6 223.2,607.4 221.2,608.3 218.6,608.3 216.8,607.3" fill="#440154"/>
<path d="M222.6 604.6h0M219.0 605.8h0M219.3 607.0h0M217.3 605.9h0M221.1 603.8h0M224.0 605.6h0M218.9 607.4h0M221.6 606.4h0M218.3 604.3h0M216.8 607.3h0M222.1 603.5h0M221.7 604.4h0M217.5 604.4h0M222.4 607.2h0M224.0 605.7h0M218.5 604.4h0M217.0 605.0h0M218.4 606.3h0M220.7 608.3h0M219.3 607.9h0M221.0 606.4h0M218.5 603.8h0M220.0 608.2h0" stroke="#3e4989" stroke-width="1.24" stroke-linecap="round" fill="none"/>
<path d="M218.1 606.9h0M217.6 606.7h0M218.6 605.7h0M219.6 605.1h0M221.0 603.7h0M223.1 605.4h0M217.0 606.4h0M221.5 605.5h0M217.7 606.7h0M219.9 606.3h0M219.6 604.3h0M221.5 607.5h0M218.9 605.0h0M220.5 606.6h0M223.4 604.7h0M220.5 606.1h0M223.9 605.8h0M219.6 604.4h0M216.9 604.0h0M220.2 605.6h0" stroke="#440154" stroke-width="1.24" stroke-linecap="round" fill="none"/>
<path d="M221.1 604.9h0M220.4 604.0h0M219.5 603.4h0M219.3 603.3h0M219.5 608.4h0M218.7 606.0h0M223.5 603.9h0M219.2 608.3h0M219.2 606.3h0M220.0 605.7h0" stroke="#31688e" stroke-width="1.24" stroke-linecap="round" fill="none"/>
<rect x="293.90" y="517.20" width="95.80" height="95.00" fill="none" stroke="#8c8c8c" stroke-width="0.8"/>
<defs><linearGradient id="vg293" x1="0" y1="1" x2="0" y2="0"><stop offset="0.000" stop-color="#440154"/><stop offset="0.111" stop-color="#482878"/><stop offset="0.222" stop-color="#3e4989"/><stop offset="0.333" stop-color="#31688e"/><stop offset="0.444" stop-color="#26828e"/><stop offset="0.556" stop-color="#1f9e89"/><stop offset="0.667" stop-color="#35b779"/><stop offset="0.778" stop-color="#6ece58"/><stop offset="0.889" stop-color="#b5de2b"/><stop offset="1.000" stop-color="#fde725"/></linearGradient></defs>
<rect x="390.20" y="517.20" width="3.60" height="95.00" fill="url(#vg293)"/>
<line x1="393.80" y1="548.90" x2="395.30" y2="548.90" stroke="#444" stroke-width="0.6"/>
<text x="397.70" y="551.90" font-size="8.4" fill="#231f20">4</text>
<line x1="393.80" y1="580.30" x2="395.30" y2="580.30" stroke="#444" stroke-width="0.6"/>
<text x="397.70" y="583.30" font-size="8.4" fill="#231f20">2</text>
<line x1="393.80" y1="611.50" x2="395.30" y2="611.50" stroke="#444" stroke-width="0.6"/>
<text x="397.70" y="614.50" font-size="8.4" fill="#231f20">0</text>
<text x="406.50" y="564.80" font-size="8.8" text-anchor="middle" fill="#231f20" textLength="65.80" lengthAdjust="spacingAndGlyphs" transform="rotate(90 406.50 564.80)">Gene expression</text>
<text x="290.40" y="564.80" font-size="8.8" text-anchor="middle" fill="#231f20" textLength="28.50" lengthAdjust="spacingAndGlyphs" transform="rotate(-90 290.40 564.80)">UMAP2</text>
<text x="344.90" y="621.70" font-size="8.8" text-anchor="middle" fill="#231f20" textLength="27.00" lengthAdjust="spacingAndGlyphs">UMAP1</text>
<text x="333.40" y="513.80" font-size="8.8" fill="#231f20" font-style="italic" textLength="22.30" lengthAdjust="spacingAndGlyphs">NKG7</text>
<circle cx="298.40" cy="521.20" r="0.80" fill="#7b4fa0"/>
<polygon points="298.8,561.6 300.3,559.9 302.4,560.5 303.7,563.7 306.2,566.9 309.4,567.6 311.6,568.4 314.3,568.0 316.4,568.4 316.4,569.7 313.7,570.1 311.6,571.8 309.4,573.3 306.2,573.9 303.7,573.3 302.4,571.2 302.4,568.0 300.9,564.8 299.0,563.3" fill="#3e4989"/>
<path d="M304.5 565.9h0M306.8 573.1h0M307.6 570.9h0M313.6 569.8h0M310.5 571.9h0M307.7 570.3h0M306.6 569.4h0M303.9 564.9h0M305.2 570.1h0M307.7 573.4h0M304.5 567.3h0M311.8 569.1h0M307.1 573.1h0M307.3 569.8h0M300.3 564.1h0M314.5 569.4h0M304.5 566.8h0M303.6 565.9h0M303.2 564.6h0M302.4 560.6h0M307.0 569.4h0M309.2 571.3h0M306.4 569.2h0M314.8 569.6h0M304.3 566.3h0M305.2 568.1h0M303.7 565.3h0M300.7 563.2h0M308.7 572.0h0M306.9 573.4h0M299.9 562.4h0M310.2 570.1h0M308.9 570.1h0M302.6 571.1h0M302.0 563.0h0M302.6 568.3h0M313.2 569.1h0M303.7 570.6h0M308.9 570.8h0M302.5 563.1h0M312.1 571.7h0M299.7 563.4h0" stroke="#31688e" stroke-width="1.24" stroke-linecap="round" fill="none"/>
<path d="M302.5 570.1h0M309.7 569.7h0M305.3 571.2h0M305.0 571.5h0M306.7 568.9h0M308.5 572.1h0M308.4 569.0h0M307.6 568.8h0M303.8 566.9h0M303.5 569.3h0M315.6 568.5h0M316.0 569.5h0M308.0 570.7h0M300.2 562.7h0M303.9 566.7h0M305.5 568.7h0M304.1 569.2h0M303.1 569.3h0M305.1 572.5h0M303.2 564.6h0M306.5 573.5h0M311.5 569.9h0M303.1 564.1h0M303.3 565.3h0M304.4 572.4h0M304.6 571.3h0M304.4 568.3h0M303.1 561.5h0M305.3 570.7h0M301.5 566.2h0M303.6 569.0h0M307.3 569.9h0M300.5 560.8h0M302.4 565.4h0M309.2 573.2h0M303.4 563.5h0M313.3 569.3h0M305.1 571.5h0M305.3 570.6h0M312.7 569.7h0M308.1 571.5h0M303.0 562.0h0M304.2 564.1h0M307.9 569.4h0M303.2 564.9h0M302.6 570.6h0M306.7 570.4h0M305.6 568.5h0M303.7 570.2h0M300.3 561.3h0M311.6 571.7h0M302.2 564.8h0M311.1 570.0h0M309.6 570.7h0M306.1 571.3h0M313.0 570.3h0M307.8 570.7h0M314.4 569.4h0M315.4 568.9h0M302.6 564.7h0M305.2 565.9h0M313.6 568.6h0M299.3 561.5h0M300.5 560.3h0M310.8 569.4h0" stroke="#3e4989" stroke-width="1.24" stroke-linecap="round" fill="none"/>
<path d="M312.7 569.8h0M310.1 568.7h0M304.1 566.3h0M306.4 569.3h0M302.7 562.4h0M302.4 566.3h0M304.6 569.7h0M309.6 569.9h0M301.6 563.6h0M306.0 573.9h0M314.1 569.8h0M303.8 564.8h0M304.5 568.9h0M301.1 565.8h0M306.4 571.7h0M313.9 569.4h0M312.0 571.3h0M304.8 567.7h0M301.1 561.3h0M305.7 566.5h0M306.1 572.3h0M310.3 570.1h0M308.3 568.2h0M303.7 573.0h0M314.5 568.8h0M303.4 571.8h0M307.9 569.0h0M305.4 567.7h0M304.9 566.2h0" stroke="#440154" stroke-width="1.24" stroke-linecap="round" fill="none"/>
<clipPath id="cp293r"><polygon points="365.0,550.6 366.1,548.2 367.8,548.2 370.0,549.9 370.3,552.8 372.8,554.2 375.6,555.6 377.8,557.7 379.9,560.6 382.7,562.0 385.6,564.1 386.3,565.5 384.9,567.0 384.2,569.8 383.5,572.6 382.0,574.8 379.9,575.5 377.1,574.0 375.3,571.9 374.2,568.4 373.9,564.8 373.5,561.3 371.7,558.4 369.6,556.7 368.6,554.2 367.1,552.4"/></clipPath><g clip-path="url(#cp293r)">
<rect x="293.90" y="517.20" width="95.80" height="36.62" fill="#c8e020"/>
<rect x="293.90" y="553.78" width="95.80" height="4.32" fill="#8fd744"/>
<rect x="293.90" y="558.05" width="95.80" height="2.90" fill="#2a8a8a"/>
<rect x="293.90" y="560.90" width="95.80" height="51.35" fill="#3a3a7c"/>
</g>
<path d="M379.4 568.5h0M380.6 563.2h0M374.3 560.9h0M378.0 572.3h0M381.8 574.1h0M381.2 565.0h0M383.3 569.0h0M377.2 564.1h0M380.1 564.9h0M373.8 567.7h0M375.8 569.5h0M375.8 561.0h0M377.5 568.4h0M381.7 568.9h0M380.5 563.7h0M374.2 563.7h0M378.3 574.3h0M378.1 561.7h0M375.2 568.5h0M378.9 564.7h0M379.3 565.8h0M386.0 565.8h0M383.8 566.2h0M377.2 564.6h0M378.3 562.2h0M376.6 566.6h0M375.9 568.6h0M382.3 568.7h0M380.4 572.9h0M376.0 571.0h0M384.1 563.5h0M381.7 575.0h0M381.9 564.3h0M379.1 565.9h0M384.6 564.1h0M384.0 568.7h0M377.3 561.4h0M380.0 565.5h0M381.0 570.5h0M378.7 562.9h0M379.6 572.2h0M382.5 565.1h0M383.6 562.8h0M379.3 573.6h0M376.6 568.8h0" stroke="#31688e" stroke-width="1.24" stroke-linecap="round" fill="none"/>
<path d="M372.4 559.6h0M375.8 559.2h0M377.9 558.4h0M379.1 560.6h0M373.4 559.8h0M373.3 560.6h0M378.2 559.9h0M373.0 559.2h0M377.4 559.6h0M375.1 558.9h0M374.5 559.9h0M378.1 559.3h0M372.3 559.3h0M375.7 560.3h0" stroke="#3e7a8e" stroke-width="1.24" stroke-linecap="round" fill="none"/>
<path d="M384.1 565.9h0M385.3 565.7h0M376.1 563.8h0M376.1 565.2h0M376.1 572.2h0M379.3 573.2h0M378.7 569.8h0M378.2 572.3h0M377.9 563.1h0M382.1 566.6h0M379.2 562.1h0M382.8 566.9h0M378.5 572.7h0M383.4 571.3h0M379.7 568.1h0M383.4 564.3h0M380.0 562.3h0M378.6 563.3h0M383.8 565.0h0M380.9 574.5h0M374.8 567.4h0M383.8 562.7h0M383.2 567.7h0M383.1 565.3h0M380.6 567.4h0M376.9 563.3h0M383.2 564.3h0M377.6 574.7h0M382.5 565.0h0M383.1 562.5h0M377.4 566.0h0M374.1 561.3h0M377.2 572.7h0M377.8 570.6h0M383.1 566.7h0M375.1 561.2h0M383.5 571.2h0M380.5 570.5h0M380.4 569.0h0M377.4 570.8h0M374.1 566.5h0M377.2 571.1h0M380.3 561.0h0M374.8 564.7h0M376.1 569.0h0M383.0 564.7h0M380.1 562.4h0M383.4 566.4h0M381.3 562.9h0M382.9 569.5h0M383.5 573.2h0M377.5 573.0h0M383.8 570.0h0M378.9 568.7h0M375.5 567.6h0M379.7 567.3h0M374.7 561.3h0M383.2 572.8h0M378.6 571.7h0M384.0 568.6h0M383.4 564.0h0M374.0 561.7h0M385.1 565.3h0M385.2 564.8h0M383.6 569.4h0M385.8 566.4h0M377.3 561.4h0" stroke="#440154" stroke-width="1.24" stroke-linecap="round" fill="none"/>
<path d="M375.3 565.5h0M382.8 564.5h0M374.9 562.1h0M377.5 563.0h0M377.1 572.2h0M374.7 568.5h0M376.2 568.1h0M378.5 564.8h0M383.3 571.3h0M378.0 571.3h0M379.8 564.3h0M374.8 565.4h0M380.5 563.2h0M378.2 569.0h0M381.3 563.6h0M373.8 561.0h0M376.8 562.7h0M375.6 569.9h0M382.0 561.9h0M383.7 563.0h0M383.0 562.3h0M379.9 563.3h0M376.6 572.7h0M379.3 563.9h0M378.2 571.7h0M376.6 568.9h0M377.6 561.9h0M379.6 563.4h0M377.0 573.2h0M384.2 568.9h0M379.7 573.3h0M383.2 568.2h0M375.6 569.0h0M379.4 562.2h0" stroke="#482878" stroke-width="1.24" stroke-linecap="round" fill="none"/>
<path d="M366.3 550.3h0M369.9 552.3h0M375.1 555.4h0M375.8 557.2h0M370.1 556.5h0M375.4 556.4h0M366.5 551.0h0M372.5 555.0h0M370.7 554.8h0M369.0 555.6h0M373.9 555.4h0" stroke="#a5db36" stroke-width="1.24" stroke-linecap="round" fill="none"/>
<path d="M374.1 561.1h0M380.7 568.5h0M375.3 563.5h0M378.8 562.2h0M383.8 563.2h0M379.1 572.8h0M380.9 570.8h0M380.2 569.1h0M379.4 567.4h0M383.1 570.4h0M383.1 568.5h0M377.6 563.9h0M376.1 565.5h0M374.6 568.8h0M378.8 561.8h0M383.4 567.4h0M378.2 566.5h0M377.5 563.1h0M378.9 574.9h0M378.2 564.5h0M380.1 561.8h0M383.3 568.5h0M378.4 565.9h0M377.6 572.9h0M374.9 563.0h0M384.8 565.1h0M379.4 571.7h0M381.0 561.2h0M378.7 566.5h0M374.8 562.9h0M380.5 565.4h0M376.0 572.1h0M374.1 566.7h0M374.2 566.3h0M379.0 568.9h0M382.2 564.0h0M379.4 572.0h0M381.2 564.6h0M376.7 564.9h0M383.3 569.1h0M376.8 569.8h0M379.3 562.2h0M385.6 565.8h0M384.8 563.9h0M384.2 565.0h0M380.6 572.0h0M376.5 561.2h0M385.9 565.7h0M378.4 567.8h0M379.0 561.9h0M383.2 567.0h0M374.7 561.2h0M381.2 568.2h0M383.9 564.5h0M381.1 574.4h0M379.4 573.5h0M373.7 562.4h0M384.8 567.1h0M378.5 560.9h0M376.6 572.1h0M376.9 563.2h0M376.7 565.6h0" stroke="#3e4989" stroke-width="1.24" stroke-linecap="round" fill="none"/>
<path d="M370.3 554.8h0M370.5 554.3h0M370.9 557.2h0M375.0 557.2h0M372.7 557.0h0M374.5 556.0h0M371.0 554.5h0M371.9 554.0h0M376.6 557.9h0M372.7 555.6h0" stroke="#8fd744" stroke-width="1.24" stroke-linecap="round" fill="none"/>
<path d="M375.6 558.3h0M369.4 554.3h0M371.1 556.8h0M375.6 559.4h0M375.6 556.8h0M373.5 555.1h0M373.7 556.3h0M377.8 557.4h0M376.1 557.4h0M373.4 554.2h0M375.5 558.3h0M376.6 560.7h0M371.0 556.3h0M369.8 556.5h0M372.5 559.8h0M376.0 558.5h0M376.0 555.8h0M371.7 555.1h0" stroke="#5ec962" stroke-width="1.24" stroke-linecap="round" fill="none"/>
<path d="M374.2 559.8h0M380.0 560.4h0M377.8 560.4h0M378.4 559.0h0M374.4 560.7h0M375.6 560.5h0M373.6 558.5h0M378.0 560.8h0" stroke="#2a9c88" stroke-width="1.24" stroke-linecap="round" fill="none"/>
<path d="M368.8 549.7h0M367.2 550.3h0M369.8 553.8h0M366.6 549.9h0M368.6 550.8h0M369.1 550.1h0M368.4 548.8h0M368.2 553.7h0" stroke="#dde318" stroke-width="1.24" stroke-linecap="round" fill="none"/>
<path d="M366.5 550.1h0M367.2 549.9h0M369.0 552.2h0M368.0 551.4h0M365.5 550.8h0M369.1 550.1h0M365.8 550.3h0M369.8 551.4h0M368.6 551.2h0M370.0 550.2h0M368.5 549.6h0M369.6 553.4h0M368.3 552.0h0M368.4 550.7h0M367.2 548.5h0M367.0 548.3h0M368.8 549.3h0M368.3 552.2h0M366.2 549.9h0M369.2 553.1h0" stroke="#c8e020" stroke-width="1.24" stroke-linecap="round" fill="none"/>
<polygon points="365.6,555.6 366.8,554.9 367.8,555.5 367.5,556.8 366.0,557.0" fill="#3e4989"/>
<path d="M366.4 555.1h0M367.4 555.4h0M366.0 556.3h0M367.5 556.2h0M367.5 556.6h0M365.9 555.8h0" stroke="#3e4989" stroke-width="1.24" stroke-linecap="round" fill="none"/>
<polygon points="352.6,605.6 353.3,603.9 355.1,603.0 357.9,603.0 359.9,603.9 360.4,605.6 359.7,607.4 357.7,608.3 355.1,608.3 353.3,607.3" fill="#440154"/>
<path d="M357.0 603.7h0M359.1 604.7h0M357.1 605.8h0M360.2 605.1h0M359.0 606.0h0M354.2 604.7h0M359.9 604.7h0M357.6 603.7h0M355.4 606.4h0M359.5 604.6h0M356.9 606.8h0M358.2 607.5h0M356.0 604.7h0M354.7 605.0h0" stroke="#31688e" stroke-width="1.24" stroke-linecap="round" fill="none"/>
<path d="M355.3 604.0h0M354.6 606.9h0M358.5 606.8h0M353.8 607.0h0M357.8 605.8h0M353.4 605.4h0M357.1 605.7h0M354.5 607.0h0M359.9 604.8h0M359.4 604.0h0M355.0 604.1h0M359.4 606.6h0M356.9 607.5h0M355.5 607.6h0M355.8 605.6h0M355.0 605.4h0M356.6 607.8h0M360.1 606.2h0M359.5 606.1h0M356.2 604.1h0M358.7 606.6h0M354.3 605.6h0M358.2 607.5h0M359.4 604.3h0M357.2 605.0h0M355.3 607.7h0M357.4 606.4h0M358.6 604.7h0M357.1 603.4h0" stroke="#3e4989" stroke-width="1.24" stroke-linecap="round" fill="none"/>
<path d="M355.2 605.6h0M354.3 606.7h0M358.9 606.8h0M354.6 604.8h0M354.1 606.7h0M357.6 605.2h0M354.2 603.8h0M356.5 607.4h0M360.0 604.1h0M357.3 608.1h0" stroke="#440154" stroke-width="1.24" stroke-linecap="round" fill="none"/>
<rect x="430.60" y="517.20" width="95.80" height="95.00" fill="none" stroke="#8c8c8c" stroke-width="0.8"/>
<defs><linearGradient id="vg430" x1="0" y1="1" x2="0" y2="0"><stop offset="0.000" stop-color="#440154"/><stop offset="0.111" stop-color="#482878"/><stop offset="0.222" stop-color="#3e4989"/><stop offset="0.333" stop-color="#31688e"/><stop offset="0.444" stop-color="#26828e"/><stop offset="0.556" stop-color="#1f9e89"/><stop offset="0.667" stop-color="#35b779"/><stop offset="0.778" stop-color="#6ece58"/><stop offset="0.889" stop-color="#b5de2b"/><stop offset="1.000" stop-color="#fde725"/></linearGradient></defs>
<rect x="526.90" y="517.20" width="3.60" height="95.00" fill="url(#vg430)"/>
<line x1="530.50" y1="523.80" x2="532.00" y2="523.80" stroke="#444" stroke-width="0.6"/>
<text x="534.40" y="526.80" font-size="8.4" fill="#231f20">4</text>
<line x1="530.50" y1="568.00" x2="532.00" y2="568.00" stroke="#444" stroke-width="0.6"/>
<text x="534.40" y="571.00" font-size="8.4" fill="#231f20">2</text>
<line x1="530.50" y1="611.50" x2="532.00" y2="611.50" stroke="#444" stroke-width="0.6"/>
<text x="534.40" y="614.50" font-size="8.4" fill="#231f20">0</text>
<line x1="530.50" y1="546.00" x2="531.80" y2="546.00" stroke="#444" stroke-width="0.5"/>
<line x1="530.50" y1="589.80" x2="531.80" y2="589.80" stroke="#444" stroke-width="0.5"/>
<text x="543.20" y="564.80" font-size="8.8" text-anchor="middle" fill="#231f20" textLength="65.80" lengthAdjust="spacingAndGlyphs" transform="rotate(90 543.20 564.80)">Gene expression</text>
<text x="427.10" y="564.80" font-size="8.8" text-anchor="middle" fill="#231f20" textLength="28.50" lengthAdjust="spacingAndGlyphs" transform="rotate(-90 427.10 564.80)">UMAP2</text>
<text x="481.60" y="621.70" font-size="8.8" text-anchor="middle" fill="#231f20" textLength="27.00" lengthAdjust="spacingAndGlyphs">UMAP1</text>
<text x="467.80" y="513.80" font-size="8.8" fill="#231f20" font-style="italic" textLength="26.80" lengthAdjust="spacingAndGlyphs">MS4A1</text>
<circle cx="435.10" cy="521.20" r="0.80" fill="#7b4fa0"/>
<polygon points="435.5,561.6 437.0,559.9 439.1,560.5 440.4,563.7 442.9,566.9 446.1,567.6 448.3,568.4 451.0,568.0 453.1,568.4 453.1,569.7 450.4,570.1 448.3,571.8 446.1,573.3 442.9,573.9 440.4,573.3 439.1,571.2 439.1,568.0 437.6,564.8 435.7,563.3" fill="#440154"/>
<path d="M439.4 565.6h0M445.1 569.2h0M439.7 564.6h0M439.1 567.5h0M439.7 568.7h0M444.3 566.8h0M444.6 572.8h0M441.7 566.0h0M446.3 568.1h0M439.9 565.8h0M442.0 569.3h0M451.2 569.4h0M440.8 569.4h0M441.8 566.3h0M436.3 561.5h0M446.4 570.5h0M438.6 566.5h0M442.0 569.6h0M438.5 564.1h0M437.6 562.4h0M453.6 568.5h0M441.7 569.8h0M439.5 568.4h0M442.8 569.7h0M441.1 565.7h0M445.6 570.7h0M438.3 560.5h0M443.6 568.3h0M449.5 569.7h0M446.9 570.3h0M445.4 568.4h0M440.8 568.4h0M443.7 567.3h0M443.2 570.9h0M444.9 572.7h0M444.3 567.7h0M439.0 567.2h0M439.8 570.5h0M440.4 563.6h0M446.7 567.7h0M441.7 571.9h0M438.5 561.1h0M439.2 563.2h0M439.5 569.3h0M437.1 562.9h0M439.3 568.0h0M442.6 568.6h0M444.8 567.2h0M439.1 561.1h0M441.0 573.1h0M441.0 569.9h0M447.0 571.0h0M439.4 563.5h0M441.3 571.3h0M444.7 568.8h0M440.3 566.1h0M451.7 568.8h0M448.0 569.7h0M445.4 568.9h0M452.9 568.7h0M446.4 572.4h0M436.4 561.1h0M443.4 572.1h0M443.5 571.2h0M440.9 567.5h0M438.6 561.1h0M446.5 572.1h0M442.3 569.2h0M440.6 565.8h0M441.5 572.7h0M446.0 572.4h0M439.7 568.3h0M445.6 573.0h0M437.7 560.4h0M438.5 560.3h0" stroke="#440154" stroke-width="1.24" stroke-linecap="round" fill="none"/>
<path d="M445.0 572.6h0M439.5 566.4h0M442.8 568.2h0M440.5 572.6h0M448.3 569.7h0M442.1 568.7h0M445.5 567.3h0M442.1 571.4h0M442.4 571.9h0M446.5 571.3h0M439.4 564.6h0M441.9 572.7h0M442.6 568.6h0M439.0 569.1h0M440.2 566.6h0M437.6 563.8h0M437.9 565.4h0M438.3 560.3h0M436.8 561.4h0M439.3 569.5h0M437.1 562.7h0M436.5 563.7h0M440.5 569.1h0M442.4 569.4h0M436.9 560.7h0M441.7 571.9h0M436.2 561.5h0" stroke="#482878" stroke-width="1.24" stroke-linecap="round" fill="none"/>
<path d="M439.1 571.1h0M444.9 572.5h0M440.6 567.3h0M442.2 567.1h0M439.0 566.8h0M443.2 572.1h0M442.7 568.5h0M449.0 568.7h0M442.0 567.9h0M447.5 570.5h0M446.6 569.7h0M450.5 568.4h0M437.6 563.6h0M452.5 568.4h0M437.2 560.0h0M437.1 563.7h0M447.3 569.6h0M451.2 569.5h0M448.8 570.0h0M440.6 564.7h0M443.0 573.3h0M438.9 564.8h0M439.9 564.3h0M443.0 569.5h0M439.4 566.9h0M438.2 566.7h0M440.4 565.0h0M442.6 569.8h0M441.1 572.2h0M444.2 570.0h0M443.7 572.3h0M450.1 569.9h0M438.5 560.8h0M440.8 565.9h0" stroke="#3e4989" stroke-width="1.24" stroke-linecap="round" fill="none"/>
<clipPath id="cp430r"><polygon points="501.7,550.6 502.8,548.2 504.5,548.2 506.7,549.9 507.0,552.8 509.5,554.2 512.3,555.6 514.5,557.7 516.6,560.6 519.4,562.0 522.3,564.1 523.0,565.5 521.6,567.0 520.9,569.8 520.2,572.6 518.7,574.8 516.6,575.5 513.8,574.0 512.0,571.9 510.9,568.4 510.6,564.8 510.2,561.3 508.4,558.4 506.3,556.7 505.3,554.2 503.8,552.4"/></clipPath><g clip-path="url(#cp430r)">
<rect x="430.60" y="517.20" width="95.80" height="95.05" fill="#3a2f72"/>
</g>
<path d="M521.4 563.8h0M510.6 561.7h0M515.5 561.5h0M515.6 571.0h0M508.9 555.7h0M517.2 572.7h0M513.9 563.9h0M520.4 572.5h0M504.1 549.5h0M509.8 557.9h0M519.4 571.8h0M511.9 570.1h0M515.1 571.4h0M518.0 563.1h0M509.1 558.5h0M513.4 573.1h0M508.5 555.7h0M504.6 552.1h0M514.9 559.4h0M516.9 567.9h0M510.7 564.5h0M515.8 571.0h0M521.3 569.3h0M518.0 571.5h0M519.4 572.9h0M514.8 563.4h0M511.8 557.4h0M511.5 561.9h0M516.7 565.5h0M515.5 565.5h0M517.1 563.0h0M509.4 558.2h0M518.7 567.2h0M518.5 561.7h0M517.7 565.8h0M515.4 560.7h0M515.3 567.6h0M508.7 557.5h0M515.8 563.4h0M519.7 567.7h0M519.4 562.9h0M514.7 570.9h0M509.5 558.9h0M517.2 574.3h0M514.3 568.2h0M506.2 556.4h0M508.3 557.5h0M520.8 569.5h0M515.2 572.3h0M511.9 562.8h0M519.7 570.5h0M504.8 550.0h0M513.0 572.1h0M513.5 562.9h0M510.6 555.7h0M522.5 566.2h0M517.9 562.6h0M515.7 573.5h0M517.7 564.3h0M513.2 569.4h0M514.7 560.6h0M514.0 565.9h0M521.2 565.5h0M520.7 569.2h0M520.3 566.1h0M509.7 554.8h0M515.7 559.1h0M517.0 568.1h0M502.7 550.6h0M514.0 572.9h0M519.6 566.2h0M512.9 564.3h0M505.5 552.8h0M511.2 568.7h0M513.2 564.9h0M514.7 568.0h0M517.6 562.8h0M512.4 569.8h0M512.2 564.0h0M517.3 565.5h0M518.7 566.9h0M522.3 566.2h0M510.8 559.6h0M514.7 564.0h0M511.5 562.3h0M513.5 572.3h0M517.8 564.3h0M508.3 554.7h0M506.4 551.4h0M504.8 549.5h0M518.8 563.6h0M520.2 565.8h0M512.2 569.5h0M511.5 568.6h0M513.0 558.3h0M521.3 564.2h0M516.1 561.7h0M518.3 569.8h0M516.4 566.9h0M514.8 569.2h0M515.4 568.0h0M519.4 573.5h0M512.0 563.5h0M509.6 559.8h0M502.5 549.9h0M514.3 573.6h0M514.7 565.6h0M513.3 568.1h0M514.9 560.7h0M513.9 565.8h0M516.5 573.7h0M507.4 554.6h0M518.3 565.9h0M505.1 552.5h0M507.7 557.5h0M514.8 572.7h0M517.3 561.4h0M507.2 553.6h0M516.0 573.7h0M512.4 558.8h0M512.7 558.1h0M516.5 572.8h0M502.3 550.0h0M517.3 565.2h0M511.2 563.4h0M503.2 550.0h0M513.3 573.4h0M519.0 562.1h0M520.2 564.5h0M516.8 575.7h0M513.2 564.0h0M518.0 564.2h0M516.9 562.8h0M520.3 568.0h0M514.5 572.1h0M514.8 573.0h0M513.2 559.6h0M517.1 568.7h0M511.7 566.2h0M515.2 566.6h0M511.1 559.3h0M513.2 562.6h0M507.8 555.0h0M512.0 558.8h0" stroke="#440154" stroke-width="1.24" stroke-linecap="round" fill="none"/>
<path d="M512.9 558.9h0M509.2 559.1h0M516.9 567.4h0M515.9 573.8h0M511.7 558.0h0M505.4 551.8h0M502.6 549.4h0M519.0 568.2h0M507.8 557.8h0M502.7 549.9h0M516.5 566.3h0M514.2 571.3h0M514.6 566.9h0M520.5 568.6h0M519.0 563.5h0M512.7 557.2h0M509.3 557.0h0M517.2 566.3h0M512.5 559.6h0M511.1 556.2h0M517.5 564.7h0M518.4 565.8h0M517.1 564.1h0M510.2 558.7h0M509.7 559.7h0M512.0 557.4h0M515.3 560.0h0M511.1 559.3h0M506.6 555.5h0M510.9 562.6h0M506.2 554.3h0M519.8 566.0h0M517.5 567.6h0M518.2 571.4h0M516.0 572.4h0M512.4 571.4h0M518.5 570.6h0M517.7 563.6h0M516.3 560.5h0M511.7 558.6h0M514.7 564.2h0M511.8 565.2h0M516.7 565.8h0M514.9 574.8h0M510.6 563.0h0M506.9 553.5h0M511.6 569.1h0M519.6 569.0h0M514.9 567.4h0M518.4 568.2h0M519.8 570.8h0M510.8 562.8h0M519.1 566.8h0M520.1 563.5h0M506.2 554.4h0M516.6 564.4h0" stroke="#482878" stroke-width="1.24" stroke-linecap="round" fill="none"/>
<path d="M514.8 571.2h0M513.7 564.5h0M516.3 568.5h0M505.5 549.0h0M508.5 557.3h0M515.2 569.5h0M510.9 558.8h0M515.2 566.7h0M507.8 556.4h0M512.8 555.8h0M512.3 568.8h0M516.2 568.2h0M513.4 557.7h0M522.5 564.3h0M505.7 551.2h0M510.3 557.3h0M519.6 568.9h0M515.4 560.4h0M513.2 565.8h0M513.3 572.6h0M508.3 555.7h0M519.5 563.8h0M511.7 570.9h0M519.7 564.0h0M522.0 564.7h0M514.0 567.0h0M519.5 571.8h0M510.1 558.7h0M512.4 570.4h0M519.9 567.9h0M517.5 564.6h0M519.0 573.3h0M512.2 571.0h0M512.6 560.4h0M511.5 560.7h0M510.3 558.2h0M508.9 554.6h0M511.8 560.7h0M513.7 565.0h0M509.9 555.4h0M519.2 562.1h0M512.5 556.5h0M510.7 562.3h0M517.4 575.2h0M514.6 560.4h0M518.4 566.0h0M519.9 570.1h0M516.0 560.5h0M519.1 572.2h0M521.3 568.3h0M513.8 569.6h0M518.0 571.3h0M517.6 568.4h0M508.2 554.4h0M506.0 549.5h0M519.9 569.2h0M517.3 566.6h0M516.6 563.0h0M517.9 563.3h0M510.2 559.9h0M515.1 568.8h0M512.8 564.9h0M520.6 563.2h0M502.8 550.6h0M511.8 568.9h0M514.4 556.9h0" stroke="#3e4989" stroke-width="1.24" stroke-linecap="round" fill="none"/>
<path d="M517.8 563.7h0M515.7 569.1h0M514.7 561.7h0M510.6 555.7h0M517.6 566.0h0M520.7 565.0h0M516.0 564.4h0M514.9 574.2h0M516.5 570.1h0M516.1 560.7h0M518.6 566.3h0M514.2 573.6h0M515.0 559.1h0M514.6 567.1h0M514.7 567.6h0M511.0 555.5h0M514.8 569.2h0M519.3 563.8h0M514.6 563.7h0M510.3 554.9h0M511.1 562.1h0M506.2 553.5h0M519.8 572.5h0M512.4 569.1h0M506.1 551.7h0M513.2 572.3h0M508.6 558.4h0M510.2 557.7h0M515.0 563.4h0M508.7 557.8h0M515.5 573.5h0" stroke="#31688e" stroke-width="1.24" stroke-linecap="round" fill="none"/>
<polygon points="502.3,555.6 503.5,554.9 504.5,555.5 504.2,556.8 502.7,557.0" fill="#3e4989"/>
<path d="M503.4 556.2h0M503.6 556.7h0M503.4 556.0h0M503.2 556.1h0M503.2 556.1h0M502.4 555.5h0" stroke="#3e4989" stroke-width="1.24" stroke-linecap="round" fill="none"/>
<polygon points="489.3,605.6 490.0,603.9 491.8,603.0 494.6,603.0 496.6,603.9 497.1,605.6 496.4,607.4 494.4,608.3 491.8,608.3 490.0,607.3" fill="#a5db36"/>
<path d="M495.3 604.6h0M492.8 605.5h0M490.0 606.2h0M495.7 605.5h0M495.7 604.2h0M491.3 605.2h0M494.6 604.8h0M491.4 606.7h0M494.2 603.0h0M495.2 605.9h0M491.6 605.2h0M492.0 603.9h0M494.2 607.2h0M493.8 605.0h0M490.0 606.6h0M495.7 605.5h0M496.4 605.8h0M494.1 607.4h0M492.7 605.8h0M495.2 606.3h0" stroke="#6ece58" stroke-width="1.24" stroke-linecap="round" fill="none"/>
<path d="M493.5 605.1h0M494.8 606.2h0M492.7 605.0h0M495.6 603.4h0M492.0 604.9h0M496.3 604.6h0M495.9 605.2h0M495.1 605.0h0M493.6 604.6h0M491.9 605.0h0M494.2 606.4h0M494.3 604.2h0M496.8 604.2h0M490.8 604.3h0M495.9 604.7h0M493.2 606.3h0M492.4 606.9h0M495.2 608.2h0M490.5 604.6h0M493.3 607.2h0M491.3 603.2h0" stroke="#a5db36" stroke-width="1.24" stroke-linecap="round" fill="none"/>
<path d="M492.0 603.0h0M491.1 607.6h0M495.9 606.5h0M490.6 604.9h0M490.3 604.9h0M492.0 605.1h0M495.4 605.6h0M493.8 603.5h0M491.8 607.9h0M494.0 607.3h0M493.7 606.4h0M494.9 607.8h0" stroke="#c2df23" stroke-width="1.24" stroke-linecap="round" fill="none"/>
<rect x="566.60" y="517.20" width="95.80" height="95.00" fill="none" stroke="#8c8c8c" stroke-width="0.8"/>
<defs><linearGradient id="vg566" x1="0" y1="1" x2="0" y2="0"><stop offset="0.000" stop-color="#440154"/><stop offset="0.111" stop-color="#482878"/><stop offset="0.222" stop-color="#3e4989"/><stop offset="0.333" stop-color="#31688e"/><stop offset="0.444" stop-color="#26828e"/><stop offset="0.556" stop-color="#1f9e89"/><stop offset="0.667" stop-color="#35b779"/><stop offset="0.778" stop-color="#6ece58"/><stop offset="0.889" stop-color="#b5de2b"/><stop offset="1.000" stop-color="#fde725"/></linearGradient></defs>
<rect x="662.90" y="517.20" width="3.60" height="95.00" fill="url(#vg566)"/>
<line x1="666.50" y1="548.40" x2="668.00" y2="548.40" stroke="#444" stroke-width="0.6"/>
<text x="670.40" y="551.40" font-size="8.4" fill="#231f20">4</text>
<line x1="666.50" y1="580.30" x2="668.00" y2="580.30" stroke="#444" stroke-width="0.6"/>
<text x="670.40" y="583.30" font-size="8.4" fill="#231f20">2</text>
<line x1="666.50" y1="611.50" x2="668.00" y2="611.50" stroke="#444" stroke-width="0.6"/>
<text x="670.40" y="614.50" font-size="8.4" fill="#231f20">0</text>
<text x="679.20" y="564.80" font-size="8.8" text-anchor="middle" fill="#231f20" textLength="65.80" lengthAdjust="spacingAndGlyphs" transform="rotate(90 679.20 564.80)">Gene expression</text>
<text x="563.10" y="564.80" font-size="8.8" text-anchor="middle" fill="#231f20" textLength="28.50" lengthAdjust="spacingAndGlyphs" transform="rotate(-90 563.10 564.80)">UMAP2</text>
<text x="617.60" y="621.70" font-size="8.8" text-anchor="middle" fill="#231f20" textLength="27.00" lengthAdjust="spacingAndGlyphs">UMAP1</text>
<text x="602.00" y="513.80" font-size="8.8" fill="#231f20" font-style="italic" textLength="29.30" lengthAdjust="spacingAndGlyphs">GAPDH</text>
<circle cx="571.10" cy="521.20" r="0.80" fill="#8fd744"/>
<polygon points="571.5,561.6 573.0,559.9 575.1,560.5 576.4,563.7 578.9,566.9 582.1,567.6 584.3,568.4 587.0,568.0 589.1,568.4 589.1,569.7 586.4,570.1 584.3,571.8 582.1,573.3 578.9,573.9 576.4,573.3 575.1,571.2 575.1,568.0 573.6,564.8 571.7,563.3" fill="#6ece58"/>
<path d="M583.6 571.0h0M586.6 569.2h0M576.8 572.4h0M581.8 568.0h0M583.4 571.4h0M579.6 569.2h0M577.0 568.6h0M580.4 569.9h0M576.0 564.1h0M578.3 569.8h0M578.8 571.0h0M579.0 571.5h0M578.8 572.0h0M583.7 570.0h0M579.5 572.0h0M578.9 570.4h0M574.2 560.7h0M576.9 568.6h0M587.6 569.3h0M575.8 567.1h0M578.8 573.1h0M575.4 562.7h0M574.5 563.0h0M579.8 571.8h0M578.5 569.5h0M575.1 565.5h0M585.6 569.9h0M577.2 571.8h0M580.5 571.0h0M579.2 571.9h0M576.1 572.0h0M580.9 573.1h0M581.4 569.4h0" stroke="#35b779" stroke-width="1.24" stroke-linecap="round" fill="none"/>
<path d="M581.6 567.7h0M576.8 570.8h0M580.9 572.7h0M576.2 571.3h0M575.5 562.9h0M576.4 571.1h0M586.9 570.1h0M587.5 568.5h0M574.3 566.2h0M580.8 569.7h0M576.4 564.0h0M572.4 561.5h0M586.1 570.2h0M576.6 568.6h0M582.3 568.8h0M583.9 568.6h0M583.4 570.0h0M575.6 564.1h0M572.2 563.6h0M582.7 569.6h0M578.3 571.4h0M583.9 568.9h0M578.1 572.9h0M576.8 572.3h0M575.1 565.6h0M579.4 570.1h0M583.4 569.1h0M574.7 565.4h0M575.7 565.0h0M576.0 567.6h0M581.1 569.6h0M581.7 572.5h0M580.0 568.7h0M577.0 572.4h0M573.8 561.7h0M572.3 562.1h0M581.3 570.4h0M587.6 568.4h0M584.0 569.6h0M574.0 562.5h0M583.1 572.6h0M581.4 568.6h0M582.2 570.0h0M586.0 570.0h0M580.7 568.8h0M577.0 573.1h0M582.7 567.7h0M581.9 573.5h0M587.2 568.5h0M579.6 568.0h0M575.3 567.2h0M571.3 561.9h0M581.6 571.0h0M584.0 572.2h0M575.3 567.7h0M576.8 570.4h0M572.1 561.2h0M582.1 570.9h0M584.1 569.2h0M576.3 568.2h0M578.9 567.5h0M576.3 565.5h0M578.3 571.9h0M587.9 569.0h0M577.1 568.5h0M581.7 572.2h0M574.5 565.3h0M580.4 567.1h0M579.9 572.5h0M585.5 570.0h0" stroke="#6ece58" stroke-width="1.24" stroke-linecap="round" fill="none"/>
<path d="M583.9 569.5h0M572.5 563.1h0M583.2 571.8h0M581.3 572.5h0M582.3 568.0h0M575.7 561.4h0M576.5 572.4h0M580.8 568.0h0M581.6 573.2h0M574.6 562.3h0M582.8 570.0h0M581.1 571.5h0M574.7 563.1h0M576.2 566.1h0M579.7 569.9h0M583.8 569.5h0M582.7 570.8h0M579.2 571.0h0M574.4 562.2h0M576.1 565.7h0M577.6 570.5h0M583.6 571.1h0M578.8 570.9h0M578.9 573.6h0M577.0 569.9h0M576.9 573.2h0M586.4 569.5h0M575.6 565.0h0M576.7 568.4h0M577.4 566.5h0M575.8 564.8h0M586.1 570.7h0M586.7 568.1h0" stroke="#8fd744" stroke-width="1.24" stroke-linecap="round" fill="none"/>
<clipPath id="cp566r"><polygon points="637.7,550.6 638.8,548.2 640.5,548.2 642.7,549.9 643.0,552.8 645.5,554.2 648.3,555.6 650.5,557.7 652.6,560.6 655.4,562.0 658.3,564.1 659.0,565.5 657.6,567.0 656.9,569.8 656.2,572.6 654.7,574.8 652.6,575.5 649.8,574.0 648.0,571.9 646.9,568.4 646.6,564.8 646.2,561.3 644.4,558.4 642.3,556.7 641.3,554.2 639.8,552.4"/></clipPath><g clip-path="url(#cp566r)">
<rect x="566.60" y="517.20" width="95.80" height="42.80" fill="#3a9a82"/>
<rect x="566.60" y="559.95" width="95.80" height="52.30" fill="#36808a"/>
</g>
<path d="M642.2 555.8h0M648.3 556.1h0M647.3 556.8h0M644.9 558.0h0M643.7 555.3h0M648.2 557.3h0M648.3 555.7h0M640.0 552.7h0M645.2 559.8h0M638.5 548.5h0M642.6 554.1h0M645.4 559.0h0M645.0 555.1h0M640.9 550.6h0M641.0 549.8h0M650.1 557.7h0M639.8 548.9h0M649.5 558.2h0M647.2 557.6h0M647.8 556.7h0M646.1 559.7h0M648.1 559.2h0M644.0 555.4h0M639.0 548.7h0M646.4 557.0h0M648.5 557.8h0M641.1 548.7h0M641.8 550.9h0M644.6 557.5h0M645.8 558.8h0M651.4 559.6h0M651.3 559.9h0M644.9 557.5h0M647.3 555.8h0M640.4 550.1h0M640.7 549.1h0M639.3 549.0h0M643.4 555.8h0M650.9 558.0h0M644.3 557.5h0M651.3 558.7h0M645.2 554.7h0M647.0 556.3h0M647.5 559.4h0M648.0 558.2h0M642.0 550.3h0M645.3 557.6h0M647.5 555.4h0M648.8 556.4h0M644.8 557.8h0" stroke="#3a9a80" stroke-width="1.24" stroke-linecap="round" fill="none"/>
<path d="M643.1 551.6h0M646.5 555.9h0M650.5 563.4h0M650.9 574.4h0M642.4 550.2h0M651.4 563.9h0M650.8 559.9h0M649.5 563.2h0M644.6 555.4h0M651.7 570.3h0M649.3 570.2h0M644.7 554.8h0M653.2 570.7h0M649.7 558.7h0M646.2 555.8h0M650.6 560.5h0M649.4 569.5h0M642.6 556.4h0M647.9 558.7h0M655.0 565.7h0M645.4 557.4h0M646.0 555.7h0M648.5 558.7h0M640.8 551.6h0M639.8 549.1h0M648.2 562.2h0M650.7 558.3h0M655.8 564.8h0M648.7 564.8h0M642.3 549.8h0M639.5 549.4h0M650.1 573.1h0M643.9 554.2h0M649.1 557.9h0M650.3 566.1h0M645.0 556.8h0M640.1 552.1h0M640.8 552.1h0M647.0 555.2h0M644.8 558.5h0M643.8 556.3h0M654.0 562.2h0M647.2 557.7h0M643.4 557.2h0M650.2 572.6h0M642.4 552.1h0M644.6 558.7h0M653.8 574.3h0M648.7 559.4h0M638.7 549.6h0M641.6 551.2h0M652.8 561.3h0M656.2 572.2h0M647.6 566.2h0" stroke="#5ec962" stroke-width="1.24" stroke-linecap="round" fill="none"/>
<path d="M649.7 566.7h0M649.9 567.5h0M655.7 562.7h0M650.5 573.0h0M647.7 567.8h0M651.4 562.9h0M657.2 567.9h0M647.7 568.0h0M657.1 569.3h0M651.3 570.3h0M649.3 572.2h0M655.6 563.5h0M648.1 567.3h0M655.1 569.8h0M646.6 563.2h0M651.7 561.1h0M648.4 571.3h0M648.5 556.8h0M651.1 569.2h0M639.5 549.2h0M652.4 572.1h0M651.0 573.2h0M644.9 558.3h0M640.2 548.4h0M648.8 567.4h0M653.3 567.0h0M655.2 563.7h0M649.2 561.0h0M650.5 558.3h0M653.6 574.0h0M654.3 574.0h0M651.5 568.7h0M638.7 551.3h0M647.0 556.2h0M652.3 565.3h0M653.4 561.7h0M654.4 571.5h0M657.0 565.7h0M655.9 566.3h0M649.4 567.2h0M655.0 563.4h0M649.5 570.0h0M651.1 571.6h0M650.0 567.1h0M647.0 566.6h0M655.5 574.0h0M649.9 570.6h0M648.7 564.5h0M645.8 554.9h0M647.8 564.5h0M656.9 565.5h0M650.6 563.7h0M653.7 562.7h0M644.6 555.7h0M638.9 550.9h0M648.5 565.3h0M639.5 549.3h0M645.0 557.7h0M655.9 570.7h0M655.2 573.0h0M654.3 573.0h0M646.8 564.8h0M646.0 557.9h0M641.1 550.3h0M654.2 567.4h0" stroke="#2c728e" stroke-width="1.24" stroke-linecap="round" fill="none"/>
<path d="M651.7 566.7h0M651.9 560.3h0M655.2 569.4h0M653.6 569.6h0M656.7 565.2h0M648.0 564.5h0M651.9 575.3h0M646.8 561.9h0M650.7 565.8h0M655.1 565.1h0M648.5 564.0h0M650.9 566.1h0M655.8 566.5h0M651.3 562.7h0M649.9 570.3h0M653.5 574.4h0M655.7 568.9h0M647.3 568.7h0M648.7 567.9h0M655.4 565.0h0M650.4 567.7h0M652.0 560.8h0M653.1 573.2h0M651.8 561.5h0M650.9 570.3h0M650.6 564.3h0M652.4 570.7h0M652.8 567.0h0M655.3 570.7h0M650.2 570.5h0M656.0 571.9h0M656.2 568.1h0M649.5 566.3h0M651.9 572.1h0M648.0 567.6h0M651.7 570.4h0M650.2 560.3h0M652.3 564.7h0M656.0 565.5h0M652.6 570.6h0M655.9 572.7h0M653.6 563.2h0M650.7 560.4h0M656.1 565.0h0M654.2 561.6h0M656.9 564.0h0M656.8 567.5h0M647.4 560.6h0M652.8 574.6h0M655.1 570.4h0M647.3 560.0h0M656.5 567.4h0M656.7 571.9h0M656.3 570.3h0M650.7 561.2h0M655.8 566.1h0M653.6 563.8h0M651.6 563.1h0M650.0 571.9h0M657.2 568.4h0M647.0 565.4h0M651.3 571.7h0M649.5 569.0h0M647.2 565.2h0M649.4 565.8h0M648.0 562.1h0M654.9 564.7h0M653.7 571.1h0M652.9 569.6h0M647.7 562.7h0M647.3 561.3h0M654.0 574.9h0M653.9 572.0h0M648.0 563.2h0M651.9 564.7h0M658.1 565.5h0M656.6 571.4h0M656.8 568.2h0" stroke="#3a8a8a" stroke-width="1.24" stroke-linecap="round" fill="none"/>
<path d="M653.5 564.2h0M650.8 567.3h0M655.2 563.3h0M654.8 574.8h0M651.8 568.5h0M652.1 569.7h0M650.2 571.1h0M656.6 570.4h0M653.5 563.7h0M655.9 570.2h0M648.4 569.5h0M653.4 567.4h0M653.9 574.8h0M647.8 566.4h0M656.4 569.6h0M655.8 565.4h0M656.4 570.5h0M654.7 567.7h0M648.9 566.0h0M655.0 563.5h0M646.8 560.0h0M656.3 565.9h0M653.9 566.4h0M653.7 569.2h0M653.0 569.4h0M649.2 560.5h0M650.6 561.9h0M652.1 565.7h0M651.5 560.3h0M654.9 572.4h0M652.9 573.6h0" stroke="#1f9e89" stroke-width="1.24" stroke-linecap="round" fill="none"/>
<path d="M648.4 570.3h0M647.1 569.4h0M652.9 564.2h0M647.4 560.6h0M650.3 563.2h0M653.6 562.1h0M656.8 564.8h0M652.6 573.7h0M653.3 561.1h0M650.2 561.3h0M655.4 573.4h0M651.5 572.6h0M656.8 567.0h0M648.9 569.2h0M652.0 569.7h0M650.7 572.0h0M652.8 562.6h0M649.2 566.2h0M652.8 566.0h0" stroke="#3b528b" stroke-width="1.24" stroke-linecap="round" fill="none"/>
<polygon points="638.3,555.6 639.5,554.9 640.5,555.5 640.2,556.8 638.7,557.0" fill="#6ece58"/>
<path d="M639.3 555.1h0M639.8 555.6h0M639.9 554.6h0M638.9 555.7h0M639.8 555.2h0M638.4 555.3h0" stroke="#6ece58" stroke-width="1.24" stroke-linecap="round" fill="none"/>
<polygon points="625.3,605.6 626.0,603.9 627.8,603.0 630.6,603.0 632.6,603.9 633.1,605.6 632.4,607.4 630.4,608.3 627.8,608.3 626.0,607.3" fill="#3b528b"/>
<path d="M629.7 605.9h0M628.5 606.7h0M625.5 605.4h0M627.0 604.5h0M626.6 604.5h0M627.8 606.5h0M626.3 605.8h0M627.4 604.6h0M631.3 606.4h0M628.1 604.4h0M627.0 606.9h0M630.8 606.3h0M626.2 606.0h0M632.6 607.0h0M631.3 606.1h0M631.0 606.7h0M632.5 606.7h0M627.5 606.6h0M632.0 606.2h0" stroke="#31688e" stroke-width="1.24" stroke-linecap="round" fill="none"/>
<path d="M631.3 605.6h0M626.0 607.3h0M627.8 606.3h0M629.0 603.0h0M628.9 606.5h0M632.2 604.9h0M628.7 605.1h0M627.7 604.2h0M626.1 605.8h0" stroke="#6ece58" stroke-width="1.24" stroke-linecap="round" fill="none"/>
<path d="M629.1 605.2h0M630.4 607.3h0M626.2 603.6h0M629.7 603.3h0M631.5 606.7h0M630.8 604.8h0M625.6 606.0h0M632.7 605.1h0M629.6 603.1h0M632.3 607.0h0M626.8 605.4h0M630.4 603.1h0M626.4 606.1h0M626.4 604.5h0M627.3 605.4h0M632.1 607.4h0M632.8 606.0h0M628.7 607.7h0M627.6 607.7h0M630.0 605.4h0M631.5 605.5h0M627.8 603.3h0M626.3 604.9h0M629.7 605.2h0M631.2 604.9h0" stroke="#3b528b" stroke-width="1.24" stroke-linecap="round" fill="none"/>
</svg></body></html>
